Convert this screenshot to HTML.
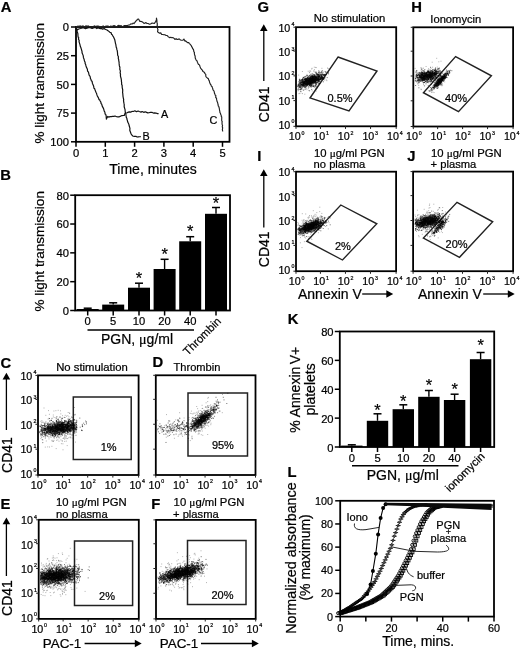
<!DOCTYPE html>
<html lang="en">
<head>
<meta charset="utf-8">
<title>Figure: PGN-induced platelet aggregation, activation and procoagulant activity</title>
<style>
html,body{margin:0;padding:0;background:#fff;}
body{width:520px;height:650px;overflow:hidden;}
svg{display:block;}
svg text{font-family:"Liberation Sans", sans-serif;fill:#000;stroke:#000;stroke-width:0.22px;}
</style>
</head>
<body>
<svg width="520" height="650" viewBox="0 0 520 650">
<defs><filter id="soft" x="0" y="0" width="100%" height="100%" filterUnits="userSpaceOnUse" color-interpolation-filters="sRGB"><feGaussianBlur stdDeviation="0.35"/></filter><filter id="dotblur" x="0" y="0" width="100%" height="100%" filterUnits="userSpaceOnUse" color-interpolation-filters="sRGB"><feGaussianBlur stdDeviation="0.45"/></filter></defs>
<rect width="520" height="650" fill="#fff"/>
<g filter="url(#soft)">
<text x="0.8" y="12" font-size="14.8" font-weight="bold">A</text>
<rect x="76" y="27" width="153.5" height="114.8" fill="none" stroke="#000" stroke-width="1.8"/>
<line x1="71" y1="27" x2="76" y2="27" stroke="#000" stroke-width="1.5"/>
<text x="69" y="31.3" font-size="11.2" text-anchor="end">0</text>
<line x1="71" y1="55.7" x2="76" y2="55.7" stroke="#000" stroke-width="1.5"/>
<text x="69" y="60" font-size="11.2" text-anchor="end">25</text>
<line x1="71" y1="84.4" x2="76" y2="84.4" stroke="#000" stroke-width="1.5"/>
<text x="69" y="88.7" font-size="11.2" text-anchor="end">50</text>
<line x1="71" y1="113.1" x2="76" y2="113.1" stroke="#000" stroke-width="1.5"/>
<text x="69" y="117.4" font-size="11.2" text-anchor="end">75</text>
<line x1="71" y1="141.8" x2="76" y2="141.8" stroke="#000" stroke-width="1.5"/>
<text x="69" y="146.1" font-size="11.2" text-anchor="end">100</text>
<line x1="76" y1="141.8" x2="76" y2="146.8" stroke="#000" stroke-width="1.5"/>
<text x="76" y="156.6" font-size="11.2" text-anchor="middle">0</text>
<line x1="105.3" y1="141.8" x2="105.3" y2="146.8" stroke="#000" stroke-width="1.5"/>
<text x="105.3" y="156.6" font-size="11.2" text-anchor="middle">1</text>
<line x1="134.6" y1="141.8" x2="134.6" y2="146.8" stroke="#000" stroke-width="1.5"/>
<text x="134.6" y="156.6" font-size="11.2" text-anchor="middle">2</text>
<line x1="163.9" y1="141.8" x2="163.9" y2="146.8" stroke="#000" stroke-width="1.5"/>
<text x="163.9" y="156.6" font-size="11.2" text-anchor="middle">3</text>
<line x1="193.2" y1="141.8" x2="193.2" y2="146.8" stroke="#000" stroke-width="1.5"/>
<text x="193.2" y="156.6" font-size="11.2" text-anchor="middle">4</text>
<line x1="222.5" y1="141.8" x2="222.5" y2="146.8" stroke="#000" stroke-width="1.5"/>
<text x="222.5" y="156.6" font-size="11.2" text-anchor="middle">5</text>
<text x="44" y="83.3" font-size="13.55" text-anchor="middle" transform="rotate(-90 44 83.3)">% light transmission</text>
<text x="153" y="173.7" font-size="14" text-anchor="middle">Time, minutes</text>
<path d="M75.82 27.42 L76.43 27.91 L76.6 29.34 L76.97 30.95 L77.01 31.23 L77.66 32.92 L77.87 33.65 L77.96 35.75 L78.1 37.26 L78.66 37.41 L78.49 39.26 L79.17 40.31 L79.06 41.61 L79.3 42.6 L79.83 44.15 L80.06 45.07 L80.39 46.57 L80.75 47.28 L81.34 49.15 L81.58 49.93 L82.08 51.97 L81.99 52.57 L82.61 54.25 L83.06 55.09 L83.36 56.56 L83.46 57.65 L84.08 59.14 L84.25 60.01 L84.38 60.77 L85.09 62.16 L85.14 63.5 L85.75 64.83 L85.94 65.73 L86.45 67.38 L86.9 68.16 L87.33 68.97 L87.56 71.02 L88.45 72.13 L88.62 72.87 L89.11 75.09 L89.69 75.8 L90.17 76.68 L90.47 78.74 L90.96 79.35 L91.27 80.66 L92.06 81.21 L92.44 83.38 L92.95 84.49 L93.37 85.42 L93.71 86.51 L93.93 88.24 L94.63 88.64 L95.09 90.12 L95.5 91.1 L96.08 92.58 L96.6 93.52 L96.8 94.39 L97.36 95.96 L98.17 97.36 L98.69 98.46 L98.98 99.58 L99.73 99.75 L99.97 100.75 L100.87 102.12 L101.11 103.65 L101.77 104.28 L102.22 106.13 L102.76 107.13 L103.56 108.65 L103.91 109.97 L104.21 111.06 L104.84 112.03 L105.13 114.08 L105.76 114.45 L106.25 116.38 L106.17 116.82 L106.43 119.06 L106.94 117.85 L107.69 116.45 L108.67 117.07 L110.14 116.62 L111.2 116.64 L112.62 116.42 L113.91 116.36 L115.04 116.01 L116.72 116.75 L117.66 116.78 L118.91 116.93 L120.62 116.17 L121.88 115.54 L123.68 115.45 L124.4 115.3 L125.03 113.11 L127.18 112.77 L128.35 112.11 L129.44 111.82 L130.61 112.11 L131.97 111.43 L133.31 111.5 L134.9 110.8 L136.42 111.65 L138.19 111.02 L139.26 111.47 L141.03 112.1 L142.12 111.5 L143.68 112.33 L145.21 111.81 L146.58 112.38 L147.79 112.9 L149.07 112.75 L150.4 112.24 L152.2 112.46 L153.44 113.08 L154.8 112.96 L155.88 113.03 L157.46 113.56 L158.6 113.6" fill="none" stroke="#111" stroke-width="1.2" stroke-linejoin="round"/>
<path d="M76.2 27.49 L76.3 27.94 L77.15 30.06 L78.67 28.99 L80.55 28.52 L82.29 27.87 L83.97 27.98 L85.43 28.63 L86.86 28.12 L87.98 27.8 L89.13 27.51 L90.65 27.82 L91.95 28.43 L93.21 28.08 L94.28 27.5 L95.52 27.64 L96.8 28.61 L98.08 27.72 L99.37 28.41 L100.5 28.55 L101.72 28.65 L102.74 29.1 L104.2 28.43 L105.45 29.5 L106.65 29.77 L108 30.67 L108.93 31.36 L109.8 32.22 L110.98 32.56 L111.53 34.2 L112.3 34.85 L112.78 35.81 L113.55 36.97 L114.21 38.41 L114.78 39.79 L115.2 41.76 L115.4 43.09 L115.87 44.7 L115.95 45.48 L116.28 47.48 L116.57 47.73 L116.89 49.65 L117.17 50.26 L117.33 51.31 L117.53 52.75 L117.58 54.61 L117.78 55.52 L118.36 56.52 L118.32 58.52 L118.67 59.64 L118.74 60.55 L119.06 62.19 L119.16 63.9 L119.27 65.05 L119.41 65.93 L119.9 67.22 L119.76 69.21 L119.99 69.78 L120.4 71.18 L120.12 72.67 L120.51 74.39 L120.43 75.22 L120.56 76.61 L121.05 78.2 L121.28 79.48 L121.43 80.69 L121.42 81.43 L121.67 82.8 L121.6 84.34 L122.12 85.39 L122.18 87.08 L122.33 88.21 L122.7 89.74 L122.69 91.2 L122.57 92.64 L122.77 93.37 L122.87 94.77 L123.04 96.58 L123.36 98.25 L123.69 99.54 L123.53 100.32 L123.69 101.87 L124 103.48 L124.19 104.27 L124.22 105.95 L124.18 106.79 L124.66 108.3 L125.1 109.86 L125.12 111.22 L125.48 112.69 L125.89 114.26 L126.08 115.76 L126.32 117.35 L126.94 118.45 L126.99 119.51 L127.34 120.31 L127.74 122.03 L128.11 122.75 L128.86 124.25 L129.21 126.06 L129.52 126.84 L129.95 128.39 L129.79 130.2 L130.22 131.44 L130.95 133.49 L131.54 134.6 L132.66 135.98 L134.22 136.35 L135.81 136.26 L137.14 137.03 L138.21 136.88 L139.46 136.73 L140.8 136.7" fill="none" stroke="#111" stroke-width="1.2" stroke-linejoin="round"/>
<path d="M75.84 27.07 L76.92 26.96 L78.08 25.95 L78.71 26.91 L79.86 25.8 L81.3 26.2 L82.2 26.24 L83.08 25.8 L84.08 26.91 L85.01 26.76 L86.1 25.79 L87.15 26.62 L87.88 25.82 L89.22 26.52 L90.13 27.17 L91.13 27.19 L91.94 26.97 L92.97 27.13 L94.23 25.84 L94.78 25.98 L96.28 26.26 L97.08 26.02 L98 26.11 L98.91 26.37 L100.05 26.81 L101.11 26.87 L102.21 27 L103.1 25.78 L104.22 27.02 L105.24 26.45 L106.13 25.95 L107.2 26.52 L107.87 25.79 L109.21 27.2 L109.75 26.95 L110.95 25.94 L111.88 26.82 L113.22 25.7 L114.07 25.66 L115.13 26.05 L116.23 26.98 L117 26.97 L117.89 25.55 L119.06 25.44 L119.82 25.96 L121.11 25.48 L121.81 26.45 L123.02 26.49 L124.41 25.52 L125.19 25.63 L126.34 25.64 L127.34 25.58 L128.8 25.01 L129.73 24.93 L130.84 23.9 L132.29 24 L133.03 23 L133.95 23.62 L134.71 22.67 L136.08 20.84 L136.71 20.52 L137.37 19.41 L138.02 19.06 L138.56 19.09 L139.91 21.49 L140.75 21.33 L142.06 21.73 L142.79 22.22 L143.65 23.14 L144.48 23.32 L145.96 22.64 L147.04 23.55 L148.09 23.48 L149.58 24.21 L150.51 24 L152.12 23 L152.99 23.3 L154.4 23.41 L155.71 21.5 L155.77 21.13 L156.46 19.73 L156.44 18.13 L156.74 19.38 L157.02 21.49 L156.77 21.79 L157.26 23.47 L157.38 24.17 L157.08 25.22 L157.58 26.32 L157.41 27.68 L157.55 28.8 L157.95 29.55 L157.5 31.86 L158.88 32.63 L159.46 33.28 L160.76 32.88 L161.65 34.51 L162.76 34.5 L163.71 34.69 L164.84 34.75 L166.1 35.48 L167.29 35.52 L168.39 36.89 L169.45 37.59 L170.84 37.32 L171.71 37.77 L172.8 37.57 L174.1 38.37 L174.95 39.46 L176.07 38.63 L176.85 39.48 L177.99 39.42 L179.14 38.81 L180.49 40.01 L181.5 40.24 L182.95 40.26 L183.89 39.06 L184.88 41.08 L185.63 40.92 L186.86 42.04 L187.81 42.68 L188.89 42.69 L189.31 43.6 L190.21 44.23 L191.58 46.13 L191.55 46.56 L192.19 47.24 L192.71 48.7 L193.35 49.23 L193.61 50.14 L193.84 51.68 L194.46 52.62 L194.35 53.52 L194.67 55.16 L195.07 55.82 L195.23 57.18 L195.16 57.81 L195.76 59.3 L196.27 60.29 L196.86 60.62 L197.46 62.29 L197.74 62.89 L198.51 64.51 L199.38 64.7 L199.91 66.26 L200.09 66.72 L200.56 68.18 L201.44 69.24 L202.08 69.85 L202.66 70.58 L202.9 71.49 L203.46 71.71 L204.54 72.44 L204.76 73.4 L205.77 74.38 L205.79 76.23 L206.39 77.1 L207.26 77.94 L207.97 78.42 L208.34 78.54 L208.78 80.2 L209.21 80.53 L209.69 82.71 L209.74 82.74 L210.54 84.47 L210.85 84.48 L211.35 86.11 L212.15 86.76 L212.42 87.74 L212.79 88.8 L213 89.95 L213.91 90.84 L214.15 91.49 L214.51 93.38 L214.9 94.03 L215.19 95.21 L215.84 95.47 L215.7 97.47 L216.53 98.23 L216.59 99.63 L216.77 100.05 L217.12 101.63 L217.49 102.17 L218.01 104.32 L218.08 105.02 L218.45 106.32 L218.85 106.51 L218.93 107.21 L219.39 108.82 L219.47 109.79 L219.82 111.41 L219.97 112.74 L220.44 113.15 L220.69 114.5 L221.17 115.09 L221.23 116.33 L221.71 116.85 L221.75 118.69 L221.71 118.59 L221.68 120.33 L222.06 121.69 L222.28 121.61 L222 122.64 L222.11 124.31 L222.57 125.67 L222.27 126.69 L222.36 127.1 L222.67 127.66 L222.34 129.86 L222.52 130.21 L222.7 131.5" fill="none" stroke="#222" stroke-width="1.15" stroke-linejoin="round"/>
<text x="161" y="118.4" font-size="10.8">A</text>
<text x="142.6" y="139.8" font-size="10.8">B</text>
<text x="209.4" y="123.8" font-size="10.8">C</text>
<text x="0.2" y="179.7" font-size="14.8" font-weight="bold">B</text>
<rect x="75.2" y="195.2" width="154.8" height="115.3" fill="none" stroke="#000" stroke-width="1.8"/>
<line x1="70.2" y1="195.2" x2="75.2" y2="195.2" stroke="#000" stroke-width="1.5"/>
<text x="69" y="199.6" font-size="11.2" text-anchor="end">80</text>
<line x1="70.2" y1="224.02" x2="75.2" y2="224.02" stroke="#000" stroke-width="1.5"/>
<text x="69" y="228.42" font-size="11.2" text-anchor="end">60</text>
<line x1="70.2" y1="252.85" x2="75.2" y2="252.85" stroke="#000" stroke-width="1.5"/>
<text x="69" y="257.25" font-size="11.2" text-anchor="end">40</text>
<line x1="70.2" y1="281.68" x2="75.2" y2="281.68" stroke="#000" stroke-width="1.5"/>
<text x="69" y="286.07" font-size="11.2" text-anchor="end">20</text>
<line x1="70.2" y1="310.5" x2="75.2" y2="310.5" stroke="#000" stroke-width="1.5"/>
<text x="69" y="314.9" font-size="11.2" text-anchor="end">0</text>
<rect x="76.7" y="309" width="22" height="1.5" fill="#000"/>
<line x1="87.7" y1="310.5" x2="87.7" y2="315.5" stroke="#000" stroke-width="1.5"/>
<line x1="87.7" y1="308.2" x2="87.7" y2="309" stroke="#000" stroke-width="1.4"/>
<line x1="83.7" y1="308.2" x2="91.7" y2="308.2" stroke="#000" stroke-width="1.5"/>
<rect x="102.2" y="304.6" width="22" height="5.9" fill="#000"/>
<line x1="113.2" y1="310.5" x2="113.2" y2="315.5" stroke="#000" stroke-width="1.5"/>
<line x1="113.2" y1="302.8" x2="113.2" y2="304.6" stroke="#000" stroke-width="1.4"/>
<line x1="109.2" y1="302.8" x2="117.2" y2="302.8" stroke="#000" stroke-width="1.5"/>
<rect x="128" y="287.7" width="22" height="22.8" fill="#000"/>
<line x1="139" y1="310.5" x2="139" y2="315.5" stroke="#000" stroke-width="1.5"/>
<line x1="139" y1="283.2" x2="139" y2="287.7" stroke="#000" stroke-width="1.4"/>
<line x1="135" y1="283.2" x2="143" y2="283.2" stroke="#000" stroke-width="1.5"/>
<text x="139" y="284.4" font-size="16.5" text-anchor="middle" stroke-width="0.5">*</text>
<rect x="153.6" y="269" width="22" height="41.5" fill="#000"/>
<line x1="164.6" y1="310.5" x2="164.6" y2="315.5" stroke="#000" stroke-width="1.5"/>
<line x1="164.6" y1="259.3" x2="164.6" y2="269" stroke="#000" stroke-width="1.4"/>
<line x1="160.6" y1="259.3" x2="168.6" y2="259.3" stroke="#000" stroke-width="1.5"/>
<text x="164.6" y="259.5" font-size="16.5" text-anchor="middle" stroke-width="0.5">*</text>
<rect x="179.2" y="241.3" width="22" height="69.2" fill="#000"/>
<line x1="190.2" y1="310.5" x2="190.2" y2="315.5" stroke="#000" stroke-width="1.5"/>
<line x1="190.2" y1="236.7" x2="190.2" y2="241.3" stroke="#000" stroke-width="1.4"/>
<line x1="186.2" y1="236.7" x2="194.2" y2="236.7" stroke="#000" stroke-width="1.5"/>
<text x="190.2" y="236.8" font-size="16.5" text-anchor="middle" stroke-width="0.5">*</text>
<rect x="205" y="213.8" width="22" height="96.7" fill="#000"/>
<line x1="216" y1="310.5" x2="216" y2="315.5" stroke="#000" stroke-width="1.5"/>
<line x1="216" y1="207.5" x2="216" y2="213.8" stroke="#000" stroke-width="1.4"/>
<line x1="212" y1="207.5" x2="220" y2="207.5" stroke="#000" stroke-width="1.5"/>
<text x="216" y="209.1" font-size="16.5" text-anchor="middle" stroke-width="0.5">*</text>
<text x="87.7" y="325.1" font-size="11.2" text-anchor="middle">0</text>
<text x="113.2" y="325.1" font-size="11.2" text-anchor="middle">5</text>
<text x="139" y="325.1" font-size="11.2" text-anchor="middle">10</text>
<text x="164.6" y="325.1" font-size="11.2" text-anchor="middle">20</text>
<text x="190.2" y="325.1" font-size="11.2" text-anchor="middle">40</text>
<line x1="87.5" y1="330" x2="194" y2="330" stroke="#000" stroke-width="1.5"/>
<text x="137" y="343.6" font-size="14" text-anchor="middle">PGN, <tspan font-family="'Liberation Serif', 'DejaVu Serif', serif">μ</tspan>g/ml</text>
<text x="187.8" y="356" font-size="11.4" transform="rotate(-45 187.8 356)">Thrombin</text>
<text x="44" y="251.3" font-size="13.55" text-anchor="middle" transform="rotate(-90 44 251.3)">% light transmission</text>
<rect x="38" y="375.4" width="100.6" height="99.6" fill="none" stroke="#000" stroke-width="1.8"/>
<text x="20.4" y="380" font-size="10.7">10</text><text x="33.4" y="374.4" font-size="5.3">4</text>
<line x1="35.4" y1="375.4" x2="38" y2="375.4" stroke="#222" stroke-width="1"/>
<text x="20.4" y="404.43" font-size="10.7">10</text><text x="33.4" y="398.82" font-size="5.3">3</text>
<line x1="35.4" y1="399.4" x2="38" y2="399.4" stroke="#222" stroke-width="1"/>
<text x="20.4" y="428.85" font-size="10.7">10</text><text x="33.4" y="423.25" font-size="5.3">2</text>
<line x1="35.4" y1="424.3" x2="38" y2="424.3" stroke="#222" stroke-width="1"/>
<text x="20.4" y="453.27" font-size="10.7">10</text><text x="33.4" y="447.67" font-size="5.3">1</text>
<line x1="35.4" y1="449.2" x2="38" y2="449.2" stroke="#222" stroke-width="1"/>
<text x="20.4" y="477.7" font-size="10.7">10</text><text x="33.4" y="472.1" font-size="5.3">0</text>
<line x1="35.4" y1="475" x2="38" y2="475" stroke="#222" stroke-width="1"/>
<text x="30.7" y="488.9" font-size="10.7">10</text><text x="43.4" y="483.3" font-size="5.3">0</text>
<line x1="38" y1="475" x2="38" y2="477.6" stroke="#222" stroke-width="1"/>
<text x="55.38" y="488.9" font-size="10.7">10</text><text x="68.08" y="483.3" font-size="5.3">1</text>
<line x1="62.55" y1="475" x2="62.55" y2="477.6" stroke="#222" stroke-width="1"/>
<text x="80.05" y="488.9" font-size="10.7">10</text><text x="92.75" y="483.3" font-size="5.3">2</text>
<line x1="87.7" y1="475" x2="87.7" y2="477.6" stroke="#222" stroke-width="1"/>
<text x="104.72" y="488.9" font-size="10.7">10</text><text x="117.42" y="483.3" font-size="5.3">3</text>
<line x1="112.85" y1="475" x2="112.85" y2="477.6" stroke="#222" stroke-width="1"/>
<text x="129.4" y="488.9" font-size="10.7">10</text><text x="142.1" y="483.3" font-size="5.3">4</text>
<line x1="138.6" y1="475" x2="138.6" y2="477.6" stroke="#222" stroke-width="1"/>
<text x="0.6" y="367.5" font-size="14.8" font-weight="bold">C</text>
<text x="92" y="371" font-size="11.3" text-anchor="middle">No stimulation</text>
<rect x="73.3" y="397" width="57.9" height="62.5" fill="none" stroke="#222" stroke-width="1.5"/>
<text x="108.7" y="451" font-size="11" text-anchor="middle">1%</text>
<path d="M46.2 429.6h1M66.6 428.6h1M55.1 427.3h1M41.6 432.8h1M52 426.1h1M51.7 429.8h1M56.6 430.6h1M74.9 428.2h1M65.1 424.5h1M59.7 427.9h1M56.4 429.2h1M60.9 425.2h1M65 428.9h1M67.3 429.2h1M52.6 435.4h1M58.4 429.4h1M51.9 431.7h1M46.5 430.3h1M61.9 429.4h1M62.6 425.3h1M55.4 429.3h1M58.7 434.3h1M57.8 430.2h1M66 428.1h1M67.8 423.2h1M65.4 426.1h1M65.9 429.4h1M74 425.4h1M54.8 427.7h1M61.5 427.6h1M43.4 430.8h1M63.5 427.4h1M57.7 421.2h1M54.4 423.1h1M50.4 433.3h1M66.7 424.5h1M68 423.6h1M49.7 432.3h1M72 428.5h1M71.3 422.7h1M58.3 423.8h1M61.7 426.5h1M72.8 427h1M61.4 432.8h1M42.6 425.5h1M67.9 427h1M61.3 429.7h1M53.7 425.8h1M52.6 433.3h1M66.7 424.8h1M57.3 429.9h1M69.6 421.1h1M67.2 426.1h1M51.9 434.9h1M55.7 428.9h1M51.7 427.9h1M64.9 427.5h1M61.5 428.5h1M46.2 431.4h1M68.4 419h1M63.1 431.1h1M62.9 429.9h1M55.6 424.8h1M59.9 424.6h1M63.1 426.7h1M58.6 426.4h1M44 425h1M40.8 427.8h1M70 425.3h1M64 432.4h1M49.5 425.3h1M42.3 429.1h1M76.1 422.2h1M68.9 428.5h1M60.8 424h1M63.7 430h1M63.1 428.9h1M56.3 422.2h1M70.5 425.2h1M65.6 428.4h1M55.5 433.7h1M40.4 429.8h1M55.8 431.5h1M65 425.9h1M71.4 425.5h1M63.3 431.4h1M57.6 427.8h1M49.4 429.1h1M48.8 428h1M70.9 428.1h1M54.4 429h1M68.1 420.3h1M56.8 430.3h1M64.2 426.6h1M66 427.4h1M56.1 425.8h1M56.1 427.4h1M68.1 429.6h1M63.5 431.3h1M52.2 431.4h1M63.1 429.4h1M51.6 426h1M44.4 425.9h1M58.4 422.1h1M56 431.1h1M66.6 438.6h1M64.4 429.1h1M59.2 429.5h1M43.9 432.9h1M64.4 427h1M60.1 424h1M60.9 429h1M54.4 427.9h1M63.5 426.8h1M54.3 432h1M47.2 431.6h1M61.5 429.6h1M53.9 422.5h1M48.3 432.1h1M73.5 423.2h1M63.5 424.3h1M70.7 422.9h1M60.5 424.5h1M67.8 428.1h1M68.9 426.9h1M54.3 427h1M54.9 426.1h1M48.3 427.8h1M73.8 426h1M61.6 418.5h1M56.9 429h1M70 424.2h1M72.2 425.3h1M47.7 425.1h1M65.2 430.6h1M46.2 429.1h1M56.2 433.1h1M56.2 433.6h1M67 427.2h1M72.8 422.8h1M66.9 426.6h1M74.3 423.9h1M70 429.6h1M60.4 428.9h1M67.2 429.4h1M52 429.8h1M44.3 432.9h1M59.9 429.6h1M62.5 423.1h1M57.5 433.3h1M47.6 427.1h1M62.3 429.9h1M56.2 427.4h1M63.3 428.1h1M46.1 428.4h1M52.7 429.3h1M58.9 421.8h1M60.3 425.6h1M58.6 434.1h1M42.4 422.2h1M43.7 428.6h1M50.9 430.6h1M54.3 434.2h1M58.4 430h1M58.1 425.1h1M62.3 425h1M40.6 435.2h1M59.6 431.1h1M52.9 431.4h1M63.9 431.4h1M41.1 429h1M67 431.9h1M59.1 428.7h1M47 428.6h1M49 424.6h1M71.7 428.7h1M62.6 433.1h1M60.4 424.6h1M74.1 425h1M44 428.9h1M68.3 425h1M49.7 423.8h1M70 420.5h1M51.8 426h1M62.9 424.3h1M69.5 430.9h1M55.2 430h1M67.5 427.9h1M61.8 427.2h1M56.8 424h1M62.7 430h1M64.2 423.9h1M76.3 420.9h1M60.1 429h1M62.6 424.5h1M51.5 428.9h1M55.5 426.5h1M56.4 424.1h1M67.7 423.9h1M67.4 426.8h1M69.5 431.2h1M66.4 428.3h1M68.9 428.9h1M72.3 425h1M53.7 434.3h1M63.3 426.8h1M62.7 431.5h1M69.9 431.8h1M58 429.4h1M44 431.2h1M57.7 426.8h1M58.6 427.7h1M57.7 425.9h1M58.1 428.3h1M61.6 425.6h1M57.1 431.4h1M56.8 431.2h1M55.7 426.3h1M44.7 428h1M61.5 426.4h1M63.8 430.4h1M55.9 427.7h1M62.3 429h1M45.1 429.7h1M63.8 424.5h1M58 428.5h1M50.7 420.3h1M52.2 425.2h1M67.1 428.9h1M64 421.4h1M68.8 431.4h1M50.6 428.3h1M69.4 430.7h1M43.7 429.7h1M67.3 434.4h1M60.8 429.1h1M45.8 427.6h1M68 425.5h1M52.2 428.1h1M72.9 430.4h1M65.4 425.7h1M62.6 425.7h1M61.8 428.1h1M54.2 433.3h1M49.6 432.4h1M66.1 427.3h1M65.7 429.7h1M65.1 430.8h1M51.3 427.9h1M74 427.1h1M47.6 432.1h1M60.3 422.4h1M50.5 431.2h1M69.6 424.3h1M39.8 433.7h1M74.6 427.7h1M58 423.8h1M55 432.8h1M56.9 429h1M52.2 428.6h1M53.7 430.3h1M66.5 424.5h1M62.4 433h1M63.2 426.6h1M68.3 429.6h1M67 427h1M57.9 429.3h1M63.5 424.4h1M56.9 427.9h1M61.8 430.3h1M64.8 425.9h1M52.6 431.9h1M64 427.9h1M51.2 435.7h1M58.3 426.4h1M69.5 425.2h1M61.6 429.7h1M50.5 424.3h1M48.6 423.7h1M60.6 430.6h1M55.5 426.3h1M47.4 429h1M60.9 426.5h1M59.8 425.5h1M53.4 428.2h1M62.1 427.6h1M59.5 424.7h1M53.2 428.9h1M53.7 426.3h1M62 423.8h1M68.1 422.7h1M65.4 426.6h1M66.5 430.9h1M43.5 432.3h1M61.4 425.4h1M61.9 431.9h1M72.6 427.1h1M41.3 427.6h1M49.6 430.8h1M60.7 426.6h1M48.1 427.9h1M59.9 429.8h1M67.9 427.6h1M51.8 428.7h1M75.2 429h1M68.1 421.7h1M61.6 418.1h1M61.8 428.1h1M60.9 422.5h1M59.2 432.2h1M44.8 438h1M69.3 427.4h1M68.1 427.9h1M68.3 423.4h1M49.8 430.1h1M46.7 433.7h1M63 429.4h1M74.6 425.7h1M62.3 430.7h1M65.8 427.4h1M41.8 435.1h1M58.4 431.3h1M55.9 421.4h1M56.2 428.3h1M59.7 428.9h1M48.4 431.5h1M56.7 426.8h1M44.3 434.5h1M57.1 431.3h1M42.8 427.9h1M55.1 433.3h1M62.7 432.5h1M56.6 427.3h1M56.8 429.1h1M54 432.2h1M65 430h1M66.9 431.2h1M67.1 428.6h1M67.2 430.5h1M44.8 428.4h1M49.8 427.4h1M59.5 428.7h1M69.5 423.9h1M56.3 426.6h1M40.9 425.2h1M49.8 426.1h1M52.6 430.3h1M66.6 424.8h1M64.7 427.7h1M56.1 431.4h1M63.3 429.2h1M56.4 426.3h1M45 430.2h1M50.4 426.3h1M68.3 426.2h1M66.1 425.2h1M54.4 424h1M62.2 425.9h1M46.6 430h1M55.8 433.9h1M60.1 430.4h1M64.8 430.8h1M61.1 424h1M47.1 433h1M57.6 425.4h1M60.6 421.5h1M50 427.9h1M46 425.5h1M66.4 429.3h1M60.3 430h1M69.7 430.3h1M52.7 426.5h1M62.7 427.5h1M61.7 428.4h1M55.8 418.1h1M49.9 429.7h1M65.5 421.2h1M48.7 432.4h1M69.4 426.2h1M42.3 428.7h1M59.4 431.8h1M68.2 430.4h1M61.1 431.5h1M59.3 429.1h1M65.4 433.5h1M43.9 433.2h1M71.3 427.8h1M53.7 427h1M67.6 422.3h1M55.1 432.3h1M58.6 424.8h1M67.5 421.9h1M57.4 425.9h1M72.5 426.8h1M52.2 431.1h1M63 424.6h1M54.6 430.8h1M57.6 429.6h1M59.1 425.8h1M45 428.6h1M58.3 428.4h1M52.3 430.7h1M66 426.4h1M52.3 434h1M61.4 431h1M63 429.9h1M67.8 425.9h1M62.7 432h1M68.2 423.1h1M55 428h1M55.4 425.2h1M50.9 430.8h1M49 426.9h1M73.3 427h1M48.3 427.1h1M66 430.1h1M58.8 425.2h1M69.6 426.4h1M61.4 434h1M63.4 424.1h1M63.9 425.8h1M57.1 427.3h1M62.2 423.9h1M65.6 421h1M65 429.8h1M62 426.2h1M62.7 426.8h1M63.3 431.9h1M58.6 426h1M57.9 428.5h1M53.9 433.1h1M47.2 426.7h1M62.9 428.7h1M52.3 427h1M54 431h1M68.1 430.5h1M63.9 424.3h1M57.4 426h1M55.1 435.2h1M68.7 422.8h1M68.6 425.4h1M50.7 427.1h1M67.5 426.1h1M56 426.3h1M73.8 431.2h1M51.5 430.6h1M67.4 423.3h1M55 426h1M61.6 427.5h1M50.2 429.9h1M53.5 433.3h1M44.6 433.9h1M49 418.5h1M65.5 436.9h1M59.3 426.7h1M59.1 434.1h1M60.3 426.2h1M61.3 427.3h1M47.5 428.8h1M68.7 429.7h1M60.8 425.4h1M66.1 427.8h1M49.1 428.1h1M74.9 429.8h1M44.3 425.9h1M58.2 428.4h1M66.3 430.4h1M47.4 424.7h1M45 430.4h1M71.7 424.9h1M67.7 425h1M59 425.5h1M49.2 431.1h1M49.6 430.9h1M49.8 428.4h1M67.3 428.8h1M52.3 429.2h1M58.2 428.2h1M60.7 427.8h1M68.8 425.9h1M53.7 430.9h1M52.1 427.5h1M42.8 429.8h1M62.5 424.3h1M52.8 430.5h1M55.4 431.1h1M62.9 422.9h1M58.6 428h1M46.4 432.3h1M62.9 426.9h1M44 432.2h1M49.4 430.6h1M54.8 428.2h1M65.6 426.1h1M40.9 429.2h1M70 424.9h1M46.3 433.6h1M62.2 430.5h1M49.5 432.2h1M51.2 432.6h1M68.4 426.4h1M60.3 430.4h1M52.6 427.8h1M46.9 431.6h1M52.3 429.2h1M66.3 428.7h1M74.6 427h1M51 428.3h1M73.8 429.3h1M71.8 430.1h1M43.4 436.4h1M54.5 435h1M58.8 430.6h1M59.4 429.8h1M58.3 430.8h1M43.8 428.7h1M47.5 423.4h1M59.3 429.1h1M48.1 434h1M50.3 430.2h1M70.6 425.1h1M55.3 430.5h1M52.1 435.3h1M70.3 421.9h1M70.3 428.4h1M64.6 432.2h1M55.5 428.7h1M65.1 429.3h1M52.5 421.5h1M61.4 427.5h1M46.7 427.1h1M41.9 425.5h1M62 427.8h1M54.9 424.9h1M60.3 421.9h1M64.6 424.4h1M58.5 428.6h1M58.5 432.5h1M51.8 433.3h1M61.5 434.5h1M61.4 424.8h1M55.1 426.5h1M58.9 434.8h1M57.3 423.4h1M55.6 428.2h1M59.7 430.3h1M69.1 426.5h1M71.1 430.8h1M50.2 434.3h1M56.4 432.7h1M41.2 431.5h1M46.9 436.2h1M55.9 420.5h1M56 429.7h1M63.1 427h1M61.6 429.2h1M47 428.7h1M61 420.3h1M64.3 429.8h1M54.6 434.3h1M46.3 431h1M53.1 429.4h1M61.7 427.6h1M56.9 429h1M45 430.1h1M60.2 428.4h1M67 427.6h1M51.8 431.8h1M55.7 431.4h1M50.4 427.6h1M50.8 430h1M61.9 435.3h1M63.9 426.1h1M67.7 426.6h1M72.8 432.8h1M72 429.1h1M48.6 428.1h1M49.8 429.1h1M52 426.3h1M67.5 426.4h1M75 428.8h1M68 421.6h1M69.2 424.4h1M51.3 429.5h1M50.3 429.2h1M64.1 422.4h1M61.5 425.8h1M57 430.7h1M71.4 426.9h1M63.1 423.1h1M72.6 424.2h1M65.5 425.1h1M55.8 427.3h1M64 420.8h1M72.9 424.5h1M52.5 431h1M49.7 424.7h1M50.8 428.9h1M65 431.6h1M67.9 425.8h1M66.5 425.6h1M40.7 424.9h1M55.5 430.9h1M56.8 428.4h1M48.5 428.7h1M59.5 430.2h1M60 430.9h1M73.1 424.6h1M53.4 430.2h1M64.4 426.9h1M52.8 423.8h1M44.6 424h1M59.4 432.1h1M53.1 428.5h1M64.8 427.9h1M57.2 433.5h1M52.3 434.1h1M56.5 424.9h1M68.4 429.1h1M62.1 426.9h1M66.8 429.5h1M59.1 424.7h1M53.7 424.7h1M52.1 427.5h1M65.7 429.1h1M67.4 424h1M42.7 434.4h1M63.5 422.4h1M52.4 431.6h1M53.9 433h1M53.8 434.2h1M39.2 432h1M44.3 435.1h1M61.8 424.4h1M59 425.3h1M73.4 424.6h1M46.1 431.8h1M61.1 423.7h1M50.9 433.6h1M54.2 427.2h1M66.1 427h1M71.8 427.9h1M64.7 424.5h1M55.5 423.1h1M52.8 427.7h1M47.9 428.1h1M70.9 430.8h1M55.9 420.5h1M48.3 427.9h1M66.5 431h1M55.2 426.3h1M54.6 429.6h1M47.6 430.7h1M59.7 426.7h1M54 424h1M53.7 430.6h1M57.3 428.1h1M56.4 426.9h1M75.7 420.2h1M61.7 429.2h1M44.1 430.5h1M64.6 425.7h1M55.3 431.9h1M47.1 427.8h1M60.7 430.1h1M74.6 432.8h1M49.6 430.7h1M72.5 423.7h1M54.8 430.5h1M74.3 427.4h1M62 428.2h1M73 425.7h1M63.8 428h1M51.8 424.7h1M51.4 429.7h1M53.7 431.3h1M57.5 430.8h1M74.2 430.1h1M50.9 429h1M59.9 423.3h1M55.3 424.9h1M50.4 431.8h1M47.4 429h1M65.1 425.8h1M53.5 427h1M53.6 423.7h1M49.4 431.9h1M66.2 428.2h1M47.9 428.5h1M67.3 423.9h1M69.4 429.3h1M43.9 432.4h1M54.1 427.7h1M71.6 423.4h1M47 427.6h1M71.8 425.2h1M56.8 422.9h1M58.4 434.3h1M71.9 427.4h1M62.9 425.3h1M64.1 430.9h1M60 430.6h1M57.8 427.2h1M51 420.4h1M52.7 426.6h1M56 428.5h1M50.3 432h1M56.8 430h1M64.9 426.2h1M42.5 430.4h1M60 430.1h1M47.4 426h1M58.9 427h1M63.1 429.1h1M62.1 428.2h1M41.6 426.1h1M62.5 429.3h1M55.5 429.9h1M49.6 429.2h1M72.9 427.3h1M51 427.5h1M64.4 426.7h1M57 425.3h1M61.9 427.1h1M55.1 433.9h1M52.4 421.9h1M65.8 424.8h1M45.3 423h1M57.9 431.1h1M63.4 430.8h1M67.3 426.7h1M57.3 426.3h1M63.5 431.4h1M60 427.9h1M57.1 427.4h1M60.8 431.6h1M74 419.9h1M55.3 431.6h1M58.9 424.4h1M69.6 431.3h1M63.5 431.8h1M62.9 427.3h1M54.4 424.9h1M56.1 429.6h1M66.6 427.4h1M68.9 429.9h1M56.7 429.8h1M56.7 421.6h1M42.2 427.2h1M67.6 426.4h1M52 426.3h1M47.6 429.4h1M48.1 430.7h1M41.8 435.1h1M50.3 431.5h1M62.6 427.6h1M72.7 428.5h1M60.4 424.3h1M45.4 435.1h1M63.1 428.8h1M59.5 426.8h1M61.9 431.2h1M70.3 431h1M73.8 422.6h1M52.5 436h1M72.7 424.7h1M56 421.5h1M71 427.4h1M59.6 432.2h1M67.6 431.6h1M54.1 431.7h1M57.9 424.6h1M45.1 430.1h1M55.3 430.1h1M55.4 427.5h1M48.2 427h1M43.6 426h1M47.5 432.3h1M51.4 430.8h1M53.9 431.2h1M64.1 422.6h1M48.7 432.6h1M57.7 429.7h1M67 425.6h1M63.6 428.7h1M62.8 426.7h1M59.9 425.6h1M52.7 431.9h1M59.2 427.2h1M62.4 424.8h1M58.1 427.8h1M52.4 427.3h1M45.1 435.8h1M54.9 427.9h1M70.3 428.8h1M75.7 424.2h1M42.4 431.4h1M66.2 430.5h1M43.8 429.7h1M43.5 427.8h1M64.2 428.4h1M49.1 430.8h1M56.3 434.1h1M69.7 421.7h1M66.6 428.1h1M47 427.1h1M52.8 428.6h1M58.8 433h1M58.8 428h1M64.5 424.5h1M60.8 429.4h1M54.3 429h1M60.3 432.7h1M61.2 424.3h1M50.1 430h1M53.3 424.1h1M54.4 428h1M60.8 427.1h1M53.6 430.9h1M61.6 429.1h1M60.6 426.5h1M55.9 431.9h1M42 431.5h1M67.8 419.9h1M65.6 429.1h1M67.5 422.7h1M67.3 427.8h1M61.1 426.6h1M58.4 425.2h1M62.5 428h1M49.8 428.4h1M59 428.7h1M53.5 432.1h1M59.1 429.1h1M58 429.8h1M52.6 431.7h1M64.1 427.6h1M48.6 428.2h1M59.6 424.1h1M70.4 420.5h1M54.4 425.5h1M48.8 427.6h1M61.6 426.9h1M49.4 426.4h1M70.3 427.6h1M65.2 426.6h1M69.8 430.9h1M58.7 425.3h1M66.6 427.1h1M72.1 422.3h1M73.2 428.6h1M70.7 427.2h1M76 429.9h1M67.2 429.4h1M57.2 426.9h1M49.9 431.3h1M40 426.3h1M75.2 422.4h1M59.9 431.6h1M52.2 427.1h1M58.7 428.7h1M66.6 427.6h1M64.4 420.5h1M57.1 424.7h1M60.8 423.9h1M44.9 429.3h1M55.9 427.1h1M61.2 430.1h1M70.3 421.5h1M74 428.4h1M61.1 426.9h1M70.4 426.3h1M51.7 424.7h1M57.1 427.4h1M56.5 422.6h1M62.5 431h1M54.9 428.2h1M61.3 431.1h1M72.3 423.6h1M52.4 427h1M72.8 428.2h1M45.2 426.3h1M71.1 417.1h1M73.2 426.5h1M68.5 423.3h1M72.9 425.7h1M63.8 417.4h1M67.5 424.9h1M53.2 430.5h1M66.5 428.6h1M69.1 429.8h1M62.4 424.7h1M63.6 431.2h1M67.9 427.1h1M56.5 432.1h1M58.3 432.2h1M61.4 422.6h1M70.5 422.4h1M56.2 437.7h1M73 428.2h1M61.2 430.5h1M53.2 433.3h1M59.1 434.2h1M59 428h1M48.6 429.6h1M72.9 423.9h1M61.3 423.5h1M51.6 428.7h1M66.6 425h1M55.1 430.2h1M56.5 427.8h1M67.6 426.1h1M60.5 429.7h1M67.8 426h1M54.9 428.3h1M67.5 422.3h1M74 433.1h1M70.6 424.5h1M57 429.4h1M62.6 430.9h1M57 427.1h1M69.6 427.8h1M58 434.3h1M45.6 433.6h1M74.1 424.3h1M63.1 431.1h1M55.4 428.1h1M56.7 428.9h1M70.3 429.6h1M65.4 421.3h1M63.7 423.9h1M69.1 421.3h1M61.5 430.7h1M56.9 431.8h1M76 424.6h1M66.6 425.8h1M73.3 428h1M53.9 428.7h1M69.7 428h1M66.2 424.2h1M76.1 427.6h1M54.8 429.7h1M64.2 428h1M44 425.9h1M63.8 429.6h1M47.1 427.3h1M65.9 427.8h1M72.9 419.6h1M59.3 429h1M40.1 434.8h1M42.9 425.5h1M56.9 432.8h1M60 425.4h1M50.3 423h1M72.2 425h1M54.3 426.5h1M73.5 429.4h1M73 425.6h1M50 426.3h1M50.1 432.3h1M47 424.6h1M59.9 428.7h1M41.8 433.1h1M45.9 429.4h1M53.9 425h1M60 429.6h1M48.7 427.7h1M67.2 432.2h1M66.3 431.2h1M51.4 426.5h1M56.3 432h1M63 432.7h1M73.2 425.4h1M60.4 425.2h1M44.7 432.3h1M69.3 434.1h1M56.3 429.4h1M61.7 424.2h1M48.2 426.7h1M53.1 425.2h1M70.7 425.7h1M65.3 430.7h1M76.3 429.1h1M52.3 426.2h1M68.9 429.4h1M42.7 428.4h1M48.4 436.9h1M57.8 432.4h1M73.3 427.4h1M58.1 430.1h1M49.8 430.7h1M57.7 432.8h1M64.6 421.6h1M71.9 425.7h1M59 433.3h1M56.4 426.1h1M57.7 434.9h1M48.8 432h1M47.3 428.5h1M59.3 426.6h1M62.8 427.6h1M59.1 428.9h1M47.8 424.4h1M72.1 423.6h1M51.6 431.8h1M55.8 427.8h1M64 431h1M61.7 432.7h1M59.7 417.1h1M70.5 426.4h1M61.4 429h1M61.6 428.2h1M60.7 424.3h1M47.8 431h1M68.7 421.8h1M60.4 426.4h1M54.4 436.4h1M69.1 419.4h1M60.9 424h1M69.9 429.9h1M56.2 425.8h1M53.3 431.4h1M71 426.6h1M69.3 430.9h1M53.3 430.3h1M45.7 432h1M62.2 423.5h1M70.3 425.3h1M67.3 430.8h1M75.7 426.2h1M75.9 427.3h1M60.7 431.7h1M49.8 426.9h1M50.4 427.2h1M46.2 428h1M66.2 423.7h1M54.8 424.8h1M71.3 429.3h1M49.9 426.6h1M52.8 430h1M52.7 422.5h1M55.3 431.9h1M48.2 425.5h1M65.3 422.2h1M49.2 430.6h1M52.2 434.7h1M48.2 428.2h1M67.6 427h1M64.7 426.7h1M68 421.2h1M41.1 430.7h1M56.7 426.8h1M71.8 427.8h1M57.1 425h1M57.3 424.1h1M63.1 430h1M39.3 426h1M64.2 432.7h1M67.2 423.6h1M48.5 430.2h1M54.5 427.8h1M61.2 428.3h1M58.7 424.8h1M48.1 426.5h1M66.9 425.1h1M60.4 436h1M66.6 431.8h1M55.7 430h1M74.3 429.2h1M57 425h1M70.9 422.9h1M56.3 427.8h1M52.9 433h1M40.4 431.3h1M68.4 430.7h1M51.8 426.8h1M51.9 429.9h1M68.4 425.9h1M45 429h1M67.3 428.3h1M44.2 430.3h1M62.2 428.2h1M61.2 428.3h1M59.8 426h1M47.3 429.5h1M61.7 426.3h1M53.9 428.3h1M43.9 428.7h1M53.4 429.1h1M45.4 431.7h1M51.4 429.5h1M51.3 428.8h1M63 427.5h1M71.1 424.9h1M68 429h1M47.3 432.3h1M55.7 426.7h1M48.5 431.3h1M57.8 422.6h1M51.9 431.2h1M70.6 427h1M44.3 428.3h1M44.2 429.9h1M47.6 429.9h1M62.4 429.6h1M56.7 428.3h1M66.5 422.8h1M53.7 429.3h1M61.9 429.5h1M69.5 425.6h1M72.5 424.1h1M59.2 422.6h1M74.2 428.2h1M55.5 427.6h1M67.6 432.1h1M56.9 427.4h1M59 426.5h1M60 429.3h1M68 422.5h1M59.1 429.4h1M73.6 428.8h1M67.8 422h1M70.5 425.9h1M48 425.2h1M66.9 426h1M66.2 425h1M44.5 428.2h1M66.8 431.2h1M61.2 430.3h1M58.3 424h1M76 427.7h1M68.6 421.8h1M62.5 425.6h1M71.1 428.2h1M57.1 430.5h1M55.8 426.2h1M58.6 433.6h1M62 424.7h1M55.8 427.3h1M75.5 422.9h1M54.8 431.1h1M61.2 424.2h1M69.4 428.4h1M57.7 427h1M70.1 424.5h1M50.9 426h1M53.5 436.8h1M50.8 427.5h1M69.3 430.6h1M44.6 426.5h1M54.7 427.2h1M71.5 426.7h1M62.6 431.8h1M58.5 427.1h1M53.7 429.5h1M56.4 427.4h1M61.4 431.1h1M63.9 429.2h1M59.7 428.8h1M71.8 421.9h1M61.5 430.5h1M49 426.4h1M60.3 430.3h1M66.3 428.1h1M62.5 424.7h1M61.1 424.7h1M55.8 430.1h1M71.5 429.8h1M41.3 430.6h1M73 423.2h1M58.6 423.1h1M47.3 427h1M63.8 431h1M56.3 423.9h1M54.7 425.3h1M47.6 429.5h1M66.9 424.4h1M50.5 424.1h1M65.7 428.1h1M69 419.9h1M41.4 426.9h1M46.9 426.1h1M52 435.8h1M63.9 427.2h1M57.9 420h1M58.6 429.6h1M62 428.8h1M61.5 426.2h1M68.9 426.3h1M60.3 427.2h1M62 422.3h1M63.3 429.2h1M62.6 423.4h1M65.8 427.8h1M58.8 426.7h1M61.4 428.9h1M73.1 424.8h1M69.2 429.9h1M67.2 423.3h1M62 432.7h1M66.3 428.5h1M45.5 428.6h1M54.8 431.3h1M42.5 432.7h1M52.8 427.7h1M58.8 426.7h1M59.4 430.8h1M63.7 431.5h1M63.8 429h1M40.6 430.3h1M60.7 427.4h1M61.7 430.5h1M60.9 430.2h1M55.9 423.3h1M60 429h1M39.6 431.3h1M62.5 425.3h1M57.4 427.7h1M58.4 427.6h1M54.4 434.1h1M47.3 430h1M64.6 424.4h1M63.7 430.1h1M69.2 427.6h1M66.7 428h1M58.3 429.6h1M54.9 427.8h1M44 428.3h1M67.2 426.8h1M68 432.2h1M73.7 431h1M48.6 434.1h1M50.5 427.9h1M66.5 421.7h1M71.3 428.1h1M59.9 428.6h1M62.5 422.5h1M42.6 432.7h1M73 424.7h1M63 430.7h1M42.7 430.4h1M76.1 422.2h1M57.8 422.9h1M70.3 428.5h1M72.9 424.6h1M61.2 428.6h1M50.6 426.8h1M41.1 434.4h1M54.3 431.8h1M59.8 426.5h1M57.5 425.3h1M50.9 432.8h1M56.8 428.6h1M64.8 425.3h1M61.3 423.4h1M64.1 425.2h1M53.2 426.7h1M51.6 425.3h1M66.3 427.1h1M61.4 425.7h1M62 425h1M47.7 426.8h1M52.7 441.4h1M55.7 425h1M53.3 430.6h1M61.7 432.7h1M62.4 422.8h1M62.7 431.3h1M60.3 429.2h1M63.9 429.1h1M65.1 427.4h1M52.8 433.8h1M63.1 422.5h1M70.3 427.1h1M56.6 424.7h1M59.8 425.6h1M60.3 427.6h1M41.8 433.1h1M63.7 426.5h1M45.1 433.4h1M58.3 422.1h1M51.1 423.3h1M60.9 428.5h1M62.1 425.7h1M59.8 426h1M64.3 426.8h1M53.3 430.1h1M50.1 435.9h1M67.9 425.9h1M56.4 429.1h1M41.5 430.8h1M61.6 427.8h1M44.9 434.2h1M60.6 433.3h1M61 423h1M45.1 428.3h1M40.9 429.8h1M61.4 429.4h1M68.9 425.7h1M74.6 424.8h1M59.1 424.2h1M45.3 429.9h1M55.2 427.1h1M45.9 432.1h1M62.1 430.7h1M70.8 425.5h1M54.3 428.7h1M68.2 428.5h1M62.7 429.3h1M49.3 429.1h1M46.8 432.4h1M70.7 427.6h1M49.8 427.5h1M75.6 424.6h1M54.6 428.6h1M62.7 430.6h1M57.6 434.8h1M61.6 427.6h1M53.7 432.7h1M39.6 426.6h1M48.1 433.6h1M56.8 435.8h1M70.6 428.3h1M70.8 421.6h1M51.2 429h1M50.8 427.4h1M62.6 425.8h1M55.3 425.8h1M46 432.3h1M44.2 424.7h1M49.7 429.8h1M57.3 427h1M56.8 433.1h1M41.2 427.9h1M49.2 425h1M46.4 431.9h1M69 430h1M65.4 431.3h1M47.8 428.7h1M62.2 422.4h1M64.8 424h1M62.6 428.4h1M56.4 426.2h1M56.7 432.1h1M65.2 426.9h1M53.2 426.5h1M74.6 431.3h1M52.9 427.8h1M71.7 429.4h1M41.8 432.8h1M67 427.6h1M49.8 428.8h1M48.4 430.1h1M58.8 424.5h1M50.6 430.9h1M55.4 427.5h1M67.9 429.9h1M73.9 419.8h1M70.5 425.1h1M68.6 428.1h1M65.6 423.9h1M60.1 424.5h1M54.6 428.5h1M71.3 420.6h1M60 427h1M55.7 432.2h1M49.4 428.3h1M55.1 426.4h1M42.5 430.2h1M58.9 430.8h1M73.7 426.2h1M68.1 426.6h1M58.9 425h1M63.2 429.5h1M42.2 429.2h1M71 423.7h1M53.3 427.8h1M61.1 427.6h1M56.8 430.7h1M56.3 427h1M62.2 426.8h1M49.3 429.3h1M71 424.1h1M39.2 432.3h1M51 429h1M73.7 425.4h1M55 435.6h1M63.2 425.2h1M47.5 428.5h1M71.5 424.8h1M52.3 431.8h1M52.1 429.9h1M57.8 432.4h1M58.1 425.4h1M62.8 427.8h1M56.5 426h1M51.9 432.1h1M45.5 428.8h1M59 432.4h1M67.5 424.2h1M68.6 425.2h1M72.4 425.4h1M61.9 423.2h1M55.2 426.4h1M75.4 426.1h1M57.2 419.6h1M66.4 428.8h1M75.5 430h1M63.6 429.2h1M58.1 427.5h1M66.9 433h1M69.5 426.9h1M49.6 424.8h1M65.1 428.9h1M66.4 429.3h1M54.7 429.7h1M49.2 434.2h1M68.4 421.3h1M57.4 426.7h1M48.4 430.3h1M59.2 422.6h1M51.4 428.3h1M43.6 432.7h1M56.5 429.4h1M44.5 434.8h1M54.8 430.6h1M58.4 428.6h1M59.2 433.7h1M51.5 428.9h1M66 425.8h1M68.7 424.7h1M50.4 428.6h1M53.9 426.1h1M75.8 429.2h1M56.7 424.8h1M73.8 427.3h1M45.7 432.9h1M42.4 430.3h1M68.4 429.5h1M65.2 430.4h1M49.4 433.3h1M58.1 430.1h1M54.4 424h1M62.5 429.1h1M71.6 426.8h1M71.7 424h1M69.9 428h1M46.6 430.7h1M61.9 429.6h1M66.4 424.6h1M45.5 435h1M81.1 430.1h1M81.9 425.6h1M79.3 418.1h1M79.7 427.2h1M76.5 427.6h1M84.2 424.6h1M85.6 421.8h1M81.8 424.4h1M72.4 420.4h1M70 425.5h1M85.8 422.1h1M67.2 423.9h1M83.2 423.2h1M75.5 429.6h1M68.8 423.5h1M81.3 430.4h1M76 426.3h1M86 423.8h1M81.8 426.4h1M82.1 426.6h1M76.4 425.9h1M73.5 426.6h1M81.6 430.6h1" stroke="#000" stroke-width="1" stroke-opacity="0.55" fill="none" filter="url(#dotblur)"/>
<path d="M43.3 429.5h1M66 416.2h1M55.5 428.1h1M59.6 429.9h1M70.5 421.9h1M44.8 447.1h1M47.8 426.6h1M58.8 424.1h1M55.7 448.6h1M41.7 439.7h1M58.5 441.2h1M52.1 426.2h1M57.7 410.3h1M67.8 425.5h1M58 436.4h1M64.4 433.8h1M40.6 436.4h1M50.7 431.1h1M45.7 435.4h1M61.8 426.1h1M72.5 426.8h1M61 425.2h1M45.2 436.6h1M64.8 438.2h1M73.7 428.3h1M65.8 441.1h1M71.7 423.8h1M52.8 415h1M41.4 434.1h1M45.4 421.7h1M55.8 431h1M43.6 422.9h1M65.6 425.2h1M70.2 437.1h1M69.6 422.1h1M68 429.1h1M74.8 435.3h1M62.8 425.4h1M47.3 426.3h1M63.4 438.3h1M53.4 440.4h1M55.7 419h1M40.1 426.8h1M75.9 431.8h1M59.1 417.1h1M51 432.1h1M47.6 419.1h1M71.3 429.6h1M62.7 432.4h1M60 421.4h1M48.6 430.8h1M65.1 432.8h1M69.2 413.4h1M58.3 421.4h1M73.8 432.4h1M54.4 434.8h1M71.4 421h1M74.6 423.3h1M68.4 432.6h1M67.4 423h1M54.4 425h1M61.1 434.2h1M51.9 425.4h1M60.8 429h1M59.3 432.5h1M50.2 433.1h1M62.8 427.1h1M41.2 434h1M60.9 443.7h1M51.9 433h1M55.3 432.5h1M49.8 430.7h1M55.6 421.8h1M69.5 423.8h1M54.5 435.4h1M67 422.4h1M57.1 427.2h1M57.1 422.7h1M56.1 440.3h1M62 428.1h1M51 433.7h1M56.3 429.9h1M48.4 427.5h1M63.5 428.5h1M57.9 424.7h1M75 414.4h1M59.2 437.1h1M58.2 429.7h1M62 430.9h1M58.5 429.5h1M67.2 422.8h1M64.9 435.2h1M66.4 427.8h1M69.2 429.9h1M66.7 445.6h1M64.5 429.9h1M71.7 425.7h1M52.1 423.5h1M71.9 417.5h1M69.8 428.2h1M42.4 439.9h1M71.8 434.7h1M51.3 432.1h1M52.2 434.6h1M48.2 431.4h1M55.1 431.7h1M50 420.8h1M61.9 421.4h1M71.2 431.2h1M73.3 424.4h1M67.3 415.7h1M67 431.1h1M55.5 430.1h1M61.6 425.4h1M66.8 430.2h1M59.8 425.6h1M51.5 440.3h1M75.8 435.3h1M49 447h1M68.6 420.6h1M49.3 432.5h1M59.2 423.5h1M50.5 437.5h1M64.6 420.7h1M64 436.3h1M50.9 427.9h1M73.9 414.5h1M54.2 427.2h1M57.3 425.8h1M48.9 428.3h1M64.7 432h1M60.6 434.2h1M48.2 429.6h1M65 425.1h1M53.4 411h1M70.9 435h1M57.4 430.3h1M60.3 430.9h1M68.2 437.8h1M67.5 427.5h1M58.1 422.7h1M50.4 429.4h1M46.3 430h1M64.2 441.4h1M56.7 425.2h1M52.9 416.9h1M70.4 437.9h1M69.7 428.9h1M57.3 439.9h1M58 424.3h1M57.4 428.5h1M49.5 434.8h1M42.5 436.9h1M64.7 415.3h1M69.1 413h1M54.4 417.5h1M48.5 438.9h1M67.3 418.9h1M57.2 423.9h1M53.8 438.2h1M58.6 430h1M74.3 415.3h1M66.3 433.1h1M45.9 433h1M62.6 438.5h1M53.6 424.3h1M60.3 429.7h1M49 421.6h1M60.3 434.2h1M64.3 435.2h1M66.7 431h1M65.4 430.5h1M58.7 429h1M41.9 439.7h1M47.3 435.3h1M60.3 425.2h1M55.1 434h1M71.1 428.1h1M57.7 418.4h1M71.9 428.1h1M61.7 430h1M50.6 430.1h1M70.1 434.1h1M66.6 433.4h1M75.8 428.3h1M74.5 428.8h1M56.7 426.1h1M65.3 429.8h1M56.4 436.1h1M62.9 429.6h1M50.1 432.7h1M69.4 430.9h1M74.6 425.4h1M75 442.1h1M54.6 427.7h1M64.5 431.1h1M74 407.5h1M60.3 413.9h1M62.4 443.8h1M51.3 433.8h1M70.1 430.3h1M41 422.8h1M60.3 422.4h1M51.6 441h1M67.2 426.7h1M57.2 428.5h1M64.2 439.2h1M57.9 419.5h1M52.6 432.4h1M70.1 418.8h1M48.9 414.3h1M54.6 435h1M54 433.8h1M72.5 435.4h1M44.8 425.7h1M55.5 427.1h1M65.2 426h1M58.5 426.1h1M56.3 416.8h1M74.6 429.1h1M47.5 430h1M41.4 420.7h1M57 423.1h1M42.4 442.6h1M58.6 430.3h1M46.1 426.7h1M55.4 410.7h1M65.5 427.3h1M64.7 417.5h1M69.8 434.1h1M57.4 432.3h1M60.7 419.3h1M41.1 437.5h1M53.9 430.7h1M60.1 429.2h1M67.7 412.5h1M74.5 426.9h1M74.8 428.4h1M59.8 421.9h1M60.8 433.9h1M61.1 430.7h1M44.1 423.6h1M51.4 418.6h1M48.7 429h1M65 424.2h1M51.9 435.5h1M60.4 428.9h1M54.2 436.8h1M71.2 422.4h1M52.2 427.7h1M43.5 408h1M52.2 428.8h1M50.7 429.5h1M60.6 431.8h1M61.6 440.8h1M66.3 429.1h1M51.4 446.3h1M54.4 428.6h1M51.1 434.1h1M59.6 425h1M57.1 432.9h1M58.9 425h1M49.9 429.7h1M58 431.8h1M60.4 439.9h1M45.3 415.3h1M66.5 425.6h1M49.1 420.5h1M40.3 438.4h1M59.5 426.9h1M47.2 446.9h1M69.4 437.1h1M46.6 423.5h1M57 436.6h1M56 429.2h1M47.2 423.3h1M48.6 430.3h1M43.9 423.3h1M73.3 432.2h1M61.8 418.8h1M62.5 430h1M59.8 424.1h1M66.7 424.5h1M50 432.6h1M68.4 433.7h1M65.8 435.7h1M73.7 429.6h1M75.2 423.5h1M51.4 433.9h1M47 432.5h1M63.6 437.6h1M48 410.6h1M47.7 422.7h1M58.7 438h1M73.8 431.4h1M54.8 435.9h1M55 429.9h1M57.9 437.4h1M62 415.7h1M55.1 425.9h1M58.6 420.9h1M63.8 434.8h1M60.2 433.8h1M68.4 416.8h1M53.2 435.8h1M56 431.7h1M62.8 424.5h1M56.4 416.7h1M48.4 434.4h1M68.5 422.5h1M61.9 441.1h1M53.4 437.7h1M53.4 425h1M73.9 430.8h1M55.5 433.4h1M42.1 442.7h1M69.6 432.6h1M56.6 428.2h1M67.2 431.7h1M55.3 434.4h1M48.3 418.3h1M50.7 420.4h1M66.2 424.2h1M61.2 426.8h1M63.8 432.1h1M47.6 431.2h1M56.9 433.9h1M60 410.8h1M49.5 428.1h1M62.5 449.8h1M44.5 429h1M64.9 425.9h1M65.8 422.2h1M43 433.2h1M60.3 434.6h1M46.8 424.2h1M66.2 430.6h1M40.4 421.3h1M47.5 428.6h1M57.7 429.6h1M47.5 427.3h1M68.5 423.1h1M72.4 438.1h1M60 429.3h1M64.6 427h1M51.6 418.2h1M45.8 441h1M58.8 421h1M54.7 423.8h1M76.1 432.2h1M85 420.8h1" stroke="#000" stroke-width="1" stroke-opacity="0.3" fill="none" filter="url(#dotblur)"/>
<line x1="6.4" y1="377.7" x2="6.4" y2="430" stroke="#000" stroke-width="1.3"/>
<path d="M6.4 372.7L2.6 379.6L10.2 379.6Z" fill="#000"/>
<text x="12" y="455" font-size="14" text-anchor="middle" transform="rotate(-90 12 455)">CD41</text>
<rect x="155.8" y="375.3" width="99.7" height="99.7" fill="none" stroke="#000" stroke-width="1.8"/>
<line x1="153.2" y1="375.3" x2="155.8" y2="375.3" stroke="#222" stroke-width="1"/>
<line x1="153.2" y1="399.33" x2="155.8" y2="399.33" stroke="#222" stroke-width="1"/>
<line x1="153.2" y1="424.25" x2="155.8" y2="424.25" stroke="#222" stroke-width="1"/>
<line x1="153.2" y1="449.18" x2="155.8" y2="449.18" stroke="#222" stroke-width="1"/>
<line x1="153.2" y1="475" x2="155.8" y2="475" stroke="#222" stroke-width="1"/>
<text x="148.5" y="488.9" font-size="10.7">10</text><text x="161.2" y="483.3" font-size="5.3">0</text>
<line x1="155.8" y1="475" x2="155.8" y2="477.6" stroke="#222" stroke-width="1"/>
<text x="172.95" y="488.9" font-size="10.7">10</text><text x="185.65" y="483.3" font-size="5.3">1</text>
<line x1="180.12" y1="475" x2="180.12" y2="477.6" stroke="#222" stroke-width="1"/>
<text x="197.4" y="488.9" font-size="10.7">10</text><text x="210.1" y="483.3" font-size="5.3">2</text>
<line x1="205.05" y1="475" x2="205.05" y2="477.6" stroke="#222" stroke-width="1"/>
<text x="221.85" y="488.9" font-size="10.7">10</text><text x="234.55" y="483.3" font-size="5.3">3</text>
<line x1="229.98" y1="475" x2="229.98" y2="477.6" stroke="#222" stroke-width="1"/>
<text x="246.3" y="488.9" font-size="10.7">10</text><text x="259" y="483.3" font-size="5.3">4</text>
<line x1="255.5" y1="475" x2="255.5" y2="477.6" stroke="#222" stroke-width="1"/>
<text x="152.6" y="367.2" font-size="14.8" font-weight="bold">D</text>
<text x="197" y="371.1" font-size="11.1" text-anchor="middle">Thrombin</text>
<rect x="188" y="393" width="59.5" height="63" fill="none" stroke="#222" stroke-width="1.5"/>
<text x="222.9" y="448.7" font-size="11" text-anchor="middle">95%</text>
<path d="M191.5 421.3h1M194.7 423.3h1M199.8 421.4h1M204.7 413.6h1M203.4 420.2h1M194.7 421.3h1M199.3 420.9h1M197.2 424.7h1M204.1 420.6h1M198.7 425h1M193.3 425.1h1M213.2 406.8h1M204.4 413.7h1M202.6 420.4h1M200.2 420.5h1M204.3 419.2h1M205.2 421.7h1M202.8 416h1M197.7 418.1h1M201.9 417.7h1M206.9 418.1h1M199.9 420.6h1M207.4 417.8h1M198.6 419.6h1M200.1 423.7h1M203.5 419.3h1M199.8 424.6h1M200.2 420.2h1M198.6 420h1M208.1 415.1h1M207.5 422.7h1M207.7 418.6h1M203.3 418.4h1M203.8 416.1h1M202.3 417.7h1M206.2 416.4h1M193.8 429.5h1M191.8 426.1h1M198 422.3h1M197 420.4h1M192.3 426.7h1M218.4 407.8h1M200.4 418.1h1M205.3 414.6h1M198.9 419.5h1M204 416.1h1M192.8 425.7h1M205 420.6h1M214.8 408.9h1M207.1 417.4h1M200.9 420.9h1M198.8 419.5h1M208.4 414.6h1M201.6 425.8h1M198.6 421.4h1M205.1 417.3h1M204.2 418.8h1M204.6 417h1M199.6 420.6h1M205.7 417.6h1M207.3 415.5h1M199 423.1h1M201.5 420.2h1M200 422.6h1M208.3 414.2h1M208.5 421.7h1M201 419.3h1M207.5 418h1M213.2 412.6h1M194.3 427.8h1M199.9 419.9h1M207.5 419.5h1M196.5 419.7h1M205.5 412.9h1M226.3 403.5h1M197.7 422.7h1M199.9 426h1M205 416.9h1M204.5 420h1M197.4 426.6h1M203.8 418.5h1M205.3 416.4h1M201.9 413.8h1M195.9 426.6h1M189.7 423.9h1M204.3 416.3h1M192.1 419.8h1M193.5 429h1M205.8 415.2h1M206.1 412.4h1M193.7 423.4h1M197.1 424.2h1M210.4 414.7h1M204.4 418.6h1M191.1 424.8h1M211.1 418.3h1M198.2 422h1M203.1 420.4h1M201.1 421.9h1M198.5 421.9h1M211.1 413.3h1M199.2 417.6h1M205.6 417.6h1M195.5 423.9h1M203.8 421.4h1M199.2 425.8h1M200.7 420.8h1M207 414.3h1M196.9 422.7h1M196.5 422.7h1M206.8 416.3h1M209.5 409.9h1M198.3 426.7h1M200.9 413.7h1M191.8 427.8h1M213.3 409.4h1M195.5 422.8h1M204.7 415.1h1M197.9 425.5h1M196.4 420.7h1M207.7 415.4h1M200 415.6h1M214.5 407.4h1M202.9 416.9h1M193.6 429.9h1M202.6 418.9h1M191.6 426.2h1M201 420.3h1M206.4 415h1M214.5 411.1h1M209.8 413.3h1M204.2 420.6h1M194.5 423.5h1M188.1 429.7h1M202.6 423.1h1M201.7 421.6h1M203.6 418.5h1M201.4 421.5h1M194.1 424.9h1M200.7 413.9h1M208.3 417.7h1M202.8 415.5h1M201.2 416.1h1M205 416.9h1M194.1 422.5h1M196.1 425.1h1M212.5 413.7h1M206.1 415h1M205.2 417.2h1M198.1 424.7h1M193.6 423.4h1M201.1 427.6h1M207.1 416.1h1M202.9 421.2h1M194.1 423.4h1M203.5 415.3h1M202.2 414.9h1M205.7 417.2h1M197.7 419.2h1M191.7 424.7h1M209.1 413.5h1M195.3 424.1h1M196 427.3h1M195.1 425.1h1M206.6 411.7h1M201.3 419.7h1M205 415.3h1M201 421.2h1M203.6 419.1h1M199.2 413.6h1M207.4 405.7h1M201.6 427.1h1M216 409.7h1M202 422.2h1M202.2 416.3h1M198.6 421.9h1M200.6 419.2h1M194.9 420h1M203.6 420.1h1M193.6 418.5h1M197.1 423.3h1M203.9 419h1M205 417.4h1M201.8 421.9h1M208.2 417.4h1M194.6 429.1h1M204.5 420.2h1M200.9 424.2h1M195.5 421.3h1M207.8 413.7h1M199.2 420.6h1M199.7 420.5h1M187.7 428.8h1M189.6 428.6h1M202.1 416.2h1M200.2 414.6h1M199.2 417.7h1M202.3 421h1M202.6 418.7h1M200.3 421.4h1M201.1 415.9h1M200.2 420h1M203.6 416.8h1M216.6 408.5h1M203.1 417.1h1M203 416.9h1M206.1 410.8h1M204.1 418.6h1M203.7 420.2h1M204 415.4h1M195.1 415.4h1M198.9 422.9h1M201 416.1h1M195.6 423h1M209.3 413.5h1M203.6 417.6h1M197.8 420.3h1M204.4 418.5h1M201.7 420.7h1M214.3 410.1h1M201.1 419.4h1M209 415.1h1M203.6 410.3h1M202.2 416.7h1M195 423.1h1M196.2 424h1M192.1 420h1M202.1 417.8h1M191.4 426.4h1M201.6 419.8h1M206.3 415.8h1M197.2 424.2h1M197 417.1h1M195.2 423.9h1M188.9 427.4h1M210.8 414h1M195.8 422.7h1M191.5 425h1M201.5 416.7h1M200.4 421.1h1M206 417.6h1M196.7 428.2h1M204.5 411.9h1M208.1 422.6h1M187.9 438.3h1M208.7 415.3h1M200.4 421.5h1M201 422.4h1M194.1 425.3h1M203.1 417h1M199.7 424.1h1M197.2 421.9h1M193.1 424.9h1M203.5 420.7h1M200.6 417.1h1M200.9 426.4h1M203.1 415.9h1M199.6 417.5h1M199.9 425.2h1M198.2 421.6h1M202.3 418.4h1M197.8 418h1M205.3 419.7h1M208 415.2h1M192 426.8h1M208.2 415.7h1M198.6 419.6h1M195 418.4h1M195.9 421.8h1M196.7 427.5h1M197.6 420.7h1M211.9 414.2h1M201.3 417.9h1M209.9 415.5h1M202.8 421.4h1M193.9 424.7h1M199.3 415.3h1M201.1 417.8h1M202.2 422.8h1M198.4 423.3h1M196.6 424.8h1M201.6 421.4h1M196.7 426.6h1M202 412.1h1M210.8 414.4h1M203.3 414.8h1M201.7 417.6h1M193.2 420.8h1M204.6 416h1M195.2 423.3h1M209.9 409.9h1M214.6 406.9h1M199.2 422.2h1M194.4 422.9h1M206.7 414h1M196.5 423.7h1M197.3 419.8h1M202.6 421.3h1M202.3 421.8h1M204.8 417.2h1M195.3 423.8h1M204 418.6h1M198 420.1h1M199.7 423.5h1M204 416h1M202.4 420.9h1M194.8 422.7h1M202.1 417h1M196 418.1h1M197.4 424.6h1M188.1 428.1h1M207 410.8h1M199.6 421.8h1M204.4 415.3h1M202.9 417.2h1M202 415.9h1M197.2 421h1M204.2 413h1M204.5 419h1M193.5 420.6h1M203.3 418.6h1M202.6 414.7h1M194.2 426.3h1M208.1 416.3h1M208.7 413.8h1M205.9 419.1h1M205.5 415.4h1M185.9 434.5h1M203.2 420.8h1M193.9 425.3h1M206.1 419.5h1M197.5 423.3h1M199.1 420.3h1M198.2 421.3h1M218.8 411.1h1M203.5 416.4h1M204.7 419.4h1M196.6 422h1M200.4 420h1M202.1 418.4h1M203.3 416.7h1M202.3 420.2h1M201.4 417.8h1M198.2 421.3h1M194.8 425.4h1M190.6 430.1h1M200.1 423.9h1M195.5 431.4h1M200.1 419.3h1M199.2 419.5h1M195.5 425.6h1M198 425.8h1M202.1 416.7h1M196 421.7h1M192.7 423.6h1M204.8 423.2h1M204.9 418.1h1M193.4 430.2h1M200.6 421.3h1M201.3 417h1M197.5 420.4h1M200.9 421.1h1M191.6 425.2h1M199.5 415.4h1M205.6 420.9h1M201.1 419.8h1M197.7 422.7h1M199.2 423.3h1M190.7 431.4h1M196.8 426.4h1M208.5 419.5h1M203.9 417.1h1M208.1 414.6h1M194.7 426.3h1M199 416.9h1M201.5 417.6h1M203.8 413.6h1M198.8 419.7h1M198.6 424.6h1M211.3 406.9h1M194.7 423.3h1M203 416.9h1M203 420.7h1M202.1 418.9h1M199.2 417h1M203.5 419.4h1M205.5 417.7h1M206.9 418.9h1M200.6 419h1M196.1 424.4h1M197.6 419.6h1M191.3 428.4h1M200.6 422.9h1M202.8 418.2h1M194.4 425.9h1M200.5 421.1h1M212.5 414.2h1M208.1 413.4h1M194.6 425.3h1M204.6 420.6h1M213.4 410.5h1M203.3 421.5h1M196.1 428.2h1M208.6 416.5h1M209.5 417.6h1M198.2 424.2h1M196.3 421.5h1M212.5 409.3h1M200.1 416.5h1M197.8 421.6h1M199.1 420h1M206.1 416.8h1M194.4 424.7h1M208.5 419.1h1M209.3 414.4h1M201.1 416.8h1M195.5 417.9h1M200.4 423h1M199 422.4h1M200.5 417.7h1M207.6 409.6h1M190.5 423.2h1M197.5 422h1M198.4 423.2h1M202.4 420h1M192 427.8h1M212.4 409.5h1M198.1 424.9h1M194.3 426.2h1M206.7 417.1h1M203.1 414.7h1M205.3 417.2h1M207.2 413.4h1M194.4 427.3h1M193.4 425.6h1M201 425.7h1M198.4 422.8h1M201.2 415.6h1M206.4 415.3h1M192 421.6h1M207.9 411.2h1M203.7 413.2h1M199.3 417.7h1M200.8 417h1M197.8 421.3h1M209.1 415.6h1M201 421.6h1M199.3 425.4h1M201 422.6h1M200.6 418.7h1M203.6 419.9h1M210 415.1h1M198.5 419.5h1M207.6 413.7h1M190.9 423h1M198 419.2h1M197.2 422.6h1M203.4 420.9h1M203.8 417.5h1M211 416.1h1M207.7 417.4h1M196.1 419.7h1M205.9 415.4h1M208.5 417.5h1M193.4 425.9h1M192.5 427.8h1M203.7 412.9h1M201.3 419.7h1M207 415.7h1M200.3 418.9h1M198.4 420.5h1M199 421.1h1M201.7 422h1M206.4 415.3h1M204.8 414.6h1M203.6 416h1M203 418.1h1M195.3 427.1h1M215.9 409.4h1M207.9 413.3h1M202.1 417.8h1M195.4 420h1M197.9 423.8h1M198.6 421.3h1M209 416.2h1M210 412.1h1M192.2 426.9h1M197.6 426h1M206.4 416.2h1M196.3 427h1M209.6 411.9h1M198.9 421.3h1M200.6 424.9h1M194.8 420.7h1M197.9 419.9h1M205.8 415h1M204.5 419.8h1M205 418.6h1M202.4 416.1h1M196.3 423.1h1M199.8 424.3h1M200.6 422h1M190.9 424.2h1M195 424.7h1M198.8 420.7h1M207.5 418h1M200.1 419.8h1M209.7 414.3h1M204 421.8h1M195.6 424.3h1M206.8 419.8h1M201.8 416.2h1M201.2 421.1h1M195.8 423.3h1M197.8 423.9h1M200.6 422.1h1M195.8 424.8h1M196.8 425.7h1M208.4 413.6h1M198.9 422.6h1M202.5 418h1M198.2 422.9h1M203.8 416.5h1M199 423.2h1M211.2 410.2h1M196.7 425.9h1M197.2 422.9h1M205.7 416.4h1M198.3 423.8h1M214 411.9h1M195.1 424.9h1M207.2 414h1M207 412.9h1M204.8 418.8h1M202.7 421.2h1M197.7 425.9h1M202.8 416.2h1M204.2 415.3h1M204.9 416.3h1M204.1 416.3h1M197.9 426.6h1M212.1 410.4h1M209.1 414.6h1M197.8 427.8h1M197.4 421.9h1M198.2 421.4h1M200.8 421.4h1M192.4 428h1M192.9 423.9h1M202.7 419.8h1M207 419.7h1M199.8 421.5h1M198.4 423.2h1M203.3 418.6h1M208.7 415.5h1M198 419.4h1M192.1 426.9h1M197 420.8h1M204.1 423.6h1M190.4 429.7h1M197.7 412.1h1M201.3 422h1M201.3 412h1M202.8 415h1M208.2 411.4h1M197.3 426.9h1M198.3 416.3h1M194.5 422.6h1M205.9 422.2h1M205 415.1h1M198.8 421.2h1M202 415.1h1M201.7 422.9h1M201 422.8h1M209.9 416.3h1M201 419.4h1M214.4 412.4h1M199.5 417.3h1M212.3 417.9h1M200.5 420.3h1M199.9 416.2h1M197.5 417.4h1M200 420.2h1M194.3 428.6h1M200.3 423.7h1M209.7 413h1M199 422.1h1M205.9 421.3h1M206.1 413.7h1M205.8 417h1M198.7 420.3h1M203 417.8h1M201.5 421.4h1M197.5 426h1M201.6 418.5h1M201.4 423.9h1M208.2 415.3h1M200.9 419h1M204.6 413.2h1M200.6 422.8h1M201.4 417h1M197.7 421.9h1M202.9 416.7h1M208.5 413.7h1M196.8 421.3h1M193.1 421.7h1M205 419.4h1M187.3 425h1M212.8 411.2h1M205 420.8h1M192.6 428.2h1M201.4 419.4h1M204.3 416.2h1M200.4 425.5h1M202.5 417.7h1M213.2 410h1M215.5 410.3h1M207.2 417.7h1M213.5 411.1h1M206.5 415h1M207.7 411.3h1M206.3 412.3h1M210.8 410.1h1M194.6 424.4h1M195.6 419.4h1M193.2 426.8h1M199 421.9h1M199.5 424.5h1M198.1 423.6h1M206.7 412.7h1M203.1 417.9h1M201 418.9h1M211.6 410.2h1M211.3 408.1h1M201.7 417.5h1M206.9 418.4h1M197.5 420.6h1M202.7 415.6h1M206.5 416.8h1M203.3 416.7h1M200.5 424.4h1M206.3 415.7h1M207.8 414.2h1M184.3 432.4h1M200.5 421.1h1M200.6 421.1h1M201.8 416.7h1M209 412.8h1M199.3 420.4h1M201 424.7h1M192.8 426.3h1M204.7 418.1h1M196.6 420.8h1M211.5 415h1M197.8 420.7h1M209.9 411.4h1M199.9 423.8h1M201 415h1M201.8 419h1M200.6 420.7h1M187.4 427.6h1M191.7 427h1M196.4 422.7h1M206.5 412.6h1M206 420.2h1M200.3 417.3h1M200.8 418.7h1M201.3 419.6h1M200.5 418.2h1M204.3 418.3h1M208.6 415.5h1M198.4 424h1M204.7 411.5h1M197 417.8h1M203.7 417.1h1M196.3 420.7h1M203.1 417.7h1M195.9 423.9h1M198.2 427h1M202.2 420.7h1M207.4 410.9h1M197.9 420h1M209.9 417.3h1M198.7 421.5h1M206.6 423.3h1M193.6 422.2h1M198 420h1M204.8 417.1h1M202.5 416.8h1M201.6 416.9h1M200.3 418.3h1M190.7 428.4h1M194.6 423.5h1M201.3 419h1M194.1 424.1h1M206.5 418.1h1M201.5 423.2h1M202.2 415.2h1M205.2 410.7h1M206.5 417.6h1M206.6 417.3h1M199 419.7h1M203.4 416.6h1M202.4 418.5h1M202.7 421.2h1M201.5 417.4h1M202.6 420.9h1M203.8 419.1h1M195.9 419h1M199.7 424.1h1M199.4 421.8h1M199.9 418.7h1M202.7 421.5h1M208 415.7h1M194.4 429h1M193.7 425.1h1M206.5 414.7h1M191 429h1M191.5 426.5h1M199 421.7h1M195 423.9h1M217.1 412.7h1M207.5 415.6h1M212.7 413.3h1M205.8 417.6h1M199.3 425.2h1M207.7 415.3h1M202.3 417.9h1M208.9 415h1M216.1 406.1h1M199.6 418.3h1M193.1 427.2h1M199.6 419.5h1M189.6 426.4h1M194.4 426.8h1M193.7 424.9h1M206.4 417.7h1M200.6 417.4h1M213.1 410h1M199.8 420.9h1M199.9 418.7h1M202.4 422.8h1M203.9 417.6h1M195.2 423.3h1M202.5 417.4h1M198 421.8h1M199.2 423.2h1M204.6 414.1h1M199.5 419.4h1M198.6 421.3h1M204.7 416.7h1M199.1 421h1M203.2 418.9h1M213 407.9h1M196.3 420.9h1M196.6 427.8h1M205.8 415.2h1M195.7 420.2h1M201.7 420.4h1M208.5 418.6h1M200.6 418h1M202.3 427.2h1M194.1 421.9h1M201.8 417.1h1M200.3 419.5h1M202.4 420.4h1M208.4 415.4h1M200.4 413.3h1M194.8 419.2h1M190.8 428.6h1M197.1 422.9h1M201.2 422h1M211.6 413.1h1M205.2 417.2h1M205.4 417.1h1M203.1 418.3h1M203.2 422h1M200.7 420h1M203.1 418.8h1M199.2 421.6h1M203.2 420h1M190.4 426.7h1M203.5 415h1M203.6 423.3h1M206.2 416.6h1M200.6 421.4h1M162.1 429.7h1M174.4 429.9h1M157.7 428.4h1M175.6 434.1h1M177.2 427.7h1M187.9 431.6h1M166.2 427.3h1M174.2 427.6h1M186.4 422.8h1M177 426h1M184.7 433h1M171.1 429.1h1M172.7 430.3h1M177.4 419.8h1M181.9 422.3h1M161.9 429.1h1M170.3 424.1h1M160.6 427.3h1M168.9 435.5h1M165.7 424.9h1M177 427.2h1M184.3 426.6h1M185 426.2h1M173.4 425.9h1M179.3 425.9h1M193.1 422.7h1M169.5 431.7h1M182.4 422.7h1M169.2 424.6h1M170.6 428.1h1M161.5 432.1h1M178.3 421.9h1M164 427.5h1M170.4 430.5h1M189.7 429.9h1M167.7 423h1M180.9 428h1M171.8 425h1M172.7 430.6h1M176.9 423.7h1M168.2 420.9h1M167.5 431.2h1M189.6 428.5h1M169.6 426.8h1M163.4 434.3h1M185 429.2h1M160.7 425.7h1M157.2 429.8h1M194.8 425.5h1M187 427.1h1M161.5 429h1M177.7 420.2h1M185.2 426.1h1M167 426.8h1M169.6 428.8h1M170.4 429.1h1M173.9 421.7h1M177 424.1h1M169.2 426.8h1M163.2 429.9h1M169.7 427.3h1M188.1 431.9h1M175.5 426.3h1M194.6 421.2h1M190.6 426.4h1M167.3 426.4h1M159.2 426.7h1M195.9 426.2h1M186.2 422.7h1M173.7 430.1h1M165.5 434.2h1M173.5 427h1M184.7 429.6h1M173.4 434.7h1M185.7 432.4h1M178 428.4h1M181.4 424.6h1M171.4 425.9h1M173.4 429.1h1M196.9 427.2h1M184.3 427.5h1M185.8 426.1h1M167.3 430.8h1M168.8 425.9h1M189 430.6h1M183.2 426.3h1M168.3 431h1M158.9 426.7h1M162.7 431.2h1M162.6 427.5h1M181.1 430.8h1M178.3 425.4h1M177.4 420.7h1M180.7 428.4h1M172.4 423.4h1M182.1 428.4h1M183.2 429.1h1M179 429.1h1M166.6 432.1h1M159.4 423.8h1M195.2 429.3h1M181.3 423.7h1M163.4 430.5h1M176.3 431.3h1M165.7 430.6h1M186.2 425.7h1M177 425.2h1M160.3 428h1M174.9 424.7h1M160.2 426.4h1M176.1 429.1h1M176 425.9h1M178.6 425.1h1M179.7 430.1h1M187.3 427.1h1M175.9 426.2h1M177.2 428.7h1M194 430.5h1M178.3 426.7h1M198.3 431h1M182.7 428.6h1M165.8 425.7h1M181.8 423h1M179 427.8h1M157.8 431.8h1M178.2 428.5h1M178.3 421.1h1M170.1 429.4h1M163.1 431.4h1M183.7 428.4h1M167.8 430.2h1M171.9 432.3h1M180.8 433h1M183.2 429.5h1M172.2 427.2h1M191.8 420.8h1M167.3 427.8h1M182 421.9h1M183.5 420.7h1M183.9 424.9h1M159.2 433.4h1M174.4 424.8h1M186.4 425.8h1M186.1 423.7h1M170.8 430.7h1M180.1 424.8h1M169.2 421h1M171.3 430.3h1M167.4 436.1h1M186.5 426.2h1M179.2 418.1h1M171.7 428.4h1M165.4 428.9h1M182.8 429.2h1M182.3 424h1M175.8 430.2h1M211 412.4h1M214.6 404.1h1M213.8 403.7h1M215.9 405.2h1M217.6 405.5h1M214.9 409.4h1M211.2 410.3h1M215.9 405.7h1M216.4 402.4h1M215.7 406.2h1M217 399.9h1M217.9 402.2h1M215.7 401.2h1M213.2 409.6h1M227.3 393.3h1M214.4 406.6h1M219.5 402.2h1M210.3 408.5h1M210.1 411h1M210.2 413.5h1M213.9 409h1M223.5 399.9h1M207.8 407.5h1M205.1 418.9h1M215.4 404h1M216.6 405.3h1M216.5 405.6h1M213.2 409.4h1M218.2 408.5h1M213.8 412.8h1M216.1 405.3h1M214.7 409.4h1M217.4 401.7h1M218.2 402.7h1M212.9 408.2h1M215.5 397.3h1M216.9 407h1M210.7 409h1M222.8 397.3h1M217.9 403.7h1M207 415.8h1M208 414.6h1M213.4 407.4h1M212.8 411.4h1" stroke="#000" stroke-width="1" stroke-opacity="0.55" fill="none" filter="url(#dotblur)"/>
<path d="M202.2 417.3h1M204.2 419.3h1M200.2 423.7h1M186.6 431h1M199.5 417.6h1M189.8 440.6h1M202.9 421.6h1M203.3 419.6h1M196.2 412.3h1M203.2 425.4h1M205.6 415.7h1M195.5 430.3h1M204.5 424.3h1M197.9 423.7h1M204.6 423.5h1M197.3 431h1M206.9 406.7h1M198.4 433h1M205.5 425.4h1M203.4 427.1h1M209.6 416.2h1M204.5 422.4h1M204.9 407.2h1M201.9 421.3h1M198 418.1h1M201.7 417.4h1M200.4 417.8h1M190.9 411.1h1M197.3 418.4h1M209.4 405.6h1M212.9 410.2h1M209.5 414.4h1M214.1 416.6h1M199.5 427.8h1M202.9 420.1h1M191.3 413.6h1M193.5 426h1M199.6 422.3h1M206.5 407.9h1M202.9 426h1M204.2 421.3h1M204.9 420.4h1M204 421.5h1M197.1 423.5h1M208.6 411.9h1M196.2 406.5h1M194.5 413.1h1M192.4 427.3h1M188.1 423.3h1M200.3 410.5h1M207.9 418.8h1M190.6 428.6h1M202.3 435.3h1M205.7 413h1M200.2 417.2h1M207.2 401.6h1M200.1 418.3h1M199.7 420.1h1M197.6 434.1h1M193.9 425.1h1M206.6 416.3h1M204.7 428.2h1M193.4 418.6h1M192.1 423.7h1M205.5 411.8h1M210.5 416.2h1M194.4 420.5h1M201.4 416.9h1M192.2 425.9h1M192.6 421h1M200.8 434.7h1M205.4 422.3h1M195.5 424.8h1M207.2 434.5h1M199.5 430.5h1M200.9 420.4h1M199.1 422.5h1M202.9 414.8h1M191.5 436.2h1M210.1 407.6h1M209.9 420.9h1M192.2 423.4h1M207.1 415.2h1M210.2 404.8h1M196.4 414.6h1M191.3 418.1h1M205.6 414h1M210.7 418.5h1M205.7 411.5h1M203.6 413h1M206.8 416h1M214.7 410.7h1M182.5 430.9h1M202.9 416.4h1M191.6 438.6h1M197.5 414.8h1M191.4 437.1h1M187.8 420.4h1M200.1 419h1M201.2 429.6h1M205.1 411.8h1M202.2 413h1M195.8 422.1h1M203.3 417h1M208.1 413.4h1M191.7 438.8h1M204 426.6h1M198.2 430.7h1M199.8 431.2h1M213.6 410.6h1M213.3 411.6h1M197.6 415.7h1M207.9 397.4h1M205.5 420.5h1M203.3 423.1h1M218.4 405.3h1M202.1 422.2h1M190.9 430.1h1M198.8 428.1h1M215.1 412.8h1M213.7 405.3h1M196 429.1h1M197.1 408.7h1M201.7 408.5h1M200.2 420h1M214.5 413.3h1M195 432.2h1M204.8 423.4h1M201 423.4h1M206.6 419.8h1M201.1 416.6h1M208.1 426.1h1M202.2 408.4h1M199.7 417.8h1M208.2 406.9h1M204.2 424.8h1M205.1 406.9h1M211.7 407.9h1M194.7 418.3h1M211.3 407h1M191.6 427.9h1M204.8 418.6h1M197 418h1M194.5 418.5h1M193.3 413.2h1M202.2 420h1M213.8 406.9h1M204.4 417.6h1M188.5 435.1h1M198.2 418.2h1M198.7 424h1M211.9 409.3h1M210.4 416.4h1M194.6 424.7h1M201.3 411.5h1M204.1 422.8h1M204.8 413h1M197.4 415.6h1M212.5 405.4h1M188.2 434.3h1M204.5 425.1h1M195.2 429.8h1M205.1 423.7h1M210.4 408h1M192.1 429h1M202.5 424.3h1M213.9 416.2h1M196.2 422.8h1M198.6 420h1M200.8 420h1M196.8 428.3h1M195.5 425h1M195.5 420.1h1M196.8 421.7h1M188.2 426.7h1M210.3 424.7h1M192.4 414h1M202.6 415.9h1M198.9 420.4h1M193.1 425.8h1M198.9 414.1h1M208.6 419.9h1M203.9 419.3h1M200 416.6h1M196.3 422.6h1M199.2 430.8h1M192 425.7h1M205.8 407h1M200.4 427.4h1M202.5 416.1h1M189.9 426.7h1M202.3 425.2h1M203.9 414.4h1M206.3 410.4h1M196.3 419.7h1M198.1 415.9h1M198.4 410.8h1M209.8 414.2h1M205.1 415.2h1M195 429.3h1M208.6 417.6h1M197.5 422.3h1M207.3 398.2h1M200.7 414.4h1M202.2 414.8h1M193 423.3h1M200.2 424.4h1M200.9 416.7h1M200.6 420.7h1M198.4 428.4h1M196.8 421.3h1M206.8 425.2h1M212.8 418.4h1M197.3 428.5h1M198.6 433.8h1M186.7 426.2h1M198.8 425.1h1M201.8 431h1M205.6 402.8h1M192 417.6h1M213 418.3h1M200 421.1h1M196.9 421.6h1M207 420.2h1M199.3 428h1M192.9 421.2h1M201.8 428.4h1M201.8 413.9h1M199.1 422h1M194.6 424.7h1M201.1 428.1h1M198.3 427.3h1M199.9 427.2h1M199.2 426.2h1M199.8 420.9h1M196.4 426h1M198.2 422.6h1M199.7 422.7h1M198.9 421.2h1M193.6 424.3h1M205.1 421.4h1M204.4 424.5h1M186.3 434.3h1M193 417.8h1M200.3 423.7h1M209.8 420.1h1M196.2 426.1h1M197.4 426.7h1M204.9 412.7h1M203.6 410.8h1M200.2 416.3h1M212.9 409.6h1M189.9 413.3h1M208.6 422.2h1M201.3 425.8h1M196.8 421.8h1M194.7 423.9h1M200.9 414.7h1M210.5 423.2h1M201.6 405.3h1M213.9 408.9h1M206.8 417.8h1M204.6 418.6h1M205 411.3h1M173.2 428.3h1M179.4 418.6h1M179.3 431.7h1M173.9 438.3h1M160.5 430.1h1M169.1 432.9h1M157.3 429.1h1M188.5 419.4h1M173.3 431.1h1M180.6 427.8h1M184 430.1h1M184.1 434.8h1M192.5 426.1h1M182.3 429.8h1M167 432.4h1M165.4 442.5h1M173.3 429.9h1M186.5 431.4h1M175.2 430.9h1M179.1 412.7h1M185 433.1h1M189.6 424.8h1M180.4 424.5h1M169.1 430.5h1M174.4 427.9h1M187.5 429.8h1M172.6 430.5h1M157.8 425.7h1M175.2 419.9h1M165.1 433.8h1M166 414.6h1M188.5 417.5h1M163 427.7h1M165.9 431.2h1M183.6 418h1M182.1 436.4h1M186.2 425.3h1M165.8 437.2h1M178.2 430.6h1M172.9 422.4h1M163.9 425.8h1M193.7 431.5h1M161.7 427.3h1M169 428.4h1M178.7 425.5h1M181.6 435h1M172.2 430.6h1M181.4 423.9h1M167.7 433h1M186.4 427h1M170.1 434.6h1M182.8 425.1h1M179.1 428.7h1M177.7 436.3h1M194.4 417.1h1M179.7 427.9h1M179.4 434.2h1M185.1 434.3h1M165.6 442.4h1M179.1 421.6h1M192.4 417.3h1M167.7 426.7h1M185.9 426.6h1M176.2 426.9h1M187.4 423.5h1M180.5 434.1h1M178.3 434.9h1M193.7 430.3h1M180.6 433.7h1M157 420.3h1M196.8 413.6h1M177 425.1h1M179.4 427.8h1M184.4 427.1h1M216.3 409.1h1M217.2 407.5h1M221.8 412.7h1M210.4 406.8h1M219.7 411.1h1M222 394.5h1" stroke="#000" stroke-width="1" stroke-opacity="0.3" fill="none" filter="url(#dotblur)"/>
<rect x="38.7" y="519.8" width="100.1" height="99.1" fill="none" stroke="#000" stroke-width="1.8"/>
<text x="21.1" y="524.4" font-size="10.7">10</text><text x="34.1" y="518.8" font-size="5.3">4</text>
<line x1="36.1" y1="519.8" x2="38.7" y2="519.8" stroke="#222" stroke-width="1"/>
<text x="21.1" y="548.7" font-size="10.7">10</text><text x="34.1" y="543.1" font-size="5.3">3</text>
<line x1="36.1" y1="543.67" x2="38.7" y2="543.67" stroke="#222" stroke-width="1"/>
<text x="21.1" y="573" font-size="10.7">10</text><text x="34.1" y="567.4" font-size="5.3">2</text>
<line x1="36.1" y1="568.45" x2="38.7" y2="568.45" stroke="#222" stroke-width="1"/>
<text x="21.1" y="597.3" font-size="10.7">10</text><text x="34.1" y="591.7" font-size="5.3">1</text>
<line x1="36.1" y1="593.23" x2="38.7" y2="593.23" stroke="#222" stroke-width="1"/>
<text x="21.1" y="621.6" font-size="10.7">10</text><text x="34.1" y="616" font-size="5.3">0</text>
<line x1="36.1" y1="618.9" x2="38.7" y2="618.9" stroke="#222" stroke-width="1"/>
<text x="31.4" y="632.8" font-size="10.7">10</text><text x="44.1" y="627.2" font-size="5.3">0</text>
<line x1="38.7" y1="618.9" x2="38.7" y2="621.5" stroke="#222" stroke-width="1"/>
<text x="55.95" y="632.8" font-size="10.7">10</text><text x="68.65" y="627.2" font-size="5.3">1</text>
<line x1="63.12" y1="618.9" x2="63.12" y2="621.5" stroke="#222" stroke-width="1"/>
<text x="80.5" y="632.8" font-size="10.7">10</text><text x="93.2" y="627.2" font-size="5.3">2</text>
<line x1="88.15" y1="618.9" x2="88.15" y2="621.5" stroke="#222" stroke-width="1"/>
<text x="105.05" y="632.8" font-size="10.7">10</text><text x="117.75" y="627.2" font-size="5.3">3</text>
<line x1="113.18" y1="618.9" x2="113.18" y2="621.5" stroke="#222" stroke-width="1"/>
<text x="129.6" y="632.8" font-size="10.7">10</text><text x="142.3" y="627.2" font-size="5.3">4</text>
<line x1="138.8" y1="618.9" x2="138.8" y2="621.5" stroke="#222" stroke-width="1"/>
<text x="0.4" y="508.5" font-size="14.8" font-weight="bold">E</text>
<text x="56" y="506" font-size="11.3">10 <tspan font-family="'Liberation Serif', 'DejaVu Serif', serif">μ</tspan>g/ml PGN</text>
<text x="56" y="517.9" font-size="11.2">no plasma</text>
<rect x="74.5" y="541" width="58.1" height="64.5" fill="none" stroke="#222" stroke-width="1.5"/>
<text x="107" y="600" font-size="11" text-anchor="middle">2%</text>
<path d="M66.1 583.3h1M51.8 570.9h1M55.2 573.2h1M51.4 576.8h1M45.8 576h1M47.7 577.3h1M40.6 577.8h1M63.6 576.7h1M54.2 577.1h1M54 565.6h1M59.7 573.8h1M60.2 569.5h1M71.4 575h1M53.8 577h1M56.6 575.4h1M49.8 582.1h1M66.8 569.3h1M71.9 571h1M61.1 577.9h1M51.9 579h1M43.3 577.8h1M57.5 575.6h1M66.4 577.5h1M56.5 570h1M60.5 571.9h1M65 576.5h1M63.4 575.8h1M57.6 578.4h1M52.4 573.4h1M50.1 571.3h1M51.7 576.2h1M58.2 577.6h1M49.8 574.6h1M47 573.4h1M46.2 577.4h1M56.1 575.3h1M56.2 580.4h1M52.8 572.6h1M56.9 572.3h1M61.5 575.6h1M45.1 575h1M61 577.4h1M55.2 572.3h1M45 574.6h1M58.2 573.6h1M56.2 578.3h1M45.5 581h1M53.8 579.2h1M43.9 580.2h1M62.1 574h1M60.1 579.8h1M63.9 575.5h1M64.8 580.1h1M48.7 570.5h1M63.2 574.2h1M58.4 574.6h1M52.4 571.4h1M51.3 578.8h1M72 576.1h1M55.8 573.7h1M46.5 579h1M55.9 572h1M57.8 572.9h1M48.9 579.8h1M55.7 577.8h1M78.2 574.3h1M72.3 576.3h1M41.2 583.8h1M52.3 575.8h1M41.3 571.8h1M77.9 576.6h1M48 579.5h1M49.2 575.6h1M79 580.7h1M63 571.8h1M40 582.7h1M61 578.4h1M65.2 574.1h1M61.6 579.3h1M58.9 575.5h1M40.4 572h1M69.1 568.5h1M73.4 570.3h1M59.6 575.6h1M51.4 577.3h1M48.7 572.1h1M54.1 577.5h1M57.1 569.7h1M53.2 577.1h1M55.4 575.6h1M46.3 577.8h1M67.5 575.6h1M63 574.9h1M49.6 578h1M40.5 578.1h1M56.2 577.9h1M65.3 573.5h1M43.7 581.8h1M61.2 569.4h1M54.6 573.7h1M47.3 576.4h1M51.9 575.8h1M47.5 569.9h1M54.3 575.6h1M62.6 571.8h1M56.7 578.8h1M57.2 566.4h1M57.8 578.3h1M49.3 568.3h1M46.1 578.3h1M66.4 572.2h1M54.7 579.7h1M52.7 577.3h1M40.2 582h1M42.2 582.9h1M55.6 577.9h1M50.4 573.2h1M54.4 575h1M42.7 572.1h1M46 576.2h1M54.5 577.8h1M62.2 570.5h1M59.8 583.5h1M42.8 575.4h1M53.8 575.4h1M64.8 572.8h1M41.4 576.8h1M56.5 572.5h1M60.7 574.6h1M47.1 576.3h1M63.7 578.9h1M66.1 577.5h1M48.6 573.4h1M68.5 572.9h1M57.9 576.7h1M68.3 576.3h1M43.7 574.6h1M55.8 574.2h1M47.5 579.7h1M70.7 572.5h1M48.6 577.9h1M42.7 572.7h1M64.7 575.5h1M48.2 578.8h1M56.9 575h1M46.7 575.7h1M54.7 572.6h1M51.5 580.1h1M65.3 577.8h1M55.6 573.3h1M60.1 571.2h1M59.7 572.1h1M43.5 583.8h1M42 571.8h1M59.5 574.6h1M63 579.8h1M66.1 581.5h1M64.2 571.6h1M50.9 579.9h1M62.1 574h1M45.9 568.9h1M52.9 575.9h1M65.9 571h1M68.9 575.7h1M56.7 577.8h1M69.9 569.6h1M48.4 572.3h1M43.3 576.4h1M68.2 579.7h1M59.5 568.1h1M44.2 570.8h1M60 570.7h1M56.1 566.7h1M41.6 576.7h1M70.2 579h1M47.1 570.6h1M76 576.9h1M51.9 575.2h1M53.3 575.3h1M61 574.7h1M50.9 577h1M54.6 579.4h1M53.2 577.9h1M65.3 574.2h1M65.4 576.4h1M52.2 576h1M70.3 574.3h1M75 571.5h1M54.6 577.5h1M41.3 576.6h1M49.7 574.3h1M40.7 572.9h1M49.2 574.2h1M44 577.9h1M60.8 576.9h1M50.4 576.7h1M57.9 581.9h1M62.1 570.9h1M48.3 576.2h1M66.3 577.3h1M59.9 571.9h1M52.1 573.6h1M57.7 573.5h1M56 578.3h1M59.6 573.5h1M68.9 573.7h1M49.6 575h1M63.8 574.4h1M44.2 572.9h1M45.6 574.1h1M58.4 574h1M60.2 573.4h1M53.9 577.1h1M49.8 574.5h1M50.2 575.9h1M66.7 568.8h1M61 576.8h1M45.2 568.5h1M55.1 580.7h1M56 570.8h1M51.2 573.9h1M52.3 576.3h1M58.9 574.3h1M68.1 578.1h1M43.4 585.1h1M49.5 575.2h1M74.7 575h1M55.9 571.6h1M60.2 575.3h1M52.4 575.7h1M58.7 576.8h1M62.9 576.4h1M40.4 579.4h1M58.6 574.8h1M62.9 574.8h1M63.3 582.3h1M50.8 575h1M51.9 568.8h1M69.5 579h1M57.3 581.1h1M64.9 582.1h1M52.4 574.2h1M46.6 585.2h1M60.6 579.7h1M67.6 579.2h1M52.1 578.3h1M43.4 581.3h1M48.1 574.8h1M70.2 566.4h1M53.2 575h1M60 576.7h1M64.7 571.5h1M78.8 579h1M56.2 575.7h1M48.7 584.3h1M61.7 575h1M65.3 570.4h1M63.8 573h1M65.2 580.9h1M48.4 568.3h1M69.7 578.1h1M44.4 582.2h1M52.2 574.4h1M46.2 573.3h1M41.9 587.1h1M56.5 572.2h1M46.9 580.3h1M47.4 578.5h1M63.9 576.6h1M62.3 574.4h1M61.8 579.6h1M40.2 579.3h1M73.4 576.8h1M55.7 569.9h1M68.1 572.7h1M57.9 580.9h1M74.2 570h1M51.7 568.5h1M62.9 580.5h1M59.2 572.9h1M64.2 569.8h1M58 583.3h1M65 569.4h1M58.7 571.7h1M42.1 581.6h1M57.5 577.8h1M50.4 573.9h1M71.2 570.2h1M61 579.2h1M50.8 569.6h1M48.6 580.9h1M59 581h1M58.2 578.8h1M42.4 580.2h1M53.7 578.3h1M65.3 575.2h1M50.3 575.3h1M53.5 582h1M71.3 577.6h1M50.8 574.5h1M56.3 579.9h1M48.8 578.2h1M58.3 583.4h1M57.6 576h1M44.6 574.6h1M51.5 568.6h1M54.5 581.8h1M46.7 576.8h1M52.4 575.6h1M74.1 579.5h1M47.4 579.5h1M42.2 577.5h1M57.2 569.5h1M57.5 568.3h1M62.8 576.2h1M66.5 571.1h1M46.5 574.6h1M67.7 566.6h1M44 573.9h1M48.3 571.5h1M46.3 578.7h1M50.5 576.3h1M42.3 580h1M77 578h1M62 573.6h1M54.8 574.6h1M46 574.1h1M64 573.9h1M45.9 583.1h1M63 578h1M74.2 576h1M47.9 579.2h1M70.8 579h1M57.9 577h1M65.7 572.2h1M55 581.4h1M44.4 574.6h1M53.9 572.8h1M43.6 576.3h1M44.5 579.6h1M61.4 575.3h1M59.9 569.2h1M67.4 573.6h1M42.6 573.4h1M61.2 572.2h1M53.2 572.5h1M44.4 577.8h1M55 575.9h1M50.8 575.5h1M48.4 578.6h1M74.2 573.7h1M52.1 574.6h1M53.8 573.5h1M62.8 575.9h1M58.2 576.9h1M54.5 575.3h1M53 577.7h1M54.8 573.4h1M48.9 586.2h1M49.5 576.9h1M51.4 576.5h1M54.8 581.3h1M57.7 575.3h1M40.6 573.6h1M57.3 577.6h1M43.3 579.9h1M69.8 577.3h1M58.7 579.1h1M54 575.9h1M77.7 569.1h1M64.4 576h1M55.5 573.2h1M78.3 569.6h1M58.6 576h1M46.9 578.7h1M47.2 574.9h1M45.9 571.2h1M52.8 578.9h1M67.1 580.1h1M51.5 572.1h1M68.8 578.5h1M46.7 576.3h1M57.2 576.5h1M59.6 574.2h1M43.4 572.5h1M46.9 579.6h1M65.1 580.9h1M54 581.1h1M63.4 576.9h1M57.5 575.1h1M61.9 574.7h1M49.7 582.6h1M63.9 572.6h1M53.8 575.7h1M65.4 577h1M51.1 568.2h1M64.2 577.9h1M56.8 575.7h1M64.8 580h1M72.2 579.6h1M50.6 569.1h1M70.7 573.6h1M58.5 583.3h1M66.1 576.3h1M58.4 582.5h1M59.7 575h1M53.1 571.8h1M58 575.3h1M78.9 575h1M61.3 572.1h1M42.4 577.2h1M43 582.5h1M41.6 579.4h1M68.8 573.3h1M69.1 574.4h1M54.8 579.2h1M48.2 574.7h1M58.9 579.9h1M72.4 571.6h1M58.1 570.5h1M77.2 574.3h1M47 575.9h1M59.1 574.4h1M62.7 577.6h1M76.1 566.8h1M59.9 577.7h1M65.5 575.4h1M40.4 577.3h1M52.6 577h1M58.5 577.9h1M47.6 573.4h1M49.5 575h1M53.8 574.2h1M65 575.2h1M49.7 574.6h1M55.8 575h1M40.3 572.5h1M48.8 567.4h1M60.9 578.4h1M64.6 570.4h1M67.5 569.3h1M40.6 575.2h1M58.7 578.3h1M50.3 579h1M59.4 572.4h1M52 575.3h1M48.4 575.5h1M54.1 575.6h1M53.5 578.1h1M51.5 575.1h1M51.6 574.1h1M43.6 581.1h1M74.6 582.9h1M49.2 579.4h1M50.2 573.7h1M51.6 580.4h1M60.1 579.1h1M57.8 565h1M53.7 574.5h1M45.7 578.1h1M53.2 578.3h1M60.3 573.4h1M54.5 579.4h1M55.3 577.3h1M53.3 573.4h1M42.1 578.7h1M56.7 574.2h1M52.9 576.8h1M53.3 572.8h1M69.2 577.8h1M61.8 575.6h1M60 576.7h1M61.5 575.6h1M41.9 577.2h1M58.2 572.3h1M70 580.3h1M62.7 576.4h1M51.5 577.6h1M77.5 572.5h1M59.7 575.3h1M55.7 575.3h1M44.3 568.9h1M63.3 579.9h1M50.8 573.6h1M47 578h1M51.8 583.6h1M58.3 567.6h1M70.1 572.7h1M69.5 566.3h1M56.9 577.5h1M57.9 570.4h1M53 579.3h1M71.2 579.8h1M46.2 583h1M55.5 570h1M49.5 575h1M55.4 569.1h1M59.3 571h1M44.5 580.7h1M71.1 580.7h1M46.8 572.9h1M41.6 574.2h1M69.6 581.4h1M52 570.4h1M53.3 577.2h1M72.5 571.1h1M67.7 572.7h1M58.3 577.9h1M47.5 576.3h1M69.9 579.7h1M61.1 569.9h1M63.6 569.5h1M49 573.5h1M68.2 569.3h1M61.5 572.9h1M43.3 577.4h1M45.5 576.4h1M40.2 583.9h1M58.8 578.8h1M44.9 577.1h1M73.9 572.2h1M69.7 566h1M42.9 583.9h1M63.1 576.6h1M58.4 580.3h1M54.3 575.5h1M70.9 569.2h1M49.1 576.4h1M58.4 576.4h1M51.3 570.7h1M56.8 577.7h1M55.4 572.7h1M53.5 570.3h1M71.1 575.3h1M56.6 570.1h1M57.2 575.7h1M57.3 574.1h1M52.9 580.8h1M58 577.3h1M47.9 579.1h1M46.2 577.7h1M53.4 576.7h1M50.5 580.9h1M41.5 578.5h1M63.1 575.2h1M56.3 572.2h1M47.1 570.2h1M52.3 571.7h1M42.4 578h1M60.2 573.9h1M60.4 578.7h1M40.4 578.9h1M45.7 575.5h1M48 578.4h1M46.5 580.5h1M55.3 577.9h1M56.4 583.2h1M72.6 570.9h1M69 577.9h1M69.9 574.5h1M51.3 576.8h1M71.7 573.8h1M50.5 579.1h1M59.1 576.4h1M44.8 582.7h1M48.7 575.2h1M54.2 579.7h1M53.2 579.1h1M64.4 578.1h1M65.1 574.7h1M50.5 574.4h1M52.1 582.1h1M49.8 577.8h1M68.2 575.9h1M47.8 579h1M52.5 578.8h1M58 580h1M54.9 576.3h1M67.5 578.2h1M52.7 575.1h1M49.4 581.9h1M62.8 571.3h1M70 576.7h1M59.2 574.4h1M62.9 569.8h1M60.8 573.7h1M72.7 568.7h1M67.4 573.2h1M60.8 579.9h1M51.8 574.8h1M61.7 573.6h1M46.8 578.9h1M57.8 575.3h1M62.8 574.9h1M62.1 575.4h1M52.2 581.7h1M62 575.2h1M56 580.7h1M63.2 577.6h1M53.4 575.1h1M63.2 571.3h1M52.5 581.6h1M62.3 575.3h1M41.1 573.9h1M67.4 572h1M54.8 573.9h1M60.8 570.8h1M59.2 566.8h1M53.9 574.5h1M69.6 577.3h1M66.7 573.5h1M47.7 576.4h1M51.1 577.3h1M46.3 581.6h1M51.1 571.6h1M56.3 572.1h1M67.7 573.4h1M63.6 577.4h1M59.6 576.6h1M45.2 577.5h1M50.9 578.8h1M58.1 571.4h1M47.7 579.4h1M49.1 564.2h1M54.2 575.4h1M55.8 568.3h1M43.1 570.4h1M57.2 580.5h1M67 583.1h1M65.1 566.3h1M69.2 576.5h1M52.7 576.7h1M67.7 574.8h1M60.8 577h1M47 576.4h1M74.2 576.1h1M40.9 579.3h1M72.5 572h1M56.1 569.4h1M65.1 580.5h1M69.1 576.6h1M68.8 572.6h1M46.6 575.2h1M56.2 573h1M67.3 573.4h1M62.4 576.4h1M44.1 579.6h1M60.6 570.7h1M74 568.5h1M50 574.8h1M67.1 571.1h1M54.7 574.1h1M61.3 575.1h1M48.5 576.4h1M76.9 568.3h1M58.2 575.7h1M67.7 575.2h1M58.2 578.7h1M54.9 576.2h1M56.1 572.7h1M70.5 574.6h1M53.7 571.8h1M58.7 579.2h1M67.9 574.6h1M54.8 574.6h1M43.5 577.7h1M54.8 579h1M62.2 576.3h1M64.5 575.1h1M49.6 579.9h1M59.5 570.5h1M73 579.2h1M54.1 579.3h1M56 577.2h1M60.7 574.7h1M54.4 578.2h1M47.9 574.9h1M46.5 576.1h1M67.6 570.5h1M53.8 577.7h1M46.1 574.8h1M59 572.2h1M56.2 576.9h1M47.8 569.3h1M48.5 571.1h1M58.8 570.4h1M42.6 573.2h1M57.6 583h1M40.1 574.9h1M57.6 572.5h1M49.9 571.6h1M44.6 578h1M57.6 577.4h1M59.1 579.7h1M61.9 583.3h1M51.2 573.8h1M53.8 582.2h1M46.4 579h1M46.8 578.7h1M59.3 567h1M59.6 575.4h1M43 576.8h1M40.7 582h1M53.7 580.5h1M45.9 582.1h1M46.3 581.9h1M44.4 574.9h1M49.3 578h1M45.8 573.8h1M64.9 579h1M56.2 572h1M50.2 583.7h1M45.7 584h1M59.9 576.8h1M54.2 584.8h1M55.4 580.4h1M60.5 577.7h1M56.2 576.7h1M60.9 577.4h1M70 575.7h1M57.1 574.8h1M62.3 575.1h1M71.6 575.8h1M56.6 577.1h1M48.6 571.9h1M55.3 577.4h1M57.2 578.1h1M49.7 577.9h1M49.7 575.1h1M58.7 576.6h1M66.5 576h1M51.2 575h1M70 571.9h1M53.1 573.9h1M53.1 574.6h1M60.1 578h1M73.8 575.8h1M54 573.8h1M64 581.6h1M70.3 575.1h1M59.4 570.2h1M54.8 583.8h1M58.9 583.3h1M42.7 576h1M56.9 580.7h1M56 578.2h1M64.7 572.6h1M56.6 579h1M58.8 575.9h1M45.3 574.6h1M62.7 575h1M53.6 579.4h1M54.6 578.8h1M60.9 572.2h1M45.4 574.5h1M42.4 575h1M60.5 578h1M47.6 573.6h1M56.4 577.5h1M66.4 572.6h1M63.1 574.3h1M55.5 575.1h1M49.2 575h1M45.7 574h1M61.7 574.6h1M46.8 577.1h1M45.8 574.8h1M61.5 574.3h1M55.4 578.5h1M40.6 575.1h1M66.5 577.2h1M54.6 571.7h1M63.2 575.2h1M62.5 575.1h1M52 577.5h1M57.5 576.2h1M44.6 581.5h1M44.8 578.3h1M55.3 578.5h1M61.2 573.2h1M50.1 577.6h1M59.6 576.6h1M48 571.4h1M55 575.6h1M46.3 581.3h1M68.8 575.9h1M66.8 572.8h1M49.1 574.2h1M64.6 582.4h1M65.3 577.8h1M60 573.8h1M49.6 578.9h1M64.6 567.9h1M49 574.5h1M43.2 580.5h1M58.5 580.7h1M57.1 582.1h1M55 573h1M54.9 573.2h1M43.9 578.9h1M44.8 575.8h1M45.7 575.8h1M61.3 571.8h1M64.9 575.2h1M41.8 575.2h1M65.8 573.3h1M69.6 574.3h1M45.9 578.4h1M62.7 580.4h1M54.9 575h1M42.7 579.9h1M72 582.1h1M50.7 578.8h1M49.7 580h1M55.3 573.1h1M64.9 579.7h1M58.4 577.5h1M41.4 573.5h1M63.5 573.4h1M45 576h1M45.2 572.6h1M62.3 571.8h1M61 577.4h1M59.7 580.4h1M49.4 579.2h1M71.4 579.4h1M47.8 573.1h1M70.9 573.2h1M59.2 576.2h1M73.9 575.1h1M67.8 577.2h1M60.6 571.9h1M43.6 574.5h1M52 579.6h1M71.5 575.8h1M74.5 565.2h1M59.2 573.8h1M57.5 576.9h1M48 584.1h1M61.1 577.5h1M47.1 574h1M54.2 573.1h1M72.8 568.8h1M55 573.8h1M49.6 581.2h1M53.5 579.1h1M69.7 578.9h1M55.2 570.7h1M56.8 577.5h1M71.5 566.6h1M59.9 575.1h1M65 574.7h1M63.6 578.9h1M65.8 572.5h1M55.9 574.2h1M49.2 571.5h1M52.1 577.9h1M77 576.9h1M63.5 574.8h1M67.3 578.5h1M66.9 577.9h1M46.3 575.7h1M45.4 574.6h1M69.3 574h1M49.2 568.9h1M44.5 575.4h1M45.3 578.7h1M60.5 571.9h1M43.4 582.6h1M64.1 569h1M56.5 576.8h1M60.3 573.4h1M51.6 579.3h1M55.3 582.2h1M45.6 575.9h1M42.2 578.4h1M76.4 574.3h1M60.8 569.8h1M56 567.9h1M61.5 574.3h1M75.8 571.9h1M57.9 579.3h1M50 579.5h1M55.3 567.3h1M61 574.2h1M64.5 575h1M56.2 567.5h1M50.9 577.6h1M49.9 572.1h1M63.9 576.7h1M63.1 572.8h1M63.3 583.4h1M56.9 580.1h1M52.9 574.6h1M58.9 576.1h1M76.1 577.1h1M54.9 580h1M54.9 578.4h1M69.1 573.4h1M53.8 577h1M62 572h1M67.8 574.6h1M43.8 582.1h1M61.1 577.2h1M50 573.7h1M67.9 568.7h1M48.2 571.8h1M40.7 577.9h1M59.3 579.1h1M47.3 571.1h1M65.2 571.4h1M48 576.3h1M74 578.1h1M52.5 582.8h1M43.6 571.7h1M51.1 571.7h1M58.6 576h1M51.2 581h1M58.4 574.8h1M62.6 571.9h1M65.4 571.2h1M68.8 574.6h1M54.4 572.4h1M42.1 577.2h1M58.4 572.3h1M65.4 576.6h1M58.2 578.9h1M57.3 578.3h1M54.5 584.1h1M64.9 577.5h1M54.2 574h1M51.9 574.3h1M74.7 566.4h1M58.7 569.7h1M50.2 569.6h1M54.8 576.5h1M72.4 573.5h1M73.9 567.9h1M66 572.5h1M67.2 569.4h1M42.1 582.2h1M55.8 573.6h1M59.7 571.3h1M48.1 581.2h1M61 576.2h1M63.5 573.3h1M44.4 573.4h1M60.4 577h1M59.7 568.8h1M50.2 574.9h1M60.5 570.9h1M57.8 576.1h1M63.4 573.5h1M62.7 574.2h1M63.8 570.8h1M54.8 578h1M48.6 577.2h1M50.3 573.9h1M53.4 572.2h1M74.4 581.1h1M46 573.3h1M59.1 580h1M53.8 571h1M55.4 577.2h1M50.7 581.3h1M50 570.8h1M48.2 576.2h1M58.2 577.7h1M61 579h1M55.1 584.2h1M60.2 575.9h1M52.8 570.8h1M55.2 573.5h1M62.7 574.6h1M56 570.4h1M48 576.5h1M48.5 575.4h1M44.5 572.8h1M52.1 579.7h1M48 574.2h1M51.2 577.2h1M56.7 576.8h1M41 578h1M57.2 583.3h1M71.1 579.7h1M64.5 572h1M66.8 570.6h1M53.2 578.4h1M66.3 574.6h1M61.5 572.3h1M45.5 577.4h1M54.3 575.8h1M55.5 576.4h1M60.2 575.3h1M58.1 580.2h1M57.8 574h1M66.5 577.7h1M45.9 573.2h1M73.1 573h1M54.2 573.3h1M67.1 573.2h1M56.7 571.8h1M62.2 578.5h1M46.3 578.9h1M56.8 577.3h1M55.8 574.4h1M59 578h1M62.8 568.5h1M59.1 575.2h1M61.9 576.7h1M66.1 583.1h1M49.1 576.8h1M50.3 578.5h1M66.4 579h1M56.4 573.2h1M58.6 577.8h1M47.5 574.1h1M57.5 576.9h1M62.9 576.1h1M59.9 569.6h1M63.4 574.8h1M54.9 574.6h1M46.7 586h1M72.9 578h1M43.9 576.5h1M53.6 578.8h1M53.1 578.2h1M54.3 573.2h1M51.7 580.1h1M55.7 572.2h1M59.3 580.5h1M64 578.8h1M69.9 576.3h1M65.5 569.7h1M61.1 574.1h1M55 577.9h1M49.9 574.6h1M53.9 573.8h1M48.8 580h1M40.2 575.5h1M43.5 578.4h1M71 576.6h1M68.5 573.7h1M43.2 578.8h1M60.4 575.8h1M52.8 579h1M48.5 577.4h1M40 578.8h1M62.6 576.9h1M49.2 571h1M42 576.3h1M55.7 576.8h1M53.5 575.1h1M66 574.7h1M52.2 575.9h1M49.6 577.8h1M74.7 582h1M54.5 581.3h1M44.2 577.5h1M77.8 582.6h1M71.4 574.1h1M43.1 582.1h1M63.8 575.3h1M71.9 568.5h1M40.9 577.9h1M56.5 577.2h1M47.3 575h1M77.9 570.7h1M58.2 579.8h1M58.8 575.9h1M48.4 578.4h1M51.6 573.8h1M54.1 579.3h1M62.4 576.5h1M51.2 577.5h1M57.9 575h1M45.5 575.8h1M63.6 578.9h1M51.3 573h1M56.3 572.4h1M56.3 568.7h1M50.6 578h1M64.4 571.4h1M58.1 577.5h1M46.3 574.8h1M46 578.6h1M45.4 583h1M60.4 576.2h1M49.3 577.6h1M58.2 576h1M68.8 572.3h1M52.5 581.1h1M41.3 568.9h1M49.3 577.8h1M57.9 577.1h1M67.7 570.1h1M73.6 570h1M46.5 578.5h1M67.7 575.1h1M58.5 576.9h1M49.8 573.1h1M56.8 573.7h1M61.7 577.4h1M60.7 576h1M44.8 575.4h1M52.6 577.2h1M62.1 577.1h1M58.6 574.7h1M47.8 579.8h1M60.1 578.3h1M45.1 575.1h1M53.8 577.7h1M58 571.8h1M52.9 579.6h1M58.1 574.5h1M51.5 582.1h1M48.2 583h1M43.6 572.3h1M58.5 574.3h1M43.4 573h1M62.4 574.8h1M41.8 573.5h1M57.4 577.1h1M63.4 574h1M57.3 580.7h1M54.8 578.7h1M71.4 571.9h1M53.5 574.6h1M59.3 573.8h1M62.1 574.7h1M61.2 568.3h1M59.5 575.8h1M43.4 577.4h1M62.6 574.1h1M67.2 571.2h1M59.6 577.4h1M67.7 573.8h1M53.6 573.6h1M72.9 573.2h1M78.8 572.5h1M45.9 578h1M43.7 577.3h1M54.4 579.5h1M73.3 571.8h1M55.2 580.7h1M62.3 570.5h1M44.7 581.1h1M71.7 574.7h1M45.9 577.6h1M69.2 574h1M43.5 577.1h1M62.8 576.8h1M73.1 582.3h1M47.8 583.3h1M59.4 573.7h1M53 572.2h1M66.4 570.9h1M56.5 582.1h1M72.1 577.6h1M63.6 572.3h1M40.5 578.7h1M63.9 578.5h1M55.5 573.8h1M46.6 574.7h1M57.8 573.9h1M48.4 572.8h1M63.3 567.6h1M67 572.8h1M40.9 574.5h1M48.3 578.1h1M47.3 572.9h1M67.2 571.7h1M50.8 578.2h1M44.5 578.4h1M58.3 564.6h1M52.8 577.7h1M52.9 570.6h1M50.3 575.8h1M55.1 577.9h1M57.4 581h1M54.6 583.3h1M51.1 580.4h1M54.2 576.4h1M65 572.8h1M58.9 572.8h1M54.4 580.4h1M51.7 574.8h1M60.8 574.8h1M65.9 581.8h1M42.7 572.1h1M63.2 572.6h1M65.6 577.6h1M54.5 575.3h1M66 575.7h1M48.6 577.8h1M60.4 574.8h1M49.7 582.8h1M50.9 582.7h1M66.4 573.8h1M46.4 577.8h1M65.3 574.4h1M52.9 575.2h1M55.2 581.5h1M40.8 582.1h1M55.7 573.9h1M57.3 577.1h1M60.2 580.5h1M46.6 574.7h1M69.7 570.2h1M58.3 579h1M54.7 575.3h1M54.4 574.6h1M57.9 572.9h1M44.2 577.8h1M53.1 574.2h1M54.4 573.2h1M67.1 574.2h1M56.6 569.3h1M68.7 579.9h1M47.9 575.7h1M68.2 575.4h1M47.7 575.2h1M43.3 578.6h1M59.4 578.1h1M62.7 568.1h1M53.9 582.6h1M65.3 577.6h1M60.6 579.3h1M50.1 575.6h1M47.8 575.5h1M63.9 574h1M48.6 575.7h1M57.5 580.1h1M68 575.9h1M68.4 576.3h1M67.6 574.8h1M63.8 577.6h1M44.6 575.1h1M52.8 577.6h1M45.3 577.1h1M57 574h1M58 574.3h1M52.9 578.2h1M49.3 573.9h1M69.3 579.4h1M51.8 582.1h1M47.3 573h1M48.9 575.4h1M68.1 578.8h1M66.7 571.1h1M49.8 577.7h1M53.8 578.3h1M65.8 578.2h1M65.4 573.3h1M43.2 578.4h1M51.3 573.8h1M46.4 575.2h1M60.3 577h1M50.6 573.2h1M49.2 576.9h1M58.1 574.9h1M51.3 577.1h1M50.3 572.1h1M55.8 582.5h1M63.6 574h1M73 570.5h1M47.4 578.7h1M62.9 578.1h1M72 571.3h1M50 577.7h1M61.8 575.1h1M49.9 570.2h1M62.2 579.5h1M61.4 575h1M67.8 581.9h1M61.2 575.7h1M61.9 577.8h1M65.6 573.1h1M63.3 578.7h1M68.8 581.8h1M78.2 574.6h1M55.3 576.7h1M61.3 577.8h1M66.5 578.2h1M71.9 580h1M52.3 580.3h1M52.5 572.2h1M66.4 572.1h1M47.2 573.4h1M55.8 573.5h1M41.2 576.3h1M53.4 578.1h1M55.8 580.5h1M49.8 576.1h1M53.4 571.7h1M60 578.4h1M54.5 576h1M51.6 577.6h1M68.2 575.8h1M61.4 575.1h1M40.1 575.9h1M64.1 573.7h1M55.2 578h1M48.3 574.4h1M61.5 574.5h1M67.6 582h1M53.3 582.2h1M57.6 576h1M67.8 575.7h1M63.5 578.8h1M59 573.5h1M69.6 570.3h1M53 573.9h1M57.3 576.9h1M43.7 577.5h1M72.2 575h1M49.7 583.4h1M58.7 577h1M42.5 578.3h1M40.6 577.2h1M60.9 575.3h1M61.4 579.1h1M51.1 571.8h1M49.3 578.2h1M52.9 575.4h1M77.3 571.2h1M49 570.1h1M51.2 576.6h1M44.3 578.1h1M50.6 580h1M52 569.7h1M44.9 578.8h1M47.6 577.6h1M55.9 578h1M48.2 579.7h1M56.2 570.2h1M77.5 568.3h1M57.2 576.9h1M59.6 576.7h1M40.1 580.2h1M47.6 576h1M58.4 571.7h1M64.1 580.9h1M57.3 576h1M46.9 582.8h1M50.9 574.8h1M66.9 570.6h1M56.2 568.3h1M50.8 578.6h1M66.8 572.1h1M52.1 577.7h1M49.3 570.3h1M59.3 577.5h1M58.4 568.5h1M58.5 574.5h1M55.3 573.8h1M56.8 574.3h1M70.3 577.4h1M56.4 577h1M48.1 573.7h1M72.1 570.2h1M57.6 573.1h1M55.6 572.1h1M51.8 574.7h1M72.8 575h1M49.4 573.2h1M67.5 569.6h1M71.4 574.4h1M44.8 579h1M68.1 571h1M64.6 570.3h1M54.4 575.2h1M56.1 577.3h1M63.2 575.7h1M53.8 574.6h1M55.7 575.8h1M51.5 578.5h1M76.9 573.3h1M59.5 574h1M56.9 580.6h1M59.8 579.7h1M62.1 573.4h1M50.5 574.3h1M60.6 572.4h1M56.2 573.1h1M40.6 573.5h1M51.3 579h1M58.6 573.8h1M62.4 579.2h1M55.3 578.4h1M61.1 574.8h1M50.6 576.1h1M56.4 574.9h1M61.9 573.5h1M51.7 576.6h1M45.2 574.3h1M62.9 577.8h1M51.6 573.4h1M44.4 581.8h1M48 584.5h1M66.7 574.8h1M52.7 580.5h1M49.1 576.3h1M59.8 579.9h1M56.6 578h1M63 576.1h1M45.7 571.1h1M42 577.7h1M47.6 576.5h1M43.2 576.7h1M62.7 571.1h1M61.9 572.9h1M58.2 582.5h1M56.8 578.3h1M52.7 578.5h1M42.7 573.4h1M53.6 578.1h1M40.2 579.4h1M59.5 572h1M43 584.5h1M64.7 572h1M70.2 576.5h1M58.9 579.3h1M65 567.7h1M44.3 578.3h1M52.9 573.6h1M60.3 576.3h1M48.7 573.4h1M75.2 576h1M50.8 579.4h1M54.9 578h1M69.2 576.6h1M48.9 581.3h1M57.4 576.4h1M65 574.4h1M67.3 566.7h1M64.6 576h1M46.1 573.7h1M61.4 572.7h1M54.2 573h1M51.1 579.8h1M51.6 571h1M48.5 572.1h1M43.3 577.7h1M50.2 579.2h1M69 573.1h1M65.3 578.4h1M51.3 572.8h1M40.9 581.5h1M56.1 579h1M50.5 576.8h1M59.3 575.6h1M78.9 572.2h1M44.6 575.9h1M69.3 577.8h1M45.3 584h1M58.8 572.1h1M54.2 579.1h1M61.1 583.6h1M57.5 572.3h1M48.9 574.9h1M42.3 572.5h1M56.5 571.7h1M49.3 570.5h1M65.6 573h1M62.5 572.6h1M65.2 577.6h1M61.4 573.9h1M59.2 578.8h1M65.8 574.3h1M52.4 574.2h1M53.6 574h1M56.3 576.4h1M42.1 581.2h1M53.4 567.6h1M51.5 577.3h1M50.8 574.2h1M53 585.7h1M59 576.5h1M68.2 572.2h1M52.1 575.6h1M66.6 569.8h1M53.4 577.1h1M77.8 570h1M63.7 571.9h1M44.3 572.7h1M61.4 578.5h1M60.9 571h1M59.2 576.5h1M51 575.5h1M60.8 572.9h1M65.5 578.1h1M58.3 578.3h1M60.5 580.6h1M55.4 578h1M42.6 576.9h1M56 576.9h1M64.5 574.4h1M58.7 572.5h1M49.9 575.8h1M68.6 570.9h1M44.2 579.9h1M60.5 577h1M45.9 584.1h1M48.7 572.9h1M52.9 571h1M73.2 566.1h1M60.5 572.6h1M63.9 577.9h1M57.5 572.8h1M62 580.8h1M48.8 574.3h1M59.5 570.8h1M62.1 576.9h1M51.9 570.1h1M46.9 573.9h1M57.3 578.5h1M43.3 578.5h1M43.3 576.2h1M53 573.1h1M56.8 583.8h1M60.8 576.3h1M47.3 575.4h1M41.2 575.8h1M70 579.7h1M54.1 573.9h1M69.2 574.7h1M56 571h1M40.7 580.4h1M67.3 575.4h1M57.7 573.9h1M58.4 576.6h1M42.4 575.3h1M50.3 578.3h1M57.8 580h1M54 574h1M68.4 570.2h1M40 576.4h1M55.9 574.9h1M58.6 570h1M65.3 573h1M41.6 575.4h1M59.4 575.1h1M60.1 584.9h1M53 576.6h1M53.6 580h1M54.8 577h1M56.2 579.9h1M40.6 578.3h1M54 577.2h1M57.2 579.1h1M51 573.9h1M62.6 576.6h1M56.9 580.3h1M54.5 578h1M49.4 582.6h1M67 567.6h1M62.1 577.6h1M58.3 583h1M60.7 581.3h1M60 569.5h1M58.7 584.1h1M53.6 566.4h1M62.2 574.6h1M42.5 581.3h1M49.2 580.5h1M56.8 577.4h1M54.5 580.5h1M61.3 574.5h1M52 578.5h1M44.2 576.9h1M53.2 578.3h1M45.1 579.2h1M45.3 574h1M63 579.3h1M61.6 578.3h1M53.2 577.1h1M62.4 571.5h1M43.4 581.3h1M55.2 573.6h1M47.5 579h1M50.7 575.4h1M57 573.8h1M56.1 575.2h1M59.9 577.6h1M64.7 579h1M77 578.4h1M68 573.8h1M45.6 575.9h1M71.7 572h1M73 566.7h1M55 576.7h1M51.7 573.4h1M57.5 577.8h1M52.4 581.9h1M53.2 574.5h1M58.5 576.5h1M64.4 579.6h1M68.9 576.1h1M43.9 580.5h1M41.1 578.1h1M53.3 579.6h1M54.3 577.2h1M53.4 573.5h1M61.4 575.3h1M54.9 568.8h1M57.4 577.1h1M49.9 572.2h1M56.4 569.1h1M41.9 578.5h1M65.9 577.1h1M65.9 571.5h1M49 573.1h1M55.1 579.2h1M68.1 576.7h1M55.6 576.6h1M49.8 573.1h1M61.8 568.3h1M66.2 568.4h1M52.1 574h1M58.2 579.8h1M66.2 577.2h1M76.2 577h1M50 577.6h1M56.7 571.8h1M45.6 581.1h1M67.3 576.5h1M71 582h1M41.8 575.2h1M73.3 570.9h1M55.2 573h1M73.4 569.5h1M46.3 572.5h1M66.1 567.7h1M54.2 575.3h1M52 573.8h1M49.4 571.9h1M44.3 582.6h1M61 573.8h1M59.5 570.7h1M45.6 577h1M69.6 582.3h1M61.3 580.2h1M55.7 576.6h1M53.5 573.4h1M49.4 577.6h1M59.9 574.4h1M60.6 571.2h1M73.1 575.3h1M54.9 576.7h1M76.8 580h1M50.1 577.6h1M53.5 573.1h1M62 573.9h1M58.1 577.9h1M61.3 574h1M58.9 570.7h1M69 579.1h1M63 575.2h1M50.1 582.9h1M68.9 576.1h1M42.9 578h1M63.6 572.3h1M57.8 572.2h1M54.1 577.1h1M41.7 579.5h1M62.7 574.5h1M61.8 571.7h1M56.8 574.1h1M56.1 569.7h1M45.2 586.3h1M59.5 570.7h1M49 577.1h1M56.8 585.6h1M52 579.9h1M61.5 577.4h1M53.7 574.2h1M61 571.8h1M54.2 578.6h1M65.7 570.2h1M58.3 570.4h1M65.7 579.2h1M64.1 578.7h1M73.2 574.3h1M58.7 576.6h1M45.9 569h1M58.5 574.5h1M69.7 571h1M55.7 577h1M68.5 575.1h1M41 575.5h1M44.7 575h1M66.3 570.2h1M44.4 574.8h1M53.2 575.3h1M52.6 574.4h1M55.7 579h1M57.4 581.5h1M56.1 578.3h1M42.4 573.9h1M42 569.7h1M43.9 574.8h1M40.5 580.3h1M65.2 573.5h1M74.4 573.3h1M63.3 577.6h1M42.4 579.3h1M43.9 581.9h1M42.2 577.1h1M57 579.6h1M72.5 578.1h1M44.9 578.4h1M44.3 576.4h1M77.7 569.2h1M59 569.7h1M44.2 573.7h1M46 577h1M55.8 578.1h1M48.8 572.3h1M71.2 571.6h1M49.6 575.2h1M40.7 575.1h1M40.5 576.8h1M60.3 579.1h1M45.8 577.6h1M67.5 573.3h1M41.2 573.9h1M64.7 578.4h1M52.6 582.3h1M66.2 575h1M66.5 570.7h1M46.7 578.8h1M61.5 571.8h1M58.1 571.2h1M52.9 573h1M59.4 573.8h1M59.6 572.8h1M53.5 579.9h1M61.1 585.1h1M58.3 579.5h1M63.7 572.2h1M44.7 579.5h1M57.4 578.9h1M57.2 567.8h1M57.3 576.3h1M51.8 576.5h1M43.5 577.4h1M47.3 576.9h1M54.1 585.4h1M56.3 574.8h1M71.5 576.5h1M57.6 571.4h1M50.3 572.8h1M65.4 576.4h1M60.3 581.8h1M70.3 574h1M68.4 577.2h1M64.7 571.2h1M62.6 576h1M47.2 580.5h1M50.9 575.9h1M60.1 580.3h1M60 584.1h1M61.5 574.4h1M57.3 579.8h1M75.7 570.1h1M64.1 568.7h1M40.5 582.2h1M57.7 567.7h1M56.5 574.9h1M61 579.2h1M51.6 580.8h1M54.7 573.1h1M69.8 574.6h1M63.3 577.7h1M69.8 576.6h1M68.8 570.6h1M58.4 574h1M57.5 574.1h1M45.3 578.1h1M63.9 570.5h1M60.7 572.3h1M51.3 579h1M64.6 582.9h1M64.1 572.4h1M44.2 577h1M66.4 576.6h1M62.1 569h1M61.1 576.2h1M46.9 584.3h1M57.4 572.3h1M50.4 573.7h1M46.6 582.7h1M48.6 574.7h1M53.5 573.5h1M56.7 578.1h1M66.1 580.7h1M69.5 566h1M52.6 565.2h1M71.6 574h1M46.3 579.6h1M48.9 573.2h1M54.1 576h1M61.2 574.6h1M60.6 575.7h1M56.1 575.9h1M42.5 580.8h1M45.3 579.5h1M60.5 578h1M78.8 568h1M64 564.6h1M60.7 572.7h1M43.4 577.8h1M64.6 578.7h1M48.9 574.4h1M57.9 576.3h1M54.9 574.4h1M58.9 569.8h1M49.4 573.6h1M47.9 578.3h1M41.7 569.3h1M51.2 576.6h1M69.7 569.6h1M61 575.9h1M63.8 570.6h1M56.2 572.8h1M51.3 572.8h1M58.7 577.6h1M44.5 578.2h1M56.5 572h1M64 575.2h1M41.6 574h1M47.6 571.9h1M51.3 577.1h1M42.9 573.2h1M55.6 571.5h1M54.4 574h1M69.3 578.8h1M50.4 578h1M57.1 574.6h1M41.2 573.4h1M52.5 574.8h1M56.7 576.5h1M47.3 574.2h1M69.6 571.1h1M50.1 571h1M54.8 578.2h1M55.4 580.1h1M60.5 581h1M78.4 577.5h1M60.7 579.7h1M58.2 578.3h1M58.8 578.5h1M72.7 576.8h1M55.8 581.3h1M44.6 575.6h1M57.8 572.9h1M42.2 574h1M58.2 572.8h1M57.7 580h1M61.6 576h1M72.5 573.6h1M63.2 578.2h1M46.4 565.8h1M44.8 575.9h1M53 575.2h1M51.5 567.6h1M43.6 574.1h1M64.2 575.8h1M42.4 578.2h1M58.2 580.6h1M66.3 576.4h1M72.6 569.6h1M55.7 571.6h1M50 570.3h1M77.3 576.4h1M65 584.9h1M48.1 576.9h1M51.7 569h1M62.2 573.6h1M62.4 570.8h1M72.8 572.5h1M69.6 574.8h1M47.7 575.5h1M55.8 573.1h1M65.1 580h1M73.7 575.4h1M49 578.5h1M74.5 568.1h1M51.1 576.3h1M52.6 577.8h1M45 577.5h1M47.6 576.6h1M50.9 574.5h1M76.6 572.9h1M51.1 574.2h1M74.1 578.3h1M66.9 577.6h1M63.2 574.1h1M49.6 572.1h1M66.9 572.2h1M62.9 577h1M72.2 573.2h1M55.8 575.3h1M43.5 576.8h1M65.8 573.9h1M44.1 583.5h1M62.8 579h1M59.6 572.9h1M41.8 585.3h1M58.7 575.3h1M76.9 570.8h1M50.8 583.4h1M53.4 579.5h1M52.7 579.5h1M72.6 574.1h1M60.2 577.3h1M45.8 573.4h1M44.9 582.6h1M76.1 582.9h1M44.6 574.9h1M53.7 575.2h1M52.9 573.2h1M69.9 574.7h1M64.6 573h1M61.2 572.1h1M53.9 575.6h1M49 575.5h1M44.3 578.5h1M48.7 572.6h1M60.3 580.4h1M51.2 577.1h1M43.5 584.2h1M59.1 582.4h1M52.5 575.6h1M48.6 572h1M56.6 577.8h1M61.1 577h1M47.6 570.4h1M62.2 573.9h1M58.8 573.8h1M55.6 573.8h1M63.8 573.7h1M42.5 575.2h1M62 574.3h1M54 579.3h1M50.5 575.7h1M43.3 579h1M61.3 573.5h1M56.7 577.7h1M57.9 580.7h1M55.7 581.9h1M62.5 570.2h1M46.3 577.8h1M48.5 578.3h1M54.1 571.2h1M58.9 570.1h1M48.8 577.1h1M60.8 572.9h1M64.1 577.3h1M46.7 574.3h1M74.2 578.2h1M40.7 584.3h1M65.3 573.7h1M47 578h1M61.9 568.1h1M67.3 571h1M48.8 581.2h1M52.3 582.5h1M53 579.8h1M46.7 580.4h1M74.4 574h1M76.4 572.1h1M56.3 576h1M54.9 569.2h1M43.3 577.3h1M57.1 574.4h1M48.5 578.3h1M62.2 576.3h1M60.1 578.6h1M61 575.2h1M71.3 568.1h1M48.4 573.6h1M50.6 572.6h1M47.9 565.2h1M68.8 580.5h1M53 567.9h1M55.7 577.8h1M57.3 574.6h1M61.4 576h1M49.6 578.6h1M51.8 579.6h1M75.8 573.7h1M73.7 576.4h1M76.5 571.5h1M77.2 574.6h1M48.9 577.6h1M60.7 578.6h1M54.2 572.8h1M58.8 579h1M49.7 581.9h1M50.4 578.2h1M50.8 580.9h1M54.5 573.3h1M47.2 581.7h1M80.1 571.5h1M78.2 564.8h1M88.7 566.9h1M81.7 569.7h1M78.2 568.1h1M80 576.6h1M72.9 571.1h1M78.8 566.8h1M87.7 577.9h1M71.9 571.5h1M72.9 570.4h1M81.4 569.4h1M72.7 578.8h1M79.5 577h1M75.7 574.3h1M66.2 577.9h1M65 576.9h1M75.4 574.3h1M71.8 579.8h1M87.7 569.7h1M89 570.4h1M79.1 569h1M81.5 571.3h1M61.7 577.3h1M65.1 570.9h1" stroke="#000" stroke-width="1" stroke-opacity="0.55" fill="none" filter="url(#dotblur)"/>
<path d="M60.4 577.8h1M64.7 580.5h1M71.3 576.6h1M43.9 579.4h1M49.5 573.6h1M50.5 568.2h1M55.8 575.8h1M66.2 568.4h1M57.4 583.8h1M60.9 577h1M40.9 575h1M66 569.5h1M47.6 567h1M54.8 580.3h1M56.1 569.1h1M49.7 578.6h1M53.1 578.7h1M56.7 583.7h1M50.7 581.2h1M46.1 574.2h1M48.1 579.3h1M65.8 567h1M50.9 576.1h1M60.9 580.7h1M51.7 582.5h1M46.1 590.7h1M55.8 577.7h1M46.2 576.1h1M51.9 572.1h1M47.2 583.9h1M42 589.2h1M48.6 584.3h1M59.1 567.3h1M63.3 576.2h1M63.4 580.9h1M44.4 583.3h1M47.3 579.7h1M40.5 572.4h1M52.1 571.5h1M60.4 574.2h1M72 570h1M57.5 568.9h1M50.3 578.7h1M40.7 578.5h1M54.4 581.7h1M40 577.4h1M55.3 586.8h1M48.8 570.4h1M68.8 571.3h1M44.2 581.9h1M77.6 568.6h1M56.5 557.8h1M66.9 565.1h1M76.1 579.7h1M49 574.5h1M64.5 567.6h1M57.7 577.1h1M53.5 582.7h1M52.8 576.2h1M46.9 570.8h1M53.1 557.4h1M65.5 562.8h1M52.9 584.8h1M68.3 575.6h1M65.3 594.7h1M49 583.7h1M60 564.7h1M47.6 573.6h1M59.6 584.7h1M58.7 571.2h1M54 573.1h1M49.9 588h1M66 574.6h1M46.2 581.1h1M57.7 565.2h1M43.1 590.6h1M62.2 579.4h1M66.4 583.7h1M58 569.7h1M57.4 582.3h1M47.3 573h1M49.1 583.5h1M75.2 566.4h1M56.8 574.7h1M76.4 559.3h1M43.1 588.9h1M58.6 569.6h1M57.8 578.6h1M66.8 583.3h1M49.4 569.7h1M61 568.8h1M59.4 566.3h1M42.2 579.8h1M55.6 582.3h1M42.9 564.8h1M42 585h1M61.8 567.1h1M52.5 575.2h1M45.2 579.6h1M47.3 587.5h1M54.8 575h1M53.8 576.5h1M48.3 573.1h1M50.7 579.8h1M62.4 582.5h1M53 582.7h1M49.8 565.8h1M41.4 572h1M52.7 586.2h1M40.5 569.8h1M51.9 558h1M43 579.5h1M51.5 574.7h1M64.6 566.1h1M49.2 575.8h1M60.9 586h1M47.7 582.8h1M45.7 573.4h1M63.4 591.8h1M65.1 579.8h1M71.3 569.6h1M54.5 558.2h1M58.3 574.9h1M58 560.3h1M71.9 580.5h1M44.3 569.9h1M52.7 555.9h1M68.4 581.5h1M56.4 576.8h1M45.5 571.3h1M47.2 573.9h1M44.9 576.9h1M63.7 575.9h1M54.2 564.8h1M67.3 575.2h1M59.5 588.5h1M58.2 561.1h1M47.6 579.3h1M62 567.6h1M60.1 570.7h1M46.5 573.8h1M58.5 560.5h1M40 572h1M47.4 582.2h1M71.3 581.9h1M50 580.3h1M51.5 572h1M65.6 559.9h1M72.4 569.8h1M59.5 561.7h1M70.9 589.3h1M51.1 563.1h1M63.9 588.3h1M45.7 576.6h1M77.7 576.3h1M44.1 579.4h1M60.4 560.6h1M63.6 577.1h1M58.2 573h1M64.2 566.5h1M56 587.7h1M62 594.2h1M41.4 580.8h1M42.2 578.1h1M71.5 574.3h1M53.8 584.7h1M52.9 559.2h1M69.9 584.6h1M63.8 585.3h1M53.9 568.7h1M41.4 565.1h1M49.2 571.5h1M62.3 576.7h1M45.3 582.2h1M45.3 572.8h1M60.3 596.1h1M58.3 588.4h1M49.9 582h1M42.1 582.5h1M44 587.1h1M61.5 582.4h1M50.5 588.2h1M54.1 577.4h1M60.5 577.6h1M53.2 573.6h1M61.6 566.8h1M77.4 577.9h1M47 575.9h1M78.3 571.7h1M58.1 573.5h1M44.6 573.6h1M76.3 588.1h1M50.6 587.3h1M63.9 592.4h1M49.7 587.4h1M52.6 570.6h1M62.9 573.3h1M57 576.1h1M48.9 563.4h1M48.4 570.6h1M46 573.3h1M67.6 580.1h1M66.8 575.8h1M59.3 583.7h1M48.1 571.8h1M52.1 576.9h1M50.9 583.3h1M51.1 562.6h1M60.4 566.6h1M58.4 573.8h1M52.5 589.1h1M50.9 566.9h1M56.4 583.4h1M46.3 570.9h1M46.9 590.3h1M52 576.1h1M50.5 584.5h1M49.5 571.3h1M47.8 569.5h1M55.9 578.7h1M48.5 577.5h1M53.3 572.3h1M61.8 553h1M62.8 568.7h1M50.4 577.7h1M45.8 563.4h1M59.4 575.4h1M58.3 566.3h1M64.1 575.1h1M73.5 579.9h1M67.6 573.4h1M60.9 570.6h1M51.2 577h1M75.7 576.3h1M45.3 572h1M64.8 575.4h1M49.2 578.8h1M53.1 580.6h1M62.3 571.4h1M60.2 572.8h1M47.5 581.8h1M56.2 566.8h1M60.8 580h1M55.9 576.2h1M45.3 592.6h1M72.2 574.6h1M45.8 585.5h1M65.7 590.3h1M64.3 577.7h1M66.9 566h1M45.8 566.4h1M65 587.3h1M52.4 587.7h1M49.5 586.3h1M40.7 594.5h1M44.5 573.2h1M63.7 577.6h1M47.9 576.7h1M59.3 583.1h1M68.8 570.4h1M75.9 581.7h1M55.1 570.5h1M47.8 577.6h1M63.9 590h1M52 560.5h1M63 589.3h1M65 589.9h1M40.2 576.7h1M64.3 581h1M43.8 580.4h1M57.3 566h1M73.6 568.5h1M51.7 564.5h1M69.7 569.1h1M47.1 581.2h1M48.5 561h1M47.7 587h1M50 570.4h1M71.9 575.9h1M41.9 574.3h1M59.5 579.2h1M42.8 575.2h1M60.4 580.8h1M44.8 567.5h1M58.3 572.6h1M55.6 568.2h1M54.4 587.1h1M59.3 579.2h1M52.4 581.6h1M48.4 587.3h1M60.5 564.7h1M46.8 559.2h1M51.7 579.8h1M50.4 570.2h1M62.5 580.7h1M44.1 579.7h1M53.7 574.9h1M46.1 577h1M48.5 582.9h1M64.5 582.1h1M61.4 585.9h1M60.1 569.3h1M55.4 565.6h1M51.5 563h1M61.3 565h1M48 572.8h1M72 567.9h1M50.1 566.8h1M52.3 576h1M48.8 577.3h1M75.4 566.7h1M52.2 564.1h1M62.9 584.8h1M57.1 589.9h1M72.5 589.4h1M71.1 568.5h1M48.1 580.6h1M52.4 575h1M54.7 581.4h1M56.3 583.8h1M46.2 571.8h1M53.7 575.3h1M61.3 584.5h1M53.8 568.5h1M49 569.2h1M50.7 583.7h1M62 593.3h1M50.2 573.4h1M57.3 569.8h1M64.4 588.4h1M58.7 571.9h1M54 579.7h1M44.4 572.8h1M55.8 565.1h1M73.9 575.3h1M50.8 569.9h1M53.4 588.2h1M71.3 574.9h1M74.2 559.2h1M45.9 579.5h1M61.3 566h1M54.9 579h1M74.3 561h1M45.5 564.9h1M58.3 567.2h1M53.8 574.3h1M56.5 562.6h1M66.7 558.3h1M60.9 565.8h1M56.4 574.7h1M41 563.1h1M55.9 560.6h1M55.3 563.8h1M48.2 582.3h1M50.7 581.6h1M69.3 565.2h1M44.1 577.8h1M61.5 590.8h1M51.4 573.4h1M58.7 586.6h1M52.5 574.8h1M43.7 566.1h1M64.8 580h1M56 572.4h1M70.5 587.6h1M42.7 583.5h1M68.7 564.2h1M50.7 573.7h1M61.5 589h1M73.4 582.7h1M59.7 594.6h1M43.6 582.2h1M45.1 577.6h1M61.1 573h1M53.3 560.5h1M47.1 587.1h1M60.7 568h1M44.2 576h1M69.4 566h1M52.6 582.1h1M42.5 595.4h1M46.2 578.5h1M51.7 580.5h1M58.8 564h1M47.2 574h1M47.6 576.3h1M49 578.2h1M71.3 577.4h1M57.9 553.6h1M59.4 567.9h1M46.1 585.3h1M64.9 575.9h1M47.2 558.5h1M52.6 572.6h1M58.2 580.7h1M47.6 581.9h1M57.6 589.1h1M54.2 579.7h1M53 574.2h1M53.9 592.2h1M44.1 590.4h1M49.7 592.5h1M60.1 589.4h1M48.9 576.6h1M43.5 583.4h1M55.2 578.1h1M63.5 573.7h1M72.6 573h1M71 582.9h1M69.5 578.4h1M55.4 576.4h1M60.4 577.5h1M62.1 554.5h1M62.3 571.3h1M73.2 578.4h1M60 564.9h1M41.9 584h1M42.3 574.4h1M63 584.7h1M53.3 579.2h1M61.4 561.5h1M60.3 564.4h1M44.3 576.2h1M68.3 577.9h1M55.5 573.2h1M57.7 572.6h1M62 591.3h1M64.9 580.9h1M50.6 586.3h1M68.8 574.2h1M65.3 586.5h1M42.8 579.1h1M69.7 566.3h1M58.1 578.9h1M51.6 573.7h1M48.9 566h1M52.6 570.8h1M49.1 581.3h1M76 575h1M57.2 585.4h1M52.9 577.7h1M43.5 578.5h1M59.9 573h1M44.5 595.7h1M54.6 583.8h1M50.3 595.6h1M42.5 578.3h1M46.5 582.6h1M43.1 570.2h1M45.5 583.3h1M51 579.1h1M62.6 579.5h1M58.4 578.5h1M61.8 580.4h1M47.1 567h1M60.2 565.4h1M50 579.5h1M57.2 578.2h1M66.7 577.4h1M49.2 574.6h1M42.5 567h1M45.1 584.1h1M49.1 573.9h1M68.4 555.9h1M48.8 579.4h1M62.3 585.7h1M66.4 583.5h1M59.4 577.3h1M66 581.2h1M56.7 576.2h1M63.1 579.8h1M42.4 577.2h1M51.7 577h1M47.4 568.7h1M47.9 570.9h1M43.8 566.4h1M52.5 575.6h1M55.8 571.2h1M57.9 579.2h1M53 592.8h1M58.1 584.5h1M56.9 577.3h1M59.2 578.1h1M61.3 577.4h1M57.2 581.9h1M48.7 586.5h1M54.9 571.3h1M58.1 575.9h1M64.5 587.2h1M67 571.9h1M58.8 573.3h1M46.5 577.2h1M50.2 571.3h1M63.4 568.3h1M42.7 592.1h1M69.8 548.3h1M84.6 591.4h1M76.3 564.6h1M78.3 573.3h1M78.8 576.1h1" stroke="#000" stroke-width="1" stroke-opacity="0.3" fill="none" filter="url(#dotblur)"/>
<line x1="6.4" y1="522.4" x2="6.4" y2="576" stroke="#000" stroke-width="1.3"/>
<path d="M6.4 517.4L2.6 524.3L10.2 524.3Z" fill="#000"/>
<text x="12" y="598" font-size="14" text-anchor="middle" transform="rotate(-90 12 598)">CD41</text>
<text x="42.8" y="648" font-size="13.4">PAC-1</text>
<line x1="84.6" y1="643.5" x2="136.7" y2="643.5" stroke="#000" stroke-width="1.3"/>
<path d="M141.7 643.5L134.8 639.7L134.8 647.3Z" fill="#000"/>
<rect x="156" y="519.9" width="99.7" height="99" fill="none" stroke="#000" stroke-width="1.8"/>
<line x1="153.4" y1="519.9" x2="156" y2="519.9" stroke="#222" stroke-width="1"/>
<line x1="153.4" y1="543.75" x2="156" y2="543.75" stroke="#222" stroke-width="1"/>
<line x1="153.4" y1="568.5" x2="156" y2="568.5" stroke="#222" stroke-width="1"/>
<line x1="153.4" y1="593.25" x2="156" y2="593.25" stroke="#222" stroke-width="1"/>
<line x1="153.4" y1="618.9" x2="156" y2="618.9" stroke="#222" stroke-width="1"/>
<text x="148.7" y="632.8" font-size="10.7">10</text><text x="161.4" y="627.2" font-size="5.3">0</text>
<line x1="156" y1="618.9" x2="156" y2="621.5" stroke="#222" stroke-width="1"/>
<text x="173.15" y="632.8" font-size="10.7">10</text><text x="185.85" y="627.2" font-size="5.3">1</text>
<line x1="180.32" y1="618.9" x2="180.32" y2="621.5" stroke="#222" stroke-width="1"/>
<text x="197.6" y="632.8" font-size="10.7">10</text><text x="210.3" y="627.2" font-size="5.3">2</text>
<line x1="205.25" y1="618.9" x2="205.25" y2="621.5" stroke="#222" stroke-width="1"/>
<text x="222.05" y="632.8" font-size="10.7">10</text><text x="234.75" y="627.2" font-size="5.3">3</text>
<line x1="230.18" y1="618.9" x2="230.18" y2="621.5" stroke="#222" stroke-width="1"/>
<text x="246.5" y="632.8" font-size="10.7">10</text><text x="259.2" y="627.2" font-size="5.3">4</text>
<line x1="255.7" y1="618.9" x2="255.7" y2="621.5" stroke="#222" stroke-width="1"/>
<text x="151.2" y="508.5" font-size="14.8" font-weight="bold">F</text>
<text x="173.6" y="506" font-size="11.3">10 <tspan font-family="'Liberation Serif', 'DejaVu Serif', serif">μ</tspan>g/ml PGN</text>
<text x="173" y="517.9" font-size="11.2">+ plasma</text>
<rect x="187.5" y="540.5" width="58.5" height="64" fill="none" stroke="#222" stroke-width="1.5"/>
<text x="222.5" y="599.2" font-size="11" text-anchor="middle">20%</text>
<path d="M170.3 573.1h1M200.6 569.7h1M172.6 577.1h1M180.4 573.2h1M183.7 571h1M166 575.8h1M178.7 573.6h1M195.2 568.8h1M183 580.3h1M167 577.1h1M175.1 573.2h1M170.4 574.6h1M182.1 572h1M187.7 569.7h1M180.1 574.4h1M172.8 575h1M175.9 570.8h1M191.6 574.3h1M193.1 569h1M162 573.5h1M188.1 568.7h1M185.7 571.1h1M169.4 581h1M190.2 566.6h1M180.1 571.3h1M184.4 572.1h1M193.7 572.6h1M192.1 563.5h1M164.8 573.8h1M182.5 574.7h1M177.2 576.3h1M182.9 575.8h1M189.1 571.4h1M191.1 571.6h1M167 577.8h1M169.2 575.8h1M160.6 578.6h1M175.8 574h1M184.8 569h1M164.6 580.8h1M168.8 577.6h1M175.2 571.2h1M179 571.3h1M174.7 573.7h1M172.5 577.6h1M191.3 570.5h1M169.9 574h1M182.8 574.8h1M175.1 575.3h1M181.3 573.2h1M164.8 579.1h1M188.6 574.5h1M183 570.9h1M189.6 575.7h1M179.8 566h1M164.7 574.1h1M180.2 577.8h1M175.3 572.2h1M181.5 571h1M179 574h1M163.6 581.1h1M186 567.7h1M188.5 576.4h1M178 575h1M185.1 571.2h1M182.3 573.5h1M187.3 568.6h1M200.1 565.7h1M179.5 574.4h1M176.7 578.4h1M201.8 561.5h1M188.3 571.6h1M160 577.6h1M170.5 575.6h1M191.8 572.1h1M195.3 572.3h1M199 571.8h1M167.7 578h1M178.4 578.8h1M190.4 569.8h1M169.4 573.9h1M194.4 568.4h1M184 573.9h1M188 573.8h1M174.3 571.8h1M176.5 577h1M160.1 574.9h1M191.2 566.1h1M192.6 571.9h1M179.7 568h1M177.7 576.2h1M177.7 576.2h1M176.5 578.4h1M176.1 576.1h1M187.3 569.1h1M197 570.8h1M194.6 571.6h1M181.1 574.1h1M183 574.4h1M178.1 569.5h1M174.4 573.4h1M169.9 579.6h1M191.2 568.7h1M192.1 570.9h1M178.2 576.9h1M182.2 576h1M170.9 580.5h1M169.8 576.1h1M180 575.7h1M165.9 578.9h1M177.6 576.3h1M180.7 572.9h1M174.4 581.8h1M202.2 566.2h1M181.3 575.4h1M165.9 578.3h1M167.3 574.2h1M176.9 574.3h1M190.6 564.1h1M171.4 576h1M169.6 576h1M178.4 571.3h1M175.5 573.3h1M163.1 582.2h1M199.4 568.4h1M186.3 567.7h1M164.3 582.2h1M173.5 570.5h1M199.6 572.8h1M183.2 578.6h1M187.9 572.9h1M173.1 571.7h1M172.2 577.1h1M190.3 571.1h1M175.6 570.6h1M175.3 576.8h1M174.4 578.6h1M183.7 572h1M184.4 576.2h1M171.7 574.3h1M176.6 571.6h1M176.7 573h1M170.2 574.7h1M175.4 571.9h1M175.6 569.8h1M183.7 570.3h1M168.9 575.9h1M190.5 569.4h1M186.1 572h1M195.2 567.7h1M181.2 572.7h1M169.1 578.7h1M176.7 572.4h1M182.9 571.7h1M193.8 568.1h1M168 582.3h1M183.6 580.7h1M188.7 578.1h1M174.2 576.1h1M185.4 574.8h1M185.3 573h1M192.4 566.7h1M172.2 577.5h1M182.8 575.2h1M189.9 567.1h1M197.2 568.2h1M198.8 568.9h1M198.1 566.5h1M177.6 571h1M201.8 564h1M184.5 569.4h1M181.7 571.5h1M189.3 572h1M186.1 571.1h1M191.8 574.2h1M171.9 574.8h1M176 577.6h1M186 573.1h1M172.3 575.8h1M171.7 580.6h1M167 575.5h1M184.5 577.2h1M190.8 572.7h1M181.7 574.7h1M185 569.7h1M173.4 575.1h1M173.7 572.7h1M198.3 570.6h1M192.7 570.2h1M171.9 574.8h1M172.6 572h1M190.7 572.2h1M161.3 577.3h1M170.6 574.8h1M190.7 569.5h1M163 577.3h1M166.5 580h1M190.6 573h1M194.3 569h1M183.2 575.8h1M175.3 576.2h1M202.4 565h1M180.9 568.9h1M182.7 577.3h1M172 572.9h1M168.5 580.7h1M174.7 572.8h1M184.8 570.1h1M181.6 574.8h1M165.4 578.4h1M166.9 576.5h1M189.5 572.1h1M169.2 574.6h1M173.9 574.3h1M182 571.4h1M168.7 582.4h1M166 572.2h1M185.1 578.1h1M179.7 577.9h1M183.7 573.8h1M184.9 571.4h1M167.7 572.4h1M170.4 577.5h1M190.1 572.9h1M178.4 575.9h1M181 571.8h1M185.8 567.3h1M193.8 570.1h1M179.9 574.3h1M165.7 580.6h1M166.9 573.2h1M187 572.3h1M180 571.5h1M187.2 568.6h1M179.2 570.7h1M199.2 569h1M191.8 570.8h1M180.5 574.4h1M177 573.9h1M170.9 573.6h1M173.6 574.2h1M184.8 576h1M181.6 570.6h1M177.1 573.7h1M158.7 582.7h1M164.2 581.4h1M189.4 576.1h1M189.3 573.7h1M167.5 571.2h1M183.2 572.3h1M173.2 571.2h1M174.4 578.2h1M179.7 568.4h1M196.3 568.3h1M189.6 568.1h1M190.2 574.4h1M175.4 576.1h1M186.5 572.2h1M174.6 574.2h1M186.8 571.2h1M180.1 572.8h1M173.4 576.6h1M180.5 567.4h1M193.6 571.4h1M170.3 569.8h1M180.6 571.5h1M185.4 574.6h1M162.7 577h1M161.6 574.5h1M166.9 574.5h1M165.4 579.5h1M174.3 576.9h1M180.8 573.2h1M180.2 577.7h1M173.6 575.2h1M168 577.2h1M185.6 573.9h1M176.2 570.9h1M163.4 577.8h1M194.4 567.1h1M178.7 572.5h1M184.5 570.5h1M170.1 572.8h1M177.7 568.1h1M185.6 574.2h1M186.4 568.9h1M176.1 576h1M169.4 578.8h1M161.5 580h1M171.7 576.2h1M173.6 573.5h1M185.5 578.5h1M164.4 577.4h1M194.5 571.7h1M174.5 576.2h1M175.8 575.4h1M178.3 571.9h1M183.9 574.2h1M188.3 571.6h1M186.7 571.1h1M172.1 573.1h1M177.5 574h1M178.4 573.5h1M157.5 577.2h1M170.2 573.3h1M173.3 576.7h1M166.7 574.5h1M175.6 575.6h1M168.4 575.1h1M170.6 577.7h1M184.3 574.5h1M183.4 575.9h1M190.6 565.3h1M158.5 579.1h1M169.4 578.4h1M174.8 573.9h1M190.2 574.5h1M170 578h1M192.7 568.6h1M191.1 569.4h1M192 573h1M197.6 567.9h1M185.2 575.4h1M177.5 571.4h1M184.9 572.7h1M171.4 573.9h1M176.3 573h1M199.7 568.9h1M176.2 570.1h1M177.1 568.1h1M181.2 570.5h1M164.5 578.1h1M179.3 571.5h1M179.3 570.7h1M172.6 579.1h1M170.8 575.5h1M180.6 568.1h1M174.9 576.8h1M184.4 572h1M184.2 577.2h1M160.5 579.4h1M173.8 574.6h1M166.5 578h1M182.1 573.6h1M180.4 575.6h1M177.6 569.7h1M167.9 576.5h1M183.9 573.1h1M202.6 565.1h1M177.1 575.9h1M177.6 579.3h1M192.7 566h1M160.8 582.3h1M174.7 576.4h1M167.6 574h1M194.4 572.4h1M194.3 570.3h1M171.8 575.5h1M190 569.6h1M187.7 570.9h1M177.2 570.5h1M194.3 568.9h1M160.6 578.8h1M175.7 574.3h1M181.9 575.2h1M186.2 576.6h1M191.5 573h1M191.1 575h1M198.4 574.1h1M190.2 572.4h1M171.5 576.2h1M176.8 577.4h1M175.9 569.8h1M169.7 578.9h1M178.8 577.9h1M179.8 574.1h1M193.7 573.6h1M186.6 574.1h1M177.7 578.6h1M186.1 567.4h1M181.8 568.3h1M178.2 579.4h1M166.7 575.8h1M179.7 572.4h1M189.1 573.1h1M197.7 565.3h1M163.7 576.6h1M168.9 572.4h1M157.8 578.5h1M185.9 566.8h1M182.1 570.9h1M177.8 575.4h1M180.8 576.6h1M183.6 574.5h1M164.8 572.9h1M173.7 575.3h1M183.4 567.5h1M174.5 574h1M178.6 572.6h1M182.8 575.3h1M177.7 573.6h1M187.5 570.2h1M178.3 576.3h1M203.3 573.3h1M176.8 571.1h1M176.9 564.1h1M197.3 569.6h1M183.6 572.1h1M169.7 580.8h1M181.4 571.9h1M198.1 568.6h1M177.3 573.7h1M192.5 571.9h1M160.5 576h1M176.6 578.8h1M182 572.7h1M170.6 573.9h1M178.5 572.5h1M189.4 573h1M168.2 571.8h1M164.7 579.5h1M179.5 570.9h1M179.2 573.2h1M168.7 564.3h1M169.6 570.4h1M188.7 571.5h1M184.1 576.6h1M188.6 572.5h1M170.8 570.5h1M182.2 566.7h1M181.6 572.8h1M173.6 568.9h1M180.8 576.6h1M177.6 571.8h1M184.2 574.5h1M203.4 567.7h1M187 568.1h1M173.6 578.7h1M179.5 571.7h1M184.5 570.5h1M185.4 574.4h1M192.3 572h1M164.1 577.1h1M162.9 579.5h1M180.5 569.1h1M174.5 577.5h1M169.2 577.4h1M160.4 577.9h1M177.5 576.9h1M171.6 576.3h1M195.9 565h1M183.6 573.8h1M166.4 581.4h1M185.6 571.4h1M172.9 574.2h1M175 569.6h1M176.7 575.2h1M179.7 572.4h1M177 579h1M170.6 576.5h1M188.8 574.6h1M188.3 572.2h1M170.8 574.9h1M167.1 577h1M183.6 574.3h1M185 568.9h1M172.2 575.2h1M190.9 567.1h1M177 578.4h1M179.7 575.5h1M177 572.9h1M178.8 573.9h1M168 578.7h1M170.3 580.5h1M174.3 571.4h1M198.4 569.6h1M181.1 572.1h1M185.1 571.4h1M182.3 573.5h1M180.1 574.5h1M170.1 573.4h1M166.4 574.6h1M191.9 564.9h1M174.9 574.4h1M170.9 578.6h1M180.8 575.8h1M179.8 572.4h1M188.6 576h1M178.4 576.4h1M174.5 573.1h1M186.7 565.1h1M188 570.6h1M183.4 574.2h1M179 572.6h1M197.5 568.2h1M184.4 572.4h1M166.7 580.5h1M180.8 571.3h1M176.4 573.4h1M187.9 570.8h1M180 576h1M172.5 576.3h1M186.6 571.3h1M192.2 575.1h1M196.3 568.3h1M168.7 579h1M190.9 572.2h1M169.9 571.1h1M199.9 572.6h1M192.4 571.1h1M175.3 574.1h1M186.1 569.9h1M184.2 568.7h1M176.2 574.4h1M172.7 577.2h1M160.7 575.5h1M181.6 572.5h1M171.3 574.9h1M186.1 575.3h1M180.7 573h1M174.8 577.4h1M201.7 569.6h1M183.8 572.5h1M201.5 569.9h1M189.2 574.7h1M188.9 567.2h1M178.3 576.1h1M174.7 575.4h1M181.2 575.6h1M190.3 570.8h1M170.8 576.9h1M177.6 574h1M183.3 569.6h1M193.3 568.4h1M168.2 572.7h1M188.6 572.4h1M201.5 572.8h1M198.5 568.5h1M162.8 582.5h1M178.8 575.3h1M192.6 565.3h1M172.7 571.3h1M173.4 571.7h1M174.3 575.3h1M192.8 565.4h1M189.6 573.9h1M194.9 572.7h1M168 575.1h1M169.8 574.1h1M160.3 579.1h1M169.2 573.7h1M177.6 572.7h1M164.4 576h1M191.1 575.4h1M187.1 570.8h1M173.4 577.2h1M178.2 575.6h1M190.9 566.9h1M174.1 577h1M184.5 574.8h1M159.4 578.7h1M180.2 570.9h1M176.9 568.7h1M181.4 572.3h1M181.4 570.6h1M164.7 575.2h1M168.1 572.1h1M169.9 576.5h1M184.7 574.2h1M186.6 573.5h1M200.5 573.7h1M196.9 572.2h1M173.9 570.8h1M176 572.3h1M196.6 568h1M167 580.4h1M188.2 568h1M178.3 573.8h1M165.5 571.3h1M177.7 574.6h1M191.7 573.3h1M180.8 571.8h1M169 577h1M163.1 573.6h1M177.3 572.2h1M168 575.3h1M190.2 575.2h1M179.7 572.7h1M191.4 568.9h1M171 575.9h1M174.5 577.5h1M192.7 577.5h1M188.6 570h1M167.4 576.3h1M182.5 573.2h1M190 571.2h1M172.4 576h1M173.8 573.3h1M183.7 573h1M162.9 579h1M174.5 572.2h1M163.7 574.5h1M190.4 575.9h1M182.6 570.5h1M194.2 570h1M169.9 576.6h1M182 571.2h1M171.7 578.2h1M182.3 569.5h1M190.8 572.3h1M185.3 571.6h1M198.7 566.2h1M173.9 572.5h1M190.8 571.1h1M186.1 574.9h1M182 571.7h1M162.9 574.8h1M195.2 572.4h1M166.9 575.2h1M169.7 578.4h1M181.9 574.2h1M179.7 579.2h1M167.6 581.6h1M178.1 574.9h1M174.5 573.2h1M179.4 571.9h1M177.6 575h1M196.9 570.4h1M183.2 571.2h1M175.9 576.1h1M175 574.8h1M187.9 572.5h1M165.2 578.7h1M181.1 576.8h1M180.7 567.8h1M178.8 572.1h1M193.9 573.2h1M164.8 576.4h1M189.9 570.6h1M184.7 574.4h1M185.6 569.4h1M163.1 578.6h1M201.4 570.9h1M182.2 574.7h1M187.9 572.2h1M166.4 581.9h1M187.8 567.5h1M167.9 579h1M186.5 570.1h1M175.6 571.7h1M183.9 569.8h1M182.3 571.3h1M184.7 571.7h1M173.6 577.5h1M187.9 574.6h1M172.1 574.6h1M186 570.8h1M186.1 571.5h1M182.8 572h1M183 571h1M167.8 573.2h1M172.4 579.6h1M159.3 583.4h1M194.9 572.1h1M190.9 572.5h1M165.8 575.5h1M175.4 570.5h1M185.9 572h1M189 573.3h1M191.8 572.7h1M176.9 577.5h1M181.7 572.7h1M184.2 574.9h1M173.6 571.5h1M177.6 576h1M166.6 581.7h1M175.2 573.9h1M174.8 575.5h1M185.8 568.7h1M171.8 577.3h1M175.9 576.1h1M166.9 573.5h1M169.8 579.1h1M165.2 579.4h1M188.6 570.5h1M185.3 573.9h1M191.9 568h1M169.4 578.4h1M183.3 572h1M181.7 575.8h1M173.9 575.5h1M204.6 565h1M178 569.8h1M186.4 572.2h1M178.9 576.1h1M192.7 572.1h1M175.1 575.6h1M175.9 580.6h1M174.5 572h1M178.8 568.4h1M186.5 567.1h1M182.7 576.6h1M173.8 573.9h1M182.7 573.7h1M174.4 576.2h1M179.6 568h1M175.2 575.4h1M173.9 573.2h1M184.6 571.6h1M182.2 573.3h1M180.3 576.1h1M183.3 575h1M169.6 573.1h1M181.8 574h1M187 569.8h1M175.6 573h1M170.5 578.8h1M173.8 576.1h1M184.3 567.7h1M170.8 571.7h1M191 574.1h1M177.2 578.8h1M176.5 574.1h1M184.7 575.9h1M188.9 574.9h1M177.8 573h1M170.6 573.7h1M185.6 568.4h1M195 567.2h1M179.8 568.7h1M188.3 570.5h1M187.6 576.4h1M167.5 576.5h1M162.6 578h1M162.8 577.3h1M177.3 572.3h1M201.2 564.8h1M176.2 571h1M176.1 575.1h1M179.7 576.5h1M171.4 575.5h1M175.9 570.3h1M187.2 570.5h1M176.6 571.3h1M189.6 568h1M175.6 573.5h1M181.7 568.6h1M187.8 570.1h1M174.9 572.3h1M177.4 566.9h1M195.2 566.8h1M187.2 570.5h1M179.9 576.6h1M176.8 571.4h1M185.1 572.7h1M168.5 577h1M163.1 582.8h1M163.2 583.4h1M178.7 576.4h1M190.1 570.4h1M187.3 565.8h1M171.9 581.9h1M177.8 574.2h1M174.1 573.6h1M169.9 572.5h1M162.3 581h1M174.8 576.7h1M187.2 576.8h1M197.9 569.2h1M186.5 575.2h1M161.9 579.7h1M174.1 579.5h1M166.1 576h1M188.3 573.2h1M186.4 572.8h1M185.4 577h1M179.6 578.5h1M193.5 572.8h1M181.8 579.6h1M182.2 570.8h1M174.8 570.7h1M193.7 566.5h1M192 570.5h1M185.7 573.3h1M186.9 568.3h1M177.4 577h1M179.5 578h1M193.6 569.9h1M187.6 570.3h1M177.4 577.7h1M180.2 574.6h1M182.2 574.7h1M177.2 569.9h1M185 574.6h1M181.2 571.8h1M197.2 566.9h1M198.1 566.6h1M179.8 567.3h1M175.6 577h1M185.8 574h1M194.1 569.1h1M186.2 576.4h1M196.3 569h1M177.6 574.1h1M175.3 577.7h1M184.7 570.9h1M168.9 577.3h1M170.8 577.9h1M184.3 570.2h1M190.4 571.5h1M187.1 567.3h1M188.6 567.7h1M179.1 574.1h1M171.6 575.1h1M178.4 572.3h1M179 568.3h1M170.3 571.6h1M181.8 574.7h1M166.4 580.3h1M172.6 571.7h1M186.3 567.9h1M193.5 570.7h1M184.8 571.2h1M187.8 576.6h1M191.7 568.3h1M189 572.8h1M178.1 573.7h1M191.7 576.6h1M195.6 573.3h1M174 574.9h1M161.3 577.9h1M180.4 574.7h1M186 570.2h1M197.4 567.2h1M182.6 568.1h1M198 568.3h1M194.8 571.9h1M188.6 573.9h1M183.2 574.8h1M187.6 574.6h1M190.5 573h1M172.4 578.6h1M183.2 575.6h1M163.9 579.1h1M194.7 568.3h1M193.9 576.3h1M175.7 576.6h1M180.3 575.1h1M173.4 568.9h1M158.3 578.3h1M170.8 576.1h1M159.8 574h1M176.1 575.8h1M168.4 571.7h1M171.6 571.2h1M189.1 578.3h1M198.1 568.8h1M169.9 570.8h1M176.8 571.1h1M167.8 575.5h1M190.1 573.3h1M175.1 575.4h1M173.6 573.8h1M175.1 575.6h1M190.9 572.4h1M175.2 569.9h1M179.3 575.4h1M177.1 575.4h1M181.7 575.5h1M176.5 573.1h1M189 565.7h1M174.6 573.2h1M181.3 574.7h1M177.2 570.3h1M170.7 578h1M180.6 574.8h1M191.6 572.4h1M177.5 574.4h1M205.5 559.4h1M174.8 573.3h1M185.6 571.3h1M175.6 576.1h1M188.6 568.1h1M169.3 575.5h1M169.8 579.7h1M184.9 568.6h1M168.3 578.2h1M185.7 574h1M188.7 572.9h1M190.1 573.5h1M176 573.9h1M179.8 575.2h1M180.4 573.6h1M189.4 564.8h1M192.7 565.3h1M182.8 570.4h1M192.7 574.1h1M185.6 572h1M170.7 575.2h1M184.1 578.1h1M199.3 569.5h1M182.6 574.9h1M169.5 578.4h1M183 573.7h1M184.9 572.3h1M177.4 571.8h1M173.9 576.8h1M188.8 578.8h1M179.9 575.1h1M179.3 568.9h1M201.1 568.4h1M172.1 574.4h1M202.1 565.1h1M187 572.6h1M177.7 573.8h1M165.2 578.7h1M186.2 572.5h1M179.8 575.6h1M189.1 567.7h1M187.7 565.4h1M182.1 572.5h1M198.7 568.6h1M180.8 573.1h1M190.3 571.5h1M192.1 573.4h1M164.3 575.1h1M179.9 575.2h1M175.7 569h1M183 571.2h1M180.7 568.6h1M179.5 573.4h1M182.6 568.2h1M178.4 573.2h1M168.9 577.2h1M181.9 571.1h1M186.7 569h1M165.1 579.6h1M182 573h1M194.5 571.2h1M181.9 570.6h1M185.2 573.6h1M175.1 572h1M169.2 572.9h1M186.6 577.1h1M172.6 577.9h1M175.1 573.9h1M192.2 568.2h1M182.2 575.1h1M184.4 564.3h1M178.7 574.6h1M177.6 574.3h1M196 568.5h1M165.5 574.8h1M161 576.6h1M175.6 572.5h1M186.6 572.4h1M178.6 568.2h1M183.3 575.4h1M192.1 571.2h1M175.5 575.4h1M205.7 564h1M171.6 576.1h1M191.6 568.6h1M185.2 573.5h1M180.1 572.8h1M179.1 569.3h1M162.2 578.6h1M194.5 570.7h1M177.8 569.6h1M161.1 578.5h1M193.8 568.4h1M162.1 579h1M182 574.1h1M176.4 577.3h1M180.9 569h1M178.3 577.4h1M189.5 576h1M188.5 573.9h1M177.2 580.3h1M186.7 571.6h1M182.3 575.3h1M192.7 570.5h1M167.3 581.9h1M176.2 573.4h1M172.6 575.3h1M175.7 576.3h1M186.6 570.8h1M181 571.6h1M182.2 573.7h1M177.8 569.7h1M184.8 576.1h1M193.3 571.4h1M187.8 568.9h1M158.5 581.9h1M176 577.2h1M191.8 572.9h1M187.3 572.3h1M180.3 575.7h1M194.6 565.5h1M182.4 568.3h1M183.4 571.1h1M173.7 577.2h1M174.8 577.2h1M194.2 568.4h1M186.6 574.8h1M168 576h1M187.1 576.7h1M188.8 573.7h1M185.7 570.1h1M179.8 572h1M186.4 568.6h1M182.7 572.3h1M176.6 579.9h1M176.4 574.2h1M178.3 570.8h1M182.1 572h1M176.7 573.7h1M174.8 571h1M184.6 568.9h1M189.9 567.5h1M176.6 575.2h1M163.5 582h1M167.2 577.6h1M190 571h1M172.3 576.6h1M183.6 572h1M182.1 573.9h1M182.1 569.8h1M166.6 580.1h1M188.5 573h1M167.6 574.7h1M172.7 574.3h1M186.9 572.1h1M178.8 573.8h1M180.8 575h1M183.9 572.1h1M163.6 578.4h1M159.6 577.2h1M201.1 569.4h1M158.8 580.7h1M166.7 576.5h1M187.4 574.5h1M192.2 574h1M183.7 571.1h1M187.3 571.7h1M174.3 575.7h1M163.2 580.5h1M182.1 575.9h1M178.2 574.8h1M163.5 582.5h1M185.7 571.9h1M198.1 565.8h1M178.4 575.7h1M189.9 568.4h1M178.8 574h1M189.4 570.6h1M159.5 572.6h1M174.8 571.5h1M176.7 573.7h1M179.4 576.4h1M183.4 573.2h1M179.4 573.5h1M178.7 576.1h1M180.4 574.6h1M170.5 575.6h1M170 576.1h1M170.3 576.6h1M188.2 571.4h1M187 574.4h1M201.8 572.2h1M180 573.8h1M174.1 573.5h1M174.9 579.8h1M178.1 569.5h1M197.7 570.6h1M178.7 570.7h1M191.7 575.2h1M176.5 576.6h1M182.4 573.2h1M171.4 570h1M163.9 578.9h1M184.6 572.2h1M173.2 574.5h1M199.9 566.4h1M183.5 578.2h1M175.5 575.3h1M182.8 573.7h1M186 570h1M163.2 577.1h1M163.9 574.5h1M164.5 576.9h1M178 573.6h1M205.3 565.2h1M174.2 568.3h1M171.6 576.6h1M194.8 573.6h1M197.2 565.9h1M184.2 570.6h1M189.6 572.1h1M176 577.9h1M169.8 576.2h1M185.4 569.7h1M190.2 572.7h1M185.4 574.4h1M188.1 572.4h1M179.7 573h1M186.5 570.6h1M180.4 575.4h1M188.4 571.9h1M189.8 567.2h1M164.8 575.4h1M168.5 573h1M168.8 577h1M177.1 575.1h1M171.3 575.8h1M190.8 567.7h1M174.4 571.7h1M189.6 568.7h1M171.7 576.9h1M181.7 577.1h1M167.5 577.6h1M190.2 573.3h1M171.2 572.4h1M186.4 572.2h1M182 574.2h1M174.4 572.2h1M203.8 567.7h1M186.1 567.2h1M160 577.5h1M184.1 574.6h1M173.1 582.5h1M184.3 569.2h1M171.7 578.2h1M163.1 579.7h1M191 575h1M178.3 571.2h1M186.3 573.2h1M186.2 570.4h1M202.9 565.7h1M167.7 576.9h1M167.1 575.9h1M193.7 566.8h1M185.1 573h1M176.2 574.5h1M191.9 576.5h1M181.8 569.8h1M188.7 571.7h1M186.8 572h1M178.5 576.1h1M174.8 575.9h1M176 575.6h1M165.8 584.5h1M170.5 574h1M199.3 571.2h1M188.2 568.9h1M189.6 569.9h1M197.9 570.2h1M180.5 572.4h1M181.5 572h1M171.3 576.6h1M181.3 570.4h1M173.9 573.2h1M169.6 575.6h1M179.9 578.2h1M184.4 573.7h1M179.5 570.5h1M184.9 573.7h1M185 566.3h1M185.9 572.6h1M175.1 575.1h1M195.2 571.5h1M180.6 576.9h1M197.5 567.9h1M171.8 574h1M181.3 574.5h1M183.4 575.8h1M177.8 573.6h1M177.7 575.4h1M184.6 567.7h1M184 565.6h1M170.5 574.8h1M162.6 575.3h1M170 578h1M163.8 579.4h1M170.6 573.5h1M194.3 568h1M183.9 571.3h1M190.9 564.8h1M177.2 573.9h1M165.5 581.5h1M191.3 571h1M188.7 567.5h1M190.8 570.9h1M184.7 569.7h1M191.6 566.5h1M191.9 571.9h1M165 567.1h1M186.1 570.3h1M174.5 571.3h1M185.4 572.7h1M186.2 574.4h1M185.3 566.7h1M176.3 575.8h1M182.9 573.3h1M180.5 574.3h1M183.4 578.1h1M187.5 570.7h1M190.7 570.7h1M181 571.4h1M184.3 571.5h1M182.7 569.4h1M178 573.1h1M186.7 570.3h1M179.5 574.7h1M173.5 577.1h1M168.8 577.4h1M186.4 573.7h1M179 571.9h1M180 573.2h1M179.8 572.1h1M175 577.3h1M174.3 569.5h1M176 577h1M194.6 569.1h1M170.3 576.6h1M181.1 577.3h1M168.5 577.6h1M159.1 578.1h1M184.2 574.2h1M191.5 563.7h1M193.5 570.7h1M174.8 575.6h1M173.1 575h1M179.6 566.3h1M184 567.9h1M171.4 573.1h1M177 576h1M169 572.4h1M176.7 571.6h1M167.5 573.6h1M186.7 573.6h1M185 575h1M182 573.6h1M172.3 574.3h1M164.5 577.9h1M173.2 570.2h1M179.7 574.2h1M191.1 570.6h1M165.6 575.1h1M188.2 571.6h1M176.3 571.8h1M193.9 566.4h1M177.6 572.7h1M183.7 573.8h1M175.5 568.7h1M181 573.9h1M183.6 575.2h1M194.9 569.4h1M178.2 576.2h1M187.9 570.5h1M180 573.8h1M183.3 571h1M169.7 574.5h1M165.5 576.4h1M184.9 573h1M174.9 573.9h1M169.4 578.8h1M189.1 572h1M178.4 571.4h1M188.9 573.7h1M178.8 571.2h1M187.9 572.9h1M172.2 569.1h1M175.6 575.3h1M174.6 574.8h1M178.3 574.4h1M176.7 570.2h1M183.7 577.1h1M196.4 565.3h1M160.1 575.2h1M175.7 574.9h1M185.1 571.9h1M160.9 580.9h1M166.8 577.3h1M180.6 574.4h1M167.9 572.7h1M189.1 571h1M169.1 577.2h1M176.1 572.4h1M178.9 570.3h1M182.2 573.5h1M168.5 576h1M191.4 569.2h1M175.9 574.8h1M178.2 576.5h1M174 574.1h1M187.8 565.7h1M176.7 576h1M190.8 572.7h1M185.7 576.5h1M189.2 573.6h1M160.8 576.9h1M177.9 573.5h1M173 574.9h1M201 568.3h1M176.6 568.6h1M176.6 570.1h1M175.2 575.9h1M184.5 567.3h1M187.5 568h1M160.4 576.2h1M186.5 575.3h1M176.5 578.6h1M178.6 573.4h1M186.7 570.4h1M172.1 572.8h1M196.2 567.4h1M159 576.4h1M185.5 570.3h1M189.6 572.6h1M166.4 576.2h1M172.9 573.2h1M182.1 575.4h1M174.4 580.3h1M188.5 570.4h1M162.4 575.7h1M175.9 575.1h1M174.7 576.6h1M185.1 572.7h1M177.3 571.6h1M180.5 574.2h1M180.1 566.3h1M169.5 575.8h1M172 579.6h1M171.9 572h1M187.3 570.7h1M182 572h1M180.2 567.5h1M172 578.9h1M173.7 575.4h1M180 573.9h1M198.7 572.1h1M181.7 571.6h1M177.7 570.2h1M196.5 566.2h1M180.7 571.4h1M183.5 571.4h1M186.9 570.7h1M173.4 571.1h1M181 570.8h1M173.3 574.1h1M178.8 572.4h1M172.3 575.1h1M182.2 574.4h1M165.4 574.8h1M182.9 570h1M176.1 575h1M180.6 572.5h1M190.3 573.1h1M175.2 572.4h1M169 571.2h1M168.6 577.4h1M165.8 576.9h1M171.4 576h1M175.7 570.7h1M173.7 576.2h1M160.8 579.9h1M179.7 572h1M159.6 579.8h1M176.3 571.5h1M177.4 570.1h1M180.6 571.6h1M189.8 574.2h1M159.3 577.1h1M162.6 576.6h1M176.7 574.9h1M178.3 572.1h1M194.5 574.7h1M189.3 568.7h1M201.3 568.6h1M167.4 578.9h1M168.3 577.9h1M171.4 574.7h1M186.2 574.1h1M180.9 573.4h1M178.6 576.2h1M190.4 573.7h1M190 571.9h1M178.4 575.7h1M185.1 566.5h1M196.7 569.5h1M175.5 573.2h1M159.1 580.3h1M173 574.4h1M166 571.6h1M178.5 575.4h1M188.3 574.6h1M185.4 573.4h1M180 576h1M182.5 574.4h1M182.1 575.5h1M162.3 578.5h1M188.6 568h1M171.4 571.6h1M184.9 570.2h1M164.8 577.6h1M175.7 574.6h1M170.7 577h1M183.4 570.6h1M180.4 572.9h1M185.7 574.6h1M190.3 569.4h1M190 570.8h1M176.9 574.4h1M171.3 581.1h1M180.9 570.7h1M172.8 574.6h1M168.9 575.5h1M177.7 571.6h1M178.2 579.5h1M168.7 578.2h1M164.2 579.8h1M169.8 568.2h1M192.8 572.8h1M173.6 574.1h1M178.3 573.2h1M186.9 572.3h1M169.6 579.7h1M185.8 570.1h1M194.1 566.2h1M176.4 575.8h1M172 576.6h1M187.9 576.5h1M189.4 574.6h1M191.6 569.7h1M183.4 574.3h1M165.8 573.1h1M190.6 569.9h1M191.4 570.5h1M186 577.3h1M160.5 577.2h1M172.4 577.1h1M177.4 573.2h1M184.6 572.3h1M178.4 570.6h1M196.1 569.7h1M177 575.2h1M183.3 574.7h1M180.9 573.7h1M179.4 571.6h1M177.7 570.5h1M176.4 575.1h1M177.2 574.4h1M173.4 570h1M169.5 577.1h1M183.7 571.2h1M159.1 573.2h1M180.3 573.9h1M182.7 576h1M191.8 571h1M178.4 569.5h1M181 577h1M177.4 575.1h1M194.6 567.5h1M186.5 573.3h1M184 577.9h1M188.3 571.6h1M174.2 576.5h1M178.5 570h1M201.9 573.7h1M176.7 571.1h1M186.1 569.7h1M179.5 571.3h1M161.5 577h1M189.9 576.6h1M186.9 574h1M164.1 578.6h1M177.8 578.6h1M172.9 577.1h1M178.7 576.1h1M166.4 579.8h1M169.2 570.8h1M191.1 569.2h1M194.9 567.9h1M183.7 572.3h1M185.5 568.8h1M193.2 570h1M177 571.4h1M196.8 566.2h1M189.8 574.6h1M186.7 569.3h1M185 568.2h1M196.1 567.9h1M179.3 572h1M186.7 572.7h1M176.2 569.5h1M196 566.1h1M175.1 573.3h1M176.8 572.6h1M195.8 565.4h1M168.5 582.9h1M184.4 579h1M175.8 575h1M177.9 571.9h1M179 573.2h1M173.8 576.3h1M177 574.5h1M174 573.3h1M166.4 567.5h1M169.4 580.4h1M191.7 571.9h1M176 575.8h1M167.3 577.3h1M174.4 573.1h1M195.8 571.3h1M192.5 562.4h1M175.4 573.9h1M176.5 573.2h1M171.9 577.9h1M185.2 569.9h1M172.4 575.9h1M184.3 572.5h1M172.9 569.9h1M188.7 565.5h1M178.2 570.7h1M191 570.4h1M174.6 576.4h1M170.4 579.6h1M192.8 572.6h1M178 572.1h1M180.6 575.9h1M183.3 572.9h1M191.6 564.5h1M187.1 581.4h1M178.1 576.8h1M175.8 573.5h1M162.2 578.5h1M195.8 568.6h1M188.6 567.6h1M175.5 574.1h1M169.3 571.7h1M169.8 570.5h1M166.6 576.4h1M184.3 570.5h1M197.3 566.3h1M176.8 573.6h1M170.6 578.5h1M182.2 569.3h1M186.9 571.3h1M173.3 576.6h1M197.9 569.8h1M167.8 577.2h1M181.4 575.6h1M177.1 574.8h1M183.2 579.4h1M190.1 567.4h1M200.8 570.2h1M181.4 569.8h1M183.7 570.7h1M175.9 570.9h1M194.1 570.4h1M160.5 579.3h1M175.7 575.6h1M177.3 574.7h1M169.2 577.9h1M180.8 568.9h1M184.9 567.1h1M168.3 577.7h1M168.4 574.3h1M178.2 575h1M169.4 575.6h1M176.9 569.7h1M184.2 568.7h1M179.4 575h1M179.3 573.8h1M168.1 575.9h1M174.1 576.3h1M172.3 575.9h1M171.1 575.3h1M178.2 569.7h1M184.8 567h1M181.8 575h1M168.7 577.3h1M181.3 569.2h1M177 577.6h1M195.4 572.3h1M168.1 579.7h1M175.1 577.5h1M186 570.6h1M175.9 579h1M184.6 574.7h1M175.6 574.9h1M187.7 575.9h1M162.7 576.4h1M193.2 567.1h1M185.3 575.8h1M174.6 573.7h1M174.5 571.5h1M193.6 570.9h1M182.7 569.1h1M183.2 575.3h1M169.9 578.1h1M163.1 575.6h1M186.9 569.1h1M181.9 575.3h1M179.6 570.2h1M182.7 571.9h1M178.7 575.3h1M192.1 573.8h1M171.8 578h1M177.2 568.2h1M172.3 574.4h1M187.8 567.8h1M164.4 574.8h1M183 568.1h1M183.9 570.5h1M178.4 573.1h1M185 570h1M183.5 571.7h1M181.7 575.2h1M174.1 574.9h1M184.1 570.1h1M192.9 568.2h1M182.4 572.6h1M188.1 569.8h1M179.3 568.5h1M174.4 568h1M178 572.8h1M192.4 568.7h1M190.1 571.2h1M191 569.9h1M163.8 577h1M191.5 571.1h1M174 575.5h1M200.9 565h1M179.9 573.7h1M188.1 573.1h1M192.4 571.4h1M178.5 571.7h1M177.4 577.7h1M192.9 572.2h1M178.5 571.1h1M176 577.7h1M169.4 577.4h1M178.6 571.6h1M189.4 575.6h1M181.7 568.5h1M173.8 575.2h1M186.6 573.2h1M175.8 572.2h1M185.4 573.1h1M196.6 573.5h1M161.2 581.3h1M187.4 579.1h1M175.4 573h1M174.8 579.4h1M189.4 575.8h1M196.4 570.8h1M194.5 570.9h1M170.7 574.9h1M175.6 570.2h1M178 578.9h1M195.1 573.6h1M172.6 568.8h1M178.2 574.5h1M183.2 569.4h1M174 573.5h1M193.3 570.3h1M182.4 575.1h1M169.1 580.3h1M182 575.5h1M165.7 580.2h1M178.4 575.5h1M174.7 576.8h1M190.8 572.3h1M185.1 571.1h1M163.7 576.8h1M192.4 574.6h1M201.5 568.7h1M169.7 581.1h1M200.8 567.3h1M181.8 569.5h1M175.4 577h1M172.5 575.5h1M192.1 568.1h1M175.8 576.3h1M188.8 571.1h1M189.9 571.4h1M189.6 574.4h1M177.2 571.7h1M166.8 578h1M180.6 574.8h1M174.8 574.9h1M199.5 562.8h1M192.2 561.7h1M180.3 574.2h1M180.7 574.6h1M182 568.2h1M188.3 572.7h1M181.5 569.9h1M185.1 570.8h1M197.1 569.9h1M189.2 572.8h1M183.8 569.7h1M167.6 572h1M172.9 574.7h1M168 571.8h1M176 577.9h1M158.5 578.2h1M178.8 576.1h1M179.6 569.7h1M181.5 570.5h1M192.6 572h1M185.4 571.4h1M181.6 574.8h1M191.2 575.7h1M170.5 574.6h1M183.5 573.5h1M173.4 572.3h1M173 577.3h1M169 580.6h1M190.9 572.4h1M172.5 578h1M179.6 577.6h1M196.7 565.5h1M177.4 578.1h1M181.9 572.6h1M174 576.5h1M176.6 568.6h1M174.6 574.4h1M181.7 572.1h1M162.2 575.7h1M184.5 574.2h1M187.5 571.9h1M170.3 576.5h1M173.5 576h1M178.4 577.9h1M169.2 580.9h1M176.3 572.6h1M183.1 574.2h1M187.6 570.9h1M184.1 575.1h1M199.8 567.7h1M178.8 574h1M176.5 574.3h1M184.1 568.8h1M181.3 570.2h1M192 570.1h1M168.6 572.8h1M202.7 571.5h1M190.9 576.6h1M181.6 574h1M178.1 571.5h1M171.2 577.7h1M187.1 573.1h1M161.4 577.2h1M163.2 583h1M171 569.6h1M171.7 574.8h1M187.3 572.2h1M190.4 573.4h1M176.3 577.7h1M186.8 573.2h1M191.7 565.8h1M172.8 577.5h1M188.6 571.9h1M174.4 577.3h1M175.1 576.2h1M185.8 570.2h1M178.1 571.8h1M182.3 571.2h1M170.1 573.5h1M188 567h1M173.6 578h1M176.7 570h1M165.4 574.6h1M180 574.2h1M178.4 569.3h1M177.9 576.5h1M189.4 569.3h1M175.5 575.2h1M158.5 579.1h1M179.1 577.2h1M186 565.4h1M178.5 572.1h1M179.5 578h1M185.4 575.1h1M179.2 571h1M191.2 577.1h1M180.4 570.9h1M180 574.3h1M179.1 572.2h1M193.5 567.5h1M187.6 569.2h1M196.9 562.7h1M182.9 578.3h1M197.9 563.2h1M184.4 569.9h1M184.8 573.8h1M184.9 573.8h1M191.5 566.3h1M188.7 569.1h1M197.8 568.6h1M193.3 569.5h1M198.3 569h1M186.9 565h1M193 571.9h1M184.7 569.4h1M200.7 556.7h1M192.4 569h1M193.7 568.8h1M197.9 566.9h1M188.1 568.3h1M183.3 577h1M192.9 570.4h1M203.1 569h1M192.9 572.8h1M191.6 570.6h1M196.4 564h1M203.2 565.5h1M194 569.5h1M194 563.5h1M193.2 571.2h1M192.1 569.5h1M192.6 567.3h1M191.1 561.8h1M185.6 568h1M200 564.3h1M192.4 565h1M201.3 564.2h1M190.5 572.8h1M192.8 574.8h1M195.1 566.4h1M187.3 572.4h1M194.5 565.6h1M197.5 566.6h1M196.9 565.9h1M193.2 571.1h1M193.5 569.8h1M189.2 568.9h1M197.7 566.2h1M188.4 567.9h1M188.9 571.6h1M193.1 561.9h1M185.2 574.7h1M188.4 574.5h1M187.9 574.1h1M200.8 562h1M192.4 566.1h1M187.9 574.6h1M184.4 569h1M194.2 572.2h1M189.6 573.9h1M194.7 572.1h1M187.5 567.6h1M195.3 569.5h1M191.1 571.6h1M192.6 567.1h1M192.8 565.2h1M197.1 563.2h1M192.3 568.1h1M189 565.8h1M183 573.9h1M192.8 568.4h1M185.9 569.2h1M193.7 571.3h1M192.1 566.2h1M191.1 571h1M207 565.2h1M191.6 565.3h1M191.3 567.8h1M185.6 570.9h1M194.2 562.8h1M198.1 563h1M194.6 570.7h1M184.9 577.2h1M197 562.5h1M199 565.8h1M188.4 574.6h1M184 576.2h1M188.8 574.2h1M198.3 560.6h1M183.8 572.1h1M185.9 569.3h1M190.4 569.6h1M195.5 562.6h1M198.1 571.3h1M189.4 565.7h1M193.5 564.8h1M198.9 559.6h1M191 563.3h1M190.2 569.9h1M191.7 565.4h1M184.8 576.7h1M198.2 564.1h1M191.7 570.4h1M188.7 569.1h1M197.4 560.3h1M188.5 576.9h1M189.2 571.4h1M190.6 570.1h1M189.5 571.9h1M186.9 563.3h1M195.7 563.4h1M184.7 570h1M188.5 569.9h1M201.2 567.2h1M191.4 565.7h1M193.7 567.1h1M202 565.5h1M193.4 568.1h1M190.4 567.5h1M186.6 569.5h1M192 571.2h1" stroke="#000" stroke-width="1" stroke-opacity="0.55" fill="none" filter="url(#dotblur)"/>
<path d="M178.7 566.4h1M182.9 561.2h1M191.4 572.8h1M162 581.7h1M182 567.4h1M168.7 578h1M171.8 573.7h1M160.2 578.1h1M171.3 574.1h1M164.9 574.4h1M169.9 570.5h1M170.4 584.2h1M174.3 568.4h1M178.3 568.5h1M172.9 576.4h1M178.6 588.1h1M174.8 567.1h1M175 584.2h1M184.1 571.3h1M189.6 573.7h1M193.7 554h1M184.1 578.5h1M175.8 581.8h1M173.7 574.3h1M182.3 562.7h1M190.2 578.3h1M175.6 579.5h1M182 580.7h1M175.7 580.1h1M188.2 579.3h1M171.1 577.2h1M174.1 587.2h1M188.9 574.2h1M184.2 575.2h1M175.4 583.6h1M178.8 577.6h1M187.2 580.7h1M186.7 569.8h1M185.4 570.2h1M194.8 554.9h1M179.3 579.5h1M170.9 574.8h1M190.6 567.5h1M167.1 576.2h1M183.1 579.6h1M166.8 579.9h1M162.1 580.9h1M182.6 569.7h1M194.8 569.9h1M180.6 579h1M172.2 572h1M182.7 566.5h1M182.6 581.4h1M176.3 572.2h1M194.4 576h1M160.8 582.6h1M188.3 574.6h1M189.3 575.9h1M196.1 576.2h1M168.1 575.5h1M185.3 566.1h1M173.4 568h1M190 576.1h1M173.8 568.6h1M166.9 569.7h1M166.6 569.3h1M173.8 577.1h1M206.1 564.3h1M182.6 579.7h1M185.7 580.6h1M189 575.9h1M181.1 576.1h1M173.3 571.1h1M183.3 589.7h1M160.2 582.2h1M186.8 566.2h1M188 570.7h1M181 576.6h1M172.2 570h1M180.1 571.5h1M187.9 564.6h1M173.4 575.7h1M189 561.8h1M201 576h1M161.2 564h1M178.5 569.5h1M168.6 565.9h1M192 586.7h1M171 590.9h1M176.5 578.4h1M189.3 568.5h1M190.1 579.7h1M198.1 564.3h1M183.2 568.2h1M176.4 576.4h1M198.3 558.2h1M182.2 556.6h1M176.4 560.9h1M179 580.5h1M184.2 563.5h1M177.9 586.3h1M169 575.6h1M186.5 568.9h1M194.6 578.2h1M174.9 570.4h1M163.1 577.3h1M165.4 573.7h1M169.9 579.8h1M181.8 575.2h1M165 582h1M187 576.5h1M172.2 574.8h1M177.5 575h1M198.7 579.7h1M169.3 590.1h1M186.3 566.7h1M163.5 575.2h1M176.7 581.2h1M157.5 589h1M186.7 564.2h1M165.3 585.5h1M185.1 573.5h1M184.5 577.2h1M175.2 576.9h1M169.1 580.4h1M202.4 562h1M194.8 575.8h1M190.1 578.6h1M186 556.3h1M171.2 563.7h1M178.8 574.9h1M187.4 584.2h1M190.2 576.2h1M192.8 566.1h1M166.5 570.9h1M178 577.9h1M165.6 568.1h1M193.4 559.1h1M176.2 568.9h1M190.3 577.5h1M177.7 570.2h1M182.9 573.8h1M184.3 564.8h1M192.8 572.1h1M159.7 579.5h1M177 567.4h1M181.6 587.5h1M187.3 575.6h1M190.1 576.5h1M163.4 579.4h1M167.4 573.8h1M177.5 572.7h1M161.7 571.3h1M178.9 569.2h1M179.4 587.5h1M185.1 563.4h1M190.2 574.8h1M173.5 578h1M182.1 573.3h1M188.3 567.9h1M184.5 575h1M201.4 564.1h1M184.9 565.1h1M167.2 563.6h1M160.5 566.6h1M183.9 568.5h1M194.8 566h1M178.3 578.4h1M170 584.7h1M175.5 578h1M166.5 576.8h1M169.6 570.2h1M164.7 572.6h1M179.8 566h1M183.2 588.1h1M173 573.7h1M187 569.2h1M177.1 570.8h1M174.9 567.2h1M183 582.7h1M166.1 574.8h1M182.6 584.6h1M175.2 577.2h1M182.2 571.4h1M167.6 580.9h1M173.4 577.1h1M160.4 585.9h1M190 567.7h1M188.3 573.3h1M169.6 571.5h1M167 571.8h1M180.2 564.1h1M176.6 578.3h1M198.8 568h1M176.9 552.7h1M165.4 571.3h1M168 562.9h1M159.8 579.8h1M180.3 565.6h1M175.6 581.3h1M188.7 578.6h1M191.4 571h1M165.2 586.3h1M171.1 576.9h1M185.7 567h1M184.8 577.1h1M175 571.6h1M189.6 573.6h1M174 574.8h1M162 580.4h1M177 578.8h1M192 569.8h1M191.9 569.1h1M201.8 563.5h1M195.1 568.9h1M181.2 587.9h1M179.9 578.5h1M182.3 569.6h1M172.2 583.8h1M168.8 574.7h1M165.7 572.5h1M190.2 564.1h1M198.7 567.1h1M204 566.6h1M196.6 563h1M170.3 566.2h1M206 582.6h1M175.1 574.7h1M178.1 568.5h1M190.2 574h1M168.8 567.7h1M185.4 579.1h1M162.1 577.1h1M184.7 571.7h1M186.9 571.6h1M182.4 579h1M182.9 571.6h1M170.1 578.3h1M186.9 580.3h1M174.4 571.8h1M186.4 571h1M163.2 572.1h1M190 568.6h1M192.2 574.9h1M179.5 563.2h1M173.1 585.8h1M178.9 573.6h1M193.1 579.1h1M183.4 586.5h1M183.9 578.2h1M187.2 562.5h1M182.6 570.2h1M186.9 575.7h1M191.2 561.6h1M175.2 573.8h1M197.3 563.6h1M174 580.3h1M184.2 561.1h1M181.9 569.7h1M177 580.5h1M178.5 570.9h1M204 576.2h1M166.5 582.5h1M178.8 577.8h1M185.4 573.3h1M167.2 578.6h1M168 572.8h1M185 572.9h1M195.3 566.2h1M198.5 560.2h1M183.2 571.5h1M177.3 571.4h1M191.3 569.7h1M192.6 573.7h1M180.7 575h1M157.8 587.3h1M177 574.3h1M171 568.3h1M188.8 559.6h1M176.4 569.3h1M193.1 570.3h1M178.4 563.5h1M161.8 575.2h1M174.8 567h1M184.6 566.9h1M184 574.1h1M199.2 561.2h1M185.8 573.2h1M193.9 569.8h1M177.5 579.3h1M177.9 584.5h1M168.4 584.7h1M179.6 568.2h1M187.3 577.1h1M172.1 584.7h1M178.2 568.3h1M164.4 583.4h1M185.3 571.1h1M167.7 569.5h1M176.3 581.8h1M175.8 574.6h1M180.9 573.2h1M190.1 582.7h1M166.3 584.6h1M168.4 585h1M170.4 578.2h1M175.2 570.7h1M177.8 559.7h1M184.6 573.7h1M196.8 565.1h1M187.9 569.6h1M206.5 568.9h1M189.1 555.6h1M185.6 569.7h1M193.2 571.6h1M189.5 566.9h1M194.3 553.3h1M190.3 575.7h1M194.9 571.9h1M178.1 581.3h1M196.2 562.2h1M189.8 557.7h1M200.5 550.8h1M200.3 576.1h1M186.9 583.2h1M190.8 570.9h1" stroke="#000" stroke-width="1" stroke-opacity="0.3" fill="none" filter="url(#dotblur)"/>
<text x="159.8" y="648" font-size="13.4">PAC-1</text>
<line x1="201" y1="643.5" x2="253.8" y2="643.5" stroke="#000" stroke-width="1.3"/>
<path d="M258.8 643.5L251.9 639.7L251.9 647.3Z" fill="#000"/>
<rect x="296" y="27.2" width="100.2" height="99.1" fill="none" stroke="#000" stroke-width="1.8"/>
<text x="278.4" y="31.8" font-size="10.7">10</text><text x="291.4" y="26.2" font-size="5.3">4</text>
<line x1="293.4" y1="27.2" x2="296" y2="27.2" stroke="#222" stroke-width="1"/>
<text x="278.4" y="56.1" font-size="10.7">10</text><text x="291.4" y="50.5" font-size="5.3">3</text>
<line x1="293.4" y1="51.08" x2="296" y2="51.08" stroke="#222" stroke-width="1"/>
<text x="278.4" y="80.4" font-size="10.7">10</text><text x="291.4" y="74.8" font-size="5.3">2</text>
<line x1="293.4" y1="75.85" x2="296" y2="75.85" stroke="#222" stroke-width="1"/>
<text x="278.4" y="104.7" font-size="10.7">10</text><text x="291.4" y="99.1" font-size="5.3">1</text>
<line x1="293.4" y1="100.62" x2="296" y2="100.62" stroke="#222" stroke-width="1"/>
<text x="278.4" y="129" font-size="10.7">10</text><text x="291.4" y="123.4" font-size="5.3">0</text>
<line x1="293.4" y1="126.3" x2="296" y2="126.3" stroke="#222" stroke-width="1"/>
<text x="288.7" y="140.2" font-size="10.7">10</text><text x="301.4" y="134.6" font-size="5.3">0</text>
<line x1="296" y1="126.3" x2="296" y2="128.9" stroke="#222" stroke-width="1"/>
<text x="313.27" y="140.2" font-size="10.7">10</text><text x="325.97" y="134.6" font-size="5.3">1</text>
<line x1="320.45" y1="126.3" x2="320.45" y2="128.9" stroke="#222" stroke-width="1"/>
<text x="337.85" y="140.2" font-size="10.7">10</text><text x="350.55" y="134.6" font-size="5.3">2</text>
<line x1="345.5" y1="126.3" x2="345.5" y2="128.9" stroke="#222" stroke-width="1"/>
<text x="362.43" y="140.2" font-size="10.7">10</text><text x="375.12" y="134.6" font-size="5.3">3</text>
<line x1="370.55" y1="126.3" x2="370.55" y2="128.9" stroke="#222" stroke-width="1"/>
<text x="387" y="140.2" font-size="10.7">10</text><text x="399.7" y="134.6" font-size="5.3">4</text>
<line x1="396.2" y1="126.3" x2="396.2" y2="128.9" stroke="#222" stroke-width="1"/>
<text x="257.4" y="12.3" font-size="14.8" font-weight="bold">G</text>
<text x="349.5" y="22.3" font-size="11.3" text-anchor="middle">No stimulation</text>
<path d="M338 57 L377 71 L349 111 L310 98Z" fill="none" stroke="#222" stroke-width="1.4"/>
<text x="340" y="102.3" font-size="11" text-anchor="middle">0.5%</text>
<path d="M322.8 74.8h1M313.2 80.8h1M311.6 82.8h1M300.3 83.7h1M320.5 78.6h1M305.7 79.4h1M303.6 86h1M302.2 81.8h1M316.4 79.9h1M304.7 81.1h1M312 81.4h1M312 78.6h1M300.1 82.1h1M306.9 83.2h1M311.7 77.2h1M318.9 80.3h1M312.6 78.3h1M317.7 76.6h1M318.8 83.4h1M304 76.8h1M317.7 77.2h1M310.4 78.4h1M307.5 82.7h1M314.5 78.7h1M312.2 78.3h1M315.9 77.2h1M319.3 74.8h1M308 79.1h1M314.7 76.1h1M308.6 83.6h1M303.1 82h1M317.2 80.4h1M299.4 82.7h1M312.8 79.5h1M306 81.6h1M303.7 83.3h1M316.4 78.6h1M318.2 81.7h1M308.8 79.8h1M308.1 81.8h1M301 84.3h1M303.3 82h1M312.5 79.3h1M315.2 76.9h1M306.5 79h1M308 83.4h1M315.9 78.2h1M300.4 86.1h1M305.9 81.5h1M314.1 80.2h1M314.8 76.8h1M298.9 86.2h1M313.2 78.2h1M309.2 80.5h1M309.5 83.2h1M303 85.3h1M322.5 79h1M318.6 83.6h1M310.9 80.9h1M316.9 81.4h1M308.4 78.3h1M314.1 76.4h1M308.9 82.3h1M306.9 84.8h1M314.6 77.2h1M304.4 79.4h1M305.5 86.9h1M313.6 79.4h1M312.2 75.5h1M306.2 81.7h1M315.4 79.6h1M314.1 76.5h1M310.5 82.6h1M306.8 82.3h1M305.7 80.4h1M325.7 72.1h1M308.4 81.7h1M305.7 83.7h1M309.8 77h1M309.9 82.2h1M318 79.3h1M307.4 81.3h1M307.2 84.8h1M304.4 80.8h1M300.6 89.4h1M308.9 83.9h1M311.7 78.2h1M321.3 77.5h1M313.3 78.8h1M319.1 76.5h1M305.4 80.2h1M313.3 78.5h1M310.1 79.8h1M312.3 81.4h1M321.7 76.8h1M303.1 81.8h1M308.2 80.4h1M305.4 84.8h1M315.7 77.4h1M315.2 80h1M301.5 80.7h1M314.1 75.3h1M305.5 80.6h1M313.2 76.9h1M298.4 81.6h1M313 78.1h1M314.8 75.7h1M313.2 79h1M307.8 82.8h1M320.9 76.6h1M306.9 82.2h1M310.4 81.3h1M321.1 76.7h1M315 81.6h1M310.8 77.9h1M299.9 85.1h1M315.9 80.1h1M312.1 77.7h1M303.2 85.8h1M321.3 73h1M318.3 80.3h1M299.2 80h1M301 79.7h1M318.8 76.7h1M299.6 80.3h1M309.8 77.5h1M308.5 82.4h1M312.1 76.5h1M309.9 81.9h1M312.9 86.6h1M313.9 78.2h1M325.3 72.7h1M328 73.8h1M306.3 84.5h1M311.6 79.6h1M306 86h1M317.8 80.2h1M301.1 82h1M309.5 77.6h1M311.4 75.1h1M308.9 83.9h1M312.6 76.1h1M313.9 76.7h1M317.2 79h1M320.7 74.7h1M312 85h1M311 81h1M307.8 81h1M301.5 81.5h1M310.1 83.6h1M305.4 80.6h1M313.5 80.6h1M316.7 78.5h1M313 78.6h1M311.1 82.1h1M309.3 82.5h1M317.9 78.8h1M310.3 80.4h1M310.3 80.1h1M307.1 84.2h1M321.3 79.2h1M310.9 79.2h1M312.1 80.8h1M303.3 82.5h1M311.1 79.7h1M301.9 80.2h1M320.6 78h1M301.6 82.5h1M316.8 74.7h1M319.8 79.6h1M308.8 79.2h1M306.6 80.5h1M311.1 82.1h1M322.2 78.2h1M301.9 81.9h1M310.9 81.5h1M311.5 82.7h1M319.9 78.8h1M310.2 82.1h1M317.3 75h1M318.7 75.5h1M314 79.1h1M314.4 79.5h1M310.9 82.1h1M301.1 82.4h1M313.9 75.6h1M303 84h1M314.9 77.7h1M320.2 72.5h1M304.4 86.9h1M307.4 80.5h1M320.5 78.1h1M307.3 82.9h1M312.9 82.5h1M306.4 85.3h1M306.5 84.6h1M313.5 81.2h1M307.6 84.1h1M314.5 82.7h1M303.8 81.6h1M314.1 82.3h1M312.2 76.8h1M314.3 79.2h1M309.5 80.6h1M320.4 77.2h1M317.2 76.6h1M307 83.7h1M311.1 76.7h1M305.6 83.2h1M318.1 80.7h1M308.6 80.5h1M320.7 77h1M310 80.2h1M310.5 81.1h1M305.5 81h1M310.9 82.4h1M309.4 76.1h1M300 89h1M303.4 86.6h1M309.6 79h1M303.8 79h1M319.3 75.9h1M306.8 81.1h1M300.4 91.5h1M313.3 75.2h1M306.6 81h1M301.3 85.1h1M315.2 81.9h1M303.7 82.5h1M305.2 79.4h1M305.1 83.9h1M308.2 81.7h1M312.3 80.2h1M305.5 84.1h1M311.1 83h1M309.9 83.6h1M311.4 80.4h1M317.3 76.2h1M319.6 76.9h1M311.4 79.7h1M312 77.8h1M323.6 78.6h1M300.5 86.4h1M306.6 82.3h1M313.6 81.1h1M305 81.9h1M306 79.4h1M305.7 81.8h1M308.6 81.4h1M321 76.6h1M315.9 78.7h1M304.6 87.1h1M312.7 78.9h1M304.3 86.1h1M314.6 81h1M313.4 80.1h1M304.3 79.3h1M307.6 83.8h1M315.3 79.2h1M317.4 79.1h1M310.5 79.9h1M309.3 78.3h1M315.7 74.3h1M304.5 85.1h1M305.2 81.2h1M307.6 84.4h1M297.7 89.9h1M314.7 81.6h1M306.5 80.8h1M318.2 76.8h1M306.7 78.1h1M311.9 77.4h1M302.7 89.9h1M316.4 76.9h1M302.4 85.7h1M299.7 89.4h1M321.4 78h1M304.1 83.6h1M305 79.5h1M298.7 85.8h1M320.9 71.3h1M315.2 79.6h1M303 77.5h1M313.4 80.1h1M312.6 82.9h1M304.9 81.9h1M308.8 83.3h1M309.6 82.1h1M315 79.3h1M313.8 77.7h1M313.7 76.2h1M310.5 78.5h1M310.2 82.4h1M306.5 81.5h1M302.2 80.4h1M306.4 80h1M313.6 81.6h1M299.4 83.1h1M315.2 82.7h1M303.6 83.3h1M316.9 77.2h1M307.4 83.2h1M309.8 79.7h1M314.3 81.7h1M315.8 78.4h1M305.6 85.2h1M310.9 84.2h1M321.2 78.9h1M310.7 79.1h1M311.7 81.2h1M310.9 79.3h1M312.5 77.7h1M315.2 82.7h1M317 74.9h1M313.5 78.2h1M303.4 83.1h1M297.5 85.2h1M299.6 83.2h1M314.8 81.4h1M322 76.7h1M318.9 75.3h1M314.3 78.3h1M301.2 84.4h1M314.8 77h1M308.8 79.4h1M308 81.2h1M308.6 83.7h1M305 82.4h1M314.3 82h1M300 87.1h1M309.4 83.7h1M305.2 80.6h1M301.7 88h1M311.8 82.8h1M311.7 76.7h1M302.9 83.8h1M317.9 72.3h1M308.3 81.3h1M315.9 84.4h1M314.3 80.8h1M298.8 79.9h1M308.4 78.9h1M299.8 84.2h1M308.4 77.3h1M302.3 84.5h1M305.5 81h1M304.3 82.5h1M312.5 80.2h1M315.5 80.1h1M299.3 87.5h1M318.6 76.4h1M311.3 79.4h1M327.8 72.6h1M306.5 84.8h1M319.7 79.8h1M318.4 74.2h1M304.1 84h1M311.6 82.4h1M318.4 78.2h1M300.3 85.1h1M311.5 75.8h1M302.6 82.9h1M311 80.1h1M307.9 76.5h1M305.3 83.8h1M314.9 83.7h1M313 77.8h1M317.6 78.4h1M304.6 89.4h1M299.4 87.2h1M302.7 81.7h1M307.4 80.7h1M312.4 85.1h1M309.2 78.9h1M312.3 81.5h1M323.7 75.5h1M324.4 74.4h1M308.9 82.7h1M311.5 82.3h1M313.3 79.4h1M302.1 85.8h1M311.1 85.3h1M305.1 81.4h1M304 81.5h1M314.7 80h1M316 77.6h1M300.4 89.7h1M298.6 84.5h1M300.1 85.1h1M307 78.8h1M310.4 82.1h1M315.4 76.8h1M311.2 78.2h1M312.1 77.2h1M303.7 83.4h1M299.5 82.2h1M305.2 83.5h1M319.4 75.8h1M316.9 80.5h1M309 80h1M302.1 84.6h1M316.1 82.5h1M313.7 79.2h1M316.3 78.8h1M314.5 82h1M312 81.3h1M318.1 79h1M312.6 79h1M303.6 82.8h1M307.6 80.7h1M310.6 80.6h1M307.1 83.8h1M309.2 81.1h1M315.6 78.5h1M308.8 84.6h1M302.5 82.1h1M302.8 82.8h1M299.2 79.2h1M307.2 83h1M309 79.3h1M312.1 82.4h1M314.9 77.6h1M315.7 83.3h1M316.9 79.1h1M311 83.9h1M298.6 89.6h1M310.9 84.1h1M315.1 80.4h1M312.4 82.5h1M312.8 81.9h1M312.4 76.9h1M314.9 79.1h1M316.8 79.4h1M306.1 79.2h1M312.8 78.3h1M310.8 82.5h1M297.2 86.5h1M303.9 85h1M302.8 85.1h1M317.9 78.1h1M307.6 82.6h1M312.5 81.6h1M316.5 77.1h1M311.6 82.2h1M315 79.1h1M317.5 79.8h1M301.1 84.7h1M322.5 72.2h1M308.8 77.4h1M302.9 85.1h1M317.6 74.7h1M311.6 82.9h1M302.6 80.6h1M308.5 81.6h1M304.3 79.4h1M316.5 79.6h1M308.8 85.5h1M306.4 84.9h1M303.9 87.7h1M310 82h1M313.3 76.9h1M306 82h1M303.4 77.9h1M310 82.3h1M312.3 77.8h1M313.9 76.5h1M303.4 84.7h1M302 82.1h1M305.2 84.8h1M314.4 78.2h1M300.8 85.3h1M319.5 76.9h1M312.1 80.6h1M310.5 82.6h1M306.5 84.5h1M306 80.8h1M310.2 83.8h1M316 79.2h1M314.7 77.4h1M309.1 80.5h1M317.5 80.7h1M311.4 78.1h1M305.9 82h1M313.5 85.3h1M319.9 77.6h1M317 79.2h1M314 79.6h1M309.6 85.7h1M307.2 79.7h1M308 78.5h1M316.5 82.4h1M306 85h1M314.7 81.4h1M305.8 79.6h1M307.3 82.9h1M307.7 83.9h1M304.6 79.1h1M310.1 82.4h1M305.2 80.8h1M319.6 78.4h1M323.1 79.2h1M315 79.2h1M310.2 80.7h1M305.5 79.3h1M309.8 79.5h1M305 87.2h1M315.6 72.8h1M305.2 78.4h1M302 85.1h1M303.5 77.9h1M304.4 84.3h1M320.2 79.8h1M311.5 82.3h1M305.9 83.2h1M308.9 82.5h1M301.3 84.7h1M312.9 81.6h1M314.7 78.2h1M306.8 84.4h1M313.7 77.8h1M301.7 84.5h1M315.1 77.4h1M311.8 79.5h1M306.1 79h1M297.9 86.9h1M309.9 83.3h1M309.4 79.7h1M312.1 79h1M305.4 84.8h1M312.3 82.5h1M316.5 73.7h1M313.2 81.5h1M299.1 80.7h1M302.2 85h1M308.3 80.6h1M312.1 77.8h1M317.6 80h1M313.4 79.3h1M316.1 80h1M320.4 79.1h1M315.7 80.8h1M312.8 76.8h1M310.9 77.6h1M315.8 78.6h1M312.4 78.6h1M307.6 84.7h1M314.6 77h1M311 77.9h1M313.4 81h1M310.4 80.1h1M315 81.4h1M310.3 78.1h1M318.2 79.1h1M326.7 77.6h1M311.8 79h1M309 80h1M302 86.1h1M315.4 83.4h1M317.9 78.7h1M300.7 82.1h1M310 78.8h1M315.3 76.9h1M310.7 80.2h1M314.9 78.1h1M311.3 78.8h1M313.2 78h1M316.6 83.1h1M310.4 82.4h1M311.4 75.5h1M307.4 82.6h1M312.4 80.3h1M303.6 81.3h1M304.2 81.5h1M315.8 80.5h1M317.6 77.8h1M314.7 72.2h1M313.9 79.7h1M301.8 85.7h1M314.8 85.8h1M302.9 84.2h1M319.1 81.1h1M310.3 81.4h1M304.4 81.3h1M312.9 77.7h1M305.4 82.3h1M307.8 80.1h1M317.3 75.9h1M317.5 78.1h1M304 79.4h1M314.3 87.2h1M309.2 80.1h1M301.2 80.4h1M318.8 79.7h1M301.1 82.6h1M309.1 82.1h1M303.2 82.2h1M314.1 80.2h1M317.6 77.8h1M306.5 86h1M310.7 78.3h1M318.2 77.3h1M306.6 80.4h1M303.6 83.8h1M306.1 80.2h1M309.9 77.3h1M312.7 81h1M316.1 79.1h1M317.4 80.1h1M316.5 74.8h1M309.9 78.8h1M310.6 80.1h1M307.5 84.1h1M315.3 84.8h1M312.5 83.3h1M302.2 83.5h1M315.6 77h1M312.5 81h1M310.8 83.5h1M314.2 80.5h1M310.8 85.8h1M318.1 76.1h1M309.2 81.1h1M313.3 80.2h1M312.5 82.2h1M318 80.3h1M306.3 80.8h1M305.6 81.4h1M314.1 74.5h1M306.2 83.7h1M311.1 80.9h1M310.4 82.5h1M310.9 80.2h1M311.1 78.4h1M317.8 80.5h1M323.4 75h1M305.9 80.6h1M310.6 78.5h1M299.8 80.6h1M303.6 81.9h1M309.9 83.7h1M310.4 81.4h1M308.9 80h1M312.3 80.8h1M305.8 81.3h1M302.7 84.8h1M300.6 82.7h1M313.7 81.8h1M303.4 83.4h1M318.7 72.9h1M307.6 79.3h1M316.2 75.9h1M311.3 85.7h1M310.1 78.1h1M306.5 80.6h1M314 83h1M310 75.9h1M318.5 77.1h1M309.3 80.9h1M311 80.6h1M313 80.2h1M311.6 82.3h1M322.4 77.6h1M312.9 80.2h1M306.5 79.5h1M319.4 79.2h1M304.2 83.4h1M320.7 75.5h1M309.1 84.4h1M310.7 78h1M297.7 85.5h1M309.5 79.2h1M301.9 82.7h1M317.3 74.3h1M315.7 79.8h1M312.6 78.1h1M309.3 78.3h1M305.6 84.2h1M313.7 82.9h1M317.9 75h1M305.4 81.2h1M319.4 79.5h1M309 83h1M311.9 82.9h1M307.9 82.5h1M306.4 79.8h1M306.2 81.6h1M307.9 80.6h1M315.8 80.7h1M315.1 85.6h1M304.3 85h1M316.7 80h1M308.5 83.5h1M302.2 79.4h1M302.2 87.1h1M313.6 81.4h1M310.6 83.7h1M309 82.3h1M308.1 81.8h1M310.3 79.6h1M300.6 80.1h1M305.9 83.1h1M314.3 78.9h1M304.1 82.4h1M321.6 75.4h1M308.2 79.2h1M313 79.6h1M311.1 80.6h1M308.9 80.6h1M318.3 82.8h1M308 81.1h1M312.1 82.5h1M310.7 78.4h1M312.9 77.2h1M308.2 84.3h1M318.3 79.1h1M308 80.8h1M318.9 78.7h1M315.6 73.7h1M323.8 75.2h1M317.4 74.7h1M306.3 82.3h1M310.5 78.5h1M305.9 82.4h1M302.3 83.3h1M314.3 79.4h1M312.1 79.8h1M305.2 80.8h1M318.1 75h1M298.1 84.9h1M312.1 78.8h1M320.5 77.7h1M309.3 80h1M307.1 81.2h1M307.2 78.9h1M320.3 78.3h1M309.3 80.6h1M317.8 78.8h1M310.1 81.8h1M311.8 78.8h1M314.3 78h1M314.5 80.6h1M313.8 79.9h1M310.1 80.8h1M310 83.2h1M299.3 86.1h1M308.5 78.7h1M308.8 83.6h1M308.1 83.9h1M299.8 84.9h1M311.9 80.8h1M318.9 77.1h1M310.2 85.4h1M306.7 81.8h1M320.1 73.9h1M307.5 82.8h1M307 75.8h1M315.9 74.8h1M304.7 78.8h1M320.2 78.5h1M318.5 76.5h1M304.9 84.6h1M300.3 86.4h1M301.4 85h1M315 78.9h1M320.7 76.6h1M308.6 76.2h1M309.8 82.7h1M309.3 78.9h1M308.5 79h1M305 85.1h1M303.5 83.8h1M312.5 78.9h1M322.2 78.3h1M310.5 80h1M314.7 80.5h1M299.4 83.1h1M309.8 77.3h1M306.2 83.6h1M309.9 86.3h1M315.2 79.5h1M302.8 85.2h1M310.5 82.2h1M315.1 76.7h1M306.8 82.1h1M298.2 83.1h1M323 74.3h1M323.3 77.2h1M313.8 80.4h1M311.8 78.3h1M316.4 77.7h1M315.3 80.3h1M310.6 81.8h1M311.3 78.7h1M304.8 83.7h1M312.7 86.6h1M302.4 79.1h1M314.5 79.8h1M306.8 80.1h1M317.4 79.1h1M320.5 74.6h1M305.4 78h1M324.1 74.7h1M311.4 81.9h1M311.9 80.2h1M308.8 83.9h1M314.4 82.7h1M307.4 77.6h1M309.5 79.1h1M313.7 81.7h1M314.3 77.7h1M316.8 82.5h1M315.8 77.9h1M302.8 83.6h1M308.9 85.2h1M316 77.1h1M314.1 78.8h1M302.8 79.5h1M302.1 82.2h1M309.2 80h1M302.4 85.7h1M306.3 84.5h1M311.3 80.3h1M303.6 81.8h1M317.7 79.4h1M301.7 81.1h1M303 82h1M323 78.8h1M322.2 78.1h1M305.9 80.4h1M313.2 80.8h1M316.8 77.9h1M304 85.1h1M311.6 80h1M305.1 86.6h1M308.6 80.3h1M304.9 83h1M321.9 78.1h1M302.1 81.4h1M299.2 81.8h1M313.9 79.6h1M308.5 82.1h1M301.9 79.5h1M315.6 77.4h1M314.7 79h1M318.5 79.9h1M312.2 79.5h1M304.9 82.4h1M305.5 88.3h1M318.5 72h1M312.8 76.2h1M311.4 80.1h1M321.3 78h1M314.7 78.7h1M304.7 79.8h1M313.8 78.7h1M317.9 79.8h1M309.5 79.5h1M309.9 77h1M310.1 84.3h1M299.1 85.8h1M309.3 81.3h1M321.1 78.7h1M303.6 82.2h1M317.5 79.4h1M305.8 83.6h1M314.7 82h1M318.8 76.6h1M311.5 81.5h1M311.2 80.6h1M321.3 77.5h1M307.3 80.6h1M304.3 82.8h1M306.7 78.8h1M300.4 87.5h1M314.9 81.4h1M309.1 80h1M309.8 85.8h1M309.3 79.3h1M305.3 80.7h1M312.7 78.9h1M309.8 83.7h1M312.3 78.9h1M311.5 76.9h1M306.3 75.7h1M303.2 84.3h1M302.2 80.1h1M303.3 82.7h1M315.5 77.8h1M311.8 78.1h1M305 81.1h1M308.1 80.2h1M324.6 74.4h1M318.8 73.9h1M312.8 82.2h1M310.6 80h1M317.5 79h1M312.5 80.2h1M303.6 82.6h1M307.3 77.4h1M310.8 80h1M306.4 80.4h1M312.3 76.5h1M314.5 77.7h1M323.3 75.6h1M309.7 83h1M307.7 81.8h1M307.8 80.5h1M304.5 80.2h1M314.9 81.5h1M324.3 78.1h1M312.8 77.2h1M306.4 78.8h1M306.6 78.9h1M316 80.2h1M322.2 77.5h1M309.7 81.9h1M320 78.1h1M308.3 81.4h1M309 85.1h1M318.9 79.2h1M320.1 79.3h1M307.5 83.8h1M315.5 79.8h1M301.1 83.6h1M313.4 76.8h1M311.2 89.4h1M321.6 76.3h1M317.8 75.5h1M314.3 81.2h1M310.3 83.7h1M318.2 77.5h1M308.3 80.4h1M302.4 82.5h1M299.3 87.1h1M307.5 83.1h1M305 83.2h1M303.2 80.4h1M310.7 81.1h1M307 82.3h1M302.8 84.5h1M309 81.6h1M322.8 81.8h1M303.8 83.5h1M307.8 83h1M303.3 86.4h1M324.7 71.5h1M304.6 82h1M321.3 72.2h1M318.7 76.3h1M299.8 83.9h1M307.1 82h1M303.6 81h1M310.9 79.3h1M309.4 78.5h1M315.7 80.3h1M309.1 79.4h1M299.9 81.7h1M322.6 75.3h1M305.5 78.2h1M308.2 80.1h1M313.1 85.2h1M318.9 81.1h1M305.8 83.6h1M311.4 81.3h1M311.4 76.6h1M310.7 78.9h1M299.9 83.7h1M301 88.3h1M319.4 77.4h1M309.7 82.5h1M310.6 78.6h1M320.5 75.4h1M298.2 85.1h1M312.6 81.2h1M324 74.9h1M307.4 80.7h1M303 85.8h1M308.9 81.6h1M322.5 74.7h1M306.8 84h1M312.2 78.8h1M306.9 82.7h1M313.8 79.7h1M309.3 82.5h1M310.3 83.8h1M301.1 84.6h1M311.7 82.6h1M320.9 75h1M309.1 82.3h1M309.1 75.6h1M307.3 80.9h1M307.4 85.2h1M316 77.3h1M302.9 83.6h1M315.3 81.3h1M318.7 79.3h1M305.8 83.7h1M309 83.4h1M311.5 84.2h1M313.6 81h1M315.7 77h1M310.9 85.2h1M314.7 77.5h1M318.7 77.8h1M314.1 79h1M304 85.3h1M308.9 81.3h1M321.8 73.7h1M316.1 77.9h1M314.2 76.8h1M302 84.2h1M306.7 83.3h1M309.2 81.5h1M314.6 78.4h1M308.8 79.8h1M317.4 73.9h1M313.6 86.3h1M307.8 81.7h1M322.5 79.7h1M299.1 86.9h1M313.1 76.9h1M308.2 80.8h1M308.5 84.5h1M303.2 83.9h1M304.4 83.6h1M318.1 76.2h1M316.8 79.2h1M300.5 80.2h1M308.4 81.9h1M307.1 80.9h1M315.3 79.5h1M309.4 83.1h1M305 81.4h1M307.4 78.3h1M305 76.4h1M313.3 78.9h1M315.8 78.1h1M310.8 76.7h1M307.6 79.3h1M316.5 77.7h1M312.9 79.9h1M307.6 83.7h1M298.3 88.2h1M314.3 81.2h1M313.1 79.8h1M310.3 76.8h1M304.5 83h1M312.9 74.8h1M310.7 76h1M305.5 83.8h1M309.3 82h1M305.6 78.6h1M312.5 75h1M310.2 84.1h1M304.9 79h1M305.7 79.9h1M313.5 80.8h1M319 79.2h1M316.2 73.4h1M305.8 82.9h1M298.6 84.2h1M310.2 82.1h1M307 77.4h1M300.4 82.2h1M303.9 82.5h1M304.2 82.2h1M309.2 83.2h1M317.4 76h1M310.8 81.3h1M312.7 81.9h1M310.7 81h1M324.7 75.1h1M310.4 82.1h1M318.2 76.4h1M317.6 74.6h1M320.5 78.9h1M315.3 79.9h1M312.5 80.4h1M307.9 83.6h1M320.1 74.9h1M317.9 81.5h1M311.6 82.6h1M309.7 83.8h1M313.1 79.3h1M311.9 79.6h1M309.9 83.4h1M300.4 87.9h1M313.1 83.5h1M306.7 84.1h1M312.3 77h1M308.3 80.1h1M318.7 78.9h1M311.5 83.6h1M302.8 83.9h1M315.4 81.4h1M310 81.7h1M311.4 78.6h1M313.4 78.8h1M313.5 82.6h1M311.5 76.5h1M304.3 81h1M301.3 81.7h1M317 78.2h1M304.7 85h1M318.6 81.5h1M312.3 80.9h1M306.8 83h1M311.6 86.5h1M302.2 79.7h1M298.8 84h1M306.7 84.7h1M302.2 78.4h1M315.4 77.8h1M321.9 70.8h1M297.8 86.1h1M311.9 78.7h1M309.9 79.6h1M309.6 81.1h1M325.6 74.6h1M309.7 83.8h1M303 82.5h1M319.3 76.1h1M306.8 79.7h1M322.1 74.5h1M304.6 81h1M306.9 82.2h1M305.9 81.3h1M315.3 79.7h1M312.4 82.3h1M309.8 84.5h1M306.1 82.1h1M305.5 79.1h1" stroke="#000" stroke-width="1" stroke-opacity="0.55" fill="none" filter="url(#dotblur)"/>
<path d="M304.1 79.6h1M320 81.8h1M312 80.9h1M309.1 81.7h1M305.8 82.9h1M306.1 81.4h1M306.9 82.4h1M312 78h1M313.4 76.6h1M301.4 89.1h1M317.3 79.4h1M306.5 82.5h1M327 68h1M311.8 78.2h1M313.6 71.1h1M308.3 78.7h1M316.4 84.2h1M310.5 85.9h1M315.4 77h1M318.2 70.5h1M307.8 88h1M307.3 85.7h1M303.8 83.3h1M302.8 77.1h1M308.9 72h1M313.7 80.5h1M297.3 89.4h1M312.5 83.1h1M311.4 82.4h1M310 80.2h1M305.4 85.1h1M318.2 81.8h1M309.7 86.3h1M315.7 67.6h1M312 76.9h1M300.5 86h1M303.2 80.5h1M318.2 83.9h1M310.1 78.3h1M309.6 81.7h1M311.7 90.9h1M297.7 90.9h1M316.4 79h1M303.9 83.8h1M304.7 83.6h1M327.7 68.5h1M308 87h1M311.5 79.5h1M324.2 80h1M308.9 87.1h1M310.7 83.2h1M311.9 77.1h1M315.3 79.5h1M310.2 71.3h1M306.4 89.7h1M298.9 93.3h1M306.9 78.5h1M307 83.8h1M307.8 88.1h1M313.2 86.5h1M311.7 79.8h1M316 86.7h1M318.7 74.6h1M315 72.2h1M325.8 79.9h1M310 74.5h1M319.3 77.2h1M312.2 94.2h1M307 81.4h1M310.7 74h1M315.2 67.4h1M312.1 83.7h1M315.5 84h1M316.7 77.2h1M299.9 91h1M308.1 80.7h1M320.6 74.9h1M310.1 79.4h1M306.8 79.2h1M309.1 90.5h1M310.4 87.2h1M315.7 91.1h1M308 82.5h1M316.9 87.4h1M303.8 82.3h1M312.4 73.4h1M305.2 79.9h1M320.8 79.4h1M300.9 83.4h1M302.4 87.1h1M303.8 83.5h1M308.9 91h1M301.9 71.5h1M308.1 80.6h1M316.6 87.9h1M303.6 78h1M318.5 72.2h1M307.6 77.5h1M316 72h1M320.9 75.3h1M314.7 79.6h1M311 78.5h1M314.9 78.7h1M321.4 68.3h1M308.2 90.3h1M315.6 82h1M317.4 79.4h1M321.3 75.1h1M309 78.5h1M308.3 78.8h1M318.8 72.4h1M313.2 71h1M315.2 84.5h1M315.2 86.7h1M302 93.6h1M307.2 79.8h1M312.6 80.8h1M313.8 79.7h1M321.1 77.8h1M306.1 78.4h1M307.9 78.7h1M312.7 79.5h1M312.2 80.5h1M312.1 78.6h1M313.9 69.6h1M308.1 86.5h1M307.7 71.2h1M310.8 86.9h1M322.7 77.2h1M300.8 84.8h1M317.6 77h1M301.9 83.7h1M312.1 76.7h1M308.5 77.4h1M318.8 71.2h1M310.8 86.9h1M305.3 80.2h1M309.5 70.7h1M321.1 72.7h1M312.7 80.8h1M309.2 75.2h1M316.5 81.4h1M315.7 83.3h1M305.9 86.7h1M314.4 75.6h1M310.9 84.1h1M314 75.2h1M309.1 72.7h1M316.8 82.3h1M306.1 75.6h1M314.7 75.2h1M314.6 82.4h1M309.3 84h1M310.7 74.1h1M326.4 80.7h1M297.6 84.5h1M299.9 82.8h1M314.4 78.4h1M313.7 80.1h1M303.3 84.6h1M307.6 78.2h1M313.8 67.2h1M311.7 76.7h1M315 79.8h1M314.9 81h1M312.1 76.1h1M308.5 80.3h1M298.2 75.1h1M312.6 74.6h1M308.3 80.2h1M315.3 88.6h1M306.5 74.4h1M315.9 75.8h1M319.7 83.2h1M321.7 74.6h1M303.2 90.5h1M300.4 93.1h1M322 77.5h1M304.3 94.2h1M305.8 85.9h1M314.9 81.6h1M307.5 75.7h1M309.2 85.3h1M311.6 68.3h1M324.5 77.4h1M303.9 86.3h1M316.6 82.4h1M312 73.8h1M300.8 88.3h1M298.7 84h1M301.2 86.6h1M306.4 81.9h1M311.4 78.5h1M298.8 85.7h1M314.2 77.9h1M311.2 69h1M318 76.5h1M315.9 72.8h1M316.7 86.2h1M321.7 77.8h1M305.7 76.6h1M301.3 79.9h1M309.6 85.5h1M310.5 79.2h1M317.9 81.9h1M302.1 78h1M307.1 85.6h1M302.8 83.2h1M315.4 79.8h1M317.9 74.3h1M309.6 81.7h1M316.9 80.9h1M298.4 93.7h1M311.4 76.9h1M297.6 88.1h1M314.7 86.3h1M312 76.6h1M315.8 85.8h1" stroke="#000" stroke-width="1" stroke-opacity="0.3" fill="none" filter="url(#dotblur)"/>
<line x1="263.8" y1="29.2" x2="263.8" y2="81" stroke="#000" stroke-width="1.3"/>
<path d="M263.8 24.2L260 31.1L267.6 31.1Z" fill="#000"/>
<text x="269.4" y="104.3" font-size="14" text-anchor="middle" transform="rotate(-90 269.4 104.3)">CD41</text>
<rect x="413.3" y="27.3" width="99.8" height="99.2" fill="none" stroke="#000" stroke-width="1.8"/>
<line x1="410.7" y1="27.3" x2="413.3" y2="27.3" stroke="#222" stroke-width="1"/>
<line x1="410.7" y1="51.2" x2="413.3" y2="51.2" stroke="#222" stroke-width="1"/>
<line x1="410.7" y1="76" x2="413.3" y2="76" stroke="#222" stroke-width="1"/>
<line x1="410.7" y1="100.8" x2="413.3" y2="100.8" stroke="#222" stroke-width="1"/>
<line x1="410.7" y1="126.5" x2="413.3" y2="126.5" stroke="#222" stroke-width="1"/>
<text x="406" y="140.4" font-size="10.7">10</text><text x="418.7" y="134.8" font-size="5.3">0</text>
<line x1="413.3" y1="126.5" x2="413.3" y2="129.1" stroke="#222" stroke-width="1"/>
<text x="430.48" y="140.4" font-size="10.7">10</text><text x="443.18" y="134.8" font-size="5.3">1</text>
<line x1="437.65" y1="126.5" x2="437.65" y2="129.1" stroke="#222" stroke-width="1"/>
<text x="454.95" y="140.4" font-size="10.7">10</text><text x="467.65" y="134.8" font-size="5.3">2</text>
<line x1="462.6" y1="126.5" x2="462.6" y2="129.1" stroke="#222" stroke-width="1"/>
<text x="479.43" y="140.4" font-size="10.7">10</text><text x="492.12" y="134.8" font-size="5.3">3</text>
<line x1="487.55" y1="126.5" x2="487.55" y2="129.1" stroke="#222" stroke-width="1"/>
<text x="503.9" y="140.4" font-size="10.7">10</text><text x="516.6" y="134.8" font-size="5.3">4</text>
<line x1="513.1" y1="126.5" x2="513.1" y2="129.1" stroke="#222" stroke-width="1"/>
<text x="411.2" y="11.6" font-size="14.8" font-weight="bold">H</text>
<text x="455.8" y="22.6" font-size="11.2" text-anchor="middle">Ionomycin</text>
<path d="M455.6 56.6 L491.4 75.8 L458.5 111.6 L423.4 92.7Z" fill="none" stroke="#222" stroke-width="1.4"/>
<text x="456.1" y="102" font-size="11" text-anchor="middle">40%</text>
<path d="M425.4 77h1M432.5 72h1M435.4 75.7h1M416.3 74.6h1M417.7 79.9h1M424.3 69.6h1M418.5 77.2h1M417 78h1M428.7 77.1h1M434.2 74.3h1M420.6 78.9h1M422.7 78.8h1M421.6 77.5h1M425.8 76.1h1M434.3 74.8h1M424.2 80h1M425 75.6h1M426 79.4h1M425.5 83.8h1M422 79.9h1M423.7 73.3h1M428.3 74.5h1M429.8 76.9h1M432 78.4h1M429.5 74.3h1M433.9 73.4h1M420.1 77.1h1M425.5 81.1h1M422.8 79.5h1M418.4 78h1M420.1 77.2h1M422.8 76.2h1M431.2 70.8h1M420.1 76h1M420.7 78.5h1M425.5 77.4h1M426.6 80.2h1M438.3 76.6h1M420.4 79.6h1M430.5 73.4h1M427.8 72.7h1M422.5 78.9h1M417.9 75.7h1M432.4 69.7h1M437.8 71.3h1M423.6 76.7h1M422.5 80.6h1M416.3 76.1h1M428.5 76.7h1M418.6 82.5h1M440.1 73.8h1M434.8 71.3h1M428.3 77.8h1M427.1 72.1h1M423.6 77.3h1M422.4 77.6h1M420.7 74.6h1M436.1 73.7h1M430.1 75.9h1M429.9 79.3h1M431.8 75.5h1M424.7 77.4h1M423.3 75.8h1M424.3 75.9h1M435.1 76.2h1M421.6 74.1h1M426.7 71.3h1M416.7 78.2h1M419.6 72.5h1M425.6 76.9h1M424.1 77.7h1M426.7 80.2h1M425.8 79.8h1M422.8 73.8h1M433.1 73.1h1M420.3 77.7h1M430.5 77.5h1M427 76.1h1M439.8 71.1h1M429.8 72.3h1M420.3 78h1M431.1 78.9h1M427.3 73.2h1M435.3 73.8h1M429.6 74.8h1M426 73.3h1M423.5 77.6h1M420.9 81.1h1M433.1 79.7h1M424.9 74.4h1M429.5 72.9h1M422.7 80.6h1M424.8 78.1h1M431.2 80.4h1M440.5 76.7h1M430.5 74.5h1M426.4 78.5h1M416.1 70.9h1M423.8 72.9h1M432.8 74.2h1M422 78.6h1M434.4 79h1M423.7 76.5h1M427.3 77.8h1M420.6 77h1M420.9 69.6h1M430.1 76.5h1M431.9 74.3h1M436.1 72.1h1M434.1 73.1h1M417.7 74.5h1M428.5 72h1M433.2 77h1M421.6 73h1M416.3 75.5h1M416 77h1M437.2 73.4h1M430 74.7h1M428.7 77.7h1M422.6 74.8h1M422.4 77.5h1M424.2 79h1M424.2 77.7h1M427.8 74.8h1M433.5 73.5h1M430.7 77.6h1M435.4 70.9h1M422.1 81.6h1M429.7 72.5h1M429.1 73.6h1M430.8 75.7h1M430.9 73.6h1M433.8 76h1M414.9 78.3h1M421.8 78.3h1M431.4 74.3h1M426.2 76.9h1M415.6 74.2h1M416.5 73.8h1M435 77.8h1M422.3 77.7h1M425.2 81.6h1M433.5 75.6h1M429 75.6h1M434.7 74.3h1M426.1 75h1M422.8 74.5h1M439.5 70.4h1M426.9 73.5h1M433.1 78.4h1M427.6 76.6h1M425.5 77.4h1M435.9 74h1M422.4 78h1M435.1 71.5h1M440.2 75.6h1M418.9 75.6h1M428 78.4h1M430.3 73.6h1M439.2 73.1h1M419 77.5h1M421.9 79.9h1M431.8 77.8h1M429.5 78h1M427 77.4h1M424.6 79.2h1M430.9 80.7h1M423.5 77h1M420.8 76.7h1M416.6 76.2h1M418.6 81.8h1M430.9 74.1h1M435.4 75h1M437.6 73.1h1M422.5 72.7h1M433.3 74.8h1M427 78.8h1M431.5 74.3h1M422.6 72.4h1M436.1 74h1M429.6 73.9h1M428.3 78h1M429.3 75.1h1M429.5 74.7h1M427.8 76.5h1M438 71.6h1M427.6 75.6h1M432.3 81.4h1M427.2 74.5h1M429.4 74.3h1M429.3 73.9h1M424 73.8h1M427.8 79.5h1M431.1 74.8h1M436.1 73.6h1M433.3 75.2h1M426.3 76.3h1M436.5 73.7h1M420.1 75.8h1M432.1 73.6h1M415.1 85.5h1M427.9 72.2h1M420.5 75.8h1M429.8 75h1M417.9 75.1h1M433.6 73.8h1M427.4 80.6h1M432 78.7h1M428.2 73.2h1M424 75.3h1M431.5 76h1M420.9 73.9h1M426.9 78.8h1M418.1 79.4h1M432.1 76.6h1M425 73.7h1M434.9 74.3h1M424 79.3h1M415.2 80.9h1M431.6 71h1M432.8 75.3h1M427.7 72.4h1M429.9 76.9h1M434.2 73.4h1M430.3 79.7h1M429.3 76.5h1M426.8 74.9h1M428.8 73.5h1M418.4 87.8h1M424.1 77.7h1M419.7 77.2h1M421.2 75.4h1M427 77.1h1M420.4 80.1h1M429.4 76.6h1M430.7 81.5h1M433.7 72.6h1M420.6 74.1h1M428.8 75.6h1M428.4 72h1M431.6 76.4h1M426.9 77.3h1M432.3 74.4h1M432.1 73h1M423 78.5h1M423.4 75.7h1M419 73.2h1M439.4 73.2h1M432.4 78.5h1M424 82.4h1M418.6 73.9h1M431.1 73.4h1M426.4 75.6h1M430.4 75.2h1M423.6 77.3h1M433.6 73.2h1M427.5 75.6h1M429.1 77.6h1M433.6 72.7h1M428.6 76h1M415.5 75.8h1M436.2 75.5h1M425.6 73h1M426.9 82.3h1M430.2 79.2h1M431.1 75h1M430.5 79h1M421.3 77.5h1M419.2 75.8h1M437.5 73.2h1M428 71.5h1M427 71.8h1M424.1 82.4h1M426 74.9h1M422.8 76.6h1M422.1 80.3h1M423.2 76.9h1M431.7 78.9h1M422.1 77.6h1M424.4 78.5h1M432.9 77.8h1M428.7 74.1h1M426.7 73h1M428 73.9h1M420.8 75.1h1M423.1 76.1h1M425.6 74.4h1M430.8 70.7h1M420.7 77.8h1M434.6 75.5h1M415.6 72.3h1M435.9 71.8h1M424.4 79.2h1M436.5 73.4h1M427.8 85.7h1M429.7 73.7h1M422.4 75.9h1M434.7 70.1h1M440.3 75.1h1M425.9 81.8h1M433.3 75.1h1M422.5 80.3h1M419 74.7h1M415.9 81h1M417.2 79.7h1M425.8 75.3h1M426.1 74.9h1M438.1 79.1h1M430.2 79.4h1M435.8 77.4h1M426.7 76.1h1M419 75.5h1M426 77.9h1M436.5 79h1M435.7 71.9h1M421.3 72.6h1M439.1 71.4h1M427.6 72.8h1M438.9 68.1h1M428.1 78.9h1M421.1 72.4h1M430.8 77.7h1M429 75.6h1M419.8 77.5h1M431.1 77.7h1M431 75.9h1M439.9 74.1h1M420.4 79h1M423.2 79.7h1M426.7 74.7h1M419.6 81h1M429.8 81.8h1M428.2 79.4h1M425.3 76.3h1M424.7 77.8h1M429.6 77.9h1M430.8 74.8h1M434.6 74.5h1M428.8 75.9h1M425.3 73.4h1M424.9 77.3h1M433.2 73.1h1M429.7 74.9h1M419 76.2h1M429 76.9h1M426.5 82.4h1M430.2 75.6h1M418.9 76.2h1M426.2 74.5h1M426.4 78.8h1M439.4 74h1M424.3 76.6h1M422.2 75.4h1M430.2 78.4h1M432.5 69.4h1M431.9 76h1M426.9 79.8h1M430.3 77.7h1M427.8 73.7h1M422.1 72.4h1M427.1 81.3h1M430.4 75.5h1M423.4 75.4h1M419.1 81h1M427.4 72.6h1M423.7 80.7h1M421.4 74.9h1M427.3 74.6h1M437.9 79.2h1M423 76.1h1M432.2 79.2h1M421.4 74.7h1M437.8 75.4h1M436.7 72.1h1M421.8 74.8h1M428.3 79.7h1M428.9 75.6h1M434.8 71.9h1M438.5 70.6h1M427.9 71.7h1M423.6 71h1M424.5 79.2h1M428.8 75.6h1M427.1 75.2h1M437.9 73.8h1M438.1 68.4h1M422.7 78h1M435 69.6h1M428.7 77.2h1M431.8 79.5h1M415.5 77.3h1M421.6 75.7h1M437.6 69.4h1M426.9 75.2h1M424.2 73.1h1M432.2 72.4h1M434.3 76h1M423.5 77.4h1M436.5 71.6h1M420.6 73.5h1M431.7 75.8h1M429.8 77.1h1M434.7 71.5h1M424.8 81.5h1M421.9 72.2h1M424.1 75.4h1M427.5 72.5h1M435.2 74.2h1M421.3 76.3h1M422.9 82.7h1M432.4 74.6h1M429.8 75.8h1M427.5 76.5h1M427.3 76.8h1M432.1 75.9h1M429.4 75.8h1M434.8 74.3h1M426.2 75.1h1M421.6 73.2h1M422.2 79.4h1M431.4 78.3h1M421.1 74.8h1M435.7 70.5h1M427.4 76h1M433.4 73.2h1M418.3 79.9h1M420.2 74.3h1M435.9 73.4h1M426.8 76.1h1M423.9 79.7h1M423.4 76.4h1M419.4 80.5h1M431.8 75.5h1M419 76.5h1M431.6 76.2h1M417.6 72.6h1M424.8 79.9h1M416.4 76.9h1M432.2 77.9h1M422.4 74.4h1M428.7 77.5h1M420.8 73.1h1M431.2 76.3h1M417.6 78h1M423.2 78.8h1M420.8 80h1M423.4 75.6h1M424.3 74.1h1M431.6 76.2h1M427.7 78.5h1M424.5 78.6h1M419.8 81.2h1M424.2 74.1h1M431.9 74.3h1M417 80.7h1M423.3 77.2h1M430.1 75.4h1M428.2 74.4h1M428.5 81.4h1M427.6 79.4h1M428 78.9h1M432 82.3h1M429.7 79h1M424.2 75.5h1M429.4 80.2h1M430.4 78.9h1M433.4 75.5h1M423.3 75.2h1M423.4 78.8h1M424.5 78.2h1M434 74.5h1M425.4 78.3h1M416.9 75.5h1M435.5 77.1h1M423.7 80.2h1M433.9 73.8h1M431.6 72.2h1M431.8 71.9h1M424 76.4h1M424.4 79.2h1M419 79.1h1M423.3 78.2h1M432 76.8h1M430.5 74.6h1M425.8 77.4h1M417.7 80.6h1M424.6 78.9h1M420.7 78.2h1M415.5 71.9h1M420 77h1M423.1 79.1h1M418.7 76.6h1M425.3 77.8h1M421.9 78.3h1M425.8 76.1h1M429.2 72h1M417.4 83.8h1M418.9 80.3h1M421.7 77h1M424.2 75.2h1M426.7 75.1h1M435.3 71.6h1M439.8 76.2h1M426.6 75.1h1M423.6 76.6h1M427.7 74.7h1M431.4 71.8h1M425.3 74.5h1M433.5 77.1h1M430 70.9h1M420.8 79.9h1M428.8 74.5h1M433.5 70.9h1M415.2 78.5h1M422.3 79.2h1M425.1 76h1M431.9 75.1h1M431.5 78.1h1M422 77.5h1M428.9 76.6h1M424.5 76.7h1M420.2 76.3h1M430.5 73.7h1M421.5 77.8h1M429.4 75.4h1M421.7 73.8h1M422.1 74h1M419.1 75.4h1M420.5 76.7h1M425 76.6h1M436.5 73.5h1M425.2 75.8h1M429.3 70.1h1M433 73.3h1M425.7 72.5h1M432.2 74.3h1M425.2 75.5h1M418.7 78.2h1M434.6 69h1M421.7 76.8h1M421.2 68.2h1M423.1 77.1h1M428.8 72.3h1M432.4 76.7h1M429.1 75.7h1M434.7 80.4h1M420.9 74.8h1M420.7 75.1h1M440.2 72.5h1M424 72.3h1M437.4 75.1h1M420.6 78.7h1M429.3 72.1h1M423.8 74.3h1M440.5 71.5h1M426.4 76.5h1M426.1 76.3h1M438.6 69h1M418.3 74.8h1M436.9 77.6h1M423 80h1M435.1 74.5h1M429.8 72.8h1M421 78.8h1M425.9 73.5h1M421.2 76.7h1M434.9 73.2h1M423.8 79.2h1M432.9 77.7h1M429.4 74h1M426.3 78.8h1M426 80.1h1M422.7 78h1M416.9 80.8h1M430.5 76.7h1M418.9 74.9h1M433.6 78h1M417 77.5h1M422.8 77.2h1M427.7 77.8h1M417.8 79.8h1M431.4 77.5h1M430.6 72.3h1M427.1 79.9h1M423.2 78.4h1M428.2 82.7h1M431.6 79.1h1M427.9 74.3h1M429 74.8h1M437.3 75.8h1M432.3 74h1M429.7 71.4h1M421.8 74.7h1M426.2 75.9h1M429.5 81.2h1M421.8 75.9h1M431.6 73.3h1M420.6 75.7h1M436.4 71.3h1M434 72.9h1M438.5 72h1M434.8 74h1M430.9 75.7h1M427.5 78.3h1M424.1 78.2h1M438.3 72.6h1M429.3 76.8h1M426.2 77.6h1M436.1 77.4h1M422.5 73.2h1M424 73.6h1M431.1 73.9h1M435.7 72.6h1M437 71.7h1M424.3 72.1h1M416.1 74.7h1M421.8 75.8h1M439.2 74h1M424.9 73.3h1M429.2 77.1h1M414.8 80.7h1M428.1 81.3h1M429.7 73.4h1M428.5 77.1h1M428.1 70.8h1M429.2 73.3h1M429.2 72.5h1M429.8 77.6h1M426.9 71.6h1M430.5 76h1M428.3 76.7h1M422.2 79.1h1M429.1 77.9h1M428.3 79.1h1M429 76.1h1M426.2 76.2h1M428.7 78.1h1M430.4 81h1M426.1 73.8h1M421.4 74.8h1M421.7 72.8h1M427.7 76.6h1M426.3 76.5h1M423.4 77.7h1M418.8 72.4h1M421.4 77h1M417 75.7h1M426.2 77.6h1M425 75.6h1M420.5 78.2h1M422.9 79.8h1M439.9 76.2h1M430.7 74h1M424.6 75.3h1M421.9 74.6h1M437.6 72.1h1M438.5 75.9h1M423.3 75.5h1M425.8 76.5h1M426.7 74.6h1M437.2 69.8h1M423 73.7h1M416.8 75.6h1M432.2 72h1M420.4 74.7h1M424.8 76.6h1M432 73h1M419.7 73.1h1M427.5 75.5h1M424.3 75.1h1M422.5 74h1M421.3 77.5h1M416.3 81.9h1M423.1 76.6h1M428.5 77.5h1M421.8 80.4h1M423.5 75.7h1M430.4 75.4h1M429.5 78.9h1M419 77.7h1M435.5 77.4h1M433 73.4h1M421.4 74.5h1M424.8 79.1h1M428.3 71.9h1M435 72.3h1M432 72h1M432.8 71.3h1M431.6 70.7h1M420.3 73.1h1M423.2 75.2h1M430.2 72.3h1M434.6 77.3h1M425.3 74.4h1M424.2 76.5h1M430.8 84.2h1M434.9 73h1M421.6 79.1h1M424 76.5h1M429.5 76.2h1M434.1 70.5h1M421.3 76.9h1M429.5 77.3h1M432.7 76h1M433.7 76.2h1M429.7 75.6h1M434.3 73.4h1M423.7 73.3h1M430.1 75.9h1M421.2 80.2h1M425.3 73.9h1M435.8 74.3h1M421.4 73h1M424.8 75h1M440.1 75.5h1M427.1 81.9h1M435.1 68.3h1M420.8 77.4h1M429.9 76.1h1M430.6 76.6h1M419.9 77.6h1M424 74.5h1M422.9 78.3h1M431.2 79.4h1M435.2 70.5h1M425.3 81.7h1M417.5 77.5h1M423.6 77.1h1M426.3 72.8h1M427.6 77.9h1M434.8 75.1h1M428 75.9h1M427.8 74.9h1M437.3 68.6h1M421.8 79.6h1M435.4 74.7h1M429.9 75.6h1M434.4 74.6h1M427.1 75.4h1M419.6 80h1M418.9 77.2h1M439.3 77.6h1M432.5 71.9h1M429.4 74.6h1M419.8 73.7h1M431 81h1M424.4 78.8h1M434.3 73h1M434.4 73.6h1M426.9 76.7h1M420.4 81h1M436.2 78.5h1M417.8 80.7h1M432.6 73.9h1M424.6 74h1M425.8 72.5h1M422.6 70.6h1M421.9 76.2h1M425.3 72.7h1M420.6 78.1h1M425.6 75.5h1M423.1 82.8h1M424.1 80.4h1M418.4 78.1h1M428.1 76.2h1M422.8 76.9h1M419.5 79.6h1M434.8 76.4h1M430 67.3h1M431.6 72.5h1M427.7 76.1h1M425.8 73.9h1M428.1 79h1M426.6 76.3h1M427.1 77.2h1M424.7 79.6h1M431.1 75.1h1M430 75h1M434.3 72.5h1M429 75.5h1M437.9 75.4h1M429.7 75.6h1M423.1 73.7h1M415.4 76.1h1M428.1 76.3h1M430.5 76.6h1M440.3 75h1M433.7 70.3h1M427.3 74.8h1M429.9 73h1M436 71.3h1M427.2 77.1h1M430.9 76.2h1M430.1 73.6h1M433.1 77.2h1M438.1 75.8h1M425.3 73.2h1M426.2 72.8h1M429.1 75.6h1M418.8 79.5h1M435.3 72.4h1M425.4 75.4h1M417.8 74.3h1M430.1 71.8h1M423.7 73.2h1M427.9 75.2h1M430.4 73.2h1M417.7 82.1h1M431 72.3h1M433.9 74.3h1M429.2 72.5h1M428.7 77.2h1M427.4 70.9h1M417.9 78h1M431.3 73.5h1M426.3 74.8h1M434.6 74.8h1M422 73.6h1M424.4 78.6h1M427.2 77.3h1M425.8 73.8h1M433.9 78.8h1M433.4 75.3h1M426.6 75.1h1M429.7 75.9h1M421.5 79.3h1M430.3 80.1h1M434.7 74.2h1M430.8 76.4h1M428.8 72.7h1M428.6 74.4h1M431.9 73.5h1M425.8 78.9h1M436 77h1M422.1 77.2h1M431 76.3h1M427.4 76h1M436.6 72.4h1M422 75.2h1M421.8 77.8h1M418.3 80.3h1M426.2 73.6h1M427.5 75.4h1M423.5 71h1M425.1 75.3h1M436.3 74.2h1M415.3 79.1h1M438.9 75.4h1M427.4 76.9h1M435.5 73.1h1M435.5 74h1M429.6 73.9h1M420.3 75.6h1M431.5 74.8h1M428.8 76.7h1M440.2 73.9h1M420.8 77.9h1M422.2 75h1M433.7 77.3h1M435.6 72.9h1M433.6 75h1M430.8 75h1M432.3 73.5h1M426.7 75.6h1M434.1 72.7h1M429.7 74.6h1M429.9 77.8h1M442.6 78.1h1M440.3 80.9h1M446.3 73.7h1M443.8 77.8h1M445.9 75.5h1M444.8 75.7h1M442.5 75.2h1M439.4 82.9h1M441.4 78h1M430.8 88.3h1M434.6 84.7h1M440.4 81.8h1M448.6 71.2h1M438.5 81.1h1M438 82.7h1M436.7 83h1M451.3 70.7h1M437.1 82.4h1M442.2 79.9h1M440.1 80.3h1M440.4 78.4h1M432.9 87.5h1M445.9 75.3h1M442.9 78h1M444.4 76.5h1M438.7 83.9h1M437.1 82.7h1M439.4 81.2h1M442.9 76.9h1M445.6 75.2h1M441.6 79.1h1M444.7 73.9h1M449.3 72.1h1M441 78.7h1M447.4 73.6h1M439.1 81h1M435.6 86.2h1M438.7 81.7h1M444.1 77.8h1M445.4 75.9h1M440.2 79.8h1M441.8 78.4h1M437.6 83.3h1M429.4 91.1h1M440.3 80.7h1M437 83.1h1M444 76h1M439.1 80.3h1M444.6 76.3h1M438 82.2h1M439 81.3h1M438.6 80.7h1M431.3 90h1M436.4 85.2h1M439.3 82h1M437.8 82.5h1M443.8 79.9h1M441 80.1h1M442.2 79.2h1M436.6 82h1M438.7 81.7h1M443.8 79.4h1M439.6 81.6h1M431.1 88.8h1M437.2 80.2h1M436.1 85.1h1M435.4 84.6h1M443.3 78.3h1M436.8 83.4h1M439.9 81.6h1M440.3 80.6h1M438.7 82.5h1M440.6 80.3h1M438.2 83.6h1M437.2 86.4h1M442.8 79.2h1M443.6 78.2h1M439.9 82h1M439.7 80.3h1M444.1 77.8h1M433.5 88.5h1M443.1 76.8h1M442.7 80.8h1M440 82.1h1M442.3 77.3h1M440.1 83.4h1M438.1 79.1h1M442.2 80.4h1M437.3 84.4h1M439.2 82.4h1M442.1 76.7h1M431.7 89.8h1M440.3 82.1h1M438.4 81.3h1M429.4 91h1M444.9 77.6h1M440.5 81.6h1M437.4 83.5h1M441.8 79.1h1M445.3 77.4h1M444 76.3h1M441 80.5h1M438.7 81.1h1M443.5 76.9h1M435.1 87.2h1M441.5 77.8h1M438.9 79.2h1M434.5 85.7h1M436.6 85.5h1M440.8 79.4h1M445.5 77h1M443.8 76h1M437.7 81.2h1M442.3 78.8h1M436 83.6h1M443.3 78.1h1M443.5 77.8h1M441.2 81.5h1M439.1 80.9h1M440.4 82.8h1M442.1 79h1M440.2 78.7h1M443.3 77h1M441.8 78.6h1M438.6 79.7h1M434 86.3h1M438.2 81.5h1M442.2 77.9h1M438.2 83.1h1M436.6 80.5h1M440.5 78.4h1M436.2 85.6h1M439.7 82h1M441.2 79.6h1M433.5 89h1M440 82.9h1M439.4 80.6h1M439.2 80.6h1M437.7 83.4h1M440.4 79.3h1M436.2 85.6h1M440.9 81.9h1M442.7 79.2h1M441.6 79.6h1M438.6 81.5h1M438.9 81.2h1M447.4 73.1h1M441.1 82.1h1M437.1 81.6h1M437.7 82.7h1M436.5 86.7h1M439.4 79.7h1M442 79.9h1M438 82.1h1M441.1 78.6h1M442 76.9h1M438.9 83.7h1M434.7 86.1h1M445.4 72.2h1M445 73.9h1M436.9 82.3h1M440.9 81.4h1M440.2 81h1M440 81.6h1M438.1 80.2h1M440.7 81.7h1M436.4 82.9h1M449.1 72.9h1M440.3 80.7h1M438.3 81.9h1M437.5 81.1h1M441.3 80.1h1M436.7 85.1h1M440.2 82.3h1M441.7 80.2h1M441.6 79.7h1M441.7 78.8h1M440.9 80.2h1M442.1 79.2h1M438.6 82.5h1M440.3 82.6h1M437.3 83.3h1M437.5 82.9h1M437.8 84.4h1M441.9 76.7h1M435.7 85.3h1M440.7 80.1h1M437.6 86h1M438.5 76.8h1M441.7 79.9h1M440 81.6h1M434.6 86.1h1M440.2 81.4h1M433.9 86.4h1M435.9 85.6h1M440.1 78.1h1M443.2 77h1M437.2 85.3h1M439.2 81.2h1M439.4 80.7h1M436 84.9h1M437.6 83.9h1M445.4 77.1h1M441.9 78h1M440.4 78.3h1M444.9 74.9h1M443 76.2h1M444 75.2h1M436.4 81.7h1M438.7 82.6h1M433.8 85.6h1M436.9 83.2h1M446.9 73.7h1M431.2 92.1h1M434.7 85h1M441.1 76.8h1M442.6 76h1M437 82.5h1M440.9 80.9h1M437.9 81.2h1M447.5 73.4h1M437 82.7h1M437.3 79.7h1M440.8 79h1M437.3 82.4h1M439.8 80.7h1M440.8 78.1h1M439.7 81.4h1M441.4 78.7h1M441.7 80.1h1M435.7 83.7h1M439.4 79.8h1M434.7 83.9h1M448.8 72.9h1M433.9 84.1h1M442.1 77.6h1M443 77.2h1M439.7 80h1M436.4 83.8h1M438 83h1M439.9 82.5h1M431.9 87h1M434.2 86h1M440.9 79.8h1M441 79.9h1M449.9 70.3h1M443.2 78h1M449 71.4h1M445.3 73.9h1M446.2 74.1h1M435.7 81.7h1M432.5 87.8h1M437.9 85h1M439.2 82.8h1M440.5 79.2h1M433.8 85.6h1M438.3 82.1h1M438.8 79.9h1M442.7 78.2h1M430.2 87.5h1M439.9 80.3h1M439.3 80.8h1M442 78.5h1M439.9 79.5h1M441.3 77.4h1M442.5 76.5h1M445.3 73.6h1M449.1 73h1M442.1 78.8h1M428.5 90.8h1M437.6 81.2h1M442.9 77h1M442.3 78.8h1M442.2 77.2h1M438.5 81.5h1M436.5 84.6h1M441.1 78.7h1M441.5 79.3h1M439.8 81h1M438.9 81.5h1M443.6 77.8h1M442.7 76h1M439.3 81.5h1M443.8 77.1h1M436.8 80.4h1M444.6 76.7h1M437.3 82.4h1M432.8 87.5h1M438.2 83.8h1M437.8 80h1M443.1 77.4h1M439.7 80.8h1M444.5 74.4h1M444.6 76h1M440.5 83.2h1M439.9 82.7h1M433.7 86h1M436 83.7h1M438.9 79h1M447.4 75h1M433.9 84.9h1M440.8 80.6h1M435.1 85.2h1M432.7 85.7h1M438.2 84.6h1M441.8 76h1M435.8 81.9h1M438.8 85h1M435.3 83h1M441.8 76.9h1M438.2 81h1M438 81.5h1M442.4 77.9h1M448 75h1M440.9 80.4h1M443.2 78.7h1M444.9 74.3h1M438.3 82.4h1M443.6 80.4h1M439.6 83.3h1M447.8 74.6h1M438 84.2h1M443.9 74.3h1M436.8 84.8h1M434.9 83.2h1M443.8 78h1M443.2 77.3h1M442.6 77.6h1M436.5 83.9h1M447.4 73.1h1M431.4 90.5h1M447.8 75.3h1M443.7 78.2h1M440.9 80.2h1M436.5 84h1M437.8 83.8h1M440.3 81h1M434.1 88h1M436.9 88h1M435.5 87.4h1M441 79.6h1M435 84.7h1M447 71.7h1M442.1 77.3h1M442.2 77.7h1M436.4 82.9h1M437.4 82.4h1M440.1 80.4h1M445.6 73.6h1M439.6 78.5h1M439.2 83.1h1M442 79.6h1M437.2 85.4h1M431.2 89.2h1M438.7 83.8h1M445.7 76.1h1M441.4 77.1h1M434 87.1h1M438.1 82.2h1M438.5 78.7h1M442.5 80.3h1M434.3 82.5h1M437.4 84.9h1M437 82.9h1M435.7 86.3h1M441.4 77.9h1M443.4 77.8h1M444 75.5h1M447.1 72h1M440.3 82.1h1M440.7 80h1M440 84.6h1M440.2 83.7h1M441.6 77.2h1M444.7 76.1h1M444.6 78.3h1M443.8 75.3h1M441.7 78h1M443 76.3h1M440.6 79.4h1M435.7 84.8h1M441.3 79h1M440.4 80.6h1M439.9 81.1h1M441.5 80.7h1M437 84.8h1M442.9 77.7h1M437.6 79.7h1M444.1 77.6h1M441 77.3h1M447 73.5h1M442 79.6h1M437.9 85.5h1M435.1 83.2h1M439.4 80.7h1M437.2 82h1M439 81.5h1M446.2 72.6h1M436 84.4h1M448.3 70.7h1M439.3 80h1M441.9 76.9h1M440.7 78.4h1M438.5 79.2h1M442.2 79.2h1M443.7 77.7h1M439.7 81.1h1M438.3 83.6h1M440.5 81h1M440.8 79.5h1M442.8 78h1M437.2 83h1M442.3 78.1h1M430.1 89.9h1M442 79.2h1M437.8 81h1M446.5 77.5h1M439.9 80.4h1M435.2 85.8h1M441 78.2h1M438.8 82.9h1M433.9 87.8h1M443.9 74.7h1M442.2 77.1h1M441.6 80.8h1M439.1 81.4h1M443 81.3h1M438 80.5h1M440.1 81.7h1M440 80.6h1M436.9 80.9h1M435.6 86h1M435.7 84h1M438.4 81.4h1M446.7 70.9h1M437.6 83h1M439.5 78.5h1M447.2 73.3h1M441.6 76.5h1M439.5 82.5h1M436.9 82.4h1M441.2 79.6h1M442.9 76.1h1M441.6 78.8h1M440.9 79.3h1M437.1 83.7h1M439 82.2h1M437.4 84.1h1M441.9 79.7h1M443.8 75.7h1M442.3 79h1M438.3 80.7h1M436.6 83h1M437.8 83.1h1M436.6 84.1h1M441.6 79.6h1M442.6 76.5h1M436.9 85.8h1M439.7 81.3h1M439 84.4h1M433.4 86.2h1M444.5 73.3h1M435.3 85.2h1M438.9 81h1M440.4 79h1M433.6 86.3h1M441 80.6h1M440.6 79.9h1M438.5 82.6h1M442.2 77.7h1M445.4 74h1M438.1 80.2h1M444.5 76.6h1M439.2 80.8h1M443.8 76.1h1M442.6 76.6h1M438 83.8h1M442.2 77.8h1M434.8 83.9h1M442.8 77.7h1M441.3 80.7h1M443.6 76.5h1M446.3 73.8h1M441.4 79.8h1M440.3 79.9h1M439.8 80.6h1M438.8 82.5h1M434.5 84.7h1M437.3 83h1M446 77.1h1M433.5 87.8h1M442.3 77h1M440.9 81.1h1M432.6 88h1M437.1 82.4h1M443.9 76.4h1M438 84h1M435.8 82.9h1M441.3 77.5h1M444.6 77.7h1M442.5 77.8h1M442.4 78.7h1M440.2 82.3h1M441.3 76h1M443.3 76.7h1M449 71.1h1M443 78.7h1M439.1 79.7h1M435.7 85.8h1M435 85.5h1M440.8 80.3h1M444.7 77.1h1M439 78.4h1M444.1 76.4h1M435.6 86.1h1M443.1 76.2h1M441.3 79.7h1M438.8 82.8h1M438.2 84.8h1M439.8 83.4h1M433.3 84.9h1M441 81.3h1M441.2 78.9h1M441.9 77.2h1M437.3 83.6h1M444.5 75.7h1M436.8 86.2h1M443.1 74.7h1M445.1 77.2h1M439.5 81.3h1M439.7 80.9h1M444.3 73.9h1M436 83.6h1M444.7 78.8h1M440.1 81.4h1M443.1 78h1M438.2 83h1M441.5 80.3h1M442.2 79.1h1M437.1 80.8h1M436.9 83.7h1M441.1 78.9h1M443.3 74.5h1M439.8 79.2h1M442.2 78.5h1M445.9 74.6h1M432.5 87.5h1M437.7 87.7h1M435.8 82.4h1M438.9 79.7h1M441.9 81h1M436.8 83.3h1M438.6 81h1M440.2 78h1" stroke="#000" stroke-width="1" stroke-opacity="0.55" fill="none" filter="url(#dotblur)"/>
<path d="M422.6 73.7h1M423.8 82.3h1M425.4 74.2h1M434.5 69.6h1M429.9 82h1M431.9 70.8h1M436.8 67.1h1M424.9 73.9h1M429.3 76h1M431.1 72.9h1M440.3 77.8h1M428.1 71.9h1M432.1 81.1h1M427 78.9h1M437.2 79.9h1M432.2 77.8h1M430.6 68.3h1M424.8 75h1M434.8 83.3h1M433 80.3h1M419.5 76.4h1M435.3 74.6h1M429.1 81h1M433.5 78.7h1M420.3 76.3h1M427.9 74.6h1M420.2 67.9h1M438.3 61.8h1M426.4 79.4h1M434 70.6h1M422.1 75.5h1M416.5 77.4h1M433.1 76.4h1M435.1 67.7h1M431.5 72.6h1M435 76.5h1M432.2 78.3h1M417.5 75.8h1M426.6 78.2h1M426.2 79.2h1M435.5 80.8h1M424.1 85.8h1M427.8 69.8h1M423 84.7h1M420.1 74.5h1M421.9 69.2h1M436.7 70.9h1M427.2 70.4h1M428.3 80h1M421.9 78.6h1M434.6 78.6h1M434.3 76.5h1M434.2 74.4h1M424.8 76.5h1M423.9 85.9h1M424.4 71.9h1M435.7 81.5h1M436.2 69.4h1M429 78h1M426.4 79h1M425.2 78.7h1M434.1 70.2h1M435.4 70.9h1M423.2 71.3h1M425 75.5h1M439.6 77.5h1M420.7 76.5h1M428.1 76h1M423 68.2h1M428.1 68.7h1M436.2 58.3h1M433.3 74.7h1M435.3 79.3h1M416.6 70.8h1M422.7 82.4h1M430.8 80.7h1M429.2 76.4h1M418.2 85.4h1M435.4 73.5h1M434.1 71.1h1M433.2 89.6h1M429.9 69.9h1M419.5 75.6h1M428.1 71.2h1M421.7 70.5h1M433 78h1M431.7 72.4h1M417.6 73.9h1M430.8 77.2h1M423.2 72.2h1M417.3 77.3h1M414.6 68.4h1M421.2 71.6h1M434.8 73.9h1M427.8 71.5h1M422.9 80.1h1M439.3 74.3h1M429.7 72.4h1M420.4 76.5h1M424.8 80.5h1M426.2 75.1h1M431.4 71.4h1M440.5 61.2h1M426 72.9h1M434.3 76h1M432.1 67.2h1M430.1 78.3h1M424.6 75.7h1M426.4 80.2h1M431.7 62.2h1M430.8 77.7h1M420.4 70.9h1M418.7 73.6h1M432 71.8h1M434.4 70.1h1M428.1 75.3h1M416 75.9h1M433 74.3h1M430.6 76.5h1M418 81.8h1M421 71.8h1M420.4 75.9h1M426.7 72.6h1M425.1 74.9h1M420.6 75.3h1M440.4 85.5h1M418.4 83.1h1M417.5 73.8h1M420.8 89.6h1M415.8 70.6h1M425.6 66.5h1M433.7 74.9h1M420.5 89.1h1M444.1 76.7h1M441.7 78h1M441.1 79.8h1M439.7 81.9h1M441.2 79.1h1M438.4 84.8h1M438.5 80.1h1M439.1 82.2h1M431.3 88.2h1M441.7 78h1M438 79.8h1M438 82.6h1M433.7 84.5h1M441.4 85.8h1M433.5 82.2h1M436.6 88.1h1M446 71.5h1M442.2 80.2h1M446.3 77.8h1M434.5 86.6h1M443.8 76.1h1M442.1 72.9h1M441.3 72.8h1M436.3 78.6h1M438 85.7h1M432.4 92.1h1M444.4 77.6h1M433.6 92.6h1M445.9 70h1M437.1 82.6h1M439 76h1M438.2 80.4h1M439.6 82.9h1M442.9 77.9h1M440.9 81.7h1M441.8 83.4h1M441.6 77.5h1M442.1 77.4h1M440.9 84.8h1M440.8 83h1M442.4 73.4h1M438.2 81.4h1M439.4 81.2h1M447.5 74.4h1M438.6 84.8h1M440.7 84.5h1M434.1 84.2h1M441.5 84.6h1M444.6 77.6h1M437.4 81.9h1M436.3 88.4h1M446.1 70.1h1M443.9 74.2h1M444.2 81.9h1M437.1 88.5h1M439.5 78.9h1M440.6 84.2h1M447.1 74.5h1M438.8 79.6h1M446.2 74.5h1M438.9 81.4h1M442.1 85.1h1M439.1 79.8h1M432.4 78.3h1M437.7 78.9h1M444.9 78.4h1M444.5 78h1M441.3 73.6h1M442.5 80.2h1M445.5 76h1M448.1 71.9h1M442.4 80h1M441.9 80.1h1M435.9 81h1M441.7 77.5h1M433.8 87.4h1M438.3 77.5h1M441.4 78.6h1M435.7 83h1M443.4 78.1h1M440.6 81.7h1M441 79.1h1M443.7 78.2h1M441.1 76.4h1M437.2 80.3h1M434.9 85.3h1M438.5 84h1M441.2 79.9h1M442.4 80.6h1M433.2 87h1M440.5 76.7h1M440.2 82.1h1M443.5 77.2h1M437.5 79.2h1M441.4 82h1M436.4 81.9h1" stroke="#000" stroke-width="1" stroke-opacity="0.3" fill="none" filter="url(#dotblur)"/>
<rect x="296" y="171.7" width="100.1" height="99.5" fill="none" stroke="#000" stroke-width="1.8"/>
<text x="278.4" y="176.3" font-size="10.7">10</text><text x="291.4" y="170.7" font-size="5.3">4</text>
<line x1="293.4" y1="171.7" x2="296" y2="171.7" stroke="#222" stroke-width="1"/>
<text x="278.4" y="200.7" font-size="10.7">10</text><text x="291.4" y="195.1" font-size="5.3">3</text>
<line x1="293.4" y1="195.67" x2="296" y2="195.67" stroke="#222" stroke-width="1"/>
<text x="278.4" y="225.1" font-size="10.7">10</text><text x="291.4" y="219.5" font-size="5.3">2</text>
<line x1="293.4" y1="220.55" x2="296" y2="220.55" stroke="#222" stroke-width="1"/>
<text x="278.4" y="249.5" font-size="10.7">10</text><text x="291.4" y="243.9" font-size="5.3">1</text>
<line x1="293.4" y1="245.42" x2="296" y2="245.42" stroke="#222" stroke-width="1"/>
<text x="278.4" y="273.9" font-size="10.7">10</text><text x="291.4" y="268.3" font-size="5.3">0</text>
<line x1="293.4" y1="271.2" x2="296" y2="271.2" stroke="#222" stroke-width="1"/>
<text x="288.7" y="285.1" font-size="10.7">10</text><text x="301.4" y="279.5" font-size="5.3">0</text>
<line x1="296" y1="271.2" x2="296" y2="273.8" stroke="#222" stroke-width="1"/>
<text x="313.25" y="285.1" font-size="10.7">10</text><text x="325.95" y="279.5" font-size="5.3">1</text>
<line x1="320.42" y1="271.2" x2="320.42" y2="273.8" stroke="#222" stroke-width="1"/>
<text x="337.8" y="285.1" font-size="10.7">10</text><text x="350.5" y="279.5" font-size="5.3">2</text>
<line x1="345.45" y1="271.2" x2="345.45" y2="273.8" stroke="#222" stroke-width="1"/>
<text x="362.35" y="285.1" font-size="10.7">10</text><text x="375.05" y="279.5" font-size="5.3">3</text>
<line x1="370.48" y1="271.2" x2="370.48" y2="273.8" stroke="#222" stroke-width="1"/>
<text x="386.9" y="285.1" font-size="10.7">10</text><text x="399.6" y="279.5" font-size="5.3">4</text>
<line x1="396.1" y1="271.2" x2="396.1" y2="273.8" stroke="#222" stroke-width="1"/>
<text x="257.2" y="160.5" font-size="14.8" font-weight="bold">I</text>
<text x="314" y="157" font-size="11.3">10 <tspan font-family="'Liberation Serif', 'DejaVu Serif', serif">μ</tspan>g/ml PGN</text>
<text x="313.6" y="168.4" font-size="11.2">no plasma</text>
<path d="M340.8 205 L376.8 223.8 L342.5 260 L306.8 241.2Z" fill="none" stroke="#222" stroke-width="1.4"/>
<text x="342.9" y="250" font-size="11" text-anchor="middle">2%</text>
<path d="M301.7 229.2h1M312.7 226.3h1M298.9 233.6h1M310.5 225.9h1M314.9 221.5h1M310 225h1M324.2 223.1h1M320.1 222.9h1M315.9 223.7h1M300.1 233h1M307.1 227.8h1M305.5 230.6h1M313.4 222.6h1M305.5 230.3h1M302.7 225.9h1M303.3 229.3h1M316.3 223.6h1M301.9 231h1M310.6 228.9h1M313.8 227.2h1M298.5 227.3h1M312.7 224.8h1M317.5 223.3h1M308.1 223.8h1M308.3 224h1M309.5 229h1M311.6 224h1M308.3 231.6h1M307.2 231.7h1M311.9 227.6h1M304.7 233h1M303.3 233.6h1M311.3 224.2h1M309.3 229.2h1M313.8 224.4h1M315.5 219.6h1M311.8 226.2h1M315 222.6h1M308.7 229.7h1M298.7 228.4h1M315.6 226.3h1M310 229.9h1M308.9 231.7h1M306.9 226.9h1M302.9 228.9h1M311.9 222.7h1M305.9 229.2h1M322.1 222.6h1M321.9 223.8h1M303.6 228.6h1M313.6 224.6h1M312.3 224h1M299.4 233.8h1M300.4 233.9h1M307.2 224.9h1M311.1 229.5h1M315.8 220.4h1M309.7 227.8h1M298.4 230.5h1M320.3 223.3h1M305.2 229.6h1M307.6 232h1M313.6 223.9h1M314.2 227.3h1M318.4 225.6h1M319 226.8h1M315.7 221.8h1M304.2 225.7h1M305.4 229.7h1M310 220h1M315.5 226.7h1M320.1 222.2h1M308.3 224.5h1M308.9 226.5h1M303.7 229h1M303.5 229.3h1M313.7 227.2h1M323.8 218.5h1M318 226.7h1M302.3 228.5h1M306.6 226.4h1M302.4 227.9h1M298.4 232.9h1M316.4 227.7h1M324.8 221.1h1M312.6 226.5h1M315.4 223.8h1M300.5 234.6h1M311.3 222.5h1M314 225.1h1M306.3 232.1h1M311.8 223.4h1M299.3 230.5h1M307.3 229.3h1M314.4 222.3h1M315.4 229.5h1M321.9 223.5h1M307.1 230.5h1M305.1 227h1M312.6 226.6h1M309.7 228.5h1M314 222h1M311.4 224.2h1M313.5 224.1h1M312.6 226.4h1M310.8 223.2h1M312.3 226.4h1M317.5 221.1h1M310.9 226.5h1M309.5 225.9h1M310.6 222.6h1M308.4 225.4h1M313.8 226h1M310.8 229h1M306.2 228.6h1M306.9 227.5h1M316.7 227.4h1M314.3 229h1M323.1 221.4h1M312.8 224h1M304.7 227.3h1M302.8 232.7h1M317.7 222.8h1M313.2 224.9h1M313.6 222.4h1M319.6 223.7h1M308.8 222.4h1M308.6 224.4h1M312.8 222.2h1M306 229.7h1M318.7 223.4h1M313.1 225h1M312.6 228.6h1M317.5 227.3h1M313.3 230.4h1M306 231.2h1M318.1 225.3h1M317.4 229.5h1M310.8 227.6h1M316.5 224.5h1M314.2 230.7h1M302.7 230.8h1M311.3 227.1h1M310.7 227.9h1M316.1 225.1h1M306.7 226.3h1M305.6 231.1h1M315.4 225.3h1M305.4 225.4h1M316.8 224.2h1M314.1 224.6h1M304.3 231.4h1M312.9 224.5h1M301.2 228.2h1M310.5 227.6h1M313.4 227.7h1M307.5 227.8h1M301.9 229h1M302.8 227.8h1M305.7 229h1M302.2 225.3h1M306.8 228.7h1M305.1 226.9h1M300.2 228.9h1M306.3 226.4h1M310.1 227.4h1M308.4 230.7h1M313.3 223.5h1M298.8 229.8h1M314.8 222.4h1M308.3 229.6h1M319.9 223.7h1M307.9 230.1h1M315.9 223.7h1M312.4 227.1h1M310.8 220.7h1M304.9 224.9h1M313.7 227.4h1M302.8 227.9h1M316 222.9h1M313 222.9h1M315.5 223.9h1M326 221.7h1M316.3 225.3h1M312.3 227.6h1M309.7 227.1h1M325.2 223.1h1M311.8 230.1h1M316.2 224.3h1M303.1 230.6h1M314.2 222.6h1M315.1 224.7h1M303.5 230.2h1M312.5 225h1M303.9 226.2h1M303.9 229.6h1M308.3 228.7h1M309 227.3h1M309.5 228.7h1M303.4 231.4h1M314.8 226.5h1M311.6 226.5h1M320.4 226.4h1M311.9 223.1h1M310.8 230h1M307.8 229.2h1M308.2 225.4h1M312.2 226.5h1M311.1 224.8h1M305.1 227.5h1M307.4 225h1M310.8 226.3h1M329.7 224.8h1M322.6 222.5h1M311.6 224.9h1M309.2 222.8h1M312.1 226.4h1M310.6 226.8h1M300.6 228.6h1M314.9 228.3h1M307.7 225.3h1M323.8 217.4h1M323.9 225.6h1M309 228.6h1M323.7 222.4h1M303.6 225.7h1M308.1 226.4h1M305.2 228.2h1M320 224.7h1M305 231.8h1M299.8 229.6h1M316.8 227h1M311.7 227h1M322.5 225.2h1M304.8 227h1M316.5 228h1M299.4 231.2h1M305.4 228.3h1M304.8 230.6h1M309.6 229.4h1M299.7 230.4h1M316.5 226.6h1M310.5 229.2h1M312.3 228.2h1M319.9 221.2h1M305.5 229.6h1M300.6 230h1M318.5 222.2h1M316 227.6h1M309.8 225.9h1M312.8 226.2h1M319.8 224.4h1M324.5 221h1M321.8 220.9h1M300.7 232.2h1M316.4 224.4h1M314.6 226.3h1M305.3 225.4h1M309.4 227.5h1M317.8 225.1h1M302.7 227.3h1M299.8 230.3h1M308.2 229.8h1M317.7 221.1h1M315.8 222.5h1M308.7 228.6h1M312.4 228.6h1M305.6 223.3h1M308.4 230.1h1M306.9 224.2h1M300.9 229.7h1M325.5 222.9h1M307.5 226.3h1M311.9 227.4h1M311.5 227.8h1M310.9 222.3h1M307.9 228.6h1M314.8 228.2h1M300.3 229.5h1M316.7 224.1h1M313.7 223.5h1M309.8 224.6h1M307.2 230h1M308.3 226.1h1M304.6 232.4h1M307.6 227.9h1M322.7 220.9h1M312.1 228.9h1M307.9 228.4h1M306 224.5h1M324.9 222.5h1M311 226.1h1M306.9 224.3h1M308.9 226.1h1M299.2 233.1h1M308.8 229h1M305.2 229.6h1M306.2 231h1M305.4 231.9h1M302.2 228.7h1M308.7 224.4h1M320.4 227.1h1M316.9 224h1M311.1 224.9h1M315.5 222.1h1M312.4 226.7h1M308.8 229.3h1M316 225.5h1M318.6 223.4h1M315.3 225.2h1M308.8 227.9h1M320.8 217.8h1M301.1 230.3h1M304.3 228.5h1M310.4 225h1M311.4 224.6h1M307.7 224.1h1M307.4 230h1M320.3 230.8h1M320.8 227h1M311.2 229.5h1M320.2 222.6h1M320.4 228.1h1M313.1 226h1M310.4 226.1h1M305 227.7h1M321.9 218.8h1M322.6 224h1M322.8 222.9h1M315 220.5h1M313.8 228.2h1M308.4 227h1M317.7 227.4h1M305.2 230.1h1M308.3 228.8h1M306.6 230.5h1M310.4 227.6h1M308.4 229.1h1M323.9 218h1M312.9 225.6h1M305.3 231.2h1M309.7 224.3h1M309.1 223.5h1M311.4 228.1h1M313 223.7h1M303.8 229.3h1M312 225.2h1M307.3 229.3h1M311.8 225.4h1M312.7 225.1h1M319.1 225.9h1M308 228.8h1M313.5 222.6h1M313 228.4h1M317.4 222.6h1M308.8 229.3h1M302.9 229.1h1M311 224.1h1M311.4 229.3h1M305.2 226h1M301.7 232.1h1M315 227.8h1M314.1 223.6h1M302.5 235.2h1M304.1 226h1M307.3 225h1M315 221.1h1M301.4 231.5h1M315.3 224.9h1M320 225.8h1M316.8 222.4h1M317.9 225.9h1M312.2 226.3h1M324.8 217.9h1M311.9 231.2h1M312.6 223.4h1M307.2 227h1M312 228.5h1M313.1 225.7h1M308.3 224.6h1M303.3 229.4h1M312.7 231.5h1M300.9 228.6h1M311 225.8h1M312.4 220.8h1M313.3 220.5h1M313.9 224.4h1M314.2 223.3h1M317.3 223.8h1M317.8 224.4h1M317.9 224.1h1M316.8 220.3h1M310.2 229.2h1M304.6 231.2h1M309.6 220.5h1M306.9 226.4h1M321.2 216.5h1M300.4 231.6h1M311.2 225.9h1M298.3 233.8h1M297.8 228.9h1M305.1 228.2h1M316.5 223.9h1M322.6 220.6h1M310.2 225.6h1M309.3 228.3h1M310.7 224.9h1M309.2 223.9h1M304.4 226.6h1M298.4 228.3h1M302.3 228.1h1M313.2 225.8h1M309.6 226.5h1M299.2 230.8h1M306.1 227.8h1M308.4 231h1M311.1 224.8h1M306.6 228.8h1M305 224.3h1M312.8 226h1M323.2 221.8h1M306.8 230.6h1M314.6 220.5h1M311.6 224.4h1M301.9 227.9h1M303.6 229.1h1M304.7 229.1h1M304.9 229h1M299.9 232h1M308.4 225.6h1M318.7 224.9h1M310.2 229.6h1M311.8 227.2h1M298.9 227.7h1M307 225.9h1M311.3 224.1h1M309.5 223.6h1M308.1 228.1h1M309.6 220.1h1M321.2 223.3h1M303.7 229.8h1M316.6 222.1h1M312.7 226.2h1M314.9 222.8h1M308.9 226.6h1M312.8 225.7h1M319.8 219.2h1M305.1 227.7h1M313 224h1M307.1 229.7h1M315.7 220.7h1M313.5 223.6h1M305.2 227.5h1M310.8 227.8h1M301.6 231.9h1M317.2 220.9h1M317 222.3h1M307.4 227.7h1M310.9 225.7h1M320.2 222.6h1M316.4 224.8h1M310.2 226.7h1M312.9 223.7h1M315.2 222h1M311.4 225.3h1M306.2 225h1M309.5 231.1h1M316.6 225.7h1M300.3 226.4h1M307.7 230.7h1M313 226.6h1M314.9 224.2h1M312 228.2h1M308.5 227h1M318 226.5h1M304.9 227.7h1M307.6 225.5h1M311.6 227.2h1M310.9 232.6h1M305.1 222.5h1M304.8 228.3h1M303.1 229.5h1M304.6 223.5h1M307.5 230.1h1M308.4 227h1M306.1 229.6h1M303.8 230.2h1M307.2 228.6h1M315.8 224.9h1M302.4 226.7h1M308.1 227.5h1M322.6 224.5h1M302.9 225.4h1M317.6 218.7h1M309.5 226.1h1M317.6 222.8h1M316.4 222.4h1M308.6 228.3h1M306.8 226.4h1M310.4 225.1h1M309.3 228.9h1M304.1 228.4h1M299.2 225.7h1M312.5 225.9h1M309 225.6h1M322.3 219.1h1M303.3 232.8h1M308.3 226.4h1M315 225h1M312.1 226.7h1M319.6 222.9h1M317.7 221.5h1M309.2 227.9h1M311.3 227.6h1M306.4 223.5h1M313.2 226.9h1M317.8 227.8h1M312.3 224.9h1M318.2 226.1h1M308 224.9h1M308.8 225.6h1M312.6 225.2h1M308.7 228.8h1M308.4 224.2h1M313.8 225.9h1M306.6 230.1h1M307.7 225.6h1M322.5 222.2h1M309.4 226.5h1M306.8 231.4h1M320.8 223.8h1M313.6 224.6h1M299.6 226h1M307.4 228.8h1M310 226.8h1M312.5 228.4h1M308.2 228.7h1M307.5 232.1h1M310.4 226.2h1M304.4 225.5h1M308.3 229h1M309.5 226.7h1M314.6 225h1M308.7 227.5h1M318.7 227.2h1M305.9 224.9h1M320.2 224.8h1M317.5 222.3h1M305.3 229.8h1M309.8 224.4h1M314.7 229.8h1M319.1 224.1h1M303.8 226.7h1M298.8 228.5h1M308.7 228.8h1M312.1 223.9h1M316.4 227h1M310.1 227.1h1M318.2 222.6h1M315.4 224.1h1M316.4 221.6h1M306.5 223.6h1M303.4 229.1h1M301.7 229.5h1M310.3 225h1M314.4 222.3h1M310.3 224.3h1M311.4 226.8h1M303.2 235.6h1M313.6 227.1h1M310.1 225.7h1M310.4 230.7h1M314.6 227.5h1M313.1 225.9h1M311.6 227h1M315.1 227h1M304.1 231.3h1M316 227.4h1M311.3 230.2h1M305.2 226.8h1M315.5 220.9h1M314.4 226.1h1M314.4 224.1h1M306.8 228.4h1M303.8 230.6h1M317.4 224.2h1M314 230.7h1M300.1 229.3h1M311.6 221.8h1M311.2 225.9h1M305.1 232.7h1M305.8 229.8h1M307.4 229.4h1M313.4 228.5h1M307.8 227.9h1M318.2 228.6h1M315 229.6h1M307.5 225.2h1M304.1 227.5h1M315.8 230.7h1M305.6 230h1M314 223.8h1M321.6 225h1M301.8 235.8h1M310.8 222.8h1M306.2 229h1M320 222.8h1M304.4 224h1M300.9 230.2h1M312.9 225.5h1M307.3 225.6h1M310.3 224.2h1M316.5 226.2h1M307.5 227h1M302.2 226.1h1M304.7 229.8h1M314.6 224.6h1M321.3 222.4h1M308.5 228.6h1M323 223.2h1M308 226.9h1M316.3 223.9h1M317.1 217.8h1M304.8 226.8h1M305.9 224.1h1M304.3 229.1h1M313.7 225.6h1M322.7 228.5h1M302.9 227.9h1M309.5 232.3h1M310.3 227.4h1M309 228.9h1M304.9 224.9h1M321.4 222.2h1M318.8 225.1h1M309.8 224.5h1M309.1 227.7h1M315.3 228.2h1M312 226h1M299.4 232.7h1M311.8 227h1M310.3 225.4h1M310.8 225.3h1M307.3 228.4h1M318 222.8h1M307 229.9h1M309.7 226.2h1M302.9 231.8h1M312.6 227.8h1M313.5 229.9h1M314.4 222.6h1M311.6 226.4h1M311 226.5h1M305.1 231.4h1M312 222.6h1M319.2 225.4h1M302.9 224.5h1M320.5 223.3h1M311.8 222.9h1M313.5 219.2h1M311.2 227.4h1M299 231h1M304.4 231.5h1M313 227.8h1M315 220.1h1M310.6 228.3h1M304.3 229.2h1M316.5 224.5h1M313.7 225.4h1M309.7 231.2h1M306.8 227.3h1M315.6 221.6h1M316.8 222.1h1M306.5 223.6h1M309.7 225.4h1M307.6 227.8h1M305 226.6h1M320.9 222.9h1M310.3 227h1M308.5 226.2h1M306.2 228.2h1M297.8 231.2h1M321 221.9h1M321.2 223.4h1M305.1 226.7h1M310.5 226.3h1M312.3 227.6h1M310.6 224.8h1M302.4 230.6h1M303.6 225.7h1M318.3 225.4h1M313.1 225.4h1M308.5 226.7h1M306.6 227.9h1M311.7 225.3h1M305.3 225.4h1M316.8 221.4h1M308.6 230.6h1M319.9 221.1h1M312.2 222.6h1M310.8 225.4h1M315.2 227.6h1M311.5 230.8h1M303.9 227.5h1M304.7 228.5h1M321.3 219.4h1M308.4 226.3h1M315.5 221.7h1M320.9 223.8h1M314.9 224.1h1M310.6 224.6h1M310.2 222.6h1M299.7 226.2h1M310.6 229.8h1M311.5 225.9h1M318.5 229h1M325.1 221.1h1M320.3 222.8h1M308.7 226.8h1M314.7 225.8h1M315.1 221.7h1M309.9 229h1M310.3 228h1M301.7 229.8h1M320.2 226.1h1M300.4 231.9h1M318.8 225.9h1M311.7 224.7h1M305.9 229.1h1M308.7 228.7h1M298.4 229h1M311.1 229.4h1M309.9 229.1h1M313.2 223.6h1M308.4 228.6h1M304.5 230.8h1M298.8 229.4h1M310.9 225.6h1M316.9 224.3h1M314.5 225.7h1M310.4 228.2h1M309.3 228.7h1M309.5 229.5h1M305.2 229.2h1M314.4 221.3h1M313.4 227.6h1M307.8 226.3h1M306.6 228.3h1M310.4 223.1h1M306.5 220.9h1M310.7 224.1h1M309.5 224.8h1M315.3 223.8h1M303.9 229.3h1M301 232.6h1M319.5 225.9h1M309 227.4h1M309.5 227.5h1M297.7 228.7h1M313 223.7h1M301.1 226.4h1M308.2 230.7h1M316.4 224.8h1M301.7 228.3h1M306.2 228.7h1M306.5 224.8h1M304.7 230.2h1M308.3 224.8h1M307.6 223.5h1M310.6 226.4h1M305.9 229.3h1M304.8 232.2h1M316.5 218.9h1M308.6 227.7h1M316.1 224.3h1M306.8 233.2h1M328 221.1h1M308.7 225.3h1M312 227.8h1M315.5 223.6h1M316.3 220.5h1M315.8 226.2h1M312.6 229.7h1M315.2 221.8h1M310.4 227.9h1M308.5 226.8h1M312.1 225.3h1M317.6 220h1M312.7 229.7h1M302.1 232.2h1M308.5 224.9h1M310.7 226.9h1M305.8 229.3h1M312.8 225.5h1M299.5 227.9h1M297.7 229.3h1M308 224.4h1M309.6 224.8h1M312.1 225h1M310.6 223.6h1M305 226.8h1M303.8 226.1h1M305.7 228.4h1M306.3 233.4h1M312.5 224h1M329.6 217.9h1M311.2 222.5h1M311.7 229h1M314.6 228.5h1M309.7 226.5h1M308.8 224.8h1M309.5 224.6h1M305.4 229.4h1M312.3 226.2h1M318.2 227.2h1M306.3 224.5h1M306.4 227.2h1M310.8 227.5h1M315.8 231.6h1M312.2 223.7h1M312.8 225h1M308.5 221.2h1M312.2 225.5h1M299.9 230.4h1M306.4 225.5h1M298.7 229.8h1M320.7 226h1M313.1 226.5h1M316.2 218.4h1M320.9 222.8h1M304.4 223.9h1M303.8 235h1M313.3 222.2h1M304.7 226.4h1M311.9 222.7h1M303.9 227.9h1M313.9 225.5h1M313.3 226.7h1M313.1 224.4h1M305 225.7h1M303.5 223.6h1M308.3 229.4h1M315.7 227.5h1M300.3 228.2h1M305.6 225.7h1M302.4 226h1M312.6 225.4h1M308.8 227.2h1M311.4 225.3h1M307.8 226h1M318 224.8h1M309.4 225.2h1M306.4 227.9h1M306 230.6h1M311 227.8h1M307.8 224.9h1M303.2 226h1M308 227.4h1M312.9 230.8h1M304.8 232.4h1M313.6 225h1M320.3 223.9h1M306 224.4h1M308.1 227.9h1M304 227.5h1M317.5 224.9h1M316.7 222.4h1M301.1 225.9h1M315.6 223.1h1M310.9 231.4h1M304.3 230.8h1M313.1 226.3h1M310.1 228h1M320.5 222.2h1M310.1 228.1h1M308.4 224.7h1M315 224.4h1M311 228.3h1M309.8 224.1h1M307.7 227.3h1M317.4 221.6h1M317.8 224.9h1M313.8 226.2h1M313.3 225.6h1M304.3 231.3h1M313.6 228.3h1M316.5 224.8h1M316.8 222.8h1M310.2 225.8h1M300.8 230.1h1M306.4 223.5h1M305 226.5h1M311 227.9h1M313.3 219.9h1M307.6 228.3h1M307.5 226.5h1M307.9 226h1M313.5 225.8h1M308.8 228.2h1M317.5 226.5h1M304.6 225.9h1M309.4 230.3h1M307.8 227.5h1M302.3 229.7h1M306.9 228.1h1M307.9 229.2h1M309.4 226.2h1M317.3 222.1h1M311.6 222.8h1M315.6 224.6h1M306.5 225.5h1M315.2 224h1M304.4 229.4h1M317.1 228.2h1M309.6 226.8h1M314 229.1h1M319.9 221.1h1M314.8 227.9h1M300.3 226.4h1M316.5 226.2h1M304.8 227.8h1M304.9 228.3h1M310.2 231.3h1M301.4 228.3h1M310.6 223.9h1M316.2 228.8h1M305.1 225.3h1M299.4 230.5h1M309.8 228.7h1M311.8 227.7h1M323.9 219.3h1M312.1 226.4h1M312.7 225.8h1M314.8 224.1h1M307.3 230.1h1M299.3 230.5h1M316.1 227.2h1M313.3 228h1M317.8 225.2h1M307.5 228.2h1M316.3 221.4h1M311.3 222.2h1M309.5 226.6h1M306.1 229.8h1M308.1 228.8h1M316.7 226.7h1M312.6 222.7h1M315.9 225.6h1M307.3 230h1M310.2 224h1M319 222.1h1M316.5 224.2h1M300.9 233.5h1M305.6 222.9h1M301.8 228.8h1M304.5 227.1h1M316.8 226h1M310.7 228.6h1M314.6 224.7h1M305.1 227.2h1M307.8 230.4h1M313 221.8h1M305.8 227.3h1M310.1 223.9h1M318.7 225.2h1M309.5 226.3h1M304.6 225.2h1M320.8 225.6h1M307.6 226.3h1M299.6 232.7h1M316.4 221.4h1M317.9 222.2h1M299.1 228.2h1M302.8 233.2h1M307.8 226.8h1M305.3 222.9h1M309.5 223.6h1M311.5 227h1M304.9 229.1h1M310.5 225.6h1M320.9 223h1M300.3 229.4h1M311 229.8h1M314.8 228.1h1M299.5 228.6h1M306.2 229.2h1M299.2 230.6h1M319.6 225.9h1M313.1 227.9h1M306.2 225h1M304.3 226.3h1M310.4 226.1h1M315.4 227.8h1M307.4 228.6h1M305 228.1h1M312.1 225.2h1M303.2 227.4h1M310.2 224.5h1M307.4 227.9h1M322 220.5h1M309.7 226.4h1M312.1 225.4h1M298.5 229.5h1M313.6 230.1h1M309.7 224.2h1M316.4 221h1M314.3 221.2h1M310.9 225.9h1M314.7 218.9h1M306.3 225.7h1M309.3 228.1h1M305.6 226.2h1M306.4 230.3h1M314.1 225.1h1M306.1 227.6h1M313.4 224.7h1M318.1 219.6h1M310 225.8h1M298.1 232.6h1M315.2 219.9h1M308.1 224h1M308.8 226.4h1M318 229.3h1M304 227.1h1M312.8 226.2h1M318.5 222.5h1M309.9 231.7h1M297.6 225.1h1M303.2 228.2h1M312.4 225.2h1M301.3 230.2h1M310.6 228.5h1M304.4 228.5h1M306.3 228.6h1M304.6 232.5h1M311.3 228.9h1M316.2 225.8h1M313.6 224.7h1M316.4 225h1M312.7 222.7h1M308.2 228.1h1M315.1 221.8h1M310.1 227h1M313.6 221.4h1M303.9 225.2h1M307.4 228.1h1M318.5 223.6h1M301.7 233.3h1M317.9 222h1M310.3 228.5h1M303.6 226h1M319.9 228.4h1M307.5 226.1h1M302.9 229.4h1M313.2 224.4h1M309.1 229.2h1M318.4 226.3h1M310.3 223.9h1M322.4 220.2h1M313.9 228.4h1M317.2 220h1M307.3 226.6h1M319.8 221.3h1M303.7 226.4h1M312.2 225.1h1M305.7 226.5h1M310.9 223.7h1M314.9 224.7h1M302.9 227.6h1M318.1 219.2h1M303.8 229.3h1M309.5 224.9h1M313.2 226.2h1M299.6 229.6h1M316.8 226.2h1M306.9 224.6h1M319.8 220h1M316.5 224.2h1M309.5 226.4h1M308.1 231.7h1M314.1 226.4h1M311.3 226h1M306.3 224.6h1M313.5 228h1M312.2 224h1M318.1 220.4h1M311.3 226.8h1M318.3 223.5h1M308.3 228.3h1M326.4 222.4h1M304.1 229.4h1M308.5 228.4h1M310.8 223.9h1M305.9 225.2h1M304.1 228.3h1M304.4 229h1M303.1 227.9h1M308.1 227.6h1M318.6 225h1M312.8 228.1h1M316.9 222.6h1M314.2 223.5h1M310.2 225.3h1M320.5 221.6h1M302.2 228.9h1M305.3 230.2h1M311.5 225.7h1M308.3 225.9h1M314.2 225.4h1M318.8 224.1h1M308.4 228.9h1M309.4 224.8h1M308.4 228.5h1M314.9 226.9h1M312.5 227.8h1M309.8 227.5h1M311.5 226.3h1M311 225.5h1M317.9 218h1M318.6 223.5h1M313.3 225.9h1M315.2 226.8h1M316.1 224.6h1M303.9 231.6h1M322.8 221h1M319.3 226.3h1M301.6 231.3h1M297.6 234.3h1M322.5 225.2h1M313.3 228.9h1M319.4 222.2h1M311.3 226.6h1M311.9 225h1M313.2 221.3h1M310 225.8h1M311.6 229.1h1M304.7 230.4h1M314.9 223h1M314.5 225.4h1M311 225.7h1M302.6 229.6h1M309.4 224.8h1M307.2 227h1M317.3 222.7h1M309.4 228.4h1M326.2 225.6h1M303.5 222h1M303.7 226.2h1M316.9 224.4h1M319.6 225.2h1M306.6 228.6h1M316.2 227.3h1M311 225.9h1M314.5 225.8h1M316.5 222.7h1M314.4 223.2h1M309.2 230.4h1M305 230.5h1M300.5 231.7h1M315.7 225h1M306.9 226h1M317.2 223.3h1M312.4 226.6h1M312.9 228.2h1M318.1 223.1h1M319.5 223.3h1M321.6 224.1h1M320.3 226.6h1M313.7 227.7h1M306.4 227.3h1M303.8 229.4h1M305 225.1h1M313 227.1h1M306.1 223.4h1M315.6 223.8h1M312.3 227.7h1M306.4 233.3h1M319.3 221.7h1M297.2 229.7h1M305.9 225h1M312.2 226.4h1M299.9 232.8h1M304.3 228.2h1M314.9 221.6h1M311.8 227.2h1M311.1 228.6h1M302.6 233.1h1M302 228h1M305.9 236.5h1M306.7 226.3h1M315.4 222.7h1M304.8 229.6h1M309.8 228.4h1M304.5 229h1M311.4 226.6h1M306.7 227.5h1M313.3 222.6h1M311.5 226.3h1M306.5 223.5h1M299.6 230.4h1M315.9 228.2h1M300.1 231.6h1M307.4 231.9h1M310.6 226.6h1M308.6 226h1M307.8 224.1h1M310.6 226.5h1M310.2 228.1h1M316.2 228.2h1M304.2 227.9h1M305.5 222.8h1M314.1 223h1M316.3 223.7h1M305.9 223.3h1M303.4 228.4h1M313.1 227.1h1M302.2 230.8h1M309.7 224.9h1M317.7 221.8h1M306.7 226.9h1M309.9 227.1h1M308.5 223.4h1M313.5 226.7h1M301.1 229h1M303.4 231h1M318.2 219.9h1M311.8 223.8h1M312.8 222h1M320.7 220.3h1M307.8 221.6h1M302.2 233.7h1M328.4 216.5h1M312.1 225h1M317 221.1h1M315.2 223.7h1M315.1 229.9h1" stroke="#000" stroke-width="1" stroke-opacity="0.55" fill="none" filter="url(#dotblur)"/>
<path d="M315.7 224.4h1M299.1 230.1h1M310.7 221.4h1M308.8 228.2h1M310.5 238.2h1M312.5 217h1M310.2 234.1h1M310.3 221.9h1M304.7 220.6h1M322.5 220.5h1M311.3 224.7h1M305 226.6h1M304.5 226.2h1M318.3 225.1h1M304.1 229.2h1M308.3 224.3h1M309.2 220.5h1M299.3 225.3h1M308.1 238.5h1M314.9 220.5h1M313.8 231.7h1M306.2 224.7h1M313.4 216.6h1M309.8 228h1M314 222.9h1M312.9 234.3h1M316.6 217h1M310.8 224h1M305.6 221.2h1M312.8 228h1M313.8 230.5h1M304.2 237.2h1M308.5 226.8h1M319.1 228.4h1M312.5 232h1M312.1 232h1M317.5 228.2h1M316.7 221.5h1M314.5 231.4h1M311 225.9h1M317 219.7h1M305 227.7h1M316.6 224.3h1M306.7 227.5h1M315.4 223.7h1M303.6 225.9h1M308.6 217.4h1M314.6 231.5h1M301.4 227.7h1M313.5 215.5h1M307.9 222.3h1M317.7 228.8h1M306.7 225.7h1M307.8 218.7h1M311.9 223.3h1M310.8 224.6h1M301.8 213.7h1M299.2 229.7h1M304.3 233.8h1M313.8 221.9h1M303.8 229.5h1M327.8 228.9h1M312.5 221.9h1M310.9 215.7h1M310.5 232.6h1M308.6 231.6h1M312.5 218.4h1M311.3 228h1M307.4 233.4h1M309.7 230.3h1M314.7 221.8h1M321.9 216.8h1M310.3 225.8h1M304.8 220.8h1M303.4 219.5h1M299.9 242.8h1M302.9 223.2h1M309.5 231.6h1M314.5 214.3h1M303.1 233.3h1M314.8 216.7h1M303.6 223.7h1M321.7 223.1h1M311.3 220.3h1M315.6 215.1h1M302.2 228.8h1M307.3 222.9h1M305.7 221.8h1M312.6 220.2h1M319.7 216.5h1M317 229h1M300 237.6h1M300.9 226.6h1M311.2 232.7h1M306.3 221.7h1M301.6 223.9h1M312.8 210.7h1M309 215.5h1M314.5 224.2h1M303 220.6h1M308.5 231.2h1M319 223.5h1M307 225.7h1M307.8 224.8h1M303.7 225.2h1M308.4 230h1M305.6 227.4h1M309.3 229.3h1M307 226.2h1M302 222h1M310.7 224h1M321.6 217h1M303.9 241.7h1M314 225.2h1M308.4 229.9h1M318.8 223.7h1M315.3 224.9h1M301.1 229.5h1M308.9 225.5h1M307.7 230.3h1M305.2 238h1M325.1 226.5h1M306 230.1h1M311.9 227.8h1M310.1 224.9h1M319.2 228.6h1M316.3 219.4h1M317.9 230.1h1M304 231.7h1M308.5 216.7h1M301.6 220.3h1M312 229h1M301.2 227h1M326.8 217.4h1M309.7 227.7h1M319.5 217.4h1M319 219.9h1M303.1 225.1h1M310.3 222.4h1M311.3 221h1M317.6 218.1h1M312.5 224.1h1M304.4 232.4h1M312.4 217.4h1M310.4 227.5h1M305.2 226.2h1M304.8 227.5h1M298 223.8h1M310.7 231.4h1M302.1 234.2h1M299.1 230.5h1M311.7 222.1h1M299.4 235.4h1M311.2 220.6h1M315.6 224.3h1M321.4 227h1M318 222.4h1M304 226.2h1M304.6 227.3h1M311.3 239.5h1M328.5 222.7h1M308.2 231h1M312.1 218.6h1M312.2 218.8h1M307 228.4h1M311.8 226.5h1M307.5 217.5h1M320.5 215.5h1M304.9 230.7h1M311.1 217h1M308.9 228h1M304.6 227.8h1M316.8 218.6h1M316.3 212.6h1M316.5 229.6h1M303.2 227.1h1M301.5 247.6h1M300.7 228.1h1M313.1 222.8h1M303.9 235.9h1M303.4 232.5h1M298.5 232.4h1M306 223h1M317.2 228h1M305.2 214h1M316.2 220.5h1M309.6 221.7h1M318.3 229.2h1M302.4 230.8h1M297.4 222.6h1M316.8 229h1M303.4 229.1h1M307.5 236.8h1M320.9 220.8h1M310.2 225.6h1M313.6 229.5h1M318.7 230.5h1M315.9 228.5h1M321.3 213.4h1M298.3 234.6h1M319.3 207.2h1M317.9 232.7h1M308.7 236.7h1M304.3 224.7h1M304.7 227.5h1M308.3 227.1h1M309.6 231.6h1M319.2 211.6h1M305.7 226.5h1M317.4 225.1h1M316 223.9h1M304.6 229.4h1M306.5 220.3h1M310.8 236.8h1" stroke="#000" stroke-width="1" stroke-opacity="0.3" fill="none" filter="url(#dotblur)"/>
<line x1="263.8" y1="174.2" x2="263.8" y2="227.5" stroke="#000" stroke-width="1.3"/>
<path d="M263.8 169.2L260 176.1L267.6 176.1Z" fill="#000"/>
<text x="269.4" y="249.3" font-size="14" text-anchor="middle" transform="rotate(-90 269.4 249.3)">CD41</text>
<text x="298" y="298.5" font-size="14">Annexin V</text>
<line x1="362.2" y1="294" x2="388.2" y2="294" stroke="#000" stroke-width="1.3"/>
<path d="M393.2 294L386.3 290.2L386.3 297.8Z" fill="#000"/>
<rect x="413.1" y="171.6" width="100" height="99.6" fill="none" stroke="#000" stroke-width="1.8"/>
<line x1="410.5" y1="171.6" x2="413.1" y2="171.6" stroke="#222" stroke-width="1"/>
<line x1="410.5" y1="195.6" x2="413.1" y2="195.6" stroke="#222" stroke-width="1"/>
<line x1="410.5" y1="220.5" x2="413.1" y2="220.5" stroke="#222" stroke-width="1"/>
<line x1="410.5" y1="245.4" x2="413.1" y2="245.4" stroke="#222" stroke-width="1"/>
<line x1="410.5" y1="271.2" x2="413.1" y2="271.2" stroke="#222" stroke-width="1"/>
<text x="405.8" y="285.1" font-size="10.7">10</text><text x="418.5" y="279.5" font-size="5.3">0</text>
<line x1="413.1" y1="271.2" x2="413.1" y2="273.8" stroke="#222" stroke-width="1"/>
<text x="430.32" y="285.1" font-size="10.7">10</text><text x="443.02" y="279.5" font-size="5.3">1</text>
<line x1="437.5" y1="271.2" x2="437.5" y2="273.8" stroke="#222" stroke-width="1"/>
<text x="454.85" y="285.1" font-size="10.7">10</text><text x="467.55" y="279.5" font-size="5.3">2</text>
<line x1="462.5" y1="271.2" x2="462.5" y2="273.8" stroke="#222" stroke-width="1"/>
<text x="479.38" y="285.1" font-size="10.7">10</text><text x="492.07" y="279.5" font-size="5.3">3</text>
<line x1="487.5" y1="271.2" x2="487.5" y2="273.8" stroke="#222" stroke-width="1"/>
<text x="503.9" y="285.1" font-size="10.7">10</text><text x="516.6" y="279.5" font-size="5.3">4</text>
<line x1="513.1" y1="271.2" x2="513.1" y2="273.8" stroke="#222" stroke-width="1"/>
<text x="407.2" y="160.6" font-size="14.8" font-weight="bold">J</text>
<text x="431" y="157" font-size="11.3">10 <tspan font-family="'Liberation Serif', 'DejaVu Serif', serif">μ</tspan>g/ml PGN</text>
<text x="430.6" y="168.4" font-size="11.2">+ plasma</text>
<path d="M457 202.3 L492.7 221.8 L459.5 257.3 L423.4 238Z" fill="none" stroke="#222" stroke-width="1.4"/>
<text x="456.6" y="247.8" font-size="11" text-anchor="middle">20%</text>
<path d="M427.9 223h1M414.9 222.6h1M422.6 220.8h1M415.9 228.2h1M432.1 220.1h1M424.7 224.3h1M423.8 217h1M433.2 221.8h1M429.4 223.4h1M422.4 223h1M430.2 219.2h1M423.9 222.1h1M429.5 221.4h1M435.6 216.9h1M439.1 213.7h1M428 223.5h1M418.8 224.7h1M441.9 222.3h1M428.3 217.2h1M430 220h1M426.5 220.5h1M423.1 218.8h1M420.7 226.6h1M422 220h1M429 222.3h1M434.4 222.2h1M425.1 221.2h1M430.6 218.3h1M430.6 223.4h1M425.3 229h1M428.3 221.6h1M429.7 222.9h1M435.9 222.8h1M419.9 226h1M436.7 227.2h1M417.3 220.1h1M421.4 222.4h1M429.9 212.7h1M429.8 218.1h1M431.2 221.3h1M424.9 223.1h1M431.6 225.8h1M433.5 223.8h1M415.1 222.2h1M432 216.1h1M426.8 220h1M425.9 222.2h1M426.9 219.5h1M432 218.7h1M422.2 221.7h1M435.1 218.7h1M424.9 221.8h1M415 228.7h1M416.5 224.2h1M430.6 217.8h1M436.8 215h1M442.9 218h1M422.8 226h1M426.8 231.7h1M434.4 221h1M428.9 228.9h1M432.8 218.3h1M433.5 227h1M421.6 225.2h1M423.7 223.6h1M432.2 222.5h1M426.1 218.6h1M421 222.3h1M427.8 222.8h1M423.9 221.9h1M433.7 220.4h1M421.4 225h1M435 216.2h1M425.2 227.4h1M434.9 217h1M423.4 222.6h1M429.9 221.3h1M415.4 225.2h1M436.3 220.5h1M431.3 219.8h1M422.6 228.6h1M432.9 226.8h1M419 222.4h1M432.4 223.3h1M431.1 220.8h1M418.3 225.1h1M418.1 224.2h1M439.8 218.3h1M427.1 223.6h1M430.9 224.7h1M429.8 221.8h1M422.2 219.1h1M431.4 223.3h1M429.5 221.3h1M431.9 218.3h1M433.9 218.6h1M434 220.7h1M418.4 226.7h1M437.4 221.4h1M424.1 221.9h1M421.8 223.5h1M422.3 223h1M433.7 224.4h1M417.6 226.1h1M421.7 225.7h1M432.8 220.4h1M429.3 222.1h1M431.4 216.4h1M421.8 226.5h1M420.1 224.7h1M431.6 223.8h1M437.4 220.5h1M421.2 226.7h1M424.4 219.5h1M420.5 226.7h1M441.4 222.7h1M419.9 227.5h1M431.8 219h1M426.7 220.7h1M421.5 222.9h1M423.6 218.5h1M427.1 224.2h1M437.9 219.1h1M427.2 221.6h1M431.5 219.9h1M429.4 223.5h1M441.2 219.3h1M422.9 222.6h1M427.9 219.3h1M429.9 222.3h1M419.5 223.3h1M436.8 217.2h1M431 220h1M424.3 220h1M433.8 216.4h1M431.5 218.2h1M427.3 217.7h1M421.5 224.6h1M423.6 225.9h1M427.3 218.1h1M425.4 220.7h1M435.6 222.5h1M430.6 224.9h1M419.4 226.3h1M428 221.7h1M421.2 222.2h1M423.2 215.7h1M433.7 219.8h1M419 224.6h1M424.8 227.2h1M434.6 220.7h1M431.5 224.1h1M417.6 224.9h1M425 218.3h1M425.5 221.1h1M436.5 218.6h1M422.7 222.8h1M442.7 221.6h1M432.8 220.3h1M435.3 212.9h1M415.2 222.9h1M433.9 217.2h1M436.6 220.5h1M424.7 224.3h1M420.5 225h1M435.7 218h1M429.9 221.4h1M437.6 217.1h1M434.1 214.4h1M436 222.2h1M427.8 224.7h1M428.3 223h1M424.6 220.6h1M433.7 224.1h1M434.8 224.9h1M426.6 229.9h1M419.2 222.5h1M420 225.4h1M428.2 219h1M430.9 219.6h1M420.4 219.1h1M422.8 219.9h1M418.7 226.3h1M431.7 225h1M421.2 222.9h1M428.8 221h1M435.7 217.6h1M415.7 222.2h1M433.3 223.1h1M423.8 224.4h1M422.4 226.9h1M422.4 218.3h1M425.4 223.7h1M417.2 215.2h1M421.3 216.1h1M436 224h1M421.4 220.7h1M431.9 222.7h1M421.8 225.2h1M416 223.8h1M421.9 220.3h1M424.2 223.2h1M416.4 224.2h1M420.7 222.4h1M426.4 223.5h1M433.2 224.9h1M427.8 226.6h1M441 223.2h1M436.2 218.6h1M419 225.2h1M420.8 222.7h1M424.1 221.1h1M423.6 219.9h1M424.2 223.8h1M430.2 225.8h1M429.7 216.6h1M435.7 219.3h1M429.6 222.1h1M426.8 227.6h1M421.1 219.9h1M427.2 219.6h1M427 222.3h1M428 219.7h1M428.4 223.2h1M421.2 223.5h1M423.3 219.5h1M431.7 220.5h1M433.7 223.9h1M422.5 219h1M432.8 218.3h1M438.5 222.5h1M429.8 224.4h1M438.6 217.6h1M433 221.4h1M432.2 217.4h1M428.6 216.3h1M427 223.1h1M429.7 226.7h1M439.3 219.1h1M423 222.5h1M420.8 220.5h1M426.2 220.8h1M433.6 218.2h1M430.4 220.3h1M423.3 220.3h1M423.2 225.1h1M423.6 218h1M431.1 226.8h1M418.9 225h1M431.1 219.9h1M426.8 220.8h1M433.5 216.5h1M439.4 215.5h1M424.2 218.4h1M429.4 224.3h1M427.7 217.1h1M426.2 221.3h1M434.1 212.9h1M423.3 220.4h1M437.6 221.6h1M431 220.4h1M424.6 221h1M433.2 221.6h1M428.9 223h1M431.3 222h1M427.7 220.5h1M427.9 216.9h1M419.4 223.6h1M435.6 217.6h1M425.2 223.7h1M433.1 222.3h1M429.1 224.6h1M425.9 218.1h1M426.3 217h1M425.7 225.6h1M417.4 223.8h1M424.3 219.5h1M422.7 223h1M426 217.6h1M429.1 221.4h1M418.3 224.3h1M423.3 221h1M419.8 224.4h1M433 215.8h1M423.5 220.3h1M428.3 226.3h1M431.3 219h1M429.8 218.1h1M429.5 218.5h1M437.3 219.3h1M428.1 219h1M435.6 219.2h1M420.4 222.4h1M417.4 223.9h1M415.3 222.4h1M438.3 222.1h1M438.3 220.9h1M421.9 219.3h1M437 219.3h1M430.3 222.6h1M429.9 221.9h1M441.4 217.5h1M415.4 220.8h1M437.7 219.8h1M424.3 219.8h1M425.4 222.3h1M437.9 219.5h1M427.3 225.8h1M428.2 217.9h1M424.1 223.5h1M416.3 224.1h1M417.9 224.8h1M420.1 223.6h1M426.9 226h1M441.3 218.5h1M416.9 224.4h1M428.4 221.4h1M421.3 227.1h1M423.4 222.2h1M431.8 223.4h1M440.1 216.3h1M433.4 221.6h1M435.7 220.5h1M435.2 216.6h1M432.8 221.2h1M427 224.6h1M432.9 221.3h1M430.9 227h1M427.6 221.8h1M433.8 220h1M425.3 222.6h1M440 219.8h1M424.9 218.2h1M419.1 222.2h1M437.8 218.7h1M421.6 220h1M432.4 215.4h1M426.8 219.2h1M433.9 221.5h1M416.4 221.8h1M442.6 213.4h1M416.1 221.2h1M436.8 219.4h1M431.4 222.4h1M429.3 221.2h1M419.7 219.1h1M417.8 227.7h1M425.4 221.2h1M436.4 218.6h1M422.9 218.2h1M432.4 225.4h1M427.7 219.2h1M423.5 222.8h1M429.7 220.5h1M429.1 222.8h1M418.4 222.5h1M435.6 222.6h1M442 220.6h1M430.2 222.8h1M425.1 220.4h1M423.3 221.1h1M418.3 224.7h1M434.8 224.8h1M420.6 224h1M426.7 225.7h1M424.5 217.9h1M420.6 223.5h1M430.5 219.4h1M431.8 223.9h1M428.7 221.4h1M435 221.5h1M426.7 222h1M421.1 221.8h1M441.2 221.5h1M417.7 222.5h1M419.3 221.8h1M416.6 225.4h1M426.2 225.2h1M424.2 221.1h1M430.4 219h1M425.2 221.1h1M426.4 221.2h1M431 219h1M426.8 225.1h1M426.5 220.4h1M420.1 220.3h1M437.6 214.2h1M418.7 220.5h1M429.2 220.1h1M434.6 218.7h1M438.3 217h1M433.7 221.2h1M423 227.7h1M431.3 215.7h1M429.7 222.5h1M434.6 218.7h1M441 218.4h1M425.8 227.3h1M435.3 221.8h1M416.4 227.1h1M420.5 221.8h1M431.1 223.9h1M428 224.5h1M418 222h1M433.4 219.3h1M416.9 224.4h1M437.8 221.5h1M435.3 223.3h1M427 222.8h1M434.3 222.3h1M415 223.6h1M423.4 223h1M429.9 219.5h1M418.9 224.7h1M432.6 221.6h1M426.6 220.2h1M432.9 220.2h1M427.4 224.2h1M424 222h1M436.8 213.9h1M436.3 221.5h1M429.4 223.4h1M430.4 216.6h1M434.2 220.4h1M424.6 215.7h1M433.1 221.4h1M431.6 215h1M431.7 224.8h1M428.1 219.7h1M432.5 219.2h1M428.1 225.5h1M428.8 220.9h1M417.1 223.5h1M438.3 216.4h1M430.4 217h1M430.1 217.4h1M432 219.3h1M421.4 221.8h1M422 221.7h1M422.1 224.6h1M427.1 223.7h1M435.9 218.9h1M414.7 221h1M425.4 218.6h1M423.6 223.8h1M426.3 227.1h1M429.4 220.2h1M427.2 221.5h1M434.9 222.7h1M433.4 220.4h1M415.2 219.8h1M427.7 221.8h1M428.3 223.3h1M432 219.4h1M421.5 226.5h1M428.3 222.4h1M429.2 218.9h1M431.4 216.3h1M415 228.6h1M429.2 216.5h1M427.7 224.2h1M425.8 221.1h1M428.7 223h1M441 220.8h1M427.9 222.8h1M428.5 219.9h1M438.8 222.5h1M427.7 221.2h1M425.3 221.2h1M423.6 219.5h1M418.7 225.9h1M421.1 226.8h1M416.1 224.5h1M427.7 219.9h1M421.3 230.3h1M435.7 217.3h1M423.3 221.8h1M425.6 219.4h1M433 218.3h1M432.3 222.2h1M420.9 221.4h1M424.3 224.9h1M434.9 220.5h1M424 223h1M422.3 226.3h1M425.6 220.2h1M427 223.7h1M435.4 219.3h1M426.5 213h1M429.1 218.2h1M421.9 224.6h1M434.7 219.5h1M429.4 222.6h1M436.4 223.4h1M422.8 219.1h1M422.9 221.2h1M426.4 220.9h1M428 223.7h1M422.7 224.3h1M424.1 220.3h1M418.6 225.5h1M423 220h1M422.7 223.6h1M432.6 215h1M432.2 222.3h1M429.7 225.4h1M430.6 219.3h1M427.1 222.7h1M416.5 220.3h1M430.5 224.5h1M437.7 214.6h1M420.5 221h1M421.8 223.4h1M428 223.1h1M435.6 217.9h1M431.7 220.5h1M425.5 220.6h1M421 222.4h1M437 216.2h1M427.1 224.5h1M423.2 220.3h1M426 222h1M432.3 221.9h1M426.2 218.9h1M419.5 223.3h1M427 226.6h1M433.7 222.5h1M421.1 224.4h1M430.6 221.5h1M422.8 221.6h1M426.2 223.8h1M424.8 216h1M433.3 219.1h1M430.9 219.1h1M429.4 221.1h1M427.9 218h1M427.7 222.7h1M424.8 220.7h1M435.9 222.6h1M419.7 217.1h1M436.9 219.3h1M424.7 221.2h1M419.1 220.8h1M430.6 218h1M435.5 222.6h1M421.2 223.6h1M423.7 227h1M425 220.7h1M433.5 224.2h1M424.9 223.1h1M420.2 220.5h1M429.7 223.9h1M417.5 220.9h1M433.8 219.9h1M421.7 225.8h1M430.3 218h1M436.6 220.4h1M422.3 219.3h1M433.9 218h1M425.1 222.1h1M438.6 220.1h1M432.5 222.2h1M430.6 222.9h1M429.9 217.6h1M432.9 225.4h1M441.9 220.4h1M431.3 223.4h1M430.9 220.6h1M429 221.2h1M422.2 224.6h1M418.2 224.2h1M424 220.2h1M429 218.1h1M428.6 218.2h1M431.1 227.2h1M435.2 221.2h1M440.2 221.3h1M431.8 221.6h1M435 218.9h1M436.7 218.5h1M417.7 220.2h1M420.8 230.5h1M424.4 220.2h1M427.3 224h1M428.5 219.8h1M437.1 216.5h1M429.7 217.8h1M420.8 223.3h1M424.1 215.5h1M429.5 223.2h1M435.3 220.1h1M426.5 224.8h1M429 221.5h1M423.6 221.1h1M417.3 220.2h1M424.2 222.2h1M430.8 222.2h1M430.5 220.7h1M431.1 218.1h1M424.2 217.6h1M423.4 227.1h1M430.2 221.3h1M433.6 217.5h1M426 221.9h1M416.2 222h1M428.6 223.4h1M422.9 224.9h1M436 218.3h1M437 219.5h1M430.5 223.7h1M435.7 226.6h1M430.3 218.7h1M422.8 221.2h1M424.4 220.6h1M434.1 219.9h1M430.4 227.5h1M415.1 226.4h1M425.2 220.7h1M424 224.4h1M431.1 223.3h1M434 218.1h1M424.7 218.3h1M432.8 219.5h1M428.7 219.9h1M418 227.3h1M434.3 221.1h1M425 221.7h1M428.6 222.4h1M432.5 215.4h1M421 223.1h1M433 220.3h1M417.7 224.9h1M427.8 220.7h1M420.9 225.5h1M425.3 223.6h1M428.7 219.7h1M423.2 226.9h1M416.8 224.2h1M431.3 220.5h1M432.3 217.1h1M441.8 210.6h1M432.4 225.1h1M429.9 223.5h1M437.6 217.6h1M432.3 221.1h1M419.5 222.7h1M424.3 221.4h1M433.8 214.9h1M423.4 223.2h1M426 225.6h1M424.8 219h1M434 216.5h1M429.3 223.1h1M417.2 222.2h1M420.4 225.9h1M433.9 214.9h1M424.5 227.3h1M425.9 217.5h1M429.9 223.9h1M427.6 223h1M437 220.2h1M433 222.8h1M429 220.2h1M424.6 222.9h1M428.9 219h1M422.2 225.6h1M428.8 221.8h1M421.2 219.4h1M434.6 221h1M416.8 224.3h1M426.7 218h1M434.2 225.7h1M434 221.1h1M418.4 220.4h1M432.7 220h1M423.5 221h1M430.5 220.7h1M421.8 222.4h1M425.2 219.3h1M422.8 222.4h1M427.1 218.5h1M435.1 216.3h1M428.9 223.8h1M421.6 217.1h1M426.1 222.6h1M421.2 225.4h1M432.5 214.5h1M435.6 217.6h1M431.3 220.1h1M422.3 224.1h1M435.2 222.6h1M434.2 224.4h1M438.8 215.1h1M425.6 217.2h1M426 222.3h1M427.8 220.5h1M429.1 224h1M428.7 218.7h1M424.6 219.5h1M430.8 222.3h1M431.3 217.5h1M430 217.4h1M423.6 219.6h1M430 216h1M425.2 224.2h1M430.3 218.9h1M421.4 220.3h1M422.5 224h1M431.6 221.3h1M429.7 220.4h1M424.4 223.6h1M434.9 220.1h1M422.7 214.6h1M423.6 219.2h1M420.4 223.7h1M430.3 221.7h1M423.5 219.5h1M434.8 223.4h1M433.5 216h1M421.3 223.5h1M419.2 223.1h1M424.3 225.4h1M421.8 218.2h1M423 221h1M422.2 223.6h1M424.8 217.9h1M425.3 221.1h1M433.5 218.5h1M418.1 227.8h1M423.7 220.4h1M438.4 221.2h1M414.7 220.3h1M429.1 212.8h1M428.6 224.2h1M432.1 217.8h1M424.5 221.2h1M419.4 220h1M432.1 224.5h1M432.1 218.5h1M423.3 225.2h1M425 224.5h1M426.7 221.7h1M429.8 221.9h1M431.3 217h1M422.9 225.6h1M416.6 229.8h1M420.3 223.6h1M428 222.7h1M422.7 225h1M426.4 220.3h1M414.9 223.3h1M421.4 225.1h1M429.9 218.8h1M426.1 217.4h1M425 221.8h1M426.6 223.1h1M435.5 213.8h1M436.7 222.1h1M426.5 221.4h1M426.9 217h1M423.1 227.4h1M414.6 219.2h1M432.5 221.7h1M424.6 221.1h1M422 222.5h1M434.7 223.4h1M431.3 219.3h1M428.2 224.2h1M425.6 221.6h1M427.1 222.1h1M428.4 220.6h1M420.3 216.4h1M429.5 218.1h1M426.8 224.1h1M430 220.3h1M434.2 224.4h1M428.2 223.8h1M430.9 220.7h1M428.7 222.2h1M432 221h1M421.5 229.9h1M427.9 222.6h1M434.9 216.6h1M422 223.4h1M425.6 224h1M433.7 223.1h1M427.8 218.7h1M442.2 213.9h1M421.2 226.5h1M427.2 223h1M429.7 215.8h1M423.4 220.9h1M422.2 221.8h1M433.7 215.4h1M433.2 221.6h1M435 218.3h1M423.5 224.9h1M419.6 222.6h1M440 221.2h1M431 225h1M422.1 224.6h1M416 221.7h1M431.9 220.1h1M427.1 221.3h1M424.9 221.2h1M439.6 221.9h1M434.1 216.8h1M426.5 222.8h1M433.2 218.7h1M434.5 222.1h1M425 225.6h1M416.5 222.8h1M437.5 218.7h1M420.2 220.7h1M417.3 224.1h1M416.4 219.2h1M431.6 222.9h1M422.6 225.6h1M428.4 222h1M430.1 220.4h1M434.3 223.2h1M423.8 224.9h1M424.5 225.1h1M415.1 230h1M437.5 222.3h1M429.9 224.2h1M425.7 221.5h1M429.6 220.6h1M430.1 219.2h1M425.3 219.2h1M421.4 223.8h1M423.9 221.6h1M423 223.6h1M427.7 222.5h1M430.5 221.5h1M419.5 222.4h1M432.6 219.5h1M441 214.1h1M433.5 222h1M435.2 216.4h1M422.1 224.4h1M435.8 220.7h1M434.9 218.7h1M430.9 221h1M423.9 227.3h1M424.8 223.7h1M423.3 219.3h1M426.4 218.9h1M428.5 220.2h1M429.2 217.7h1M427 218.8h1M422.9 219.6h1M428 221.1h1M439.4 223.4h1M430.1 224h1M424.3 223.4h1M415.8 219.9h1M417.4 224.7h1M434 221.9h1M422.7 221.9h1M431.4 222.8h1M429.8 225h1M417.2 229.4h1M432.2 222.2h1M426 220.9h1M427.9 217.7h1M421.2 220.8h1M431.7 221.2h1M425.2 218.7h1M438.2 218.3h1M424.8 221.7h1M438.3 216.3h1M438.5 221.2h1M432.2 221.1h1M430 221.5h1M439 218h1M428.1 218.5h1M420.2 222.5h1M427 222.1h1M428.7 216.7h1M421.6 225.3h1M414.9 224h1M438.8 218.5h1M439.4 217.8h1M426.6 219h1M419.1 225.4h1M431.7 219.5h1M420 222.4h1M422.2 221.5h1M434.6 218.3h1M434.6 220.8h1M428.9 217.6h1M433.2 221.2h1M417.7 221.2h1M424.9 228.1h1M419.9 220.4h1M429.4 215.7h1M434.8 219.1h1M427.8 224h1M432.6 216.5h1M433.9 217.3h1M423.7 226.1h1M426.4 219.8h1M420.1 223.8h1M431.5 221.4h1M427.1 223.5h1M434.8 222.9h1M416.2 225h1M427.3 223.7h1M436.8 219.8h1M434.8 220.8h1M420.5 226.3h1M432 221.2h1M439.2 215.3h1M416.6 226h1M428.8 221.2h1M434.3 220h1M424 222.1h1M430.5 221.2h1M428.1 219.2h1M426.4 220.9h1M430 215.8h1M420 219.5h1M435.9 222.3h1M425.7 218h1M427.1 217.7h1M420 218.6h1M422.7 223h1M424.4 218h1M432 218.1h1M428.5 217.5h1M424.7 218.2h1M424 223.6h1M430.6 221.5h1M433.2 222.3h1M427.6 222.6h1M424.5 219.9h1M426.3 219.7h1M420.7 222.4h1M426.9 220h1M427.5 222.5h1M425.5 217.5h1M423.1 217.5h1M418.8 223.2h1M432.1 221.6h1M431.7 217.3h1M430.8 217.8h1M418.5 219h1M432.9 221.6h1M420.7 222.8h1M425.5 219.8h1M432.4 223.4h1M422.9 219.6h1M432 217.2h1M434 220.7h1M417.7 225.4h1M432.9 222.4h1M425.2 222.5h1M415.2 224.1h1M424 219.2h1M424.8 222.9h1M426.7 217.3h1M426.1 226h1M420.1 228.1h1M427.4 222.3h1M424.6 225.9h1M424.3 220.9h1M425.2 224.3h1M418.4 230.4h1M424.3 222.9h1M435.5 220.1h1M416.2 222.6h1M418.4 225.3h1M419.4 222.3h1M420 222.4h1M434.2 217.2h1M416.8 223.6h1M429.8 221.7h1M420.6 220.3h1M422.9 223.2h1M418.6 228.9h1M434.5 216.7h1M422.3 222.7h1M416.1 225.2h1M432.8 221.2h1M420.7 218.1h1M431.1 217.8h1M423.6 221.9h1M432.8 218.3h1M421.7 224.1h1M430.2 219.5h1M418.9 223.4h1M423.7 224.4h1M432.2 220h1M425.9 217.2h1M437.1 219.2h1M422.5 222.9h1M419.7 218.2h1M416.7 222h1M417.4 222.5h1M424.5 222.3h1M430.6 222.3h1M436.3 221h1M419.7 221.6h1M431.2 218.4h1M419.7 224.4h1M433 217.3h1M423.4 223.9h1M429.3 222.7h1M427.1 223.8h1M430.2 219.9h1M435 219.8h1M432.8 216.7h1M415.3 223.1h1M434.2 219.3h1M425 222.8h1M426.2 225h1M422.7 222.1h1M424.5 228.4h1M434.5 221.5h1M434.8 220.8h1M434.4 215.9h1M429.2 221.6h1M423.9 221.4h1M435.9 221.8h1M425.1 219.6h1M423.2 218.6h1M432.5 218.4h1M426.6 223.7h1M424.5 218.2h1M420.4 226.8h1M432.5 220.7h1M433 221.8h1M419.2 222.2h1M436.4 221.1h1M431.5 221.7h1M424.9 220.4h1M432.2 218.1h1M428.6 215.7h1M423.3 225h1M434.6 216.6h1M420 226h1M426.2 220.2h1M432.5 221.8h1M432.5 219h1M425.2 220.4h1M436.3 217.6h1M439.3 220.9h1M428.3 218.3h1M433.8 218h1M419.3 226.2h1M427 223.5h1M416.2 222.6h1M420.5 224.3h1M434.4 216.9h1M430.2 224.2h1M415.3 223.9h1M424.9 219.4h1M434.4 219.9h1M426.7 223.4h1M419.9 218h1M432.2 220.3h1M422.1 216.6h1M426.3 215.8h1M438.6 222.2h1M414.3 224h1M439.1 222.1h1M430 221.5h1M424.2 219.7h1M441.5 218.8h1M438.5 215.2h1M423.3 224.8h1M428.4 212.8h1M425.9 218.5h1M420.6 223.3h1M429.8 226.1h1M418.6 220.5h1M423.1 221.4h1M426.8 223.3h1M438.4 217.1h1M437.1 220.4h1M429.1 227h1M436 216h1M431.4 229.2h1M432.7 219.1h1M416.5 220.4h1M420.5 219.2h1M432.9 220.4h1M434.8 215.6h1M423.6 222.6h1M429.8 222.6h1M426.9 221.3h1M441.5 221.6h1M434 222.3h1M430.8 219.4h1M432.5 223.7h1M421.2 226.6h1M421.8 223.5h1M422.5 222.9h1M439.7 220.6h1M417 221.2h1M431.6 219.1h1M438.1 223.9h1M422.5 222.3h1M431.2 211.1h1M421.5 221.2h1M423.8 220.6h1M428.7 221.4h1M421.3 226.1h1M431.5 215.3h1M430.2 222h1M425.9 220.2h1M424.5 221.6h1M421.9 221.1h1M438.3 222.5h1M436 217.4h1M426.2 220h1M426.1 225.4h1M435.1 220.2h1M430.1 220.7h1M426.8 218.9h1M424.1 223.2h1M422.5 226h1M417.3 224.2h1M429.2 222.6h1M438.3 216.7h1M433.5 223.4h1M427.9 216.1h1M431.3 218.1h1M427 217.3h1M433.5 220.7h1M423.4 225.4h1M420.3 224.5h1M440.2 219.9h1M427.5 222.3h1M428.9 216h1M432.6 223.1h1M420.7 222.6h1M426.3 224.5h1M434 221.7h1M425.4 226h1M427.1 218.3h1M416.4 225.9h1M421.5 225.1h1M431.3 222.1h1M427.7 220.8h1M416.8 226.2h1M428.6 221.8h1M421.3 220.1h1M434.7 220.7h1M424.1 223.1h1M417.8 225.7h1M433.2 218.3h1M427.5 218.2h1M438.9 213.9h1M436.5 222.9h1M430.2 221h1M431.2 221.1h1M424.3 221.3h1M429.9 224.4h1M421.8 225.1h1M433 219.3h1M421.3 223.6h1M436.1 220.4h1M428.6 225h1M426.1 221.7h1M432.2 218.5h1M423.5 221.7h1M432 220.1h1M417.7 219.4h1M423.1 225.8h1M428.5 223.5h1M433.5 218.4h1M430.3 221.3h1M441.3 222h1M428.4 221.4h1M420.9 218.2h1M433.7 220.1h1M437.8 218.8h1M428.8 223.2h1M434.2 219.2h1M430.4 222.6h1M421.6 217.2h1M418.9 227.6h1M432.6 221.9h1M415.1 230.1h1M440.1 216.8h1M417.6 223.2h1M431.2 220.4h1M429.3 216.8h1M432.1 222.3h1M427.1 220.9h1M441 229.1h1M437.1 229.8h1M437.9 226.3h1M434.5 229.4h1M440.3 224.7h1M442.9 222.3h1M437.1 230.3h1M431.9 233.6h1M439.7 224.3h1M433.9 230.9h1M444.1 225.1h1M439.2 226.9h1M441.9 222.5h1M439.2 222.6h1M434.1 232.4h1M442.3 226.7h1M442.9 221.7h1M436.9 225.4h1M435 229.6h1M441.7 224h1M441.5 223h1M434.7 230.3h1M442.6 226.5h1M436.3 229.9h1M441.7 219.4h1M433.6 233.1h1M440.5 227.2h1M436.4 229.9h1M442.3 222.7h1M444.3 224.1h1M429.2 236.8h1M440.7 227.3h1M435.1 225.2h1M434 233.4h1M438.6 227.5h1M432.1 231h1M435.7 226.9h1M441.6 222h1M441.5 223.9h1M440 221.3h1M444.6 219.2h1M440.4 225h1M435.7 231.9h1M443 223.7h1M442.2 222.5h1M446.1 219.7h1M446.1 222.5h1M448.2 221.4h1M445.2 221.5h1M442.1 225.1h1M438.3 224.9h1M438.6 225.8h1M440.5 222.8h1M431.7 232.6h1M442.7 222.9h1M440.7 222.9h1M437.8 227.7h1M440 220.2h1M437.8 231.1h1M442.7 221.6h1M440.2 227.7h1M433.5 233.6h1M442.6 221.7h1M434.4 235.4h1M435.4 230.8h1M437.7 227.3h1M438.9 227.6h1M438.8 228.7h1M439.5 228.4h1M434.5 231.6h1M438.9 225.8h1M447.8 218.2h1M442.6 224.8h1M445.1 220.6h1M438.8 227.2h1M442.2 224.1h1M442.7 224.5h1M438.4 225.3h1M436.7 227.7h1M439 222.1h1M433.8 232.6h1M435.1 225.9h1M439.1 222.6h1M435.7 230.1h1M439.3 225.8h1M438 229h1M441 221.9h1M442.6 218.2h1M440.3 223.3h1M442.6 227.9h1M442.6 224.5h1M433.5 232.2h1M430.3 236.2h1M440.5 223.2h1M437.6 227.5h1M435.9 230.9h1M441.3 224h1M436.3 232.4h1M441.5 221.7h1M432.8 233.4h1M442 221.5h1M442.7 221.8h1M434.1 232.4h1M440.2 226h1M445.6 219.3h1M444.6 221.9h1M439.6 228h1M437.6 227.7h1M445.1 218.2h1M440.7 224.2h1M446.2 219.1h1M448.4 216.2h1M442.7 221.4h1M445.1 222.2h1M436 228.3h1M435.7 231.5h1M436.3 229.4h1M440.5 223.7h1M445.3 221.1h1M437.5 225.2h1M441.5 226.2h1M445 216.8h1M440.2 223.8h1M438.7 226.2h1M441.7 228.4h1M442 224.6h1M440.1 226.1h1M440.8 221.7h1M441.1 223h1M444.5 218.8h1M437.6 228.9h1M444.2 222.5h1M445 223.1h1M439 226.9h1M437.1 228h1M443.5 226.2h1M444.1 225.2h1M440.4 227.1h1M438 230h1M435.3 228.4h1M440.5 224.7h1M435.7 228.1h1M441.3 226.1h1M438.5 227.1h1M433.3 233.9h1M437.3 230.3h1M436.3 228.4h1M437 225.5h1M446.4 219.9h1M436.1 232h1M435.9 231.1h1M441 229.5h1M442.7 220.2h1M447 219h1M437.4 229.2h1M444.9 221h1M442.6 222.1h1M436.8 228.8h1M436.7 227h1M440.2 225.9h1M439.5 227.9h1M444.5 219.6h1M431.2 234h1M433.8 231h1M441.1 223.1h1M441.9 227.2h1M440.6 222.1h1M447.4 217.3h1M442.6 216.9h1M439.6 229.2h1M434 232.3h1M440.1 228.4h1M439.2 224.5h1M443.6 223.7h1M441.5 221.2h1M442 222.6h1M438.2 226.6h1M440.7 223.2h1M434.6 230.7h1M443.5 222.9h1M440.5 223.8h1M434.5 228.6h1M438.8 227.1h1M436.6 227.4h1M440.8 225.8h1M444.8 220.6h1M433.2 232.2h1M439.4 224.1h1M438.1 224.9h1M447.8 216.3h1M433.3 232.6h1M436.3 231.8h1M433 232.7h1M438.9 224.1h1M441.8 223.4h1M442.3 222.3h1M436.2 232.5h1M435 230.9h1M443 220.1h1M444 222.4h1M438.9 226.9h1M438.6 225.7h1M436.8 228.3h1M439.8 224.4h1M443.6 222.5h1M434.4 228.8h1M438.5 224.6h1M437.7 225.9h1M442.2 227.3h1M435.9 228.2h1M442.1 226.5h1M433.3 232.6h1M441.7 226h1M440 225.2h1M441 226.1h1M449.2 214.4h1M440.5 223.9h1M436.1 228.5h1M433.9 236.2h1M439.9 225.7h1M439.8 225.6h1M443.5 222.3h1M440.4 225.5h1M437.8 231.4h1M434.9 231h1M439.5 227.3h1M437.1 229.1h1M440 228.1h1M441.1 222.9h1M438.1 228.4h1M438.5 224.7h1M440.5 225.6h1M439.7 222.8h1M443.4 224h1M437.8 227.9h1M434.7 232.8h1" stroke="#000" stroke-width="1" stroke-opacity="0.55" fill="none" filter="url(#dotblur)"/>
<path d="M424 220.6h1M420.6 223.9h1M416.2 218.8h1M426 230.1h1M421.4 218.3h1M422 219.9h1M439 207.5h1M420.5 225.9h1M432.6 215.3h1M426.9 219.6h1M430 222.6h1M426.3 227.6h1M432.1 220h1M416.7 221.6h1M420.2 219h1M433.8 235.3h1M418.6 236.8h1M426.4 216h1M436.8 212.5h1M421.2 222.5h1M423.7 209.3h1M429.8 214.5h1M419.8 224h1M434.9 219.3h1M431.9 224.7h1M425.7 225.1h1M423.1 219h1M423.1 225.8h1M429.2 224.3h1M431.7 223.3h1M432.9 211.3h1M435.3 217.3h1M434.1 215.4h1M421 220h1M426.6 215.3h1M435.5 218.8h1M438.6 213.7h1M431.3 230.8h1M438.5 207.9h1M433.3 204.2h1M424.2 218h1M421.9 219.5h1M427.6 223.5h1M427.4 225.8h1M426.6 211.3h1M425.2 231.1h1M422.9 219.2h1M421.8 234.3h1M422.6 217.6h1M428.2 227.5h1M432.2 216.2h1M428.3 217.7h1M424.5 216.2h1M440.8 219.1h1M435.1 219.6h1M432.8 214.2h1M427.2 219.2h1M427.9 220.7h1M418 230.7h1M419.4 230.4h1M420 222.8h1M428.9 205.4h1M428.2 210.7h1M437.7 217.9h1M425.2 215h1M422.6 221.5h1M421.3 217.6h1M430.9 214.6h1M433.5 223.6h1M430 214.5h1M419.8 222.3h1M418.7 226.8h1M430.3 214.3h1M416.1 218.2h1M427.3 214.3h1M438.8 217.2h1M428.5 208.1h1M416.9 210.2h1M422.3 224.6h1M434.9 224.8h1M423.8 223.8h1M429 222.9h1M425.2 218.8h1M416.7 229.4h1M439.3 218.9h1M418.9 229.5h1M435 222.9h1M419.9 216.1h1M425 214.3h1M420.1 223h1M423.9 226h1M439.9 215.3h1M419.4 224.5h1M439.5 223.6h1M426.5 212.7h1M418 221.4h1M422.6 215.6h1M430.7 216.3h1M426.3 219.3h1M439.3 207.9h1M439 214.1h1M428.6 219.8h1M432.5 223.3h1M415.1 216.6h1M416.3 225h1M416.8 217.2h1M426.9 221.9h1M424.1 224h1M442.7 215.8h1M422.8 224.6h1M429.4 224.6h1M431.2 214.7h1M439 220.7h1M440.5 216.6h1M425.2 227.1h1M429.2 224.4h1M415.6 223.4h1M427 236.1h1M420.9 222.1h1M414.6 215h1M438 212.7h1M422.2 221.3h1M427.7 229.4h1M438.3 225.5h1M431.3 222.2h1M436.4 224h1M419 225.8h1M415.5 229.3h1M425.9 231.5h1M435.7 228.3h1M429.4 219.9h1M418.8 223.2h1M442.2 207.5h1M434.5 215.9h1M438.4 214.1h1M418.1 235.7h1M420.6 224.1h1M423.3 229.5h1M415.9 226.7h1M416 231.5h1M438.1 216.2h1M420.5 217.5h1M437.6 218.4h1M431.4 224.8h1M435.2 218.9h1M430.7 242.9h1M424.8 216.7h1M429.1 204.1h1M429.7 215.6h1M427.7 224.8h1M438.4 216.1h1M431.2 222.6h1M419.7 217.9h1M428.5 214.8h1M436.7 217.9h1M435.1 224h1M437 210.2h1M420.5 216.1h1M424.7 232.2h1M434.9 227.5h1M430.7 224.4h1M441 218h1M428.7 217.1h1M426.7 217.2h1M437.6 222.8h1M430.2 226.8h1M415.3 220.2h1M428.2 224.9h1M431.2 215.9h1M437.9 209.7h1M428.4 227.6h1M429.8 226.7h1M430.6 230.9h1M417.7 224.3h1M425 217h1M420 227.2h1M425 218.9h1M426.6 218.1h1M429.5 207.6h1M418 219.9h1M422.3 222.6h1M416.6 225.9h1M418.3 218h1M423.3 216.8h1M425.2 231.4h1M416.3 222.1h1M424 217.9h1M418.4 214.7h1M427 228.9h1M427.5 221h1M437.1 227.3h1M432.9 224.3h1M440.5 220.5h1M424.8 224.9h1M422.1 226.7h1M417.1 223.6h1M431.7 225.5h1M426 222.5h1M423.1 218.7h1M421.9 222.3h1M425.7 227.3h1M423 221.1h1M438.3 218.6h1M429.8 222.8h1M427.1 235.7h1M437.3 219.9h1M415.9 218.7h1M430.4 223.7h1M432.1 231.2h1M435.3 221.7h1M444.8 223.2h1M438.3 226.5h1M442.6 222.5h1M440.9 219h1M444.9 214.4h1M441.6 224.1h1M441 231.1h1M436.4 227.9h1M440.5 224h1M442.4 217h1M442.5 225.3h1M442.1 216.9h1M446 214.8h1M435.1 215h1M440.4 220.4h1M446.2 219.6h1M432.2 235.4h1M436.5 224.5h1M441.6 222.9h1M436.9 226.8h1M435.9 231.3h1M444.3 220.4h1M430.8 231.9h1M442.2 215.8h1M441.9 232.6h1M439.3 221h1M440.2 228.3h1M438.9 221h1M443.9 227.2h1M438.4 230.2h1M444.9 212h1M439.8 225.8h1M442.5 221.4h1M438.3 223.3h1M446.6 221h1M437.5 224.8h1M437.7 237.9h1M446.4 219.8h1M429.8 239.6h1M442.5 222.9h1M439.2 232.2h1M444.7 222.1h1" stroke="#000" stroke-width="1" stroke-opacity="0.3" fill="none" filter="url(#dotblur)"/>
<text x="418" y="298.5" font-size="14">Annexin V</text>
<line x1="483.2" y1="294" x2="509.7" y2="294" stroke="#000" stroke-width="1.3"/>
<path d="M514.7 294L507.8 290.2L507.8 297.8Z" fill="#000"/>
<text x="287.8" y="323.9" font-size="14.8" font-weight="bold">K</text>
<rect x="339.8" y="331.5" width="154.4" height="115.5" fill="none" stroke="#000" stroke-width="1.8"/>
<line x1="334.8" y1="331.5" x2="339.8" y2="331.5" stroke="#000" stroke-width="1.5"/>
<text x="333.6" y="336.4" font-size="11.2" text-anchor="end">80</text>
<line x1="334.8" y1="360.38" x2="339.8" y2="360.38" stroke="#000" stroke-width="1.5"/>
<text x="333.6" y="365.27" font-size="11.2" text-anchor="end">60</text>
<line x1="334.8" y1="389.25" x2="339.8" y2="389.25" stroke="#000" stroke-width="1.5"/>
<text x="333.6" y="394.15" font-size="11.2" text-anchor="end">40</text>
<line x1="334.8" y1="418.12" x2="339.8" y2="418.12" stroke="#000" stroke-width="1.5"/>
<text x="333.6" y="423.02" font-size="11.2" text-anchor="end">20</text>
<line x1="334.8" y1="447" x2="339.8" y2="447" stroke="#000" stroke-width="1.5"/>
<text x="333.6" y="451.9" font-size="11.2" text-anchor="end">0</text>
<rect x="341.1" y="445.6" width="21.4" height="1.4" fill="#000"/>
<line x1="351.8" y1="447" x2="351.8" y2="452" stroke="#000" stroke-width="1.5"/>
<line x1="351.8" y1="444.8" x2="351.8" y2="445.6" stroke="#000" stroke-width="1.4"/>
<line x1="347.8" y1="444.8" x2="355.8" y2="444.8" stroke="#000" stroke-width="1.5"/>
<rect x="366.8" y="420.8" width="21.4" height="26.2" fill="#000"/>
<line x1="377.5" y1="447" x2="377.5" y2="452" stroke="#000" stroke-width="1.5"/>
<line x1="377.5" y1="413.8" x2="377.5" y2="420.8" stroke="#000" stroke-width="1.4"/>
<line x1="373.5" y1="413.8" x2="381.5" y2="413.8" stroke="#000" stroke-width="1.5"/>
<text x="377.5" y="416.1" font-size="16.5" text-anchor="middle" stroke-width="0.5">*</text>
<rect x="392.6" y="409.2" width="21.4" height="37.8" fill="#000"/>
<line x1="403.3" y1="447" x2="403.3" y2="452" stroke="#000" stroke-width="1.5"/>
<line x1="403.3" y1="404.8" x2="403.3" y2="409.2" stroke="#000" stroke-width="1.4"/>
<line x1="399.3" y1="404.8" x2="407.3" y2="404.8" stroke="#000" stroke-width="1.5"/>
<text x="403.3" y="407.4" font-size="16.5" text-anchor="middle" stroke-width="0.5">*</text>
<rect x="418.2" y="396.8" width="21.4" height="50.2" fill="#000"/>
<line x1="428.9" y1="447" x2="428.9" y2="452" stroke="#000" stroke-width="1.5"/>
<line x1="428.9" y1="390.5" x2="428.9" y2="396.8" stroke="#000" stroke-width="1.4"/>
<line x1="424.9" y1="390.5" x2="432.9" y2="390.5" stroke="#000" stroke-width="1.5"/>
<text x="428.9" y="391.1" font-size="16.5" text-anchor="middle" stroke-width="0.5">*</text>
<rect x="443.9" y="400" width="21.4" height="47" fill="#000"/>
<line x1="454.6" y1="447" x2="454.6" y2="452" stroke="#000" stroke-width="1.5"/>
<line x1="454.6" y1="394.2" x2="454.6" y2="400" stroke="#000" stroke-width="1.4"/>
<line x1="450.6" y1="394.2" x2="458.6" y2="394.2" stroke="#000" stroke-width="1.5"/>
<text x="454.6" y="394.9" font-size="16.5" text-anchor="middle" stroke-width="0.5">*</text>
<rect x="469.9" y="359.2" width="21.4" height="87.8" fill="#000"/>
<line x1="480.6" y1="447" x2="480.6" y2="452" stroke="#000" stroke-width="1.5"/>
<line x1="480.6" y1="352.5" x2="480.6" y2="359.2" stroke="#000" stroke-width="1.4"/>
<line x1="476.6" y1="352.5" x2="484.6" y2="352.5" stroke="#000" stroke-width="1.5"/>
<text x="480.6" y="351.1" font-size="16.5" text-anchor="middle" stroke-width="0.5">*</text>
<text x="351.8" y="462.2" font-size="11.2" text-anchor="middle">0</text>
<text x="377.5" y="462.2" font-size="11.2" text-anchor="middle">5</text>
<text x="403.3" y="462.2" font-size="11.2" text-anchor="middle">10</text>
<text x="428.9" y="462.2" font-size="11.2" text-anchor="middle">20</text>
<text x="454.6" y="462.2" font-size="11.2" text-anchor="middle">40</text>
<line x1="352" y1="465.8" x2="458.5" y2="465.8" stroke="#000" stroke-width="1.5"/>
<text x="402.8" y="479.5" font-size="14" text-anchor="middle">PGN, <tspan font-family="'Liberation Serif', 'DejaVu Serif', serif">μ</tspan>g/ml</text>
<text x="449.8" y="492.6" font-size="11.2" transform="rotate(-45 449.8 492.6)">ionomycin</text>
<text x="300.4" y="389.8" font-size="14" text-anchor="middle" transform="rotate(-90 300.4 389.8)">% Annexin<tspan dx="2.4">V+</tspan></text>
<text x="315" y="389.4" font-size="14" text-anchor="middle" transform="rotate(-90 315 389.4)">platelets</text>
<text x="287.6" y="476.8" font-size="14.8" font-weight="bold">L</text>
<line x1="335.2" y1="500.8" x2="340.2" y2="500.8" stroke="#000" stroke-width="1.5"/>
<text x="333" y="504.7" font-size="10.8" text-anchor="end">100</text>
<line x1="335.2" y1="523.96" x2="340.2" y2="523.96" stroke="#000" stroke-width="1.5"/>
<text x="333" y="527.86" font-size="10.8" text-anchor="end">80</text>
<line x1="335.2" y1="547.12" x2="340.2" y2="547.12" stroke="#000" stroke-width="1.5"/>
<text x="333" y="551.02" font-size="10.8" text-anchor="end">60</text>
<line x1="335.2" y1="570.28" x2="340.2" y2="570.28" stroke="#000" stroke-width="1.5"/>
<text x="333" y="574.18" font-size="10.8" text-anchor="end">40</text>
<line x1="335.2" y1="593.44" x2="340.2" y2="593.44" stroke="#000" stroke-width="1.5"/>
<text x="333" y="597.34" font-size="10.8" text-anchor="end">20</text>
<line x1="335.2" y1="616.6" x2="340.2" y2="616.6" stroke="#000" stroke-width="1.5"/>
<text x="333" y="620.5" font-size="10.8" text-anchor="end">0</text>
<line x1="340.2" y1="616.6" x2="340.2" y2="621.6" stroke="#000" stroke-width="1.5"/>
<text x="340.2" y="631.6" font-size="10.8" text-anchor="middle">0</text>
<line x1="365.83" y1="616.6" x2="365.83" y2="621.6" stroke="#000" stroke-width="1.5"/>
<line x1="391.47" y1="616.6" x2="391.47" y2="621.6" stroke="#000" stroke-width="1.5"/>
<text x="391.47" y="631.6" font-size="10.8" text-anchor="middle">20</text>
<line x1="417.1" y1="616.6" x2="417.1" y2="621.6" stroke="#000" stroke-width="1.5"/>
<line x1="442.73" y1="616.6" x2="442.73" y2="621.6" stroke="#000" stroke-width="1.5"/>
<text x="442.73" y="631.6" font-size="10.8" text-anchor="middle">40</text>
<line x1="468.37" y1="616.6" x2="468.37" y2="621.6" stroke="#000" stroke-width="1.5"/>
<line x1="494" y1="616.6" x2="494" y2="621.6" stroke="#000" stroke-width="1.5"/>
<text x="494" y="631.6" font-size="10.8" text-anchor="middle">60</text>
<text x="418.2" y="646" font-size="14" text-anchor="middle">Time, mins.</text>
<text x="296" y="558" font-size="14.35" text-anchor="middle" transform="rotate(-90 296 558)">Normalized absorbance</text>
<text x="310.4" y="557.4" font-size="14" text-anchor="middle" transform="rotate(-90 310.4 557.4)">(% maximum)</text>
<path d="M338.1 613.2 L355.9 607.6 L369.4 602.2 L380.9 595.6 L390.6 586.6 L398.1 575.4 L404.1 563.8 L410.4 550.8 L415.1 535.4 L420.9 522 L426.7 512.3 L432.5 507.5 L443 505.4 L493 507.4" fill="none" stroke="#333" stroke-width="0.6" stroke-linejoin="round"/>
<circle cx="338.1" cy="613.2" r="1.55" fill="none" stroke="#000" stroke-width="0.85"/>
<circle cx="339.4" cy="612.79" r="1.55" fill="none" stroke="#000" stroke-width="0.85"/>
<circle cx="340.7" cy="612.38" r="1.55" fill="none" stroke="#000" stroke-width="0.85"/>
<circle cx="342" cy="611.97" r="1.55" fill="none" stroke="#000" stroke-width="0.85"/>
<circle cx="343.3" cy="611.56" r="1.55" fill="none" stroke="#000" stroke-width="0.85"/>
<circle cx="344.6" cy="611.16" r="1.55" fill="none" stroke="#000" stroke-width="0.85"/>
<circle cx="345.9" cy="610.75" r="1.55" fill="none" stroke="#000" stroke-width="0.85"/>
<circle cx="347.2" cy="610.34" r="1.55" fill="none" stroke="#000" stroke-width="0.85"/>
<circle cx="348.5" cy="609.93" r="1.55" fill="none" stroke="#000" stroke-width="0.85"/>
<circle cx="349.8" cy="609.52" r="1.55" fill="none" stroke="#000" stroke-width="0.85"/>
<circle cx="351.1" cy="609.11" r="1.55" fill="none" stroke="#000" stroke-width="0.85"/>
<circle cx="352.4" cy="608.7" r="1.55" fill="none" stroke="#000" stroke-width="0.85"/>
<circle cx="353.7" cy="608.29" r="1.55" fill="none" stroke="#000" stroke-width="0.85"/>
<circle cx="355" cy="607.88" r="1.55" fill="none" stroke="#000" stroke-width="0.85"/>
<circle cx="356.3" cy="607.44" r="1.55" fill="none" stroke="#000" stroke-width="0.85"/>
<circle cx="357.6" cy="606.92" r="1.55" fill="none" stroke="#000" stroke-width="0.85"/>
<circle cx="358.9" cy="606.4" r="1.55" fill="none" stroke="#000" stroke-width="0.85"/>
<circle cx="360.2" cy="605.88" r="1.55" fill="none" stroke="#000" stroke-width="0.85"/>
<circle cx="361.5" cy="605.36" r="1.55" fill="none" stroke="#000" stroke-width="0.85"/>
<circle cx="362.8" cy="604.84" r="1.55" fill="none" stroke="#000" stroke-width="0.85"/>
<circle cx="364.1" cy="604.32" r="1.55" fill="none" stroke="#000" stroke-width="0.85"/>
<circle cx="365.4" cy="603.8" r="1.55" fill="none" stroke="#000" stroke-width="0.85"/>
<circle cx="366.7" cy="603.28" r="1.55" fill="none" stroke="#000" stroke-width="0.85"/>
<circle cx="368" cy="602.76" r="1.55" fill="none" stroke="#000" stroke-width="0.85"/>
<circle cx="369.3" cy="602.24" r="1.55" fill="none" stroke="#000" stroke-width="0.85"/>
<circle cx="370.6" cy="601.51" r="1.55" fill="none" stroke="#000" stroke-width="0.85"/>
<circle cx="371.9" cy="600.77" r="1.55" fill="none" stroke="#000" stroke-width="0.85"/>
<circle cx="373.2" cy="600.02" r="1.55" fill="none" stroke="#000" stroke-width="0.85"/>
<circle cx="374.5" cy="599.27" r="1.55" fill="none" stroke="#000" stroke-width="0.85"/>
<circle cx="375.8" cy="598.53" r="1.55" fill="none" stroke="#000" stroke-width="0.85"/>
<circle cx="377.1" cy="597.78" r="1.55" fill="none" stroke="#000" stroke-width="0.85"/>
<circle cx="378.4" cy="597.03" r="1.55" fill="none" stroke="#000" stroke-width="0.85"/>
<circle cx="379.7" cy="596.29" r="1.55" fill="none" stroke="#000" stroke-width="0.85"/>
<circle cx="381" cy="595.51" r="1.55" fill="none" stroke="#000" stroke-width="0.85"/>
<circle cx="382.3" cy="594.3" r="1.55" fill="none" stroke="#000" stroke-width="0.85"/>
<circle cx="383.6" cy="593.09" r="1.55" fill="none" stroke="#000" stroke-width="0.85"/>
<circle cx="384.9" cy="591.89" r="1.55" fill="none" stroke="#000" stroke-width="0.85"/>
<circle cx="386.2" cy="590.68" r="1.55" fill="none" stroke="#000" stroke-width="0.85"/>
<circle cx="387.5" cy="589.48" r="1.55" fill="none" stroke="#000" stroke-width="0.85"/>
<circle cx="388.8" cy="588.27" r="1.55" fill="none" stroke="#000" stroke-width="0.85"/>
<circle cx="390.1" cy="587.06" r="1.55" fill="none" stroke="#000" stroke-width="0.85"/>
<circle cx="391.4" cy="585.41" r="1.55" fill="none" stroke="#000" stroke-width="0.85"/>
<circle cx="392.7" cy="583.46" r="1.55" fill="none" stroke="#000" stroke-width="0.85"/>
<circle cx="394" cy="581.52" r="1.55" fill="none" stroke="#000" stroke-width="0.85"/>
<circle cx="395.3" cy="579.58" r="1.55" fill="none" stroke="#000" stroke-width="0.85"/>
<circle cx="396.6" cy="577.64" r="1.55" fill="none" stroke="#000" stroke-width="0.85"/>
<circle cx="397.9" cy="575.7" r="1.55" fill="none" stroke="#000" stroke-width="0.85"/>
<circle cx="399.2" cy="573.27" r="1.55" fill="none" stroke="#000" stroke-width="0.85"/>
<circle cx="400.5" cy="570.76" r="1.55" fill="none" stroke="#000" stroke-width="0.85"/>
<circle cx="401.8" cy="568.25" r="1.55" fill="none" stroke="#000" stroke-width="0.85"/>
<circle cx="403.1" cy="565.73" r="1.55" fill="none" stroke="#000" stroke-width="0.85"/>
<circle cx="404.4" cy="563.18" r="1.55" fill="none" stroke="#000" stroke-width="0.85"/>
<circle cx="405.7" cy="560.5" r="1.55" fill="none" stroke="#000" stroke-width="0.85"/>
<circle cx="407" cy="557.82" r="1.55" fill="none" stroke="#000" stroke-width="0.85"/>
<circle cx="408.3" cy="555.13" r="1.55" fill="none" stroke="#000" stroke-width="0.85"/>
<circle cx="409.6" cy="552.45" r="1.55" fill="none" stroke="#000" stroke-width="0.85"/>
<circle cx="410.9" cy="549.16" r="1.55" fill="none" stroke="#000" stroke-width="0.85"/>
<circle cx="412.2" cy="544.9" r="1.55" fill="none" stroke="#000" stroke-width="0.85"/>
<circle cx="413.5" cy="540.64" r="1.55" fill="none" stroke="#000" stroke-width="0.85"/>
<circle cx="414.8" cy="536.38" r="1.55" fill="none" stroke="#000" stroke-width="0.85"/>
<circle cx="416.1" cy="533.09" r="1.55" fill="none" stroke="#000" stroke-width="0.85"/>
<circle cx="417.4" cy="530.09" r="1.55" fill="none" stroke="#000" stroke-width="0.85"/>
<circle cx="418.7" cy="527.08" r="1.55" fill="none" stroke="#000" stroke-width="0.85"/>
<circle cx="420" cy="524.08" r="1.55" fill="none" stroke="#000" stroke-width="0.85"/>
<circle cx="421.3" cy="521.33" r="1.55" fill="none" stroke="#000" stroke-width="0.85"/>
<circle cx="422.6" cy="519.16" r="1.55" fill="none" stroke="#000" stroke-width="0.85"/>
<circle cx="423.9" cy="516.98" r="1.55" fill="none" stroke="#000" stroke-width="0.85"/>
<circle cx="425.2" cy="514.81" r="1.55" fill="none" stroke="#000" stroke-width="0.85"/>
<circle cx="426.5" cy="512.63" r="1.55" fill="none" stroke="#000" stroke-width="0.85"/>
<circle cx="427.8" cy="511.39" r="1.55" fill="none" stroke="#000" stroke-width="0.85"/>
<circle cx="429.1" cy="510.31" r="1.55" fill="none" stroke="#000" stroke-width="0.85"/>
<circle cx="430.4" cy="509.24" r="1.55" fill="none" stroke="#000" stroke-width="0.85"/>
<circle cx="431.7" cy="508.16" r="1.55" fill="none" stroke="#000" stroke-width="0.85"/>
<circle cx="433" cy="507.4" r="1.55" fill="none" stroke="#000" stroke-width="0.85"/>
<circle cx="434.3" cy="507.14" r="1.55" fill="none" stroke="#000" stroke-width="0.85"/>
<circle cx="435.6" cy="506.88" r="1.55" fill="none" stroke="#000" stroke-width="0.85"/>
<circle cx="436.9" cy="506.62" r="1.55" fill="none" stroke="#000" stroke-width="0.85"/>
<circle cx="438.2" cy="506.36" r="1.55" fill="none" stroke="#000" stroke-width="0.85"/>
<circle cx="439.5" cy="506.1" r="1.55" fill="none" stroke="#000" stroke-width="0.85"/>
<path d="M341 613.2 L358.8 607.6 L372.3 602.2 L383.8 595.6 L393.5 586.6 L401 575.4 L407 563.8 L413.3 550.8 L418 535.4 L423.8 522 L429.6 512.3 L435.4 507.5 L445 505.2 L493 506.6" fill="none" stroke="#333" stroke-width="0.6" stroke-linejoin="round"/>
<rect x="339.6" y="611.8" width="2.8" height="2.8" fill="none" stroke="#000" stroke-width="0.85"/>
<rect x="340.9" y="611.39" width="2.8" height="2.8" fill="none" stroke="#000" stroke-width="0.85"/>
<rect x="342.2" y="610.98" width="2.8" height="2.8" fill="none" stroke="#000" stroke-width="0.85"/>
<rect x="343.5" y="610.57" width="2.8" height="2.8" fill="none" stroke="#000" stroke-width="0.85"/>
<rect x="344.8" y="610.16" width="2.8" height="2.8" fill="none" stroke="#000" stroke-width="0.85"/>
<rect x="346.1" y="609.76" width="2.8" height="2.8" fill="none" stroke="#000" stroke-width="0.85"/>
<rect x="347.4" y="609.35" width="2.8" height="2.8" fill="none" stroke="#000" stroke-width="0.85"/>
<rect x="348.7" y="608.94" width="2.8" height="2.8" fill="none" stroke="#000" stroke-width="0.85"/>
<rect x="350" y="608.53" width="2.8" height="2.8" fill="none" stroke="#000" stroke-width="0.85"/>
<rect x="351.3" y="608.12" width="2.8" height="2.8" fill="none" stroke="#000" stroke-width="0.85"/>
<rect x="352.6" y="607.71" width="2.8" height="2.8" fill="none" stroke="#000" stroke-width="0.85"/>
<rect x="353.9" y="607.3" width="2.8" height="2.8" fill="none" stroke="#000" stroke-width="0.85"/>
<rect x="355.2" y="606.89" width="2.8" height="2.8" fill="none" stroke="#000" stroke-width="0.85"/>
<rect x="356.5" y="606.48" width="2.8" height="2.8" fill="none" stroke="#000" stroke-width="0.85"/>
<rect x="357.8" y="606.04" width="2.8" height="2.8" fill="none" stroke="#000" stroke-width="0.85"/>
<rect x="359.1" y="605.52" width="2.8" height="2.8" fill="none" stroke="#000" stroke-width="0.85"/>
<rect x="360.4" y="605" width="2.8" height="2.8" fill="none" stroke="#000" stroke-width="0.85"/>
<rect x="361.7" y="604.48" width="2.8" height="2.8" fill="none" stroke="#000" stroke-width="0.85"/>
<rect x="363" y="603.96" width="2.8" height="2.8" fill="none" stroke="#000" stroke-width="0.85"/>
<rect x="364.3" y="603.44" width="2.8" height="2.8" fill="none" stroke="#000" stroke-width="0.85"/>
<rect x="365.6" y="602.92" width="2.8" height="2.8" fill="none" stroke="#000" stroke-width="0.85"/>
<rect x="366.9" y="602.4" width="2.8" height="2.8" fill="none" stroke="#000" stroke-width="0.85"/>
<rect x="368.2" y="601.88" width="2.8" height="2.8" fill="none" stroke="#000" stroke-width="0.85"/>
<rect x="369.5" y="601.36" width="2.8" height="2.8" fill="none" stroke="#000" stroke-width="0.85"/>
<rect x="370.8" y="600.84" width="2.8" height="2.8" fill="none" stroke="#000" stroke-width="0.85"/>
<rect x="372.1" y="600.11" width="2.8" height="2.8" fill="none" stroke="#000" stroke-width="0.85"/>
<rect x="373.4" y="599.37" width="2.8" height="2.8" fill="none" stroke="#000" stroke-width="0.85"/>
<rect x="374.7" y="598.62" width="2.8" height="2.8" fill="none" stroke="#000" stroke-width="0.85"/>
<rect x="376" y="597.87" width="2.8" height="2.8" fill="none" stroke="#000" stroke-width="0.85"/>
<rect x="377.3" y="597.13" width="2.8" height="2.8" fill="none" stroke="#000" stroke-width="0.85"/>
<rect x="378.6" y="596.38" width="2.8" height="2.8" fill="none" stroke="#000" stroke-width="0.85"/>
<rect x="379.9" y="595.63" width="2.8" height="2.8" fill="none" stroke="#000" stroke-width="0.85"/>
<rect x="381.2" y="594.89" width="2.8" height="2.8" fill="none" stroke="#000" stroke-width="0.85"/>
<rect x="382.5" y="594.11" width="2.8" height="2.8" fill="none" stroke="#000" stroke-width="0.85"/>
<rect x="383.8" y="592.9" width="2.8" height="2.8" fill="none" stroke="#000" stroke-width="0.85"/>
<rect x="385.1" y="591.69" width="2.8" height="2.8" fill="none" stroke="#000" stroke-width="0.85"/>
<rect x="386.4" y="590.49" width="2.8" height="2.8" fill="none" stroke="#000" stroke-width="0.85"/>
<rect x="387.7" y="589.28" width="2.8" height="2.8" fill="none" stroke="#000" stroke-width="0.85"/>
<rect x="389" y="588.08" width="2.8" height="2.8" fill="none" stroke="#000" stroke-width="0.85"/>
<rect x="390.3" y="586.87" width="2.8" height="2.8" fill="none" stroke="#000" stroke-width="0.85"/>
<rect x="391.6" y="585.66" width="2.8" height="2.8" fill="none" stroke="#000" stroke-width="0.85"/>
<rect x="392.9" y="584.01" width="2.8" height="2.8" fill="none" stroke="#000" stroke-width="0.85"/>
<rect x="394.2" y="582.06" width="2.8" height="2.8" fill="none" stroke="#000" stroke-width="0.85"/>
<rect x="395.5" y="580.12" width="2.8" height="2.8" fill="none" stroke="#000" stroke-width="0.85"/>
<rect x="396.8" y="578.18" width="2.8" height="2.8" fill="none" stroke="#000" stroke-width="0.85"/>
<rect x="398.1" y="576.24" width="2.8" height="2.8" fill="none" stroke="#000" stroke-width="0.85"/>
<rect x="399.4" y="574.3" width="2.8" height="2.8" fill="none" stroke="#000" stroke-width="0.85"/>
<rect x="400.7" y="571.87" width="2.8" height="2.8" fill="none" stroke="#000" stroke-width="0.85"/>
<rect x="402" y="569.36" width="2.8" height="2.8" fill="none" stroke="#000" stroke-width="0.85"/>
<rect x="403.3" y="566.85" width="2.8" height="2.8" fill="none" stroke="#000" stroke-width="0.85"/>
<rect x="404.6" y="564.33" width="2.8" height="2.8" fill="none" stroke="#000" stroke-width="0.85"/>
<rect x="405.9" y="561.78" width="2.8" height="2.8" fill="none" stroke="#000" stroke-width="0.85"/>
<rect x="407.2" y="559.1" width="2.8" height="2.8" fill="none" stroke="#000" stroke-width="0.85"/>
<rect x="408.5" y="556.42" width="2.8" height="2.8" fill="none" stroke="#000" stroke-width="0.85"/>
<rect x="409.8" y="553.73" width="2.8" height="2.8" fill="none" stroke="#000" stroke-width="0.85"/>
<rect x="411.1" y="551.05" width="2.8" height="2.8" fill="none" stroke="#000" stroke-width="0.85"/>
<rect x="412.4" y="547.76" width="2.8" height="2.8" fill="none" stroke="#000" stroke-width="0.85"/>
<rect x="413.7" y="543.5" width="2.8" height="2.8" fill="none" stroke="#000" stroke-width="0.85"/>
<rect x="415" y="539.24" width="2.8" height="2.8" fill="none" stroke="#000" stroke-width="0.85"/>
<rect x="416.3" y="534.98" width="2.8" height="2.8" fill="none" stroke="#000" stroke-width="0.85"/>
<rect x="417.6" y="531.69" width="2.8" height="2.8" fill="none" stroke="#000" stroke-width="0.85"/>
<rect x="418.9" y="528.69" width="2.8" height="2.8" fill="none" stroke="#000" stroke-width="0.85"/>
<rect x="420.2" y="525.68" width="2.8" height="2.8" fill="none" stroke="#000" stroke-width="0.85"/>
<rect x="421.5" y="522.68" width="2.8" height="2.8" fill="none" stroke="#000" stroke-width="0.85"/>
<rect x="422.8" y="519.93" width="2.8" height="2.8" fill="none" stroke="#000" stroke-width="0.85"/>
<rect x="424.1" y="517.76" width="2.8" height="2.8" fill="none" stroke="#000" stroke-width="0.85"/>
<rect x="425.4" y="515.58" width="2.8" height="2.8" fill="none" stroke="#000" stroke-width="0.85"/>
<rect x="426.7" y="513.41" width="2.8" height="2.8" fill="none" stroke="#000" stroke-width="0.85"/>
<rect x="428" y="511.23" width="2.8" height="2.8" fill="none" stroke="#000" stroke-width="0.85"/>
<rect x="429.3" y="509.99" width="2.8" height="2.8" fill="none" stroke="#000" stroke-width="0.85"/>
<rect x="430.6" y="508.91" width="2.8" height="2.8" fill="none" stroke="#000" stroke-width="0.85"/>
<rect x="431.9" y="507.84" width="2.8" height="2.8" fill="none" stroke="#000" stroke-width="0.85"/>
<rect x="433.2" y="506.76" width="2.8" height="2.8" fill="none" stroke="#000" stroke-width="0.85"/>
<rect x="434.5" y="505.98" width="2.8" height="2.8" fill="none" stroke="#000" stroke-width="0.85"/>
<rect x="435.8" y="505.67" width="2.8" height="2.8" fill="none" stroke="#000" stroke-width="0.85"/>
<rect x="437.1" y="505.36" width="2.8" height="2.8" fill="none" stroke="#000" stroke-width="0.85"/>
<rect x="438.4" y="505.05" width="2.8" height="2.8" fill="none" stroke="#000" stroke-width="0.85"/>
<rect x="439.7" y="504.73" width="2.8" height="2.8" fill="none" stroke="#000" stroke-width="0.85"/>
<path d="M341 612 L350 606.8 L362 598.6 L368.5 590.8 L374.8 581.5 L380.6 570 L386.3 557.5 L391.2 546.5 L394 537 L397.4 527.7 L400.6 519.4 L404 513.4 L408.6 509.2 L414 506.6 L421 505.2 L430 504.6 L493 505.6" fill="none" stroke="#333" stroke-width="0.6" stroke-linejoin="round"/>
<path d="M339.5 612l1.5 -1.5l1.5 1.5l-1.5 1.5zm-1 0h5" fill="none" stroke="#000" stroke-width="0.75"/>
<path d="M340.8 611.25l1.5 -1.5l1.5 1.5l-1.5 1.5zm-1 0h5" fill="none" stroke="#000" stroke-width="0.75"/>
<path d="M342.1 610.5l1.5 -1.5l1.5 1.5l-1.5 1.5zm-1 0h5" fill="none" stroke="#000" stroke-width="0.75"/>
<path d="M343.4 609.75l1.5 -1.5l1.5 1.5l-1.5 1.5zm-1 0h5" fill="none" stroke="#000" stroke-width="0.75"/>
<path d="M344.7 609l1.5 -1.5l1.5 1.5l-1.5 1.5zm-1 0h5" fill="none" stroke="#000" stroke-width="0.75"/>
<path d="M346 608.24l1.5 -1.5l1.5 1.5l-1.5 1.5zm-1 0h5" fill="none" stroke="#000" stroke-width="0.75"/>
<path d="M347.3 607.49l1.5 -1.5l1.5 1.5l-1.5 1.5zm-1 0h5" fill="none" stroke="#000" stroke-width="0.75"/>
<path d="M348.6 606.73l1.5 -1.5l1.5 1.5l-1.5 1.5zm-1 0h5" fill="none" stroke="#000" stroke-width="0.75"/>
<path d="M349.9 605.84l1.5 -1.5l1.5 1.5l-1.5 1.5zm-1 0h5" fill="none" stroke="#000" stroke-width="0.75"/>
<path d="M351.2 604.95l1.5 -1.5l1.5 1.5l-1.5 1.5zm-1 0h5" fill="none" stroke="#000" stroke-width="0.75"/>
<path d="M352.5 604.07l1.5 -1.5l1.5 1.5l-1.5 1.5zm-1 0h5" fill="none" stroke="#000" stroke-width="0.75"/>
<path d="M353.8 603.18l1.5 -1.5l1.5 1.5l-1.5 1.5zm-1 0h5" fill="none" stroke="#000" stroke-width="0.75"/>
<path d="M355.1 602.29l1.5 -1.5l1.5 1.5l-1.5 1.5zm-1 0h5" fill="none" stroke="#000" stroke-width="0.75"/>
<path d="M356.4 601.4l1.5 -1.5l1.5 1.5l-1.5 1.5zm-1 0h5" fill="none" stroke="#000" stroke-width="0.75"/>
<path d="M357.7 600.51l1.5 -1.5l1.5 1.5l-1.5 1.5zm-1 0h5" fill="none" stroke="#000" stroke-width="0.75"/>
<path d="M359 599.62l1.5 -1.5l1.5 1.5l-1.5 1.5zm-1 0h5" fill="none" stroke="#000" stroke-width="0.75"/>
<path d="M360.3 598.74l1.5 -1.5l1.5 1.5l-1.5 1.5zm-1 0h5" fill="none" stroke="#000" stroke-width="0.75"/>
<path d="M361.6 597.28l1.5 -1.5l1.5 1.5l-1.5 1.5zm-1 0h5" fill="none" stroke="#000" stroke-width="0.75"/>
<path d="M362.9 595.72l1.5 -1.5l1.5 1.5l-1.5 1.5zm-1 0h5" fill="none" stroke="#000" stroke-width="0.75"/>
<path d="M364.2 594.16l1.5 -1.5l1.5 1.5l-1.5 1.5zm-1 0h5" fill="none" stroke="#000" stroke-width="0.75"/>
<path d="M365.5 592.6l1.5 -1.5l1.5 1.5l-1.5 1.5zm-1 0h5" fill="none" stroke="#000" stroke-width="0.75"/>
<path d="M366.8 591.04l1.5 -1.5l1.5 1.5l-1.5 1.5zm-1 0h5" fill="none" stroke="#000" stroke-width="0.75"/>
<path d="M368.1 589.18l1.5 -1.5l1.5 1.5l-1.5 1.5zm-1 0h5" fill="none" stroke="#000" stroke-width="0.75"/>
<path d="M369.4 587.26l1.5 -1.5l1.5 1.5l-1.5 1.5zm-1 0h5" fill="none" stroke="#000" stroke-width="0.75"/>
<path d="M370.7 585.34l1.5 -1.5l1.5 1.5l-1.5 1.5zm-1 0h5" fill="none" stroke="#000" stroke-width="0.75"/>
<path d="M372 583.42l1.5 -1.5l1.5 1.5l-1.5 1.5zm-1 0h5" fill="none" stroke="#000" stroke-width="0.75"/>
<path d="M373.3 581.5l1.5 -1.5l1.5 1.5l-1.5 1.5zm-1 0h5" fill="none" stroke="#000" stroke-width="0.75"/>
<path d="M374.6 578.92l1.5 -1.5l1.5 1.5l-1.5 1.5zm-1 0h5" fill="none" stroke="#000" stroke-width="0.75"/>
<path d="M375.9 576.34l1.5 -1.5l1.5 1.5l-1.5 1.5zm-1 0h5" fill="none" stroke="#000" stroke-width="0.75"/>
<path d="M377.2 573.77l1.5 -1.5l1.5 1.5l-1.5 1.5zm-1 0h5" fill="none" stroke="#000" stroke-width="0.75"/>
<path d="M378.5 571.19l1.5 -1.5l1.5 1.5l-1.5 1.5zm-1 0h5" fill="none" stroke="#000" stroke-width="0.75"/>
<path d="M379.8 568.46l1.5 -1.5l1.5 1.5l-1.5 1.5zm-1 0h5" fill="none" stroke="#000" stroke-width="0.75"/>
<path d="M381.1 565.61l1.5 -1.5l1.5 1.5l-1.5 1.5zm-1 0h5" fill="none" stroke="#000" stroke-width="0.75"/>
<path d="M382.4 562.76l1.5 -1.5l1.5 1.5l-1.5 1.5zm-1 0h5" fill="none" stroke="#000" stroke-width="0.75"/>
<path d="M383.7 559.91l1.5 -1.5l1.5 1.5l-1.5 1.5zm-1 0h5" fill="none" stroke="#000" stroke-width="0.75"/>
<path d="M385 557.05l1.5 -1.5l1.5 1.5l-1.5 1.5zm-1 0h5" fill="none" stroke="#000" stroke-width="0.75"/>
<path d="M386.3 554.13l1.5 -1.5l1.5 1.5l-1.5 1.5zm-1 0h5" fill="none" stroke="#000" stroke-width="0.75"/>
<path d="M387.6 551.21l1.5 -1.5l1.5 1.5l-1.5 1.5zm-1 0h5" fill="none" stroke="#000" stroke-width="0.75"/>
<path d="M388.9 548.3l1.5 -1.5l1.5 1.5l-1.5 1.5zm-1 0h5" fill="none" stroke="#000" stroke-width="0.75"/>
<path d="M390.2 544.8l1.5 -1.5l1.5 1.5l-1.5 1.5zm-1 0h5" fill="none" stroke="#000" stroke-width="0.75"/>
<path d="M391.5 540.39l1.5 -1.5l1.5 1.5l-1.5 1.5zm-1 0h5" fill="none" stroke="#000" stroke-width="0.75"/>
<path d="M392.8 536.18l1.5 -1.5l1.5 1.5l-1.5 1.5zm-1 0h5" fill="none" stroke="#000" stroke-width="0.75"/>
<path d="M394.1 532.62l1.5 -1.5l1.5 1.5l-1.5 1.5zm-1 0h5" fill="none" stroke="#000" stroke-width="0.75"/>
<path d="M395.4 529.07l1.5 -1.5l1.5 1.5l-1.5 1.5zm-1 0h5" fill="none" stroke="#000" stroke-width="0.75"/>
<path d="M396.7 525.62l1.5 -1.5l1.5 1.5l-1.5 1.5zm-1 0h5" fill="none" stroke="#000" stroke-width="0.75"/>
<path d="M398 522.25l1.5 -1.5l1.5 1.5l-1.5 1.5zm-1 0h5" fill="none" stroke="#000" stroke-width="0.75"/>
<path d="M399.3 519.05l1.5 -1.5l1.5 1.5l-1.5 1.5zm-1 0h5" fill="none" stroke="#000" stroke-width="0.75"/>
<path d="M400.6 516.75l1.5 -1.5l1.5 1.5l-1.5 1.5zm-1 0h5" fill="none" stroke="#000" stroke-width="0.75"/>
<path d="M401.9 514.46l1.5 -1.5l1.5 1.5l-1.5 1.5zm-1 0h5" fill="none" stroke="#000" stroke-width="0.75"/>
<path d="M403.2 512.76l1.5 -1.5l1.5 1.5l-1.5 1.5zm-1 0h5" fill="none" stroke="#000" stroke-width="0.75"/>
<path d="M404.5 511.57l1.5 -1.5l1.5 1.5l-1.5 1.5zm-1 0h5" fill="none" stroke="#000" stroke-width="0.75"/>
<path d="M405.8 510.39l1.5 -1.5l1.5 1.5l-1.5 1.5zm-1 0h5" fill="none" stroke="#000" stroke-width="0.75"/>
<path d="M407.1 509.2l1.5 -1.5l1.5 1.5l-1.5 1.5zm-1 0h5" fill="none" stroke="#000" stroke-width="0.75"/>
<path d="M408.4 508.57l1.5 -1.5l1.5 1.5l-1.5 1.5zm-1 0h5" fill="none" stroke="#000" stroke-width="0.75"/>
<path d="M409.7 507.95l1.5 -1.5l1.5 1.5l-1.5 1.5zm-1 0h5" fill="none" stroke="#000" stroke-width="0.75"/>
<path d="M411 507.32l1.5 -1.5l1.5 1.5l-1.5 1.5zm-1 0h5" fill="none" stroke="#000" stroke-width="0.75"/>
<path d="M412.3 506.7l1.5 -1.5l1.5 1.5l-1.5 1.5zm-1 0h5" fill="none" stroke="#000" stroke-width="0.75"/>
<path d="M413.6 506.38l1.5 -1.5l1.5 1.5l-1.5 1.5zm-1 0h5" fill="none" stroke="#000" stroke-width="0.75"/>
<path d="M414.9 506.12l1.5 -1.5l1.5 1.5l-1.5 1.5zm-1 0h5" fill="none" stroke="#000" stroke-width="0.75"/>
<path d="M416.2 505.86l1.5 -1.5l1.5 1.5l-1.5 1.5zm-1 0h5" fill="none" stroke="#000" stroke-width="0.75"/>
<path d="M417.5 505.6l1.5 -1.5l1.5 1.5l-1.5 1.5zm-1 0h5" fill="none" stroke="#000" stroke-width="0.75"/>
<path d="M418.8 505.34l1.5 -1.5l1.5 1.5l-1.5 1.5zm-1 0h5" fill="none" stroke="#000" stroke-width="0.75"/>
<path d="M420.1 505.16l1.5 -1.5l1.5 1.5l-1.5 1.5zm-1 0h5" fill="none" stroke="#000" stroke-width="0.75"/>
<path d="M421.4 505.07l1.5 -1.5l1.5 1.5l-1.5 1.5zm-1 0h5" fill="none" stroke="#000" stroke-width="0.75"/>
<path d="M422.7 504.99l1.5 -1.5l1.5 1.5l-1.5 1.5zm-1 0h5" fill="none" stroke="#000" stroke-width="0.75"/>
<path d="M424 504.9l1.5 -1.5l1.5 1.5l-1.5 1.5zm-1 0h5" fill="none" stroke="#000" stroke-width="0.75"/>
<path d="M425.3 504.81l1.5 -1.5l1.5 1.5l-1.5 1.5zm-1 0h5" fill="none" stroke="#000" stroke-width="0.75"/>
<path d="M341 612 L349 607.4 L360.8 600.4 L367.1 594 L370.6 584.4 L372.9 571 L375.8 553.7 L378.1 534.4 L380.6 518.1 L383.1 508.1 L385.4 504.2 L390 503.8 L420 504 L493 505" fill="none" stroke="#000" stroke-width="1.1" stroke-linejoin="round"/>
<circle cx="367.1" cy="594" r="2.0" fill="#000"/>
<circle cx="370.6" cy="584.4" r="2.0" fill="#000"/>
<circle cx="372.9" cy="571" r="2.0" fill="#000"/>
<circle cx="375.8" cy="553.7" r="2.0" fill="#000"/>
<circle cx="378.1" cy="534.4" r="2.0" fill="#000"/>
<circle cx="380.6" cy="518.1" r="2.0" fill="#000"/>
<circle cx="383.1" cy="508.1" r="2.0" fill="#000"/>
<circle cx="385.6" cy="504.2" r="2.0" fill="#000"/>
<path d="M385 502.7L491.6 503.8L491.6 510L437 507.6L414 506.2L385 505.3Z" fill="#0a0a0a"/>
<rect x="340.2" y="500.8" width="153.8" height="115.8" fill="none" stroke="#000" stroke-width="1.8"/>
<text x="346.5" y="520.5" font-size="11">Iono</text>
<path d="M354.5 523.5C353.5 528.5 357 530.5 366 529.6L379 527.4" fill="none" stroke="#111" stroke-width="0.9"/>
<text x="436.3" y="528.5" font-size="11">PGN</text>
<text x="448.5" y="535.2" font-size="9" text-anchor="middle">+</text>
<text x="430.6" y="542.3" font-size="11">plasma</text>
<path d="M391.2 546.8L414 551.3L437.3 552C445 552 449.6 550.8 448.6 548.2C448 546.6 447 545.8 446 545.2" fill="none" stroke="#111" stroke-width="0.9"/>
<text x="417" y="579.2" font-size="11">buffer</text>
<path d="M406.5 568.6C407.6 572 408.4 574.6 413.6 576.8" fill="none" stroke="#111" stroke-width="0.9"/>
<text x="399.8" y="600.8" font-size="11">PGN</text>
<path d="M395 585.4L411.3 584.8C414.5 585 416 586.4 415.6 588.4C415.2 590 413.8 590.6 412.3 590.8" fill="none" stroke="#111" stroke-width="0.9"/>
</g>
</svg>
</body>
</html>
